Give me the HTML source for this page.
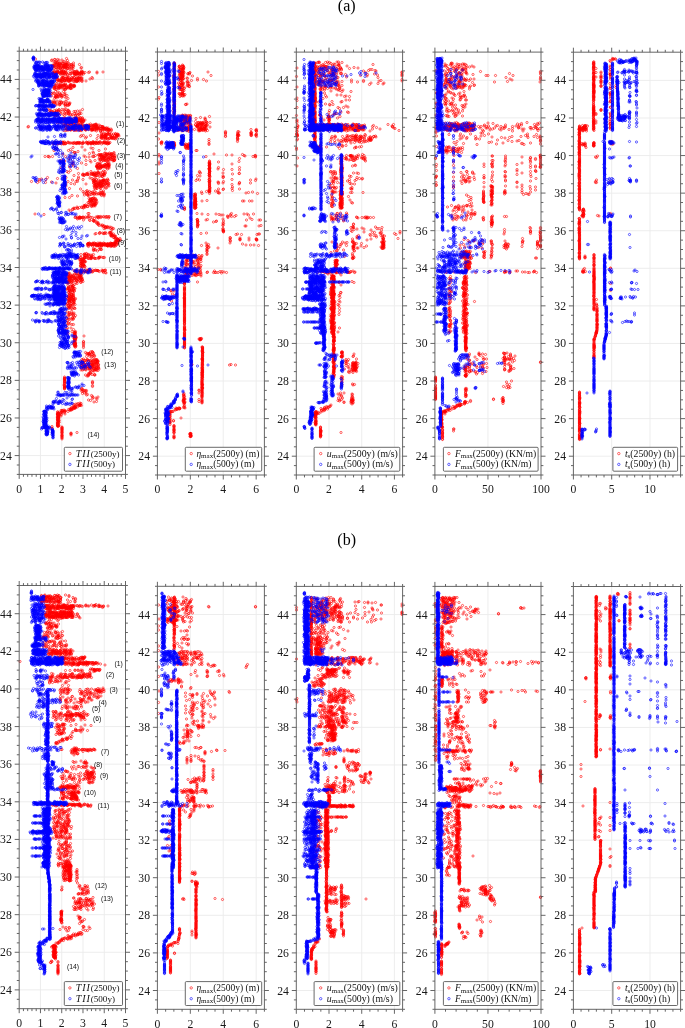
<!DOCTYPE html>
<html><head><meta charset="utf-8"><style>
html,body{margin:0;padding:0;background:#fff;width:685px;height:1028px;overflow:hidden}
svg{display:block}
.tk{font-family:"Liberation Serif",serif;font-size:11.7px;fill:#1a1a1a}
.ttl{font-family:"Liberation Serif",serif;font-size:16px;fill:#000}
.lg{font-family:"Liberation Serif",serif;font-size:10px;fill:#111}
.sb{font-size:7px;font-style:normal}
.an{font-family:"Liberation Sans",sans-serif;font-size:6.8px;fill:#111}
</style></head><body>
<svg width="685" height="1028" viewBox="0 0 685 1028">
<defs>
<marker id="mr" markerUnits="userSpaceOnUse" markerWidth="8" markerHeight="8" refX="4" refY="4" overflow="visible"><circle cx="4" cy="4" r="2.2" fill="none" stroke="#f00" stroke-width="1.2"/></marker>
<marker id="mb" markerUnits="userSpaceOnUse" markerWidth="8" markerHeight="8" refX="4" refY="4" overflow="visible"><circle cx="4" cy="4" r="2.2" fill="none" stroke="#00f" stroke-width="1.2"/></marker>
</defs>
<path d="M40.46 51.20V474.40M61.72 51.20V474.40M82.98 51.20V474.40M104.24 51.20V474.40M19.20 455.59H125.50M19.20 417.97H125.50M19.20 380.36H125.50M19.20 342.74H125.50M19.20 305.12H125.50M19.20 267.50H125.50M19.20 229.88H125.50M19.20 192.27H125.50M19.20 154.65H125.50M19.20 117.03H125.50M19.20 79.41H125.50" stroke="#ebebeb" stroke-width="0.9" fill="none"/>
<path d="M190.32 52.00V475.00M223.25 52.00V475.00M256.17 52.00V475.00M157.40 456.20H264.40M157.40 418.60H264.40M157.40 381.00H264.40M157.40 343.40H264.40M157.40 305.80H264.40M157.40 268.20H264.40M157.40 230.60H264.40M157.40 193.00H264.40M157.40 155.40H264.40M157.40 117.80H264.40M157.40 80.20H264.40" stroke="#ebebeb" stroke-width="0.9" fill="none"/>
<path d="M329.01 52.10V475.00M361.72 52.10V475.00M394.42 52.10V475.00M296.30 456.20H402.60M296.30 418.61H402.60M296.30 381.02H402.60M296.30 343.43H402.60M296.30 305.84H402.60M296.30 268.25H402.60M296.30 230.66H402.60M296.30 193.07H402.60M296.30 155.48H402.60M296.30 117.88H402.60M296.30 80.29H402.60" stroke="#ebebeb" stroke-width="0.9" fill="none"/>
<path d="M487.95 52.10V475.00M434.90 456.20H541.00M434.90 418.61H541.00M434.90 381.02H541.00M434.90 343.43H541.00M434.90 305.84H541.00M434.90 268.25H541.00M434.90 230.66H541.00M434.90 193.07H541.00M434.90 155.48H541.00M434.90 117.88H541.00M434.90 80.29H541.00" stroke="#ebebeb" stroke-width="0.9" fill="none"/>
<path d="M611.69 52.20V475.00M649.97 52.20V475.00M573.40 456.21H680.60M573.40 418.63H680.60M573.40 381.04H680.60M573.40 343.46H680.60M573.40 305.88H680.60M573.40 268.30H680.60M573.40 230.72H680.60M573.40 193.13H680.60M573.40 155.55H680.60M573.40 117.97H680.60M573.40 80.39H680.60" stroke="#ebebeb" stroke-width="0.9" fill="none"/>
<path d="M40.46 585.50V1008.70M61.72 585.50V1008.70M82.98 585.50V1008.70M104.24 585.50V1008.70M19.20 989.89H125.50M19.20 952.27H125.50M19.20 914.66H125.50M19.20 877.04H125.50M19.20 839.42H125.50M19.20 801.80H125.50M19.20 764.18H125.50M19.20 726.57H125.50M19.20 688.95H125.50M19.20 651.33H125.50M19.20 613.71H125.50" stroke="#ebebeb" stroke-width="0.9" fill="none"/>
<path d="M190.32 586.30V1009.30M223.25 586.30V1009.30M256.17 586.30V1009.30M157.40 990.50H264.40M157.40 952.90H264.40M157.40 915.30H264.40M157.40 877.70H264.40M157.40 840.10H264.40M157.40 802.50H264.40M157.40 764.90H264.40M157.40 727.30H264.40M157.40 689.70H264.40M157.40 652.10H264.40M157.40 614.50H264.40" stroke="#ebebeb" stroke-width="0.9" fill="none"/>
<path d="M329.01 586.40V1009.30M361.72 586.40V1009.30M394.42 586.40V1009.30M296.30 990.50H402.60M296.30 952.91H402.60M296.30 915.32H402.60M296.30 877.73H402.60M296.30 840.14H402.60M296.30 802.55H402.60M296.30 764.96H402.60M296.30 727.37H402.60M296.30 689.78H402.60M296.30 652.18H402.60M296.30 614.59H402.60" stroke="#ebebeb" stroke-width="0.9" fill="none"/>
<path d="M487.95 586.40V1009.30M434.90 990.50H541.00M434.90 952.91H541.00M434.90 915.32H541.00M434.90 877.73H541.00M434.90 840.14H541.00M434.90 802.55H541.00M434.90 764.96H541.00M434.90 727.37H541.00M434.90 689.78H541.00M434.90 652.18H541.00M434.90 614.59H541.00" stroke="#ebebeb" stroke-width="0.9" fill="none"/>
<path d="M611.69 586.50V1009.30M649.97 586.50V1009.30M573.40 990.51H680.60M573.40 952.93H680.60M573.40 915.34H680.60M573.40 877.76H680.60M573.40 840.18H680.60M573.40 802.60H680.60M573.40 765.02H680.60M573.40 727.43H680.60M573.40 689.85H680.60M573.40 652.27H680.60M573.40 614.69H680.60" stroke="#ebebeb" stroke-width="0.9" fill="none"/>
<path transform="scale(.5)" d="M133 117l-18 2-5 0-1 0-38-1 32 3 1-1 10 2 4-2 6 0 4 3 7-2 12 5-10 0-2 0-3-2-6 0 0 3-5-1-2 1 0-1-4 0 0-1-2 1-1-1-2-1-2 0-2 7 0-1 2 1 2-2 0-1 2 3 1-2 3-1 0 2 1 1 1-1 1 0 1 1 1-2 1-1 2 3 1-3 2 3 1 0 2-2 0-1 1 0 0 3 1-2 0 1 1-1 0 2 1-2 1 1 5 0 2-1 1 0 1 2 3-1 12-1 4 6-16-2-1-1-7 0 0 3-2-2-3 1-2 0 0 1-1-2 0-1-1 2 0 1-1-3-1 2 0 1 0-3-1 1 0 1-3 0-3 1-1 0-2-1-1 1 0-3-3 1-2 2-4-3 0 2-1-1 1 4 4 2 1-3 3 2 4-1 1 0 3 2 1-2 9 1 1-1 1 0 4 0 3 0 1-1 2 1 16-1 3 7-2-1-9 0-1 1-3 0-2 0-3 0-5 0-9-2-1 2-3-1-1 1-2-1-2 1-3-1-3 1-1 0-7 0-2 1 1 1 1 1 1-2 1 2 1 1 1-1 0 1 0-2 1-1 1 1 1 1 1-2 0 1 4 1 0 1 1-1 1-1 1-1 1 1 1 2 1-3 1 1 2 1 1-1 1 0 2 2 0-2 7 2 2 0 3-1 2 0 1-2 1 2 1 1 1-2 2 2 1-3 1 1 0 1 0 1 2-2 0 2 1 0 2-1 0 1 2-2 0 1 1 1 0-2 0-1 3 1 0 1 4-1 7 0 2-1 15 0 0 2 12-2-39 4-4 0 0 2-4-1-3-1-1 0-2 0 0 1-2 0 0-1-1 0-1 2 0-2-8 1-6 1 0-1-4 0-2-1-1 0-2 0-2 0-3 1-9-1 0 1-5-1 8 6 9 1 2 0 0-1 1 1 6 0 3 0 2 0 6 0 4 0 1 0 8 0 2-2 25 2 1 2-5 1-16-2-1 1-1-1-2 1-1-1-1 0-1 3-1-3-1 3-1-3-1 0-1 2-1 1-5-3 0 2-3-2-1 3-2 0 0-1-3 1-2-2 0-1 0 3-1-2-3 0-1 0-3-1-1 3 0-1-1 0-1 0-1-1-7 2-1 0-2-3 1 7 2-3 0 1 3-1 0 2 1 0 1-2 0 1 1 1 0-1 1 2 1 0 4-1 1 0 0-1 1-1 0 1 2-1 1 0 1 2 3-2 0 2 0-1 1 2 2-1 0-1 1-1 2 0 3 2 2 1 2-3 1 1 0 2 1-3 1 3 1 0 0-1 1-1 1 1 0-1 3 1 1-2 4 1 0-1 0 3 8-1-48 2-16 5 4 1 1-2 5 0 1 2 2-1 0 2 3-1 3 0 0 1 1-1 1-1 1 2 1-3 1 2 8 0 1-1 0 1 1 1 1-2 4 2 1-1 1 1 0 1 0 1-2 0 0-1-1 0-4 0-2 0 0 2-1 1-1-1-1-1-2 1-2-2 0 3-3 0-1-3-4 0-1 2 0-2-2 0-1 2-1-2-1 3-1-1 0-1-1 0 0 2-4-3 0 3-3 0 0-3 0 2-2 0 0 1 0 2 1 0 3 2 1-1 5-2 0 1 4-1 4 0 2 2 1 1 2 0 0-1 2-2 1 0 3 0 3 0 1 0 0 1 1 0 2-1-17 7-16 0-9 4 1 0 3-1 2 1 8-3 3 2 11 0 4 5-4-1-1-1-5 2-1 0-1-3 0 3-1-2-3 1-1 0-3-2-1 3-1 0-1-2-8 3 7 2 1-1 0 1 1 1 1-2 2 1 1-1 1 1 6 0 1 0 5-1 7 4-4-1-23 1-3 5 8 0 6 0 11 1 2 0 7 3-2 0-11-1 0 2-4-2 0-1-1 2-3-1 0 1-9 0 0-2-1 0 0 2-3 0-3-2 0 3 1 4 8-1 2-2 5 2 1-2 0 1 10 1 1-2 0 2 3 0 1-2 1 3 2-2 0 1 1-2-8 5-25 0-3-1-7 6 22 1 6 0 4 0 4 0 33 0-5 3-5 0-4 1-3 0-9 0-2-1-1-1 0-1-5 3-2-2-7 2-4-3-1 2-1 0-2 0-1-2 0 3-4-2-5 2-1-1-3-1 0 1 0 3 4 1 2-1 3-1 2 2 0-1 0 2 9-2 8 1 5 0 3 1 0-3 2 3 1-2 11 2 9 0 3 0-3 1-2 1-2 2-2-3-2 2-6-1-1 1-3-1-3 0-5-1-4 3-2-2-6-1-5 0 0 1-2 2-1-2 0 2-2-3-2 3-1-2 0-1-11 1 13 3 41 0 9 3 5 4 0-3-1 0-3 0-1 2-2-1-1 2 0-1-3 0 0-1-1-1-1 1-1 1-1 0 0-1-1 0-2 0-6 1-1 0-1 1-1 0-1-1-1 0-6-2 0 3-1-1-1 0 0 1-1-1 0-1-1 1-1 1-6 0-2 4 1-3 0 3 1-3 1 3 1-2 0 2 0-1 2-2 2 0 4 0 5 1 1-1 0 1 1 0 2-1 0 1 2 0 0 2 3-2 1 1 0 1 1-1 0-1 2 1 0 1 1 0 5 0 1-1 0 1 1-2 1 1 0-1 2 1 2-1 1 0 1-1 0 2 0-1 1 2 1-1 2-2 1 0 0 2 0 1 3-3-4 4-1 1-2 0-1-1-6 0-4 0-3 1-2 0 0 1-5-1-3-1 0 3-5-3-1 1-1 2-1-3-2 0-6 1-2-1-2 0-4 2 12 3 1 1 1 1 1 0 5 0 0-2 2 0 4 1 0-2 2 1 1 2 3-3 3 3 1-1 1 1 4-3 1 3 0-3 1 3 3-3 0 2 2 1 1-1 2 0 4 1 3-1 2 1 2-1 3 1 1-3 5 3 0-1 1 1 1-1 2-1 1 2 1-2 0-1 1 3 1-1 4 0 8 3 0 2-1-1-1-1-2 0-1-1-6 2-1 0 0-1-2 0 0-1-2 1 0 2-2-3-1 3-1-2-3-1-1 3-1-3-1 3-2-1-1 1 0-3 0 2-2-2-1 2-2-2-3 2 0 1-1-2-5 2-1-2-1 0-1 2-1 0-1-3-2 1-1-1-4 0 0 3-1-3 0 1 0 2-1-3-1 3-1-1 0-1-3 2-4-1-3-2-1 3-4-3-75 1-1 1 75 3 1 1 2-2 0 2 1 0 1 0 1-1 1 0 1-1 0 3 1-1 1-1 0 1 1-2 0 2 2 0 1 0 1-1 2 0 1 1 0-2 0 3 1-1 2 0 2 1 4-2 1-1 0 2 1 0 5 0 5 0 1-2 0 1 0 2 0-1 4-1 2 2 2-1 4 1 0-2 1 2 1 0 0-1 1 1 1-2 1 0 1 2 3-3 1 0 0 2 1-2 0 1 1-1 1 2 1 0 1-2 0 1 2 0 2 0 2 1 1 0 1-2 1 0 0 3 1-3 0 1 1 2 2-1 0-1 1-1 1 0 2 2 1 1 0-3 1 3 1 0 4-1 1 2-1 2-3-2-1 0-1 1 0-1-2 1-2-1-1 0-7 2-3-1-1 1 0 1-8-1-1-2-3 0-3 0-2 0-1 1-11-1-1 0-8 1 0-1-3 1-1-1-4 0-3 1-4 0-6-1-1 0-4 0-2 0-3 1-4 0 75 6 6 0 7 0 0-1 3 0 12 1 6 2-1 2-1-1 0-1 0-1-1 3-1-1 0 1-1-2-1-1-2 3-2-3-4 0-3 2 0-1-2 0-2-1-2 1-1 1-1 0 0-1-1-1-1 3-3-3-2 3-1-2-1 1-7 1-15 0-14 0-4 0-2 2 12 1 29-1 0 2 1-1 1-2 2 3 0-2 2 0 1 2 1-2 0-1 0 3 1-3 0 2 1 0 1 1 9 0 0-2 1 2 0-1 1 1 1-3 1 3 3-3 3 1 2 0 4-1-5 4-2 2-1-2-1 1-2 0-1-1-2 1-2-1-3 1 0-1-2 2-2 1 0-3-3 1-1 1-4-1-3 0-2-1-8 1-23-1 15 7 23 0 11 2-2 1 0 1-1 0-1-2-1 2-1-2-2 2 0-1 0-1-2 1-2-1 0-1 0 2-1-1-2 1-4-2-1 0-1 0-1 3-1-1-1 0-1-2-1 3-1-2-1-1 0 3-1-2-2 0-2 0 0 2 0-1-1-1 0 1-1 0-2 1-1-2 0 1-1 0 0 1-3-3-1 2-1 1-1-1-1-1-1-1-1 2-5 0-1-2 0 2-1 1-1 0-4-2 0 1-1 1-1-1-1-1 0 1-2 0-1-1 0 1-1 1-1 0-2-1-1-1-2 2 0-1-2 0-3 0-2 0-2 0-2-1 0-1-4 3-1 0 0-1-2-2-1 3-1 0 0-2 0 1-1-2-1 1-1 0-3 1-1 1 0-2-2 1-1-1-3 0 0 2-2-2-2 0-1 1-1 1 0-2-2 2 10 1 7 0 4 0 3 0 46 0 6 0 7 0 14 0 12 0-51 6-18 1-33 2 28 2 41-3 4 1 25 1-13 3-28-1-14 3-11 0-8-2-29 0 41 4 1 1 0-1 29 2 7-3 1 2 22 1 1-1 3 1 6-1 5 1 4-2 0 2 2 4-4-2-2 2-1-3-1 0 0 1-1 0-2-1-1 2-2-2-1 1-1 0 0 1-2 0 0-2-4 3-4-2-1 1-1-1 0 2-1-1-1 0-1 1-1-2-1 1-6 1-65-3-36 5 6 0 1 0 2 1 6-1 26 0 10-1 27 0 3 2 7 0 7-1 2 0 1 0 11 2 4-3 0 3 3-2 0 2 0-1 1-1 0 2 1-1 1 1 1-3 0 2 2 0 1 1 2 0 3 0 3-2 1 1 1-2 1 3 1 0 1-1 2-2 0 3 1-1 1 0 0 4-6 1-1-1-2 0-3-2-1 2 0 1 0-3-6 2-2 1-2-2-2 0-1-1-2 0-1 2-3 0-60 0-16 3 7 1 43-1 8 0 10 0 10-1 1 0 2 3 1-3 2 1 2-1 2 1 1 0 2 0 1-1 2 2 4-2 6 0 0 2 2-1 0-1 1 0 0 1-11 5-2-1-2 2-16-1-3 1-13-3-19 2-17-2-18 7 16-3 2 0 26 1 22-1 1 3 2 0 1-2 2 0 0-1 2 2 5 1 2-1 1-1 1 1 2-2 0 3 2-2 1 1 0 1 1-2 1 2 1-2-1 3 0 2-1-2-5 1-1 0 0 2-2-2-2 0-1 1-1-1 0-1-2 2 0-1-1 1-1-2 0 3-1-2-1 2-4-1 0-1 0 2-1-1 0-1-1-1 0 1-46-1-8 2-16 2 32 1 40 1 2 0 1-2 3 1 0-1 13 0 1 2 3-2-8 7-3-1-25 1-41-2-7 2 3 2 20 2 17 0 2-1 7 0 4 1 2-2 3 1 1 1 3-3 0 2 0-1 2 1 3 0 4-2 6 2-2 2 0 3-1-2 0-1-1 0-1 1-2 1-4-2-1 3-5-3 0 3-1 0-2-3-1 3-1-3-1 0 0 1-1 1 0-2-1 0-1 0-1 1-1-1-4 2-3-1-1 0-2 0-1-1-3 2-1 1 0-1-2-1 0-1-1 2-17 1-53 4 37 0 25-1 33-1 2-1 7 1 5 0 1 0 0-1 10 6-22 1-1 0-4 0-1 0-3-2-4-1-14 3-9-2-42 0-23 2-9-1-5 1-15 4 16-1 57 1 9-3 7 3 3-3 0 3 31-2 1 1 1 1 1-1 1-1 7-1 3 2 2 0 1 1 0-1 3-2 0 2 0-1 1 0 0-1 0 2 1-2 0 2 2-2 2 1 1 1 3-2 0 1 2 6-2-2-3 0-1 2 0-1-1 1-4-2-1 1-1-1-1 0-1 2-1 0-2-3 0 3-2 0-1-3 0 2-3-1-2 0-1 0 0-1-1 3-2-3 0 3-1-1-45 1-30-1-9-2-12 1-16 0 57 3 17 0 23 0 18 3 0-2 2 1 1-1 1 2 1 0 1 0 1-3 1 1 0-1 2 0 0 3 2-1 2-2 0 2 3-1 1 1 3-1 2 2 3-3 1 0 1 4-2 0-9 2-1-2-1 0-3 0 0 1-1-1-2 2-5-2 0 1-2 1-2-2-1 2-1-2-56 0 7 5 22 1 28-1 2 1 3-1 0-1 6 0 1 0 10 0 2 0-6 6-5-1-14 2-9 0-5-2-2 2-6 0 2 3 5 0 2-2 2 1 5 0 3-1 0 3 2 0 3 0 2-2 6 2 2-2 3 1 2 1 0-2 1 0 3 3-1 2-1-2-4 1 0 2-2-3-1 0-4 0-3 0-4 1-3-1-4 1-3 1-3 1 0-1-1-1-2-1-4 2-25 1-14 4 9 0 16-3 53 0-17 5-2 1-1-2-1 0-2 2 0-1-1 0-2 1 0 1-1-1-1 1-2-2 1 5 1 1 0-1 2 0 1 0 1 1 0-1 2-1 0 1 4-1 1-1 1 0 1 0 1 4-1 3-2 0-1-1 0-2-2 2-3 0-7-1-2 0-8 6 3-1 0 1 6-1 3-2 3 0 0 3 1-2 2 1 2-2 0 2 1-1 1 1 1-1-1 3-3 0-3 0-1 1-7 0-1 0-4 0 0 1-2-2-1 1-1 2-3 0-1-1-4 1-5-1-9 4 1 1 2-2 0-1 3 1 4-1 1 1 11-1-26 6-3-2 38 7 2 0-90 2-18-1 80 7 1-1 4 0 4 0 0 1 1-1 0 1 2 0 2 0 1 0 1-1 1 1 4-1 4 1 1-2 1 1 2-1 3 2 3 0 7-1 3-1 1 2 0-1 2-1 3 0 0 2 2-1 4-1 1 1 4-1 0 2 2-2 4 0 0 1-1 2-20 0-8 1-19-1-9 0-1 0-1 1-3-1-1 2-1-2 13 4 12 0 1 1 6 0 1 0 1 0 0 2 0-1 4 0 4 3 0 2-2-1-1 0 3 3 1-1 1 3 4-1 3 0 18 5-3-1-3 1-2-2 0 2-1-1-2 0-1 1 0-1-2-2-2 0 0 1-3-1 4 5 3-1 10 1 3 2 1-2 2 0-35 10 7 0 0-1 1-1 5 1 2 1 1 0 1-1 2-1 1 2 7-2 0 2 1-2 1 1 1-2 0 1 5 3-2 2 0 1-1-2 0 1-2 1 0-1-32-2 32 4 1 0 4 3 1 0 1-3 0 1 1 0 1-1 9 5-3 2-2 0 0-1-1-1 0 1-2 1-1-2-1-1 0 7 2 0 0-1 1 0 1-1 2 1 0-2 1 1 0-1 2 1 2-1-5 5-1 1-3-2 0 2-2-1 0 2-1 0-3 0-2 0-1 0-2-1 0 1-5 0-6 0-3-1-4 1-2 0-1-1-4 0-4 1-3-1 0 1-3-1 0 1-7-1 0 1-2 0-1 0-1 1 0 3 1-2 0-1 1 2 0-2 1 0 0 2 3-2 1 1 1 0 0 1 0-2 2 0 2 1 0 1 1-1 3 1 1-2 0 1 1 1 0 1 2-2 1 2 0-1 1 0 0-1 1 1 0-2 1 0 1 1 0 1 1-2 1 2 1-1 0 2 1-2 1 1 1-2 1 0 1 1 0 1 1-2 0 2 2 1 1-1 0-1 1-1 1 2 0 1 1 0 0-3 0 2 0-1 1 0 0 1 1 1 1-1 0-1 1-1 1 2 0 1 2-3 0 2 1-2 0 1 1 2 1-3 0 3 0-1 1-1 1-1 0 2 1-2 0 1 1 2 0-3 0 1 1 1 2-2 1 2 3-2-5 4-3 1-4-1-1 0-2 1-5-1-1 0-11 0-1 0-4 0-3 0-4 0-7 0-8 1 10 4 0 2 3 0 8 0 2-3 1 2 1 1 1 0-8 3-4-2-3 0-1 1-14 6 14 2-3 1-4 0-3-1 0 2-1-1-3-2 0 3-2 0-1-3 0 3-1 0 0-3-1 1-6 0-7 6 6 0 1 0 6 0 1 0 1 0 2 0 2-1 2 1 6-1 0 1 1-3 0 3 1-1 13 1 1 0 1-1 0 1 3-1 4 1 1 0 2 0-12 2-5 0-2 0-1-1-1 0-5 1-1 0-1 0-3 0-2 0-7 0 0-1-2 1-1 2-3 0-1 0-3 0-1-3-4 0 7 4 0 3 2 0 2-3 0 1 1 2 1 0 0-3 2 2 2 1-1 1-1 0-4 0-2 0 0 2-1 0 0 1-1 0 0 4 2-1 1-1 1 0 1 0 1 0 0 1 1 1 0-1 2 3-1 0-3-1-1 1 0 2-1-2-2 1-1-2 10 7 8 0 32 1-1 1-1 0-3 0 0 2-1-1-1-2-5 3-2-1-1-1-1 0-1 0-1 0-2-1-1 1-3 1-2-2-1 3-3-2 0 1-2 1-2-1 0-2 0 1-1-1-3 2-1 1-1 0-2-2-3 1-1 0-4 1 0-2-1 2-1-2-5-1-1 2-2 1-1 0-2-2-10 5 1 1 13 0 4 0 3-1 1-1 1 2 2 0 0-3 3 0 4 0 4 0 8 0 3 0 22 1 4 0 1 1-50 5 0-1-3 1-3 0-2-1-2-2-3 0-2 3-3-1-3 1-4-2 0-1-2 0 0 4 0 2 2-1 1 0 0 2 1-2 0 1 1 0 2 1 0-1 1-2 0 1 3 0 2 2 0-3 1 3 3 0 4-1 3-2 0 3 1-3 0 1 1 2 1-3 1 3 1 1 0 3 0-1-2-1-1 1-2-2-2 3-1-2-3 0-1-1-1 3-1-2-2 0-2 1-2-1-3-1-1 3 0-2-2 2-1-3-2 3 2 4 1-3 0 2 0-1 1-1 3 0 2 1 0 2 2 0 2-2 5 1 0-2 1 1 1 2 4-2 1-1 3 2 2-2 1 3-4 2-1-1-7 3-2-2-9 0-1-1-3 0 0 1-1 0-2-1 0 1-2 1-1-1 3 6 8-2 2 2 1 0 2-2-3 5-1 0-1-2 0 2-3-2-1 1-3 1-2 3 1 1 0-1 1-1 1 1 1 1 3 0 4 1 0-3 1 3 1-2 2 0-1 5-1 0-2-1-3-1-1 0-1 2-1 1-1-2 0 1-4-2 2 5 1 0 1 2 6-3 1 1 1 3 0 3-1 0-2-2-1 1-1-1-2-1-1 3-1 0-5 4 3-2 1-1 1 3 2-1 1-1 0 1 1 0 2-2 2 1 1 2 0-1 4 3-1 2-2-1-2 1-1-1 0 1-1-2-2-1 0 1-2 2-1-3-1 3-1-1-2-1 2 5 1-1 1 1 0-1 1-1 0 1 2 1 1-1 0 2 4-3 1 2 0 1 0 3 0-2-1 3-1-2-4 2-3-3 0 1-2-1-2 3-2 2 2-1 2 3 1-1 3 0 0 1 1-1 2 1 2-2 4 0-3 6-7-1-1-1-2 1-2 1 2 2 1-1 2 0 3 1 2 1 4-2 1 1-7 6-8 1 3 1 0 2 5-1 5 0 3 5-4-3-2 0-1 2-4-1-2 0 0 1-4 2 4 3 9-3 2 2-2 4-1-2-1 0 0 3-2-1-5 0-2 0-3-2 1 5 5 2-2 3-4-2 1 7 2-3 4 0 4 1 3 0-14 9 2-2 7 0 5 3 4 4-7 0-10 0 0 3 2 1 12-1 1-1 1 0 0-1 0 2 1 1-1 2 0 2 0-1-1-1 0-1-1 6 0-2 1 1 0-1 0 2 0 1 1-3 0 2 1-2 0 2 1 1 0-1 16-2-16 4-1 3 0-3 0 2 0-1-1 0 0-1-1 1 0-1 0 2-1-1 1 4 0-1 1 2 1-1 16 2 0 1 0 3-16 0 0-1-1 1 0-3-1 1 0-1-1 0 0 3 0 1 0 1 1 0 0 2 1-3 1 3 0-1 0-2 16 1 0 3 0 3-15-3-1 2-1 0-1-2 35 11-13 2 2 2 2 0 3 0 1 0 2-3 4 0 1 1 1 2 2 4-2 0-2-2-3 0-3 0 0-1-2 0-1 0-3 5 6-1 4 3 1-2 5 0 5 6-2 0-3 0-15 0-7-1-3 1-2 4 3-2 3 0 2 0 3 0 2-1 1 0 2 1 3 1 0-1 3 1 2 0 1-2 1 0 4 0 1 2 1-1 0 1 1 1 1 0 0-1-1 3-1 1-2 1-1-3-1 0 0 2-1 0-3-1-2 2-1-2-1-1-11 1-3-1-2 2-2-1-1 6 1-1 1-2 1 2 4 0 0-1 3 0 4 0 0-1 1 0 2 1 2 1 2 0 0-1 1 1 0-1 2-1 0 3 3-2 3 0 2-1 2 2 0-1 0 6-1-2-1 2-2-1 0 1-1-1-2-2-3 1-2 2 0-3 0 2-2 1-1-1-1 0-2-1 0 1-4-1-2 0-1 1-1-1-1 0 0-1-1 1-1 2-2-2 0 1-4-2 1 4 4 3 2-2 2 2 4-2 2-1 1 0 1 1 0 1 4-2 5 1 0 1 2-1 0 2 1 0 1 0 0-1 1 1 4-3 1 2-2 3-3 0-5 1-2 0-1-1-3-1-2 1-8-1-7 0-3 0 15 7 2 0 1-2 1 1 0 1 9 3-1-1 0 1-5-1-6 0-1 0 0 2-6-1-42 4 45-2 2 0-46 5-1-1 0 1 0 2 0-1 0 2 0 3 0-1 1 1 55 0 0 3 0-1-56 1 0-1 0 2-1 3 1 0 0 1 56 0 0 2-55 1-1-1 0 2 0-1 0 2 0 2 0-1 34 1 1-1 1 2 8 2-1 2-1-2-2 0-2 0-1 1-2 1-2-3 3 7 4-1 3 0 11 5-8-2-2 1 12 3 1 2 10-1-2 4-2-2-7 1-8 3 4 1 12 2-5 1-26 3-2-1-4 1-9 4 1-2 4-1 2 1 4 1 1 1 0-1 1-1 0 2 0-1 1 0 2 1-8 3-2-1-2 1-1-2 0 2-1 0 0 1-2-1-4 1-6 4 3-1 0 1 1 0 1-2 1 2 1-3 0 2 2 0 1-1 1-1 1 0 1 0 1 0-8 4-3 1-4 2-5-1-1 0-1 1 0-1-1-2-2 2-1-1-1 0-1 2-1-2-7 3 0 3 1-3 0 3 1-1 0 1 1-1 3 1 1-2 2-1 0 2 5-1 1 3-7 1-4 0-1 2-1 0 0-3 0 2 0-1-1-1 0 2 0-1-1-1 0 2 0-1 0 4 0 2 0-1 1 1 0-1 1 1 0-1 1-2 4 0-4 4-1 1 0-1-1 1 0-1-1 2 0 1 0 4 0-3 1 0 0 1 1 0 1-1 0 1 0 4 0-1-1 0-1 3 0-1-1-1 0 2 0-1 0 3 0 2 0-1 1 1 0-1 1-1 1 2 6 3 0 1-7-3-1 1-1-1-11 1 0 4 0-1 20 2 0-1 0 2 0-3 0 5 0-1 0 3 0 2 0-1 0 2 18 0 0 1 12-2-12 3 0 2-18 0 0 1 0-3 0 4 0 1 0 2 0 1 0 2" fill="none" stroke="none" marker-start="url(#mr)" marker-mid="url(#mr)" marker-end="url(#mr)"/>
<path transform="scale(.5)" d="M67 114l0 1 1 1-1 0 0 2 0-1 0 2-1-3 0 1 1 3 28 5-2 0-1 0-1 1-3 0-3-2-5 1-1-1-2 2-1-2-3 1 0-1-1 2-1-1-1 4 0 2 3 0 1-1 1 1 1-1 1 1 2 0 11 0 1-1 1 1 2-2 0 2 2-1 2 1 4 0 3 2-1-1-2 0-1 1-4 2 0-3 0 2-1 0 0-1 0 2-1-1 0-1 0-1-1 1 0 2-3-2-1-1-1 1-2-1-1 3-1 0-1-2 0 2-1-1-1 1-1-3-2 2-1-2-2 0 0 1 0 2-1 0-1-2-1-1 0 2-1-1-1-1 0 1-1 1 0-1 0 2-2-1 0-1 0 3 1 1 1 2 1-2 0-1 2 3 0-1 1-2 1 1 1 0 1-1 1 1 1 2 1-2 0-1 1 0 1 0 0 1 2 2 0-3 1 3 1 0 0-1 1-1 0 1 2-1 0 2 1-3 0 1 0 1 2 0 2 1 1-3 0 3 1-2 1 1 1-2 3 2 2 0 0-1 0-1 1 2-2 2-1 1 0-1-1 1-1 0 0-1-2 0-1 1 0-1 0 2-1 0-1-1-4-1-2 0 0 1-2 0-1 1-2-1-3 0 0 1-3-2 0 1-2 0-1-1-1 1-1 1-1-2 0 1-1 5 0 1 3 0 6-1 1 1 4-1 4 1 1-1 0 1 1 0 1-1 1 1 2 0 1-1 2 1 1 0 2-1 1 1 3-1 1 0 8 3 0-1-2 2 0-1-3 2 0-1-1-2-4 3 0-3-1 2-2-1-2 1-1 1-1-3 0 2-1-2-1 2-1-1-1-1 0 1-1-1-1 0 0 3-1 0-1-1 0-2 0 3-1 0-1-2 0-1-1 3 0-3 0 2-1 0-2 0-2 0 0-1-1 0 0 2-1-1-1 1-2-2 0 2-1-1 0-1 0 2-1-1-1-1-1 2-1-3-1 2-1 1-1 2 5-1 1 2 0-1 1-1 0 3 1-2 0-1 2 2 1 0 1-1 0-1 2 3 0-1 1-2 0 2 1-1 0-1 0 3 0-1 1-1 0 1 3-2 1 1 1 2 0-2 1 1 2-1 0 2 2 0 2-1 2-2 0 2 1-2 0 3 1-2 2-1 0 2 3 1 1 0 1-3 0 3 0-1 1-2 1 0 1 2 1-1 0 2 1-1 1 1 0-1 1-2 1 1-5 3-3 0-8 0-2 0-4 3-8-3-11 0-4 0 1 6 2-2 0 1 2 0 1 1 0-1 0 2 3-3 2 0 3 3 1-1 0-1 1 2 1-3 0 1 1 0 1 1 1 1 3-1 1 0 0-1 6 1 1 1 2-1 0-1 0 2 2 0 0-1 3 1 1-3 0 1 0 2-3 1-1 1-1 0 0 2-1-3 0 1-1 0 0 2-3-2 0-1-1 2-1-2 0 3-2 0-1-2 0 2-1-2 0 1 0-2-6 1 0-1 0 3-1-2 0 2-1-3 0 3 0-1-1 0-4 0-1-1 0-1-1 1 0 2-1-1-1 1 0-3-1 0-1 0 3 4 1 0 0 3 1-2 1 1 0-1 2 1 1-1 2 2 1-2 1-1 0 2 0-1 1 1 0 1 1-2 0-1 1 0 1 1 0 2 1-3 0 3 1-2 0-1 1 3 1-3 1 1 0 2 3-2 0 1 1 1 0-2 1 2 0-3 1 3 1-1 1-2 1 1 2 0-4 3 0 1-1 2-2-2 0 2-1-3-1 0-1 0 0 1-1-1-2 0-4 0-2 1-3-1-7 0-1 0-11 7 16-1 6 0 1-1 2 2 1 0 3 0 1 0 1 0 3 1 0 1-2-1 0 3-1-2 0-1 0 2-2-1 0 1 0 1-2-2-1 1 0-1-1 0-1 0 0 2-1-3 0 2-2-1-1 2-1-2-2 1 1 5 1 0 1-3 0 3 2-3 2 3 1-2 1-1 0 3 1-2 2 2 2-3 0 3 1-1 0-1 3 0-2 3-1 3-1 0-1 0 0-3-2 3 0-1 0-2-1 0 0 1 0 2-1-2 0 2-2-2 0 2-1-3 0 2-1-2-1 1 0 2-1 0 0-1-1-2 0 1 1 4 0-1 1 2 1-1 0-1 5 0 0 2 4-2 2 0 2 0-5 7-1-1-1 1-10-1 0 1-1-1 0 1-1 0-1 0 0-1-2 1-1-2 1 6 2-1 0 1 1-2 0 2 1-1 0 1 1-3 0 1 1 0 1 1 0 1 1 0 1-2 1 1 1 0 0-1 1 1 2 0 0-1 0 2 1-2 1 1 0-1 0 2 0-3 1 1 0 2 1 0 1-3 1 2 1 1 0 1-1 1-1 0-4-1-1 0-5 2 0-1-1 0-2-1-2 1-2-1-1 2-8 5 1 0 4 0 1 0 0-1 1 0 1 1 4-1 0 1 2-1 1 1 2 0 2 0 1-1 1 1 5 0 1 0 2-1 1 1 1-3 0 3 1-1 1 1 3 0 1 1-1 1-1-1 0 2-3-2 0 1-1 0 0-1-2 0-3 0 0 1-1-1-3 0-1 2-1-2 0 1-2-1 0 1-1 0-1 0 0 1-1-1-1-1 0 1-2-1-1 0 0 1-1 0-2-1-1 0-1 1 0-1-1 1-1-1-5 0 8 6 1 1 3-1 1 0 1 1 2-1 0 1 5 0 0-1 10-2-8 5-1 0 0-1-1 1-2-1-1 0-1 0 0 1-2-1-4 0-2 2-1-2-2 0-4 7 5 0 2-1 2 0 9 1 2-2 6 2 0-1 3 0 1 0 0 1 2 0 3 0 1 0 1 0 1-1 0 1 1 0 1 0 3 0 0-1 3 4-1 1-3-2 0 2-1-2-1 2-3-1-2-2 0 2-1-1 0 1-1-1-1 1-1-2 0 1-1 2-1-2-1 0 0 2 0-1-2-1 0 2-1-2 0 2 0-1-1-2 0 1 0 1-1-2 0 1-1-1-1 1-1-1 0 1-1 0-1 0-1 2-1-1 0-1-1-1-1 2-1-2 0 3-1-2 0 2-1-2 0-1-1 3-1-2 0 1-1-2 0 1 0 1-1 0-1-1 0-1-1 2-1-1 0-1-1 0 0 1-1 2-1-2 2 3 2 1 1-1 3 0 3 0 5 0 4 0 3 0 1 0 11 3 2-3 6 3 23 0 13 3 0 1-1-3 0 1-1 1 0-2-2 3-2-2-2 2-1 0-2 0-1-3-1 1-3 2 0-3-1 0 0 2-2 0 0 1-1-1-1-1-1 2-1-2 0 2-1 0-3-1-1-1-1 0-1 1 0 1-1 0-1 0 0-1 0-1-1 1 0-1-1 1-1 0 0-1 0 2 0-3-1 1-2 2-1-1 0 1-2-3-2 3-1-1 0-1 0 2-1-1-1 0 0-1 0 2-2 0 0-1-1 1-1-1-4-1 0 2-1 0-1-1-2 1-1-1 0 1-2 0-1-3-2 3-2-1-1-2-1 2-1-1 0 2-3 0-2-2-1 2-1-1 0 1-1-2 0 2-1-1-1 1-1 0-2 2 2 0 1 1 1-1 2 1 0-1 2-1 2 1 0 2 0-1 1 0 1-2 0 3 1-3 0 3 1-3 0 2 1 0 2-2 3 1 0 1 0-2 1 1 0-1 3 2 2-2 1 1 1-1 0 3 2-3 0 1 0 2 1-3 1 0 2 1 0 2 1-2 0 1 0-2 3 1 1 0 1 0 0 1 1-2 0 3 3 0 0-1 1-2 0 3 0-1 1 0 1 0 1-2 0 1 0 2 1-2 0 2 0-1 0-2 1 2 1 0 0-1 0 2 1-1 4-1 3 0 1 1 1-2 1 1 1-1 1 0 3 0 0 2 2 0 1-2 0 3 1 0 2-3 0 3 2-2 0 1 1 1 1-1 0-1 1-1 0 2 1 0 0 1 1 0 1-2 1 2 0-1-1 2 0 1-6-1-1 1-1 0 0-1-1 0 0 1-3-1-1 0 0 2-1-1-1-1-2 0-1 1-2 0 0-1 0 3-1-3-1 0-4 0 0 3-1-3-3 0 0 2-2-1-3-1-1 1-5 1-1 0-2-1-1-1-2 1 0-1-5 2-1 0-1-2-2 1 0-1-2 2-2-1-1 0-1 1-3-1 0-1-2 1-3-1-1 1-1 1-3-1 0-1-2 1-4-1 6 6 1 1 3-1 4 1 2 0 11 0 11-1 1 1 6 0 2 0 5 0 8-1 8 1 7 0 5-1 1 1 4-1 13 1 5 0 3 1 0 2 0-1-1 0-1-1 0 2 0-1-1-1-1 0-1 3 0-3-1 0 0 1 0 2-1 0-3 0-5-2 0-1-1 3 0-3-2 1-1 1-1 0 0-1-3 2-2-3-1 3-2-3-1 0 0 2-2-1 0 2-1 0 0-2-2 2-2-2-2 2-2 0-1-2-2-1-3 2-3-2 0 1-1 1-1 0-3 0 0-1 0 2 0-3-3 2-1-1-2 0-1-1 0 2-2-2 0 1-2 0-1-1-1 2 0 1-1-2-3 0-1 0-1 2-4-2 0 1-1-1 0 2 0-1-1-2 0 2 0-1-1-1-1 3-1-2-2 1 0 1 0-3-1 2-1 1-1 0-1-2-2 0-2 0-1 2-2 0 0-1-1-1-2 1 0-2-1 2-2-1-5 3 1 0 5 2 3 0 1-1 0-1 1 3 0-3 1 0 1 3 0-2 1-1 2 0 0 3 3-2 2 1 2-1 0 2 1-1 2-1 1 0 0 1 1 1 0-1 3-1 1 1 7 0 1-1 1 2 1 0 1-2 1-1 0 3 3-3 2 0 1 2 3 0 4 0 5 0 2 1 2-1 1-1 0 1 1-2 1 3 1-1 1-2 1 0 2 0 0 1 1 0 2 1 3-1 0 2 2-3 4 0 0 3 1-1 4-2 1 2 0-1 1 0 0 2 1-1 7 0 1 0 1-1 2 1 1 1 0-3-20 5-9-1-22 0-9 0-3 0-13 0-2 0-5 1-6-1-3 1-5-1 50 8 0 2-1 1-4 0-3-2-1 1-25 4 13-1 12 0 4 0 5 0-49 10 5 0 0-1 4 1 2-2 1 2 3 0 1 0 8 0 5 0 2-2 9 2 1 4 0-1-1-2-3 1 0 2-2-2 0-1-2 0-1 3-1 0 0-2-1 2-1-2 0 2-1-1-1 1 0-1-3-1-1-1-3 3-1-1-1-1-1 1-2-1 0-1-3 3-1 0-1 0-1 0-1 0 0-3-1 2-1-2-1 2-2-1 0 1-1-2 0 1-1-1-1 0 16 4 3 0 7 0 8 0-2 5-2 2-1 0-1-3-3 1-1 2 2 2 0-1 3 2 1 1 2-3 1 1 1 2 1 0 5 2-4 1-5-2 3 6 10 0 17 0 9 3 0 2-13 0-13-2-7-1-5 0-2 0-49 6 2-2 54 1 7 2 14-2 3 0 4 1 0-2 2 3 2 0 9 1-4 3-10 0-4-1-3-1-4-1-7 3-11 3 3 1 1-2 0 2 2 0 3 0 2 0 0-1 0-1 0-1 9 2 5-2 17 1-3 6-7-3-1 3-3-2 0 2-4 0-2-3-10 2-1-1 0 1 0 1-1-3 0 3-3-3-2 2-1-1 0 3 3 0 2 3 2-3 0 2 0 1 2-3 10 3 11 0 1 3-9-2-1 2-12 1-2-2-1-1 0 1-5 2 0 4 4-2 1 1 1-2 0 2 0 1 1 0 2 2-2 0-1 1 0-1 0 2-1 0-1 0-2-1 0 1-5-3-1 4 2 1 2 1 4-2 2 1-61 10 6 0 52-2 2-1 3 2 0-1 0 2 0-3 1 0 0 2 0 5-1-3 0 2 0 1-1 0 0-1-3-1 0 2-1-1-33 1-17 0-4-2-2-1 3 5 0-1 1 3 12-3 45 1 0-1 0 2 1 1 1 4 0-3-1 1-1-1 0 2 0-1 0 2-1-1 0-1-23 0-18 0 37 5 0 1 1-2 3 1 1-2 0 2 0-1 0 2 1-3 1 2-1 2-1 2 0-2 0 3-1 0-2-2-1-1 0 2-3 3 2 1 1 0 1-1 3-1 1 3 1-1 0 3 0 2-1-3-1 0 0 2-1 0-8-1 5 6 1-2 1 0 2 1 0-2 0 1 1 1 1-2 0 1 2 0-4 3-16 6 1 1 1 0 0-3 1 1 2 1 1 2-1 1-1 1-1 1 0-1-1-2 0 2-1 2 1 3 1 0 2-3 0 3 1 0 1 2-1 1-1 0 0 1-1-2 0 2-1 0-1-3 0 2-1 1 3 3 0 1 1-3 0 2 1-2 0 3 0 1 0 1-3 0-15 5 2-1 1-1 3 3 5-1 1 0 2 5-8-3 9 7 2 0 4-2 1 0 8 0 2 0 8 2 3-1 3 1 5 1-2 2-6-2-7 1-1 0-3-1-2 2-54-2 5 4 37 2 5 1 3 3-1-1-1 1-1 1-1-1-1-1 0 2 0-1-1 0 0 1-1-1-1 1-1-2 2 5 5-1 0 2 3-1 2 0 0 2-2 1-1 0-1 1-2-2 0 2-1-1-1 0-1-1-2 1 44 8-6 1-10-1-14 0-2 6 5-1 4 0 1-2 4 0 8 0 6 1-12 4-12-1 9 5 8 0 23 6-23 0-10 0-23 4 6-1 0-1 3-1 15 3 21-3 9 0-11 5-6 0-13-1-11 2 29 9 0-1-1 1-4 0-1 0-19 0-8 0-1-1-7 1 1 2 0-1 0 2 5-1 10 1 2 1 3-2 5 2 2-1 1-1 0-1 11 0 0 3 1 0 4-1 0 1 1 0 0 1-6 1-7 0-6-1-5 0 0 1-11 0-2 0 0 1-10-2 16 7 2 0 6 1-4 1-2-1-4 0 2 7 2-2 2 1 0 1 3 0 1-3 13 5-2 1 0 1-1 0-1 0-1 0-1-1-1 1-1-3-2 1-3 0-1-1-1 1 0 2-2-1 0 1-1-3-1 2 0-1-4 0-2 1 0 1-3-2-3 0-4 1 0 1-2-1 0 1-3 0-1 0-3 0-1-3-1 3-2-1-1 0-3 1 0 2 0 2 2-2 0 2 1-3 1 0 1 0 0 2 4 0 1-1 2 0 2 0 2-1 3 2 2-1 0-1 2 3 3-3 2 1 1 0 0-1 1 3 1 0 3-3 1 2 2-1 1-1 1 2 0-1 1-1 0 2 2-1 3 0 0 2 3 0 0-3 1 0 1 1 1 2 0-2 1 2-4 2-2 0-13-1-3 1-1-1-15 0-1 1-7-1 13 4 1 2 1 1 2-2 1 1 4 0 3 0 0-1 2-1 0 3 3 0 3-1 1 4-1 1 0-1-1-2-2 1-1-1-1 1-4 2-4-3-1 3-2-1-2 0-1 1 0-2-2-1 2 5 2-1 0 3 0-1 1 1 0-2 2-1 1 1 1 2 2-3 0 3 4-2 0 2 3-3 1 3 1-1 1-2-23 7-22 0-7 0-7 2 1 2 1-1 1-1 0-1 1 1 1 0 1 2 0-3 2 0 2 3 0-1 1-1 1 1 1-1 1 1 0-1 1 0 0-1 2 0 1 1 1 1 1-2 1 2 1 0 0-2 1 2 1 0 1-1 1-1 0 2 1-1 0 1 1-2 0 1 0 1 3-2 1 1 1 0 0 2 1-1 0-1 0-1 2 2 0-2 0 1 1 1 2-2 1 1 1 1 1 0 1-1 0 1 1-1 1 1 1-1 0 1 1-2 1 1 2-1 0 2 1-2 1 0 0 1 1 1 0-1 1 1 0-2 1 2 0-1 3 0 1 1 11 1 9-1 15 1 2-1 0 1 1 4-4 0-7-1-1-1-5 0-1 1-1 1-1-2-1 2-5-1-2 1-1-3-1 2-2 0-20 1-2 0-1 0-1 0-2 0-1-1-3 1-1-2 0 2-2 0-3 0-1 0-6 2 1 1 0 1 1-2 1 1 1-1 0-1 1 0 1 0 0 1 2-1 0 2 1 1 0-3 1 3 0-3 1 0 0 1 0 2 1-1 2-1 2 2 2 0 2-2 1 2 1-2 1 2 1-2 0-1 1 3 2-2 0 2 1-1 20-2 7 2 1 0 5 0 7-2 2 1 0 1 3-1-45 5-1-1-2 1-1-1 0 2 0-1-1 0-2 0-1 1 0-3-1 0 0 1-1 1 0 1-1-2-3 2-1-1-1-1 0 2-1-1-1-2-1 0-1 0-1 1 0 1-1 1-1 0-1-1-2-1 0 1-3 1 0-1 0 3 0 2 1-3 3 3 1-2 3 2 2-2 3 1 1 0 1 1 4-2 0 1 1-2 0 2 1-1 5 2 1-3 1 6-1-2-1 2-1-2 0 1-2 0-2 2-1-2-1 0 0-1-1 1 0-1-1 3 0-1 0-1-2 0-1 1 0 1-1-1 0-2-1 2 0-1-1 1-1 0 0-1 0-1-1 0 0 2-1 1-1-3 0 3-2-2 0-1-1 3-1-2-1 0-35 6 1 0 1-1 1 0 4 1 5 0 1-1 7 1 3-1 11 1 1-3 2 2 3 1 0-3 1 2 1 1 1-2 0 2 0-1 1-2 0 3 1 0 1 0 1-1 0-1 1 2 0-1 2-2 3 2 0-1 0 2 1-1 0-1 0-1 2 3 2-3 0 3 0-1 1-1 3 2 2 3-3-1-1-1-1 0-1 0-2 2-1-2-1 0 0 1 0 1-2 0-1-2-1 2-2-2-2 1 0-1 0 2-2-2-4 1-1 1-1-2-2 0 0 2-1-2 0 2-2-1-1 1-5-1-1-1-2 2-2-2-5 1-3-1-1 0 0 2-1-2-2 1-11-1 39 7 1 0 2 0 5-1 4 1 4 0 3 3-2 1 0-3-1 3-1-2-1-1-2 3-1-3 0 2 0 1-2-1-1-1 0 2-1 0-1-2 0 2-2-2-2 0-3-1 0 1-1-1 0 1-1 1-37 4 1 0 2-1 0 1 1 0 2-1 1-1 2 1 3 2 1-2 1 2 0-2 6 1 1-2 1 1 4 1 3 1 2 0 2 0 1-2 3 0 1 0 0-1 0 3 0-1 3-1 1 2 0-1 1-1 0-1 0 3 3-1 0-2 1 2 1-2 0 3 1 0 0-3 0 1 3-1 1 1 0 1 2 1 0-1 1 0 0 1 2-3 0 1 0 1 1-1 0 2 0-1 0 2-1 0 0 3-2-1 0-1-1 1-1 0-5 0-1-1 0-1-1 3-1-1-1 1-1-3-1 2-2-2-1 0 0 3-1-2-1 0-1 2 0-3-8 0-23 0 31 5 1 0 0 1 1 0 1-1 1-1 0 2 1-2 1 2 1-1 0 2 1-1 0-1 2 2 1 0 2-1 2-2 0 2 1 1 1 0 1-3 0 2 2-2 1 1 2-1 0 2 0-1 3 6-2 0-2-2 0 2 0-1-1-1 0 1-1 0-2-1 0 2 0-1-1-2 0 3-1-1-1 0-1-2 0 1 0 2 0-1-2 1 0-3-1 3-1-2 0 2-1 0 0-1-1 1-1-3 0 1-1 2-1-2 0 1-1-2 0 2-2 1 0-1-1-1 0 2 0-1-2-1-2 1-5 1-1 0-1-1-1 1-1-1-1 1-2-3 0 3-4 0-6-2-2 2-3-2-2 2-3 0-1 0-1 0-2 0-1 0 0-1-1 1-2 0-1 1 0 1 1-1 1 0 1 1 2-1 5 1 2 1 0-1 2-1 1 0 0 3 1-2 4-1 1 1 1 1 1-1 4 0 1-1 0 1 4 0 0-1 1 1 0 1 1-2 1 2 1-1 0-1 0 2 1-1 1 0 0-1 2 0 0 2 2-1 1 1 1-2 0 1 1-1 0 3 2-3 0 2 0-1 2-1 0 2 1 0 1-2 1 1 1 0 0-1 0 2 1-1 0-1 0 3 1-2 0 2 1-1 1-2 1 2 1-2 0 2 1 0 0-2 1 0 0 1 1-1 0 2 1-2 0 3 1-2 1 0 0-1 1 1 0-1 0 2 4 0-2 5-2-1-1-1-1 0-1 0 0 2-1-1-1-2 0 3-1-3-1 2-1 0-1-2 0 1-1 2 0-1-1-2 0 1 0 2-2-3 0 1-1 0-1 1 0-2-1 0 0 2-1-2 0 3-1-3-1 1 0-1 0 3-1-1 0-2-2 1-5 1-1 1-5-1-5-1-2-1 0 2-4-2-2 2-2 0 0 1-2 0-2-2-1 1-1-1 0 2-5-1-1-1 30 3 7 0 3 0 1 3 1-3 0 1 2 0 1-1 2 1 0 2 0-3 2 1 0 2 0-3 1 3 1-3 0 1 0 1 2-2 1 0 0 2 0-1 2-1 1 1 1-1 0 3 0-1 1 0 1-2 1 2 2-2-2 5 0 1-1 0 0 1-2 0-3-2 0-1 0 3 0-1-2-2 0 3-3 0-1 0-1 0-1 0-1-2 0 2-1 0-1-2-1 2-1-3-2 3 0-1-4 1-5-1-1 0-4 1-5 1 2 1 2-1 2 0 2 0 4 0 4 2 1-2 0 2 0-1 2-1 4 0 0 2 1-2 1 0 0 1 2 0 1-1 0 2 1-2 1 2 4-2 2 0 0 2 3-1 0 5-29-2 20 6 1 1 1-2 1 1 1-1 1-1 3 2 1 0 2 0 2 0-2 2-5 1-1 0 0 2-1-2-1 1-1 1-2-3-1 1-11 2-36 3 0-1 1 0 11 0 1 2 5 0 2-2 1 0 7 1 0 1 1 0 1-2 2 2 1 0 0-3 4 2 1 1 0-3 0 2 3 1 1-1 1 0 2 0 1 1 1-3 0 2 1-1 2-1 1 3 2-2 1 2 0-1 3 1 1 0 0-1-2 4-1 0-2-1-2 1-3 1-4 0-8-3-12 0-4 0-2 0 26 6 0-1 6-1 0 1 3-1 1 3 3-1 2 0 2 2-5 1-1 2-1-2-2-1-1 1-2 1 0-1 0 2-2-3-2 3-1-3-51 4 5 2 1-1 1 2 2-3 3 2 1 0 1 1 0-1 7-1 2 2 0-1 1-1 4 2 2-3 1 3 1 0 0-3 1 0 1 2 3 1 8-1 1-1 2 1 3 0 1 0 1-2 0 1 0 1 3-2 1 0 0 2 0 1 3-2 2-1 2 0 1 3 0-1 1 1-2 3-1-1-1 1 0 1-1-2 0-1-1 3-2-3-3 2-1-1-3 0-12-1-10 0-16 0-7 0 46 4 0 2 1 0 0-1 3 0 4 1 3-2 1 2 2 0 1 3-1 0-1-1-3 0-1 0-2 0 0 2-1-2 0 1 0 1-3-1 0 1-1-2 0 2-2 2 0 3 3-2 0 1 2-1 1 0 2 0 0 2 1-3 0 3 1-3 9 6 0 1-3-1-1 1-1 0 0-2-1-1 0 2-1 0-2 0-1-1-1-1 0 2-4 0-2 1-2-3 0 1 0 2-1-2 2 3 0 2 0-1 0 2 4-1 1 0 1 0 0-1 1 0 0 2 1-1 2-2 1 0 0 2 0-1 1 1 0-1 1 0 1 2 3-2 9 5-9 0-1-2-2 0-2 1 0 2-1-3-1 1-4-1-5 0-2 4 4 3 3-3 2 1 1-1 6 2 3-1 0 1 1 0 0-1 0 2 7-3 4 1 3 0-14 3-2 3-2-3-2 3-2-3-1 0 0 2 0-1 0 2-1-2-5 0 1 6 3-3 4 0 0 3 1-2 2 2 1-3 1 3 1 0 12-1-4 2-1 3-8-1-2 1 0-3-1 1-3-1-1 1-2 2-2-2 0 2-1-3-1 0 0 3-2-2-1 5 2 0 0 1 2-3 1 0 0 2 1-2 2 2 2-1 1-1 1 1 2 2 2-2 0-1 1 3 1-1 1 1 0 4-1-2-4-1-1 3-4-3-1 1 0 2-2-1-1-1-1-1-4 3 11 2 1-1 4 0 26 7-3 0-9 0-1 3 0-1 1 0 1 1 0-1 1 0 1-1 1 1 1 0 1-1 0 3 3 0 1 0 2 3-3-1-1-1 0 2-4-2 0 3-1-1-2 0-1 0-3 3 1 2 4-3 0 2 4-2 2 0 1 0 2 0 1 0 0 10 16 1 1 4-3-1-9-1-1 0 0-1-1 0-1 3-1 0-2-2-1 0-3-1-3 1-8 0-3 2-6-2 0 2-1-2-1 0 8 5 4 0 9-1 3 0 9-1 4 3 2-1 4-2 4 7-2-2-1-1-8 1-1-1-3 1 0 1-4 1-2-1-1-2-9 3-7-1-1-1-2-1-1 2-3-1-1 2 0 2 4 0 2-1 3 0 2 2 3-1 4-1 9 0 5 1 4-1-20 7-9 1 1 0 0 3 1 0 2-3 0 2 1-2 0 3 1-2 1-1 2 3 1-1 1 1 4 3-3-2-1 0-3 1-2 1-1-2-2 1-1 2 0-2-1 0-8 6 1 0 13-3-10 4-1 3 0-3-1 3 0-2 0-1-1 0 0 4 0 3 1-2 0 2 1-3 0 3 0 1 0 2 0-1 0 2-1-3 0 2 0-1-1 1 0-1-1 1 1 2 1 1 0 2 0-1 1 1 26-3 0 3 4 0-9 4-1-3-1 2-2 1-3-1-1 0-12 0-1-1 0 2-1-2 0 2-1 0 0-1-1-1 0-1 1 4 1 2 1-2 1 3 3 0 1-2 1 0 2-1 9 0-11 4-28 5 0-1 14 1 4 0 7 0 3 0 12 5-2 0-3 0-1 0-2 0-2 0-1-1-1 1-2 0-2 0-3 0-2 0-1-2-2 2-4-1 0 2-2-1-1 0-1 0-2 1 0-1-1 0-1 0-2-1-1 1-1 0-2 0 6 2 19 0 6 6-1 1-10-3-8 3-13-2-6 6 3-1 1 1 2 0 6-1 1 1 0-1 8-1 16 6 0-1-3 0-6 1-2-1-8 1-2-3-1 0-3 1-1 2-1-3-1 2 0 1-6-3-2 2-1-2-1 0 0 3 24 1 2 1 4-1 4 1-33 5-1 0-2-2-1 2 0 1-1-1 0 1-1-1-2-2 0 1-2 1 0 1-1 0-2-1-1-2 0 4 0 1 1 1 2-1 0 2 5-3 1 0 1 0 1 0 1 0 1 0 2 2-16 5 0-1-2 1-1 0 0-1-1 1-1 0 2 3 0-2 1 0 1 0 0 1 1-1 1 2-1 5 0-3-1 2 0-1 0 2-1-3-1 0-1 0 0 1-1 0-1 5 3-2 1 0 0 1 1 1 0-2 0 1 0 2 1-3 0 3 2 1-2 3 0-3 0 2-1-2 0 2-1-1 0 1-1 1-2-3 0 3-1 4 1-3 1 2 1 0 0-1 1 0 1 2 1-2 0 2 2-2-2 4 0-1 0 3-1-1 0-1-1 2-1 0 0-1-1 0-1 0 0-2 0 6 1 0 1-1 0-1 0 3 1-2 0 2 1-2 0-1 1 2 2 0 5 5 0-1-2 1-1 0-1-1 0 1-1-2-1 0-1-1 0 1 0 2-1 0-1-2 0 2-1-3 0 2-1 1-1 0-2 0-1 0-1 3 2-2 5 0 2 0 2 1 2 0 4 0 5 1 1 3 0 2 0-1-1-1 0-1 0 3 0-1-1-2-8 1-1 2 0-1-1 0 0 1-1-2 0-1 0 3-1-3 0 3 0 4 1-2 0-1 0 3 1-1 0 1 1-1 0-1 1-1 8 1 1 2 0-3 0 2 1-2 0 2 0-1 0 2 0 2 0 2 0-1-2-1-9-1 0 1-1 0-1 1-1-1 14 3 0 3 0-1 0 2" fill="none" stroke="none" marker-start="url(#mb)" marker-mid="url(#mb)" marker-end="url(#mb)"/>
<path transform="scale(.5)" d="M349 127l0-1-1 1 0 1 1 1 0-1 0 3 16-1 3 5-1-3-1 1-1-1 0 1-5 2-1-3 0 1-1 0-9 2 0-3-1 0 0 5 1 2 0-3 9 1 2 1 1 0 2 1 1-2 1 1 1 0 1-2 0 1 0 2 0 4-2-2-2 2-3-1-1 1-10 0-1-3 0 3-31 0 32 4 11-1 2-1 1 0 0 2 1-3 1 0 0 2 1-2 1 3 1-2 8 2 3-1 1-1 36-1 6 7-43-3-3 0-9 3-2-1 0-1-1 2 0-3-1 1-1 2-1-2-1-1-1 1 0 2-10-3-1 2 0 1-31-1 31 3 0-1 0 3 0-1 1-1 0 2 10 0 3-2 0 1 2-1 1 0 0-1 0 2 1-1 19-1 22 7-12-2-20 0-1-1-7 1-1 1 0-1-1 2-1 0 0-1-2-1-1-1 0 3-2-2 0 1-11 1 0 4 1-1 0-1 12-1 0 1 14 2 8-2 12-1 18 2-35 5-2-3-2 0-7 2-2-1-1 0-2 0-1 0-4 1-8-1 0-1 0 3-1-2 0 4 1 2 0-2 10 0 1 1 2 1 1-3 1 3 0-3 1 1 1-1 0 2 9-2 1 3 2-1 1 3-1 0-4-1-8 2-1 1-3 0-2-1-1 1-1-2-9-1 0 2 0-1-1 1 0-1-31 1 31 3 0 2 0-1 11 1 2 0 1-3 0 3 1 0 1 0 4-2 1-1-1 5-2 1-1 0-16-2 0 2 0 1 0-2-1-1 0 4 10 3 5 0 1-1 1 0 1 1 4 2-2 1-2-2-1 0 0 3-3 0-1-3-2 0-10 0 0 1-1 0 0 1-30 5 30-2 0 2 1-2 0 1 11-1 5-1 3 0-20 5 0 2-31-1 31 4 0 1 1 0 0-3 0 1 0 6 0-1-1 0 0 3 0 2 1-3 0 1 22 0 1 0 2-1-25 5 0 2 0-3 0 2-1 1 0 1 0 3 0-1 1 0 0 5 0-2 0 1-1-1 0 2 0 4 0-3 0 2 1-2 32 7-4 0-4 0-3-1-4 1-1-1-16 0-1 0 1 3 0 1 12-2 1 2 2-1 1 0 3 1 2-2 1 1 1 2 1-2 1 2 2 0 0-3 2 3 1 0 0-3 2 0 20 3 18-2-8 6-1-3 0 2-18-1-11 0-1-1-1 0 0 2-2-2-3 2-1 0-2-2 0 3-1-1-3 0-1 0 0 1-4-2-1 1 0 1-2-2 0 1-2 1-8-2-1 1 0 1 0 2 0 2 1-2 11 1 0-2 2 1 0-1 1 0 1 3 2-3 2 0 1 3 1 0 1-2 2 0 1 1 1 0 1 0 1 1 2-3 0 2 1-1 11 2 21 0 8 2-6 0-1-1-1 3-4-3-2 2-1-1 0 2-1-1-3-1 0 1-1 1 0-1-3-1-1 0-1 2-16-3-2 3 0-1-1-1-2 0-2-1-1 1-1 1-1-2 0 2-1 1 0-1-4 1-3-2-12 0-1 0 0-1-30 1 30 3 1 1 0 2 12-2 2 2 1-3 0 2 2 0 0-1 0 2 5 0 6-2 3 0 1 0 1 1 9 0 0-1 4 2 1-2 0 2 2-2 0-1 3 1 2-1 1 2 0-1 1 0 3 0 2-1 1 3 1 0 1-1 2 0 5 4-8-1 0 2-2-2-1 0 0 2 0-1-5 1-1-3-1 2 0 1-4-3-3 0 0 2-1-2 0 2-1-2-13 0-1 1-2 1 0-1-2 2-6-3 0 2-1 1-3-1-1 1 0-1-1 1-1-3-1 3 0-1-1-1-11-1 0 1-1 1 0 2 1 0 0 1 10 1 0-2 4 3 1-1 1 1 1-1 1-1 1 1 4 0 2 0 1-2 0 3 1-3 0 3 0-2 1 2 1 0 5 0 6 0 8-3 1 3 1-3 1 0 3 1 0 1 1 1 1-1 2-1 0 2 1-2 1 2 1-2 0 2 3-1 89 1 11 0 0 4 0-1-1-2 0 1-36 2-25 0-36-2-4-1 0 2-5-1-2-1-3 0 0 1-1-1-1 0-1 0 0 2-2-2-16 0-1 0-1 3-2-3-1 1-2 0-6 0-3 1-6-2-2 1-7-1-31 6 133 0 0-1 24 1 3-2 24 1 0 1 0 1 1-2 10 3-1 2 0-1 0 2-9 0 0-2-1 0 0 2-24 0-1-1-1-1 0 2 0-3-1 3 0-1-24-2 0 5 0-1 24 2 38-1-37 5-1-2 0 1-57 2-101-1 101 5 57 0 0-3-57 7-37 0-32-1-1-1-24-1-1 1 0-1-1 2 1 2 25 3 0-3 1 3 0-1 0-1 20 1 1 0 1-2 2 1 3 2 0-1 1-2 0 3 1-3 40 1-38 6 0-1-1-2 0 2-1-2-1 3 0-1-2 0-1-2 0 2-3-1 0-1 0 3-22-3 23 4 1 1 3 0 2 0 16 4-2 0 119 10-1 0-22 0-3-2-21 1-11 0-25-2-110 1 0 3 94 1 78-1 16 1 5 0 0 1-32 3-60 6 0-1 59 1-41 1-18 3 0-2 0 1-1 0-100-2 0 4 100 3 1-3 0 2 0-1 0 2 1-3 44 0 15 7-42 0-18-3 0 1 0 1-1 4 0-1 1 1 0-1 0-1 0 3 1-3 16 2 11 1 17 0 15 1-59 3-1-3 0 2 0-1 0 2-20 0-81 4 81-2 2 1 17 1 1-3 0 3 0-1 27 0 32 1 1 0-14 1-46 3 0-1 0-2-1 3-23 0 5 1 19 0 0 3 1-2 26 2 0-3 1 2 65 4-48 1-45-1 0 1-1 0-23-1-3 3 7-1 19 3 1 0 0-1 1 0 27 1 54-3 10 1-10 5-22 0 0-1-33 1-9-1 0 2-1-3-17 1 0 1 0 1 0 3 0-1 0 2 45-2 14-1-13 6-45 1-1-3 0 3 0-1 0 3 1 1 17 0 9 1 1-1 17-1 15 1-14 3-29 1-5 0-11 0-1 1 0-3 0 2-1-1 0 2 0-3-5 3-10 1 1 3 15 0 0-3 17 1 1 1 2 0 53 0 5-1 8-1 10 3-124 1 0 2-1-2 0 3-1 0-1-2 1 5 0-1 2-1 0 3 0 2 0-1 0 3 0-1-1 0-1-1 0 3 1 1 0-1 0 2 0 1 1-3 0 2 0 1 1 0 12-1 10-1 71 1 3 0 11 0 5 0-113 2 0 2-1 1-1 0 0-3 0 2 0-1 0 4 0 1 1-1 0-1 0 3 0-1 1-1 0 1 0-2 1 2 0-2 0 7-1-2 0-1 0 3-1-1-1-2-1 2-19 1 0 3 0 1 0-3 20 0 1 1 1-1 3 11 69 0 44 1-10 2-3-2-6 0-16 3-11-2 0 2-15-1-4 0-4-1-6-1-16 1-12-1 51 4 1 1 0 2 7-2 6 0 35 6-4-3-54 2-31 1-20 0-1 0 1 1 0 2 0 1 1 0 16-3 20 3 1-1 14 0 46-2 25 0 3 0-74 7-1-1-19-2-32 1 0 1 0 3 0 2 1-2 0 1 50 1 0-1 76 1-4 1-26 0-2 0-95 2 0-1 51 5 0-1 1 4 0 2 0-1-1-2 0 2-44 5 11-1 34-2 72 4-2 0-3 1-31 0-8-1-3 1-12 6 53 4 0-1-1 0-14-2-18 0 0 3 0-1-19-2-1 2 0 3 1 1 19-2 18 0 15 0 1 0-54 6-48 0-9 5 11-1 3-1 68-1 7 2 9 0 7 0 9 1-99 3-1 1-3-3 0 1 0 4 0 1 22-2-22 6 0-2 0 3 0 4 0 2-10 2-6 0-8 0-4-1-6 1-3 3 5-1 12 0 8 2 1-2-1 5-1 1-1-1-2-2-1 3-1-3-2 2-11 0-2-2-1 2-6 1-1-2-2 6 2-2 1 1 0 1 2-2 5 0 1 0 2 1 0 1 2 0 4-1 5-2 0 2 7 1-4 3-2-2 0 3-8-1-3 0-1-1-1 1-12 1 1 2 1-1 1 1 5 0 0-1 11 1 6 0 1 0 5 2-1 3-3 0-2 1-4-2-5 1-5 0 0-1 0 2-2-3-8 0-3 3-53 4 5 0 53-3 1 2 15 0 6-2 3 0 2 3 43 4-4 0-11-1-29-1-5 0-2 0-2 0-2 2-6 0-3-2-6 2-2-3 0 2-50-2 48 4 1 0 2 3 0-3 0 1 5 1 3 1 2-3 6 3 3-2 4 0 2 1 3-2 1 2 12-1 1-1 12 1 3 0 2 0 4 0 7 1 5-2 5 1-51 4-4 0-2 0-2-1-1 3-2-2 0 2-1-2-2 1-4 1 0-3-6 0-3 0-3 2 0-1-3 4 0-1 0 3 0-1 4-2 1 1 1-1 27 0-33 7 0-3 0 2 0-1-1 5 1-1 0 2 0-1 0-2 26 4-26 1 0-1 0 3 0-1 0 3 0-1 0 5 0 2 0 2 0-1 0 3 0-1 0 5 0-2 0-1-21 2-6 0 0-1 27 5 0-1 0 2 0 2 0-1 0 3 0-1-19 1-5-3 24 4 0 2 0 1 0 1 0 2 0-1 0 2-1-3-25 6 26 0 0-2 0 1 0 2 0 2 0-1 0 2 0 1 0 1 0 2 0-1 0 2 0 4 0-1 0-2 0 1 0 4 0 1 0 2 0 2 0-1 0 2 0 2 0 2 0-3 0 5 0-1 0 3 0-1 0 4 0-1 0 2 0 3 0-1 0 2 0-3 0 5 0-1 0 3 0-1 0 5 0-3 0 2 0 4 0-2 0 5 0 2 0-1 0 5 0-2 0-1 0 2 1 2-1 0 0 1 0 3 0 1 0 2 0-1 0 4 0-1 0-1 0 3 0 1 0 2 0-1 0 2 34 2-1 0 0 2-1 0-1-1 0-1 0 2-2-1-29-2 0 3 0-1 0 2 0 3 0-2 31-1-31 4 0 2 0-1 0 2 0 1 0 2 0-1 0 2 36 4 0-1-1 0-35-2 0 3 0-1 0 2 36 0 0 2 0-1 0 2 0 1 0 1 0 2-1-1 1 3 0-1 0 2 1-1-1 4 0-1 0 2 0 1 0 1 0 2 0-1 0 4 0 2 0-1 0-2-1 1 0 2 1 2 0-1 0 2 0 1 0 1 0 2-1 0-21 4 1-1 20 1 1-2 0 1 0 2 0-1 54 0 3-1 9 1-66 5 0-1-1 0 0 2 0 2 1-1 0 2 0 1 0 1 0 2 0-1-1-1 0 4 0-1 0 3 0-1 1-1 0-1 0 2 0 4 0-1-1 0 0 2 0-1 0 3 0 2 1-3 0 2 0 1 0 4-1-3 0 3 0-1 0 4 0-1 0 2 0 1 0 2 0-1 0 2 0 2 0-1 0 3 0-1 1 0 0-1 0 6-1-1 0 1 0-2 0 3 0 1 0 2 1-3 0 1-1 5 0-1 0-1 0 3-6-3 0 1-30 6 30-1 6-1 0-1 0 2 1 1-1 3 0-1 0 2-36-1-1-1 0 1 0 4 1-1 1 0 35 1 0-2 0 1 0 3 0 3-6 0-28-1-1 1-1-2 0 1-1 1-1 3 1-1 0-1 1 3 30 0 6-1 0-1 0 2 0 2 0 1-34-2-1 2 0-1-1 1-1-2 1 4 1 3 0 4-1-2-1 2-17 4 2-3 1 2 1-1 0 2 2-1 1-2 2 2 0-1 0-1 1 1 10-1-19 4-5 3-1 0-2 0-1 0-2 0 0 1 0 2 0-1 0 4 0 2 0-3 0 5 0 1 22 2-22 2 0-1 0 3 0 1 0 2 7-1 0-1-7 4 0-1 0 2 0 3 8 2 0 2 0-1 0 2 0 2 0 3 0-1 0 3 0-1 0 2 0 4 0-1 0-1 32 3 1 0 1 0 0 3 0 1-1-3 0 1 0 2-1-3 0 1-32 2 0 2 0 2 0-1 32-1 1 0 0-1 1 0 0 1-34 3" fill="none" stroke="none" marker-start="url(#mr)" marker-mid="url(#mr)" marker-end="url(#mr)"/>
<path transform="scale(.5)" d="M323 123l25 4 0-2-10 0 0 2 0-1-1-1-1 0-3 0-1 2-1-1-8 1 9 2 0-1 2 2 1-1 0 1 1 0 0 1 0-3 1 3 1-3 1 2 0-1 9 0 1 0 0-1 0 3 0-1 0 3-1-1 0 2-10 0-1-1 0 2-1-3-2 3-1-1-1 0-1-2 0 2-1 1 0-2-7 5 1-2 7 1 1 0 0-1 1 1 0-1 1 3 1-2 0-1 2 2 0-1 1 1 10-1 0 2 0-1 0-2 10 7-2-1-7-1 0-1-1 1 0 2 0-1-7-2-2 2-1 1 0-3-2 0 0 3 0-2-1 0-1 0 0 1 0 1-1-3-1 2-1 1-8 4 8-1 1-2 1 0 0 3 1-3 0 2 0-1 0 2 2-1 0-1 1 1 0-1 1 0 2 2 0-3 8 0 0 2 1-1 0 3 0 1-1 1 0 1-9 0-1 0-2-1 0-1-1-1-1 1-1 0-1 2-9-2 9 5 1-1 0 1 1-1 0-1 2 3 1-2 1 0 0-1 2 0 8 3 0-1 1-1 0 1 6 1 2 4-3-2-5 2 0-2-1 0 0 2 0-3 0 2-10 0-1-2-3 1-1 1-1 0-9 4 8 1 2-3 1 3 0-3 0 1 2-1 1 1 0 1 1 1 1 0 0-3 9 2 0-1 1 0 0 2 0 1 0 3 0-1-1-1 0 2 0-1-8 0-1-1 0 1-1 0 0 1-1 0-1-2 0-1-1 0 0 3-1-2 0 2-2 0-2-2 1 3 1 1 3-1 1 2 0-1 1-1 1 0 10 3 0-2 1-1 7 7-7-3 0 2 0-1 0 2-1-2-9 2-1 0-2 0 0-1-13 0 12 5 2-2 0 2 1-2 1-1 0 3 9-2 0 2 0-1 1-2 0 1 0 1 10-2-10 4-1 2 0 1 0-2-9 0-1 0-1 2 0-1-1-2 0 1-1-1 0 3 0-1-12 1 1 4 10 0 1-3 2 0 1 2 1 0 1-2 0 2 8-2 0 2 0 1 1-1 0-1 0 5 0-2 0 3-1-3 0 3 0-1-9-2-1 1-1 0 0 2 0-1-1-2 0 3-1-1-12-1 11 3 2 1 1 1 1 1 1 0 9-2 0 1 0 1 1-3 0 3 0-1 0 5-1-3 0 2 0-1 0 2-9-1-2-1-1-1-1 1 0 2-1 0 1 1 1 0 0 1 0 2 1-2 0 2 0-1 1 0 1-1 0 2 1-3 8 2 0-2 0 1 1 2 0-3 0 6-1-1 0-1-9 1-1-1 0 3-1-2 0 2-1 0 0-2 0 1-1-2-1 1-11 3 0 3 12-1 1 1 1-1 0 1 1 0 0-1 1 0 9-2 0 2 0 1 1-1 0 2 0 2-1-2 0 2-9 0 0-1 0 2-1-3-2 3-1-3 0 2-1-2 0 2-11 5 0-1 11-1 1 2 1-1 0-2 1 2 0-1 1 0 0 1 1-2 9 1 0-1 0 3 0-1 1 1 0 4 0-3 0 2-1 1-8-2 0 1-1 0-1-2-1 0 0 1-2 2 0-1-12-2 0 3 0 1 13 1 0 1 1-2 0 1 0 2 1-3 0 3 1-1 0-1 9 0 0 1 1 1-1 2 0-1 0 3-7-1-1 1 0-1-2 1 0-1-1 0-1 0 0-1-1-1 0 2-2 1-1-1-1 1-6 0-4-1 2 2 0 3 2-1 0-1 0 2 1-3 0 1 6 2 2-3 0 3 1 0 0-3 0 2 1-2 0 2 0-1 0 2 1-2 1-1 0 2 1-1 0-1 0 3 1-1 0-2 1 2 2 0 3-1 1-1 1 3 0-3 1 3 0-1 4 0 2-2 0 2 2-2 1 3 1-3 2 1 1 1 2-2 0 2 1-2 0 2 1-1 0 1 1-1 5-1 1 3 7 0 0 1 0 2 0 1-9-3-1 0-5 1 0 2-3-2 0-1-1 3-2-1-4-1 0 2-1 0 0-3 0 2-1 0-1-2-1 2-2-2 0 2-1 0 0-1 0-1-6 3-3-2-1-1 0 2-1 1 0-3 0 1-1-1 0 2-1-2 0 2 0-1-1-1-3 0-5 0-2 3-1 0 1 2 1 0 3 1 4-2 1 3 1-2 0 1 1-1 0 1 1-1 0 2 1-2 0-1 1 1 0-1 1 0 1 1 0-1 2 3 3-3 1 3 2-2 0-1 0 3 0-1 1-2 0 1 0 2 1-3 1 3 3-2 0 1 2-1 1 1 1 0 1-2 0 2 2 0 1 0 1-1 1-1 7 0 0 3 4-2 3 1 1 0 3 0-2 5 0-1-7-2 0 3-5 0-1-1-5 1 0-2-8 1 0 1-1-2 0-1-1 0 0 3-2-3 0 1-1 1 0 1 0-2-1 2 0-2 0-1 0 2-1 1-2 0-1-2-2-1-3 1 0-1 0 2-1-2 0 2-1 0 0 1-1-2-1 0 0-1-1 2 0-1-1-1 0 1 0 2-1 0 0-3-1 3-2 0-1 0-3 0-1-1-1-2 0 5 0 2 1-1 2-1 0 1 1 1 2-2 2 0 1 0 2 0 0-1 0 2 1-1 0 2 1-3 0 2 1-1 0 2 0-1 1-1 0 1 1 0 1-1 6 0 1-1 0 1 1 1 0-1 0 2 1 0 4-2 0 2 8-2 0 2 1-2 2 1 1-1 0 2 1-2 2 0 14 3 0 2 0-1 0 2-1-2-11 1-5 0-1-2-2 3-4 0-2-1-2-2 0 2-2 1 0-1-1 0-1 1-1-1-1-1 0 1-2-1-1-1 0 2-1 0-1-1-1 0-1-1 0 3 0-1-2-2 0 1 0 2-2-3 0 1 0 2 0-1-1 1 0-1-1-2 0 1-1 2-1 0-1-3-2 0-2 1-2 0-1 2-2-1 0 5 3 0 1-3 1 3 4-2 1-1 1 3 1-2 1 0 0-1 0 2 0 1 1 0 0-1 1-2 0 2 0 1 1-3 1 0 0 2 3 1 1-3 3 2 1 0 0-1 0-1 0 3 1-3 0 3 0-2 2 0 0 1 2-2 0 2 1 0 1-1 2 2 1-3 0 3 1-1 0-1 0 2 5-1 3-2 2 0 1 3 2-2 0-1 1 0 0 2 8 0 1-2 0 3 0-1 0-1 0 4 0-1 0 2 0 1-9-2-6 0-1 0-2-1 0 1-4-1-4 0-1 0-2 1-1 0-3-1 0 2-1-2 0 1 0 2-1-3 0 2-9-2 0 1-1 1-1-1 0-1-3 1-1-1 0 1-5-1-4 1 25 3 34 0 0 2 0-1 0 4 0-1 0 3 0-1-15 1-1 0-3 0 0 1 0 2 0-1 1 1 0-1 2-1 1 0 0 3 15-2 0 1 0 1 0 4 0-3 0 2-15-2 0 1 0 1-1 1 0-3 0 2 0-1-2 0-1-1-1 5 1 0 0 2 1-2 0-1 0 3 1-2 0-1 2 2 0-1 14-1 1 1 0 2 0-1 0-2 0 5 0-1 0 3 0-1-16-2-1 1-1 0 0-1 0 2 0 1-1-2 0 2-1-1-1 0-14 0-1-1-1 0 0 2-1 0 0-2-1 0 0 2-1 0-2-2-1-1-1 3-1-1-2 1-1-3 0 2-1-2 0 3-2 0 3 4 1 0 0-1 1 1 1-1 0 1 1-2 0 2 0-1 0-2 1 0 0 1 1 1 0-2 1 2 1 0 0-1 1 2 0-2 1-1 1 2 1-1 1 2 0-3 15 1 1-1 1 0 0 1 2 0 0-1 15 1 1 0 0 2 0-3 0 4 0 1 0 2 0-1-1-2-33 3-1-3 0 3-1-1-1 0-1 1 0-1-1-2-1 3-1-1-1-2 0 2-1-1-1 2-2-2-2 1-1 0-1 0 0 2 3 3 2-2 2-1 8 2 1-2 34 1 0-1 0 3 0-1 0 4 0-1 0 2 0-3-22 5 1 0 21-1 0 2 0-1 0 2 1-3-1 4 0 3 0-1-59 4 0-1 44-1 15 0 0 2 0-1 0 2 25-1-25 2 0 1 0 2-14-3-45 1 0 4 44 0 0 1 1-2 14 1 0-1 0 3 0-1 0 2 0 2 0 1-15 0 0-3-44 2 44 5 15-3 0 2 0-1 0 2 0 4 0-1 0-1-15 3 15 0 0 2 0 1 0 3 0-1 0 2-15-3-11 1-4 2-1 4 3-2 13 1 15 1 0-3 0 1 0 4 0-1 0 3 0-1-1 1-14-1 0-1 0 2-14 0 29 3 0-1 0 2 1-1-1 3 0 2 0-1 0-2-15 1-1 2-43-1 0 5 43-3 1 3 0-2 1-1 13 3 1-2 0-1 0 2 0 5 0-3 0 2 0-1-15-1 0 2-44-2 44 4 15 2 0-1 0-1 0 5 0-1 0 2 0 5 0-2 0-1 0 2 0 2 0 2 0-1 0 2 0 2 0-1 0 3 0-1 0 4 0 1 0-2 0-1-1 0-15 0-3 1-1 0-4 2-4 0 7 4 4-1 2 0 14-1 1-1 0 2 0-1 0 2 0 1 0 1 0 2 0-1-17 1-2-2-1 0 0-1 0 2-1 1-4 3 5-2 1 3 2-1 0-1 17 2 0-2 0 3 0 2 0-1 0 2-20-3-1 7 1-1 3 0 17 0 0-2 0 1 0 2 0 2 0-1 0 3-1-1-18 0-6-1 6 3 3 1 16-1 0 1 0 2 0 4 0-3 0 2 0-1-26 2-2-1 28 3 0-1 0 3 0-1 0 2 0 1 0 2-59-3 0 3-1 0 0 1 1 0 0 1 58 2 1-2 0 1 0 3 0-1 0 3 0-1 0 3 0-1 0 2 0 4 0-1 0-1-20 2-1 0 0 1-1-2-2 4 1 1 2 0 2-1 0 2 3-2 16 0 0-1 0 2 0 5 0-2 0-1 0 2-20-2 20 4 0 2 0-1 1 1-1 2 0 1 0 1-20 5 20-2 0-1 0 3 0-1 0 2 0 1 0 2-18-3 18 5 0 2 0-1 0 5 0-1 0-1 0-1 0 4 0 2 0-1 0 2 1-3-1 4 0 2 0-1 0 2-20 2 1 1 19-2 0 3 0-1 0-1 0 5 0-1 0 2-1 3 1-2 0 2 0-1 0 2 1 3-1-1 0-1 0 3 0-1 0 3 0-1 0 2 9 4 0 1-1 0-2 0-1 0-2 0-3 0 0-3 0 2 0-1-3 2-2 0-1 0-3-1 0 1-1 0-1 0-1 0-4-1-1 0-1 0-1 1-2 0-1-1 0-1-3 2-2 0-1 2 2-1 1 1 0 2 1-2 0 2 1-2 0-1 0 2 1 0 1-1 0 2 1-3 0 2 1-2 1 1 1 0 0 2 2-1 0-1 1-1 0 3 0-1 0-1 1 0 0-1 2 0 1 1 0-1 1 2 0-1 1 2 1 0 1-2 0 1 1 1 0-1 1-2 0 3 1 0 1-1 1 0 1-1 0 2 0-1 0-2 1 2 0 1 1-1 1-2 0 3 1-1 0-1 3 0 0-1 0 2 1-1 0 1 1 1 2 0-11 2 0-1 0 3-8-3-7 1-3-1 0 1 0 6 1 0 0-2 16-1 1 1 0 2 0-3 0 2 1 1-1 2 0 2 0-1-16-1-1-1-1 0-1 2 0 2 0 2 1-1 1 0 1-1 16 1 0-1 0 3 0 3 0-1 0 2 0-3-18 0-1 1-34 3 2 2 1-1 22 0 2 2 0-1 1 0 3 1 1 0 6-3 3 1 1 1 1-2 0 2 2 0 2 0 1 1 2-2 0 1 1-1 2 0 0 2 0-1 1 1 0-1 1 0 2 1 0-1 2 1 1-2 0-1 0 3 2 0 0-1 5 0 1-2-2 7 0-1-1-1-1-1-1 1 0 2-3-2-1 1-1-1 0-1 0 2-1 0-1-2 0 2-3-1 0-1 0 3 0-1-1-1-2 2 0-2-3-1-1 0-1 0 0 2-2-1 0 2-1 0-1-3-1 1-1 2-1-2-2-1-2 0-1 3-2-3-1 0 0 1-1 0-3 0-1 2-1-3-7 0-3 0-1 0-4 2-8-2-5 0 4 5 5-1 3 0 2 0 9 1 6-1 5 1 5-1 2 0 1 0 1 1 5-1 1 1 1-1 1 0 1 2 2-2 2 0 1 0 0 2 0-1 0 2 12-2-12 3-5 3-3-2-1 2-5 0-5 0-4 0-5-2 0 2 0-1-1 3 1 0 0-1 0 3 0-1 1-2 1 3 1-1 1 1 1-2 1 1 2 1 0-3 1 2 0-1 2 0 0 1 1-2 1 2 0 1 1-2 0 2 1 0 0-1 1-1 1 0 0 2 2 0 0-1 1-1 0 2 2-3 1 1 0-1 1 2 1-1-3 6-1-1 0 1-2-1-1 0 0-1 0 2-2-2-1-1 0 2-1 0 0-1-1 0 0 1-2 0 0-1-1 1 0-1 0-1-1 2-1-1-1 2-1-1 0 1-1-3 0 1-1 0-3 0-1 0 0 2 0-3 0 2-2-1-21 6 23-3 0 1 0 2 0-1 1-2 2 0 0 3 2-2 0 2 1-3 1 1 3-1 0 2 2-1 2-1 0 1 0 1 2-2 0 2 0-1 1 2 0-1 1-2 0 1 2 1 0-2 1 1 0 2 1-1 1-2 1 3-13 1-1 1-4 0 0-1-2 0-4 1 0-1 0 2-22-2-6 0 28 6 0-1 0 2 0-3 0 4 0 2 0-1 0 2-28 3 0 1 2 0 9-2 0 1 1 1 8-1 1 1 3-1 4-1 0-1 0 3 0-1 0 2 0 2 0 1 0-2-8-1-13 1 21 5 0-1 0 2 0 3 0-1 0-1 0 3-1-2-28 6 0-3 1 3 1 0 1-2 1 1 0-1 0 2 2-1 1-2 0 1 0 2 1-1 0-2 1 2 0 1 2-1 0 1 1-1 1-1 3 2 1 0 0-1 1-1 0 2 2 0 1-2 1 2 2-2 0 2 1 0 2-2 2 0 0-1 0 2 0 1 0 1 0 2 0 1-9-2-2-1-1 1-1 0 0-1-1 2 0 1-1-1-1 0 0-2-1 1-1-1-1 1-1-1-2 0 0 2-1-2 0 1-1-1 0 2 0-1-1-1-1 2-1-1 0 2-3-3-1 0 31 7 0-1 0-2 0 5 0 2-1-1-8 1-7 2 1 0 15-1 0 1 0 2 0 2 0 2 0-1-1 2 1 1 0-1 0 3 0-1 1-1-1 6 0-1 0-1-1 2-18 3 7 1 3 0 1 0 8-1 0-1 0 2 0-3 0 5 0-1 0 3 0-1-5-2-9 0-1 0 15 7 0-3 0 2 0-1 0 3 0 1 0 2-28 4 6 0 21-3 1 1 0-1 0 3 0-1 1 0-1 4 0-1 0-1-18 0 0 1-2-1-1 0 21 4 0 2 0 1 0 2 0-1 0 3 0 2 0-1 1 7-1-3 0 2 0-1 0 2 0 2 0 2 0 1 0 3 0-1 0-1 0 3 0 2 0-1 0 2 15 2 0 2 0-1-1-1-1 0-13 1 0-2 0 1 0 2 0 2 0 1 0 2 0 2 0-1 0 2 0 4 0-3 0 2 0-1 1 0 27 5-16 0-12-1 0-1 0 3 0-1 0 2 28 2 0 1 0-2 0-1 3 7-3-3 0 2 0-1 0 2 0 1 0 1 0 1 1-1 1 0 0-1-2 4 0 3 0-1 0-1 0 3 0 2 0-1 0 2 1-3 0 4-1 3 0-1 0 3 0-1 0 3 0-1 1 1 0-2 0 1 0 4 0-1-1-1 0 2 0-1-18 6 18-1 0-1 0 2 1-1 33 0-21 2-13 1 0-1 0 4 0 2 0 1 1-3 0 2 0 1 0 1 0 1 0 2 0-1-1 1 0-3 0 2 0 2 0 2 1 0 0 1 0 1-1 1 0-1 0 2 0 5 0-3 1 0 0 1 0 2 0-1 0 2 0 2 0-1-1 0 0 1 0 3 0-1 0 2 1-2 0 2 0-1 0 2 0 1 0 2 0-1-1 6 1-2 0-1 0 2 0 3 0-1 0 3-1 0 0 3 1 1 0-1 0-1 0 4 0-1 0 2-17 0 0 2 16 2 1-1 0 1 0 1 0 4 0-3 0 2-28-2 0 3-1-2 0 2 0-1-3 5 3-3 0 1 1-1 0 1 28 5 0 1-1-3 0 3 0-1-31-1 0 1-1 1-3 3 0 1 1 0 1-1 1-2 1 0 31 1 0 1 0 1 1-1 0 2-34 1-1 0 0 1-1-1-1 2-3 0-2 2 0 2 2-1 0 1 1-2 0 6-1-3-1 0-1 1-1 1 0-1 0 2-2 0-2-2 0 2-1-2-4 5 1 1 1-1 1-1 1 2 1-2 3-1 1 0-4 5 0 1-2 1 0-1-1-1 0 1-1-2-1 1-1 5 2-2 0 2 1-2 0 1 0 2 1-2 1 1 0 1 1-3 0 2 1 0 1 3-2 1 0-1 0 2-1 0 0-3 0 1-1-1 0 3-1-2-1-1 0 2-1-2 0 2 0 2 0 2 2-2 1 0 1 1 0 2 2 2 0-1 0 2-1-1 0 2-1-2 0-1 0 3-1-2 0 2-1-2-1 2-1-1 0 1-2 3 1 1 2-3 2 0 0 1 1 0 0 2 0-3 0 2 3 2-3 0 0 3 0-1-3 0-1-1 0 2 1 1 3 2 0 4 0 1-1-1 0-1 0 4 0-1 0 2 1 0 0-1 0 2 0 2 0 1-1-2 0 2 0 5 0-3 0 2 0-1 1-1-1 5 0 1 0 5 1-2 0-1 0 3 0 2 0-1-1 1 0-1 0 2" fill="none" stroke="none" marker-start="url(#mb)" marker-mid="url(#mb)" marker-end="url(#mb)"/>
<path transform="scale(.5)" d="M684 125l-7-1-3 0-12 3-3-2-2 2-2-3-4 1-12 0-1-1-1 1-2 0-5 1 0 1-1-1 0 5 1-3 0 3 12 0 4-2 2 2 17-1 3-2 2 1 7 1 1-2 0 3 0-1 68-1-38 6-14-3-13 3-7-2-9 0-10 0-2 0-1 0-1 0-1 1-2-1-2-1-4 1-3 1-3 1-1-2-4 0-1 1 0-1-36 3 36 0 0 3 0-1 0-1 3-1 3 3 5 0 2-3 2 2 0 1 2 0 4-1 1-2 4 2 6-1 2 2 1 0 4-2 2-1 5 3 2-1 3-1 0-1 2 2 16-1 17-1 24 3 4 0 8 3-2-1-13 0-10 1-44-2-5 2-8 1-2-3 0 3-4-2-1 0-8 0-1 0-13 2-3-3-3 2 0-1-4 1-1-1 0 1-1-2 0 7 1-3 0 1 6 1 0 1 11-2 9 0 4 1 0-1 7 2 1-1 5 0 8 1 1 0 1 0 48-2 73-1 0 1 0 3 0 2-49 0-6-2-14 1-14 2-30-2-18 0-3 2-3-1-2-2-1 3 0-3-5 1-10-1-1 3-3-2-2 0-2 2-1-1-3 1-6 0 0-1-1-1 0 1 0-2-37 5 37 0 0-1 0 3 6 0 5-1 1-1 8-1 3 3 8-2 3-1 10 3 2 0 17-1 41-2 22 3 48-3 0 7-132-2-5 1-12 1-5-2-11 2-8-2-1-1 0 2 0 1-1-2 1 4 0 2 0-1 0-2 6 2 2 1 2-2 1 0 2 1 2-2 0 3 3-1 4-1 7-1 2 1 1-1 0 1 2 0 2-1 6 3 4-1 8 1 19-3 24 1 0 2 31-1 4-1 42 1-36 4-12 1-14-1-27-2-12 0-25 2-4-2-2 1-2 1-1 1-11-3-12 0-2 0-5 1-1 2 0-1-2-2 0 2-6-1 0-1 0 3 0-1 0 5 0-1 0-1 1 0 8-1 0 3 6-3 8 0 6 0 6 0 10 1 0 2 2 0 1-1 6 1 55-2 27-1-87 6-17-1-1 1-9-2 0 2-2-2 0 1-5 1-3-2 0 2-12 0 0 1-1-1 0-2-35 2 36 3 0-1 0 3 0-1 10 0 1 1 1-2 3 1 4-1 6 0 6-1 5 0 5 0 1 2 5 1 2-2 1-1 22 7-16-3-2 3-4-2-4-1-14 2-13-2-7 2-12-1 0 2 0 1 0 2 0-1 0 2 19-1 33 4-8 0-23 1-20-3-1 3 0-1-1-1 1 5 0 1 0-2 0-1 23 2 36-1 3-1 7 1-53 4-15-1 0 1-1-1 0 2 0-1-36-1 0 5 35 0 1 0 0-1 0 2 1-2 0 3 33 0 20 0 8-3 7 0-17 4-45 0-6 0-1 2-1 1 0-3 0 5 1-1 0 3 1 0 20-3 8 1 1 1 6-1 30 5-4-2-5 3-11 0-46-1 0-2 0 1 0 2-36 0 36 2 0 1 49-1-20 4-29 1 0 1-1 2 1 2 0-1 0-2 0 1 28 0 16 2 8-3 13 0 2 1-27 3-1 0-4 3-7 0-18-1-1 0-9-1 0-1 0 3 0-1-37 1 37 3 0-1 0 2 13-1 14-1 0-1 1 2 0 1 22-2-5 3-16 1-1-1 0 1-3-1-13 2-12-1 0 2 0-3 0 2-1-2-35 4 0 2 35 1 1-2 0-1 0 2 1 0 17-2 10 1 0-1 0 2 1-2-1 6 0-1-28 2 0-3 0 2 0-1-1-1 0 3-35-2 1 6 34-3 1 1 0-1 1 0 5 3 3 0 3-3 0 3 1 0 2-2 1 2 1-2 0 2 4-1 0 1 1-1 4-1 1 1 1-2 0 2 2-1 0 2 1-1 1-1 0 2 1 0 1-2 0 2 3 0 2-1 0 1 1-1 0-1 0 2 1 0 2 0 2-1 1-2 0 1 1 0 2 2 1-1 3-2 0 3 2 0 0-1 3 0 2 1 2-2 4 0 9 2 1-3 1 1 1 0 4 0 1 1 1-1 1 2 3-1 6 1 5-1 18 1 29-2 11 0-2 5 0-1-1-1-31 3-8-2-17 2 0-3 0 1-1 0-1 1-1-2-1 1-3-1 0 2 0 1-1-1 0 1-2-1-1 0 0 1-1-2-1 2-2-3 0 3-2-2-1 1-1-2-5 3-1-3-1 0 0 1-1 1 0-1-2 1-2-1-2 0-2 2-2 0-1-1-2-2-6 1-1 0-2 0-2 1-1 1-5 0-2-3-1 0-2 0-2 3-1-3 0 2-1 1-1-1-1-2-2 1-2 1 0-1-5-1 0 3-1-3 0 1-1 0-2 1-3 1-1-1 0-1-1 0-1 1-2 0-3-2 0 3-1 0-1-3-1 0 0 2-2 1 0-1-1-2 0 3 0-1-1 0-33-2-1 3-1 0 0 3 36-1 0-1 0 2 3-2 0 2 2-1 0-1 0 3 1-3 4 0 0 3 0-1 1-1 1 2 3-1 1-2 0 2 1 1 0-3 1 0 2 1 2 2 3 0 0-1 1-1 1 2 4-3 0 3 2-2 1 0 1-1 1 3 2-3 0 2 1-1 3 2 2-3 3 1 0 1 1 0 1 1 1 0 2-2 0-1 0 2 2-2 0 3 1-1 2-2 0 3 0-1 1 1 0-1 1-2 3 0 1 0 1 2 0-2 3 2 3-2 4 1 2 0 1 1 0 1 1-1 5-2 1 1 3-1 1 3 1 0 1-2 1-1 1 1 1 1 2 0 0-2 2 3 18-1 15 0 28-2 2 1 8 4-58 1-12-2-3 0-7 1-1 0-2-1-1 1 0-1-1 1-4 0-1-1-4 0-4 0-4 1-3 1-4-2-2 0-4 0-1 0-2 0-1 0-3 3-8-2-12 0-14-1-1 0-8 0-3 0 0 2 0-1 0 2-36-1 0 1 0 4 36-3 0 3 0-1 101 5-1-2-17 1-2 1-5 0-12 0-64-1 0 1 0-3-1 0-34 2-1 1 0-2-1-1 1 4 1 0 35 0 0 1 0 2 1-1 33-1 5 2 1-3 1 2 14-1 9 1 1 0 2-2 4 1 2-1 1 3 4-1 0 1 2-2 1 0 1 1 0 1 2-2 5 0 1 1 1-2 2 1 1 1 4-1 12 1 1 0 6-1 1 0 3-1 1 2-7 2-2 3-2-2 0 2-2-1-1 1-1-3-8 0 0 3-4 0-3-3-1 1-1 0-2 1-4 0 0-1-3 2-3 0-4 0-6 0-7-2-1 1-4 1-23-3-1 3-32-3 0 1-1 0 0 2 0-1-34 0-1 2 35 3 1 0 1-2 38 0 7-1 6 1 5 1 4-2 0 1 3 0 2-1 4 0 0 2 4-2 6 0 1 1 3 1 3-2 1 3 2-3 2 1 7 1 3 1 3-2 2 1 3-2 1 0 1 1-14 3-5 1-4-1-10 1-7 1-9-2-9 0-4 0-10 1-9-1-31 0 0 2 0-1-1 1 1 2 0 3 1 0 10-1 42 1 2 0 7 0 31 2-4 1-7 1 0-1-27-1-9 0-23 1-11 0-1-2-1 3-1-2-3 1-5-2-1 0 0 3-1 0-36 4 0-3 37 0 8 1 0-1 1 0 2 2 0-1 0 2 1-1 37-1 30-1-69 4-2 1-1 0 91 10-3-2-8 1-14 1-1 0-2 0-7 0-10 0-1 4 2-3 0 1 8 2 8-3 1 0 1 0 0 1 4-1 0 2 1 1 5 0 1-3 3 1 8 0 6 2 0 2-3 1 0-1-2-1-2 0-8 1-3-1-1 2-6-2-1 3-3 0-8-2 0 2-1-2-3 0-7 1-1-1-86-1 87 4 0 3 0-1 1-1 0-1 1 3 14-3 8 1 2 0 2-1 20 0 1 2-49 2-1 3 1 1 1 1 0 2 1 0 0-3 26 2 1 1-6 1-20 3-1 0-2-1-88-2 88 7 0-2 0-1 1 0 0 1 1-1 0 2 1 0-1 4 0 1-1-2-1 0-1-1 0 3-13 0-6 0-1 1 5 0 5 0 0 3 11-3 0 1 0 1 2 0 23 0 7 0 3 1-33 3-1 1-2-2-10-1-5 0-1 1 2 5 3 1 12-2 0 2 1-2 0 2 1-1 15-2 3 1 12 2 11 2-1 1-5-1-6 2-14 0-14-3-2 3 0-3 0 2-1 0 0 1-8-1 0-2-3 1-1-1-3 3-5-3 2 6 3-1 1 2 16-1 0-1 0-1 11 2 4 1 11-2-10 6-15-2-2 1 0-1-1 1 0 1-7-2-8 2-1-3-3 3-3 3 23-1 1 2 1-1 18-2 6 0-5 7-20-3-1 3 0-1-1-1 0 1-9 1-5-1-1 0-6 0 0 2 4 1 4-1 2 1 11 1 1 1 0-2 18 0 2 1 1 0-20 5-2 0 0-3-1 3-1 0-14 0-2-1 0 2 2 2 1-2 2 0 3 0 9 3 1-3 0 3 1-2 1-1 0 3 1-3 16 1 3 0 22 0-41 3-1 0 0 1 0 2-1-3-1 0 0 2-1-2 0 2-1 0-17 0 1 4 1 0 16-2 0 2 1 1 1-3 0 2 14-1-12 3-1 3 0-1-1-1-1 2 0-1-1-1 0-1 0 3-1-2-16 0-1 3 3 1 0 1 16 1 0-2 0-1 0 2 2-1 1 1 15-2 5 6-2-1-18 1-1-1-1 1-1 0 0-1-1 0-1 0 0 2-13 0-2-1 0 1-3 0 1 2 17 0 0 1 1-2 1 0 0 3 1 0 0-1 1 0 1-1-1 5 0 1-1-2-1 0 0-1 0 3-1-3-1 3 0-3-15 1-1 0-1-1 18 5 2-1 1 0-10 11 1 0 6-1 12 0 1 3-9 2-12 0-3 0-8-1 0 4 2 1 9-2 4-1 8 2 28 0 1 1 10 0 5 0 2-1 3 0 3 1 4 0 6 0-12 1-1 0-2 0-16 0-24 0-10 1-5 2-4 0 0-1-1-2-5 1-1 1-1 0-2-1 0 3 4 0 20 2 1-2 19 8 0 1 57 6-13-1-44 1-1-1 0-1-4 2 4 1 2 3 6-1 10-2 4 2 26-1 4 0 42 6-37-3-21 0-38 3-2-2 26 3 17 1 4 0 11 1 1 0 2-1 26 2 11-1-8 3-27 1-3 1-10 0-4 0-7 0-1-2-23 2-3 2 1 2 38-1 12 1 1-3 3 0 27 5-29 0 0 1-1 0 0-1-24 1-28-2-9 2 0 5 1-1 28-2 32 0 1 3 2 0-2 1 0 3-1-2-1-1 0 1 0 2-2-3-40 3-10 0-3 0-2-2-2 0-1-1-11 1-4 1-5-2-21 0 9 5 0-1 8 1 2-1 10 3 15-3 0 3 1-2 56 0 0 2 2-3 0 1 0 2 1-3 0 3 0 3-1-2 0 3-2-2-1 2-2-1-29-2-5 3-6-3-14 1-1 1-1-2 0 1 0 2-26-2-6-1-2 2 1 2 4 1 29 1 1-1 1 0 6-1 2 0 48 1 1-1 1 1 2-1-59 6-1-1-21-1-13 1 0 1-5 0-7 3 43 2 0 3-25-2 9 5 16 2 2-2 1 2-2 2 0-1-1 1-35 4 1 0 0 2 1 0 1-3 0 2 0-1 0 2 1-2 1 0-1 3-1 0 0 2-1-1 0-1 0 3-1-1 0-2-1 1 0 4 1 0 0 1 2 0 1-1 0-1 1 1-2 6-1-3 0 2 0 1-1-1 0 1 0 1 1 1 1-1 1 2 32 4-4 1-6-1-24 1-1 0-11-1-5 1-2 0-3-1-3 1-3 0 0-1-7 0-2 3 8-1 6 0 1 1 3 0 2 1 2-2 2 0 0 1 4 0 4-1 5 2 0-1 1-1 1 0 1 1 4 1 2-2 8 0 7 1 0-1 2 1 1 0 2-1 8 1 1-1-28 6-17 1-2-1-7-2 7 7 1-3 1 0 0 3 0-1 1-1 0 1 1-1 0-1 1 1 0-1 0 2 1 5-1-3 0 1 0 2-1-3 0 2 0 1-1-2-1-1-1 0-1 2 0-1 0-1 0 4 4 3 0-3 1 1 36 2 4 2-30 0 0-1-10 0-1 0 0 2-2-2-1 4 0 1 1-1 1 0 0 2 1-2 0 2 15 0-13 5-1-2-1 0 0 2 0-1 0-2-1 2 0-1-1 2-1 0-1-1-1 3 1 0 0-1 1 3 1-3 0 2 1-1 0-1 2 2 0 4-1 1 0-2-1 0 0-1 0 3-1-3 0 3-1-2-1 1-1-2-1 4 2 1 1-1 0 1 0 2 1-2 0 2 1-3 0 2 0-1 1-1 0 3 1-1 0 1 13-2 1 0-2 4-2 2-9-3-1 1 0-1 0 3-1-2 0 2-1 0-2-3 0 3 0-1-1 1-1-2 0 1-1-2 2 7 1-1 0 1 1-2 0 1 0 1 1-1 1 0 1-2 12 3-12 1-1 0-1 0 0 2 0 1-1-2 0 2-1-3 0 2-1-2 0 6 1 1 1-2 1 2 1-2 0-1 0 2 1-1 0 1 10-1 2 3-10 0-2 0 0 2 0-1-1 2 0-2-1-1-1 1-1 0 0-1-1 3-1 4 2-2 1-1 1 0 0 2 0 1 1-2 1-1 1 2 7-1 2 2-9 3-1-1-1-1 0 1-1 2-1 0 0-1-2 1-1 3 0-1 0-1 1 2 2-2 0 3 1-1 1 0 0-1 1 0 0 2 1-2 10 0 0 6-11-2 0 2-1-1 0-1 0 2-1 0-1 0 0-3 0 1-2-1 1 4 0 3 1-1 0-2 1 1 1-1 0 1 1 1 0-1 10 4-9 1-1 0-2-2 0 3-2 0 0-1-2-1 0 4 0-1 1 2 1-1 1 2 0-3 1 1 1-1 0 2 1-2 0 2 0 4-1 0-1 0 0-1 0 2-1-3 0 2-3 0 0 1-1 3 2 0 1-1 0 2 1-1 2-1 2 5 0-1-2 1-1-1 0-1-1 3-1-3 0 2 0 1-1-2 0 2-1-1 2 3 0 2 1-3 0 3 1-2 1-1 2 3 0 4-1-2-1 0-1 0-1-1 0 3-1-1 0 1-1-2 0-1 0 3-1 3 1-2 0 2 1-1 1 0 1 0 1 2 1-1 1-2 10 0-11 4 0 2 0-1-1 1 0 1-1-1 0-1-1-1 0 2-1 0-1 2 1 3 0-3 0 1 2-1 1 1 0-1 0 3 0-1 1 1 8-3-8 7 0-2-1 0 0-1 0 2-1-1 0 4 1-1 0 2 0-1 0 2 1-1 1 0 0 1-1 2 0 2 0-1-1 4 0 1 0-2 0-1 1 3 0-1 0-1 0-1 1 2-2 2-1 4 1 2 1-2 0 1 0 6-1-1 0-2 0 4 0 1 0 2 1-2 1-1 0 4-1 0-1 0 0 2 0-1 0 2-1-3 1 4 1 0 15 0 0 2 1-1 0-1 0 3 0-1 1-2 23 4-23 1 0 2-16-1-1-1 0-1 0 2 0 1-1-3 0 1 0 2 0 1 0 2 0-1 1-1 0 1 14 0 1-1 0 2 0-1 1 1 0-1 1 0 21 0 1-1 6 6-16 1-5 0-24-1-1-1 0 2 0-1-1-2 0 7 1-1 0 1 1-3 0 2 0 1 1-2 22 1 2 1 2-1 21 5-4-3 0 1 0 2-1 0-1 0-1 0-2-2-1 1-1 0-13 0 0 1-23 0-2-1-1-1 2 3 0 1 0 2 24 0 5-2 8 0 1 1 1-2 1 1 0 2 0-1 1 0 0 1 1 0 0-1 2-1 0 2 3 2-2 1-2 0-1-2-2 1 0-1 0 3-1-2-2-1-1 0-8 2-28 1 0-1-1-1 0-1 0 2 0 1 0 4 1-2 0 2 1-2 0-1 20 2 9-2 5 3 2-3 0 1 0 2 2 0 1-1 2-2 0 1 0 2 1 0 0-1 1-2 0 1 1 0 0 6-1-2-1 0-1-1-1 0-3 2-3 0-5 0-30-2 0 3 0-1-1-1 0 2-1 4 1-2 0-1 1 1 29-1 2 1 7 0-37 5-1-1-1-1 0 4 0 1 0 1 1 0 15-1 2 1 0 5-1-1-1-1 0-1 1 8-1 0 1 5 21-1 1 2 3-1-27 3-1 14 7 0 17 3-1-1-21 3-3-1-4-2 7 5 21-1 1 2 1 2 0 3-3-3 0 3-18-3-2 3-6-3-1 5 3 1 1-2 22 3 1 0 0-2 0-1 1 3 0-3 1 0 1 0 0 2 0-1 0 4 0 1-4 0-14-2 0 1-26 5 42-2-44 4 0 1-3 2-1-1-2 1-1-2-4 2-7 2 4 2 3-3 0 2 1 0 0 1 5-1-6 3-3 1-3-1 0-1-11 3-2 2 1-1 0 2 0 1 1-3 0 2 1 0 0 1 1-3 1 3 2-2 1 2 4-3-9 4-1 0 0 3-1-3 0 2 0-1 0 2-1-3 0 1 0 2 0-1 0 2 0 3 0-1 0-1 1 2 1 0 0-1 0 4-1 1 0 3 1 0 0-1 0 2 0 1 0 3 0-1-1-1 0 2-1-2 1 4 0-1 1 0 0 2 9 4 0 1 0 1 0 2 1 4 0-1-1 2 0-2 0-1 0 2 0 4 0-1 0 2 1-3 40 1-40 6-1-3 0 1 0 2 0-1 0 4 0-1 0-1" fill="none" stroke="none" marker-start="url(#mr)" marker-mid="url(#mr)" marker-end="url(#mr)"/>
<path transform="scale(.5)" d="M608 119l19 6 0 2 0-1-1 0-1 1-2-2-2 0 0 2-1-3 0 3-1 0-10 2 8 0 3 2 1 0 0-2 1 1 0-1 0 2 1-1 1 0 1-2 0 2 1 0 0 1 41 3 0 1-6 0-2 0-3 0-29 0-2-3 0 2 0-1-1 1 0-1-1-1 0 1-1 0-2 0-2 0-10 0 0 2 0 4 0-1 12-2 1 0 0 1 0 2 1-3 1 1 0 2 0-1 2-1 0 1 13 1 2-2 3-1 0 3 1-1 4-2 1 1 15 2 4-3 5 2 49 5-48-2-3 1 0-1-1-1-4 0 0 3-11-2-2-1-3 3-3-1-21 1 0-2 0-1-2 3-1-2 0 2-1-1 0 1-2 0 0-3-1 1 0 2-2-2-8 0-1 2 1 3 8 1 3 0 1-1 0 1 1-2 0 2 0-1 2-2 0 1 1 2 1 0 0-3 1 2 0-1 1-1 9 1 3-1 0 2 2 1 5-2 0 2 17-1 2 0 6-2 47 2 11 1 2 0 20-1-30 3-20 0-34-1-1 1 0 1-3 1-2 0-2-1-5 1-7 0-4 0-18 0-1-3-1 0-1 0 0 1-1 0-1-1 0 1 0 1-1-1 0 1-1-1-1 0-9-1-1 1 11 3 0 3 1-2 1-1 0 2 2-2 1 3 0-2 1 2 1-2 0-1 0 3 7-3 16 0 4 0 3 0 5 1 7 0 0 2 4-3 13 0 9 0 36 1-58 3-2 2-2 1-3-1-3 0-4 0-15-2 0 3-3 0-3-3-2 3-9-1 0 1-1-1 0 1 0-3-1 3-1 0-1 0 0-3-1 0 0 1 0 2-1-3 0 2 0-1 0 2-1-3 0 2 0 1-10-3 10 6 0 1 1-3 2 1 1-1 0 3 1-3 0 3 1-3 0 1 0 2 13 0 1 0 2 0 5 0 5-3 4 3 3-3 9 1 6 4 0 1-5 1-3-2-1 0-2-1-3 2-2 1 0-3-1 1-4 2-1-2-3 1-1-1-6 2-1-2-8-1-6 3-1-1-1-2 0 2-1-2 0 3-1-1-2-2 0 2-1-1 0 2-1-1 1 5 0-3 3 0 1 2 0 1 1-1 2-1 1 2 1-2 8 0 1 1 1-1 6 1 6 1 0-1 10 1 1 0 2 0 1 0 6-2 0-1 2 1 0 3-15 1-2-1-13 0-14 2 0-1-3 1 0 1-2-3-1 0 0 2-1 1-2-3-10 0 0 3-1 4 1 0 10-3 0 1 1 2 1-1 1 1 0-2 1 0 0 1 0-2 1 1 0-1 2 2 2 4-2 1-1 0-1-3-1 2-1-2-1 1-1 0 0 2-1-3-11 3 0 1 0 1 0 2 0-1 1-2 8 1 2 2 1-1 1-1 0 1 3-1 0 2 0-3 1 0 0 3 2-3 0 1 14 1 0-1 1 1 0-1 0 2 0 4 0-3-1 0-15 3 0-1 0-1-1 2 0-3-1 3-1-2 0 1-1 0-1-2-1 0-2 3 1 4 1-2 1 0 0-1 1 1 1-1 1 2 1 0 1 0 15-1 0-1 0 3 1-3 0 3-1 3 0 1-15-3-1 2-1-1 0-1-1 3 0-3-1 3 0-1-1 1-1 0 0-1-1 1-11-3 1 5 8 0 2-1 1 3 1-2 0 2 0-1 1-1 1 2 0-1 3-1 0 2 1-2 0 2 13 0 1 0 0-1 0-2 1 2 0-2 0 5 0-1 0 2-1-2-18 2-1 0 0-1-1 1-1 1-11 2 8 1 3 0 0 1 0-3 1 0 0 3 1-2 0 2 1-2 1-1 0 3 1-2 1 1 14 1 1-2 1 2 1 0-1 1-16 3-1 0-1-3 0 2-1 0 0-1-1 0 0 1-1-2-1 1 0 2-11-2 0 2-1-2 1 4 11 0 1 0 0 1 1 1 1-2 2 0 0 1 1-1 1 0 0 2 14-2 0 1 1-1 39 5-10 0-29-2-2 2-14-1 0-1 0 2-1-2 0 2 0-1-1 0-1-1 0 2-1-2 0 2 0-1-1 1-2-2 0 2-1 1-9-3-1 0 0 2 0 4 11 1 1-3 0 2 1-2 0 1 1 0 1-1 0 2 0 1 1-2 1 1 2 1 1-1 12-1 1 0 0 2 28-3 3 3 8 0-2 1-10 0-14 1-12 2-1 0 0-1-14-1-1 0-1-1 0 2-1 1 0-1 0-1-1-1-1 1 0 1 0 1-1-2 0-1-1 1-1 2 0-1-11 2 10 3 1-1 1 0 0-1 0 2 2-3 3 1 0 2 1-3 31 1 6 0 3-1-24 4 0 2 0-1-1 0-14 0-1 1-1 1-1-1-1-2 0 2 0 1-1 0-1-3 0 3-1 0-1-2-10 0 0 6 9-1 1 1 1-1 0-1 0-1 1 0 0 2 0-1 1 0 0-1 0 2 1 1 1 0 0-3 2 0 0 3 0-1 3-2 12 2 1-1 0-1 0 2 3 5-2-3-1 0-15 3 0-2-2 2-1-2 0-1 0 2-1-1-2-1-1 3-1-3-1 3-9-3-1 3 2 3 1 1 6 0 3-1 0-1 1 1 1 1 0-1 1-2 1 1 0 2 1 0 1 0 1-2 0 2 1-3 0 1 2 1 1 0 1 1 2-2 0 2 3-3 2 1 1-1 1 3 1-3 1 2 1 0 2 0 0 1 1-1 1-1 1 2 1-1 2 1 1-1 1-1 1 0 3 1 1 1 1 0 3-1 2-1 1 1 0-1 0 2 3-1 0-1 6-1 1 1 0 2 1 0 2-1 0-1 0 2 1-1 0 1 2-1 2 0 7-1 4 2 9-1 1 1 13-2 12 5-2-1-2 2-8 0-35-2-1-1 0 2 0-1 0 2-1-2-1 2-2-3 0 2 0-1-1-1 0 1 0 1-2 0 0-1-1-1-1 1-2 1 0-1 0-1-2 0 0 1 0 2-1 0 0-1-3 0 0 1-1-2-1 1-1 0-2 1 0-1-1-2 0 1 0 2-1-2 0 1-2-2-1 1-2 0 0 1-1-1-2-1-1 0 0 3-2 0-1-1-1-2 0 2 0 1-2-3-1 2-1 0-2 0-1-2-1 3-1 0-1 0-1-3-2 3 0-1-2-2-1 2-1-2 0 1-1 1-1 0 0-1 0-1-2 3 0-1-2-1 0-1 0 3-1-3 0 3-1-3 0 3 0-1 0-1-1 1-1-1 0 2-5-2-3 2-1 3 0 1 2 0 1 0 6 0 1 0 0-1 1-1 0-1 0 2 0 1 1-2 0 1 1-2 0 2 0 1 1-3 0 3 0-1 1-2 0 3 1-1 0 1 0-2 1 1 1-2 1 2 1 1 0-3 1 1 1 1 0 1 0-3 1 3 0-1 2-2 0 2 0-1 1 2 1-3 1 3 1-2 0-1 1 2 1-1 0 1 1 0 1-2 0 3 1-2 1 1 2 1 0-1 1 0 1-1 0 2 1-3 0 2 1-1 0-1 0 2 1-1 0-1 0 3 1-1 2 1 0-1 1 1 0-1 1-2 1 3 0-1 1-2 1 2 2-2 0 2 1 1 1-3 1 2 0-1 0-1 3 0 0 2 2-2 0 1 0 1 2-1 0-1 0 2 1 0 1-2 0 2 1 0 1-1 0 2 1-1 1 1 2-2 0 2 1-2 0 2 1 0 2-1 39-2 9 0-20 5-1 0-26-1-1 1 0-1 0 2-2-2 0 1-1-1-1 0-2 0-1 1-1 0-3-1-1 1 0-1-1 0-1 1 0-1-2 0-2 1-6 1 0 1-4-3-2 0-5 1-1 0-1-1-1 0-1 0-1 2-1-2-1 1-2-1-1 1 0 1-3-2-1 0-4 1-1 1-1-1-2-1-1 1-1-1 0 2-1-2-1 0 0 1-1-1 0 2 0-1-1-1-1 0 0 1-9-1-1 0 33 7 0 2 0-1 0 2-15 1-1 0 1 2 15-1 0 2 0-1 0 3 0 2 0-1-1 1 1 3 0-1 0 3 15 4-15-3 0 2 0-1 0 2-12-1 0-1-1 1-1-1 0 1-1 0-3-1-1 0 0 1-3-2 0 7 1-2 0 2 2-2 1 1 0 1 1-1 0-2 2 3 0-1 1-1 0 2 0-1 1-1 0 2 2-2 0 2 1-2 0 2 9 0 1 0 0-3 0 2 12-2 7 1 3 0 4-1 5 2 5-2 1 0 0 2-37 2 0 3-6 0-1 0 0-1-2-1-1 1 0-1-1 1-1-2-2 1 0 2 0-1-1 0 0-1-1-1 0 3-1-1-1-2 0 1-4-1 4 4 6 1 0 2 1-2 1 2 2 0 1-3 0 2 1-1 0 1 1 0 1-1 4 2 0-2 0-1 0 2 0 4 0-1 0 2 0-3-1 3-1-1-2 0-1-1-1 2 0-3-1 0-1 1-1-1 0 2 0-1-1-1 0 3-1-3 0 2 0-1-1 2-1-2 0 2-1-1 0-1 0-1 6 6 1-1 0-1 1 1 0-1 2 0 1 1 2-1 1 1 0-1 0 2 41 3 0 2 0-1-1 0-15 1-12 0-13 0 0-2 0-1 0 2-1-1-33 6 34-3 0 1 0 2 16-1 5 1 1-1 16-1 3 2 0-2 0-1 1 0-1 6 0-1 0 2-1-2-7 0-10 0-3 1-5 0-4-2-10 3 0-1-1-2 0 1 0 2 0-1-14 2 14 2 0-1 0-1 0 3 3-1 0-1 17-1 21 1 0-1 0 3 0-1 0 5 0-2 0-1-41 0 0 2 0 1-1 2 1-1 20 2 21-2 0 1 0 2 0 2 0 2 0-1-21 0-1 0-8-2-11 0 0 3 0-2 0 3 0 2 0-1 0 2 41-3 0 3 0-2 1 5-1-2 0 2 0-1-41-1 0 2 0 1-1 4 1-2 0 2 0-1 1-1 40 0 0 2 0 2 0-1 0 2-40-2-1 0 0 2 0-1 0 2-1-1 1 5 0-3 0 2 0-1 41-1 0 2 0-1 0 2 1-3-1 7 0-2-41 0 0-1 0 3 0-1-33 1-1 0 0 1 0 2 33-1 1-1 0 3 13 0 28-2 0-1 0 3 0-1 0 2 0 2 0-1 0 2-24 0-17-2 0 2 0-3 0 2-33-1-1 1 0-2 34 4 0 1 0 2 0-1 14 1 27-2 0 2 0-3 0 2 0 3 0-1 0 3-41 0 0-2 0-1 0 2 0 4 0-1 0-1 9 3 6-3 3 0 23 3 0-2 0-1 0 2 1-1-1 5 0-1 0-1-35 1-6-1 0 1 0 1 0 3 0-1 0 2 11 1 30-3 0 3 0-1 1 2-1 0-19 0-21 1-1-1 0 2 0-1 0 2 0 4 0-1 13 0 14 3-13 0-14 0 0-1 0 3 0-1 0 4 0-1 0 2 1 0 11 0 18-2-15 4-15 1 0-1 0 2 0 4 0-1 0-2 27 2-27 3 0-1 0 3-15 0-8 1 0 2 4 0 0-1 1 0 0-1 1 2 1 0 3-1 2 0 11-1 0 2 0-1 0 2 0 1 1 7 20 0 30 4-1 0-11-3-2 3-6 0-7-3-17 1 0 2-2-2 0 2-1-1 0 1-2-1-1-2-1 1 0 2-34-1 0 1 0 1 32 3 1-2 3 2 1-2 0-1 1 1 0 2 1-1 1-1 2 0 3-1 24 3 5-1 6 1 2-3 1 3 3-1-2 2-19 2-23-2-1 0 0 2-1 1 0-2 0-1-1 3-1-3 0 3-2 0 0-1-1-2-2 0 0 2-2 4 1 0 1 0 0-1 0 2 2-2 6 1 1-1 1 2 26-2 0 2 10-3 4 0 4 2-29 2 4 10-1 1-1 0 1 3 2 0 1 0 1 1 1 0 20 2 0 2-1 0-21-3 0 2-1 0-1-1 0-1-20 3-5 0-2 2 9 0 17-1 0 3 1-1 23-2 0 2 2 1 1 0-3 2-20 1-4-1-1 4 1 0 1 1 2 1 0-1 46 0 1 1-1 2-45 1-1 1-1-2-1 2-1-3 0 3 1 3 1-2 0 1 1 0 0 5 0 1-2 0 0-3-1 0 0 3-17-1-1 0-11 4 1-2 2 0 2 3 1 0 1-3 2 3 20-3 1 1 0-1 3 5-3 2 0-3 0 2 0-1-1-1 0 2-1-2-18 1-1-1-2 1-3 1-2 0 0-1-1-1 0 2 4 3 6-1 2 2 16-2 2 0-48 11 23 0 26 0 3 0 4 0 8 0 2-1 5 5-2-2-3-1-4 2-4-2-1 0-4 2 0-1-3 0-1 1-2 0-1-2-5 3-1-3 0 2-1 0-1 0-3 1-4-3-1 0 0 1 0 1-7 0-2-1-3 2 0-1-2-1-5-1-2 1-3 0-1 1-7-2 0 5 5-1 2 1 4-1 12 2 7-2 2 3 1-3 1 0 4 1 0-1 0 2 5-2 5 1 3 0 3-1 6 2 4-1 3-1-37 6-3 1-9 0-10 1 0 3 5-3 2 0 0 1 1 2 2-1 2 1 1-3 2 1 0 1 1 1 3-1 0-1 1 0 0 5-2-2-3 2-2 0-1 0-1 0-1-1-2 0 0-1-1 1-2 2 0-3 0 2-2 0-3 4 1-1 0 2 1 0 1-1 1 1 2-3 0 2 5 0 3 1 0-2 3 1 0-1 2 1 1 5 0-1-3-2-2 1-1 0-1 0 0 2-1-3-3 2-4 1-1 0-1 0-1-3-23 5 0 2 2-2 0-1 1 0 1 3 0-1 1 0 1-1 1 0 2 0 1 1 2 0 1 1 1-1 0 1 1-2 1 2 2 0 2 0 2-2 0-1 0 3 1-3 1 0 0 2 1-1 1-1 0 3 1-2 1 0 0-1 2 1 1-1 1 2 3-1 1-1 0 1 0 1 1-2 5 2 1 0 1 1 9 0 1-1 0 1 3-1 2 0 1 0 0-2 3 3 0-1 3-1 3 2 0-1 1 0 2 0 1-2 1 2 1 0 2 1 3 0 2-3 0 2 0-1 1-1 0 3 0-1 2 0 3-1-2 4-1 2-1-3 0 3-2-3-1 3-4-2-2 0 0 2-3-3-2 2-1 0-2-1-5 0 0 2-1-2-1 0 0 1-2-1 0-1-1 0 0 2-1 1-1-2 0 2-2 0-4 0-1 0-1-2 0-1-1 0-1 1 0-1 0 2 0 1-1 0-1-3-3 1 0 1-1 0 0 1-1-1-1-1 0-1-1 0-2 1 0-1-1 3 0-1-1-1-4 0 0 1-3 1-2-1-1 0-1 0 0-1 0 2-2-2-2 2 0-3 0 2-1-2-2 0 0 1-2 0 0 2-1-3 0 2-5-1-2 2-3 0 0-1-1 1 1 3 0-1 1 0 1-1 1 1 1-1 1 2 1-1 1-1 1 1 0-1 7 1 3 0 5-1 2 2 0-1 4-1 4 0 10 0 1 0 3 0 9 0 1 0 13 0 0 1 5-1 0 1 8-1 2 1 1-1-47 7-2 0-2 0-2-1-1 1-1 0-6-1-6-1-1 2 0-1-3 0-4 0 0 1-1 3 2 0 2-1 0 2 1-3 0 2 3-1 1-1 2 3 2-3 1 0 0 3 0-1 1-2 0 1 1 0 0 2 1-3 0 3 0-1 3 1 2-2 4 1 0-1 1 1 0 1 2-1 2 0-2 4 0-1-1 0-1 2 0-1-1 0-1 1-1-1-2-2-1 1-1 0-1 2-1-2-1-1-1 2 0-1-3-1-1 2 0 1-1 0-1-2 0 2-1-1-1 1 0-1 0-2-1 2-1-2 0 1-2 2-2-3 0 1-1 1 0-1-2 6 4-3 0 3 3-2 0-1 0 2 1-2 0 3 2-1 1-2 1 2 1-2 1 2 1-2 1 1 1 0 0-1 2 2 2 1 1-3 1 3 0-1 1 1 0-1 1 0 1-2 0 1 2 1 1 1 2-1 0 1 16 0 33 1-1 0-1 0-2 0-1 0-4 0-2 0-1 0-1 0-1 0-2 0-3 0-1 0-3 0-2 0-2 0-1 0-2 0-3 0-3 0-2 0-1 0-9 0 0 2-1-2-1 0-1 0-1 3 0-2 0-1-1 0-1 0-2 3 0-1-2-1 0-1 0 3 0-1-1-2 0 2-1-2-2 3-1-2 0-1-1 0-2 0 0 2-1-1 0 1-1 1 0-2 0-1-1 0-1 0 0 1-2-1-2 1 0 2-1-3 0 2-1-1-1 0 0-1-1 0-1 1 0-1 0 2-1-2 0 2-1-2-3 0-1 0-1 0 0 1-1-1 7 6 1-2 1 0 0 3 1-3 1 3 2-3 1 1 0 2 1-1 1-1 3-1 1 1 4 2 0-1 0-1 6 2 1-3 0 3 1-2 1 1 1-1 1 0 1 0 0 2 1-1 1 1 1-1 1 5-2 0-1-1-2-2-1 0 0 2 0-1-2-1 0 2 0-1-1 0 0 2-3 0-2-3-2 3-1 0 0-1-1 1-1 0 0-1-1-2-4 3-1-3-2 2-1-2-1 1 0-1-1 1-1 0 0 2-15 3 1 0 6 0 2 0 1 0 1 0 2 0 1 1 1-2 0 2 0-1 1-1 2 0 0-1 0 3 0-1 1 0 1-1 0 1 1 0 1 1 0-1 1 1 0-1 1-2 1 1 0-1 1 2 1 0 2-2 1 1 0 1 1 0 1-2 0 3 0-1 1-2 0 2 2-2 0 3 2-1 2-1 1-1 1 3 0-1 2 3-1 0-1-1-1 3-1-2 0-1 0 3-1 0-1-2 0 2-1-3-1 1 0-1 0 2-1 1-2 0-1-2-1-1-1 3 0-2-1 0-1 0-1 0-4 0-2 2-1 0-1 0 0-1-1-2-1 2-1 0-1 0 0 1-1 3 1 0 0-1 1 0 3 2 1-1 1 0 1-2 0 1 1 0 0 1 1 0 2-2 0 1 1 2 0-1 1 1 2-2 1 0 3 2 1-3 1 0 1 3 1-2 1-1 1 0 6 3-1 2-3 1 0-2-1 1 0 2 0-1-1-1-1 2-2-3 0 2-5 1-2 0-2-2-1 1 0-1-1-1 0 3-1-1-1 0-1-2-1 3-1 0-1-1-2 1-3 0-1-2 0-1-6 3-7 4 3 0 1-1 0-1 1 0 0 2 1-3 0 2 0-1 2 1 1-1 0 2 1-2 0 2 1-3 0 2 0-1 1 0 0 1 1-1 0-1 1 1 0 1 0 1 1-2 0 2 1-1 0-2 2 1 1-1 1 0 2 2 0-1 0 2 1-2 0 1 1 0 0-1 1-1 0 2 0-1 0 2 1-3 0 2 0-1 1-1 0 2 1-1 0 2 1-3 0 2 1-1 0-1 1 0 0 3 1-3 1 2 0 1 0-2 0-1 1 1 1-1 2 2 1-2 0 2 3 1 1-1 1-2 3 5-4 1 0 1-1-1-1 0-1 1-1-1 0 1-1-1-1-2 0 2-3 1-1-1-1 0-1 0 0-1-1 2-1-3 0 2-3-2 0 2-1 0-1-2 0 2-1-2 0 2-1-1-1 0-1-1 0 2-1 0-1-1-1-1 0 1-1 1-1-2 0 2 0-1-1 2 0-1-1-2-1 0 0 2-1 0-1 0-1 0-2-2-1 2-1 1-1-1-2 0-1-2 12 4 1 0 4 1 3 0 1 0 5 0 0 1 3-2 2 0 1 1 2 1 4 0 1-1 5-1 1 0 0 6-5-1 0 1-1 0-1 1-4 1 1 1 1 0 1 1 1-2 1 1 0 2 1-3 1 0 0 3 1-1 1-2 0 2 1-2 2 2-1 3 0-1-1 2-1-2-5 3-1-3 0 1 0 2-36 4 0-2 1 1 1 1 1 0 0-2 1 1 1 0 2 1 1-2 0 1 1-1 1 0 0-1 0 3 3-1 1 0 0 1 1-2 0 2 3 0 1 0 1-2 1 1 0-1 1 2 1-3 0 3 1-3 1 3 1-2 0 1 0 1 1-2 0 2 2-1 0 1 2 0 2-1 1 0 1 1 1-2 0 1 1 1 1-2 0 2 1-2 0-1 1 1 0 1 0 1 1-2 0 2 3-2-1 3 0 1-1 1-2 0-1-2 0 2-2 1-1-1-1 0 0 1-8 0-6-3-2 1-1-1-5 0-10 0-2 4 2 0 1 0 3 0 2 0 1 0 1 0 4 0 2 0 2 0 1 0 2 0 6 0 2 0 2 0 4 2 2-2 0 2 2-1 0 2 1 0 0-1 1-2 1 0-1 4 0 2-1-1 0 2 0-1-2-1 0-1-1 3-3-3 0 2-1-2 1 5 1-1 0 2 3-1 1 0 1-1 1 0 0 2 1-2 0 5-2-1-1 1 0 1-1-2-1 1-1 0-1 0 0 2-1 0-1-1 0 2 2 3 0-1 1 1 1-2 3-1 1 0 0 3 1 0 0 4-1-2 0-1-1 2 0 1 0-3-1 2 0-2-1 0 0 2-1-2-1 0-3 2-2-2-1 0-2 0-3 0-1 0-2 0-1 0-1 0-2 0-1 0-2 0-1 0-3 0-2 0-2 0-2 0-4 0-1 0 33 7 2-2 0 2 3-3 0 2 1 0 1 1 3-1 0 5-1-2 0 1-1-1 0 1-1-2-1 3-1-2 0 1-1 1 0-3-2 1 0 2-1-3 0 2-13 2 1 0 1 0 3 0 1 0 1 0 2 0 1 0 1 0 1 0 1 0 2 1 0-1 1 2 1-1 1 0 1 1 1-2 1 0 1 3 1 0 0 4-1-1-1-2-1 3-1-1 0-1 0 2-1-1 0 1-1-1-1 0 0-1-1-1-4 1 2 5 1 0 1-1 0 2 2-3 1 3 0-1 1 0 0-2 0 3 1-3 0 1 0 2 1-2 1 2 1-3-2 5 0 1-1-2 0 3-1-2 0-1 0 2 0 1-1-1 1 2 0 1 1-1 0 1 1 1 0 1 0 4 0-2-1 1 0-1 0 2-1-3 0 1 0 5 0 1 1-3 0 2 1-2 0 2 1-2-1 5-1-1 0 1 0 2-1-3 0 1 0 2-5-1-2-1-2 1-1 0-2 0-1 0-1 0-1 0 0 1-1-1 16 5 0-3 1 0 0 2 0-1 1 2 0-1 0-1 1 6 0-1-1-1 0 2 0-1-1 0-2 3 1 2 0-3 1 2 0-1 1 0 0 1-1 4-1-2-1 1 0-1 6 7 22 3-4 0-1 1-5-3-2 2-3 0-1 1-3-2-2 0-3 6 2-1 9-1 1 0 1-1 1 1 4-1 2 3 1 0 0-2 0 5-11 1-1-1-9-1 0 2-1-2-1 2 8 1 14 0 14 3 1-3 1 3-1 3 0-2-1 3 0-3 0 2-1-2 0 1 0 2-31-1-4 1-10 3 2 0 1 0 9-2 2 0 0 3 0-1 1 0 1-2 29 1 1 0 0 2 1 3-1-1 0-1-1 0 0 2 0-1-10-1-16 0-3 3-2-2 0-1-1 1 0-1-1 0-1 2 0 1-1-2 0-1 3 7 1-2 34 2 0-1-1 5-1-3 0 2-1-2 0 1-33 1-1-1 0 2 0 1 1 3 0-1 1-1 1 0 1-1 0 3-2 2-1 0 0-1-1 2-1 5 1-1 1 1 1-2 0 2 1-2 0 1 10-2 0 2 3-2 0 2 1-1 16 4-15 1-1-1 0-1-1 2-1-1 0-1-14 7 2-1 11-2 2 0 1 3 17-3 1 5-1 2 0-1-19-1-1-1-9 2-2 0-1-2-2 2 0 3 0 2 1-1 12-1 1 0 0 2 2 0 1-2 17-1 0 1 1 0 0 3-1 1 0-1 0 3 0-1-16-2 0 1-1 2 0-1-2 0-2 1-8 0-2-3-3 1-1 0 4 3 1 1 11 0 0 2 1-1 17-2 1 2-18 4-1-1 0 1-1-1-1 2-9-1-1-2-5 3 1 2 1 1 1-2 1 1 1-1 0 2 0 1 12-2 0 1 1-1 1 2 1 2-1 2-2-3 0 1 0 2-2-3-9 0 0 3-1 0-1-2-2 1 0 1-1-1 2 2 2 2 1-1 0 2 0-1 0-2 11 0 2 0-12 6-1-1-1 1-2-2-1 0-1 0 0 3-2 4 1 0 1-3 4 0 0 2 1-1-5 3-2 0 0 1-2-1-3 1-2 0-1 0 0 1-2-1-8 10-3 0-1 0 0-1-2 0 0 3 1 2 0-3 1 0 1 2 0-2 1 1 0 2 0-3 1 2-1 2-2 1 0 1-1-2 0 3-1 0-1-1 0 2 1 0 0 1 0 2 1-3 0 2 1 0 0-1 0-1 1 2 1 4-1-1 0 1-1-2 0 2 0-1-1 1-1-2-1 0 0 3 0 2 0 1 1-1 0-1 0 3 1-2 0-1 1 3 1-3-1 7-1-3-1 1 0 2-1-3 0 3-1-3-1 5 0 2 1-2 0 2 1-1 0-1 0 2 1-2 0 1 0-2 1 1-1 4-1 2-1-2-1 0 0 2-1-2 2 3 0 1-11 5 0-1 0 2-1-2 1 3 1 1 14 2 0-1 0-2 0 1 0 3 0 3 0 1 0 2 0 1 0 2 0-1 0 2 0 3 0-1 0 3 0-1 0 3 0-1" fill="none" stroke="none" marker-start="url(#mb)" marker-mid="url(#mb)" marker-end="url(#mb)"/>
<path transform="scale(.5)" d="M905 127l-2-1-1 1-12 1 4 3 7-1 2-1 11-1 4 1 3 1 4-2 3 0 0 2 3-1 2 2 15 3-4-2-5 2-6 1-2 0-7 0-6-2-3-1-4 3-2-2-5 1-13-2-1 0 5 5 1 0 4 2 6-2 4 1 4 1 1-2 3-1 8 1 0 2 5-1 150 5-120 0-29-3-5 0-2 0-2 0-11 0-2 3-1-1-10 0-4 1-6-1-17-1 21 6 4 0 5-3 14 2 2-1 1 1 0 1 4 0 2-2 7 0 0-1 0 2 87 1 62-2 0 3-55 3-35 0-15 0-4 0-26-2-12-1-10 2-2 1-7-2-1 1-23-2-1 2 2 3 1-1 10 0 2 1 6-1 4 3 6-3 91 3 69-1 0 3 0 2-61-1-72 0-7 0-8 0-4 1-2-3-4 1-9 1-6-2-5 3-1-3-2 2-1 1-5-1-2-1 0 2-1 3 1-2 4 3 4-3 3 0 15 3 2 0 0-3 0 1 8-1 3 0 1 1 6 0 77 2 9-3 56 4-91 0-44 1-20 0-5-1-1 3-1-2-2 0-9 0-6 1-2 0-1 1-2-3-2 0 0 3-3-1 0-1-3 5 0-1 10 1 3 0 2 1 5-1 1 0 4-1 2 2 4 0 1 0 7-2 1 2 1-1 1-1 2 2 16 0 1-1-8 2-2 2-11 0-1-2-2 0-5 2-1 1-1-3-2 0 0 1-2 2-13-1-1-2-9 0-2 1 4 4 1-1 9 0 3 2 5-2 3 0 9 0 2 0 14 2-11 5-31-1-24 4 1 0 22-2 5 1 1 1 5 1 13-1 9 4-2 1-10-3-7 3-2-2-16-1-2 3-2 1 32 3 1-3 1 2 2 1 4-3 3 2-10 5-14-1-3-2-11 1-2-1 0 1-2 4 2 2 1 0 5-1 9 1 14-3 11 0 2 0-30 7-2 0-9 0-3 0-17-1 1 2 18 2 1-2 8 1 3-1 3 2 5 0 13 1 5-1 3-2-2 6-4-1-21 1-32 0 21 2 0 3 17-3 2 2 13-1-1 5-8-2-9 2-3-2-2 2-5-1-5 1 3 2 13 2 3 1 4-3 3 2-5 4-7-2-12 3-3 0-20-1 2 5 21-2 3 0 12 0 1-1 14 0 154 14-4 1-21-2-11 2-57 0-10-1-31 1-5 0-1-1-2 0-2 1-7 0-12 0-3-2-4 1-9 1-1-1-8 0-18 1 20 2 0 2 4-1 3 1 2 0 1 0 0-3 0 1 1-1 0 2 4 1 2-3 0 1 4-1 1 3 2-1 0-1 1 1 2 0 2-1 3-1 2 0 3 2 2 1 3-3 0 1 0 2 1-3 0 3 1-1 2-1 2 1 4-1 2 0 2 1 20 0 26 1 16-1 24-2 4 2 4 0 26-1 7 0-4 3 0 3-2-1-8 1-2 0-22 0-1-2-5-1-7 1-14 1-2 0-7-1-10-1-15 0-4 1-5-1-6 1-5 0-7-1-3 3 0-1-2 1-1-3-1 0-1 2-1 0-2 1-1-1-2-1-1 1-1 0-3-1 0-1-1 0-2 0-1 2-2-1-4 1-2 1 0-1-3-1 0-1-1 0-2 0-3 1 0 1-1 0-1 0-3 0 0-1-1 2-2-2-1 1-1-1-1-1-1 0-1 1-4 1-1-2-2 2-1 1-1 0-1-3-14 0-1 5 1 1 16 1 3 0 1-3 1 3 1-2 5 0 0 2 1-3 1 2 0 1 8-1 3 1 1 0 1 0 0-1 1-2 5 0 2 2 2 1 3 0 2 0 1 0 1-1 1 0 1 1 2-2 1 1 1-1 0-1 1 0 2 2 1-2 1 3 2-1 3-2 12 0 12 0 2 0 5 0 6 2 4-2 10 2 6-2 3 1 10 2 7-2 12-1 7 2 4 0 14 0 5-1 7 0 1 1 5-1-4 4-30 1-21 0-23-2-22 0-13 2-2-2-17 0-2 0-2 0-4 0 0 1-3 1-2-2-1 1-1 1-2-1-2 0-1-1-14 2-4 0-1-2-10 0-3 0-1 1-2-1-21 3 0 2 90 1 3 0 108 3-18-1-4 3-74-3-8 3-28-3-20 0-23 1-25 3 47 0 7 0 7 3 17-2 11-1 22 2 19 1 16 0 5-2 18 0 13-1 1 3 12-2 7 2 5-3 1 2 0 3-71-1-51 2-6-1-2 1-18-1-9-1-4 2-6 5 81-3 21 1 8 2 10-1 4-1 43 0 0 2 0-3-20 6-16 1-2 0-37-1-23-2-5 1-51 2-19-2 4 4 42 0 39-1 55 1 33-1-156 7-26-1-2 0-1 1-3-1-20-1 10 4 3-1 7 0 7 3 5-3 2 3 0-2 3 0 1 0 5 1 1-2 3 2 1-2 4 3-7 4-2-3-1 3-1 0-4-1-1 1-3-3 0 2-2-2-3 3-5-1-1 0-1-1-2 1 0-2 0 1-4-1-5 0-1 0 7 4 5 2 29-1 158 5-1 1-172 0 76 1 1 0 26 0 33 2 17 1 20-1 0-1 0 2 0 1 0 3-10 0 0-2-10-1-1 3-49 0 0-3-140 1 0-1 113 5 2 0 24 1 51 0 20-1 0 6 0-3-20 1-17 1-33-2-26 2-78-2-34 5 34 2 61-3 15 0 1 0 1 3 26-2 23 0 27 2 20-3 0 2 0 4 0-1 0 2-1-1-9-2 0 2-10 1-51-3-25 2-1-1-16 0-96 0 162 6 38 4-1-1 0-1-10 2-27-1-24 1-76 0-1 0-60-2 34 4 15 0 23 1 0-2 40 0 26 0 33 2 17 3-27 0-24 2-25-1-17 1-20-3-13 1-9 1-54 4 0-1 1-1 34 2 16 0 6-1 9 2 2 0 8 0 20 0 16-1 26 0 1-1 51 0 10 4-89 2-15-3-19 3-13-3-1 3-8-2-56-1 36 6 15 0 5-2 2 0 3 0 0 3 0-1 8 0 45 1 26-3 0 2 50 0-27 3 0-1-66 1-30-1-7 0-7 3-52-2 0 6 1-1 34 1 75 0 62-1 27 4-11-1-16 2-10-1-23-2-26 1 0 2-1-2 0 1-1-1-1 0-14 1-61 1 0-1 76 3 2 0 76 1 10 2-27 1-34 0 0 2-25-3 0 3-1 0 0-1-1 0-1-1-15 1 0 2 0 2 15-2 2 3 1-1 24-2 0 1 2 1 33-1 8 2 9-3-3 5-2-1-9 1-38-1-24 0-1 0-1 1 0 1-1-2 0 3-15-2 0-1 0 3-34-1 4 3 5 2 25 0 0-1 1-2 15 3 0-3 1 2 0-1 0 2 0 3-17-2 0 2-1 0-24 1-4 2 29 0 0-1 0 3 15 0 1-1 1-1 0-1 0 6 0 1-16-3 0 1-1-1-24 2-40 5 14 0 16 0 1 0 5-2 43 1 1-2 1 2-40 2-3 1-7-1-7 0 0 3-5-1-5-1-5 1-1 0-1 1-15-1 13 5 8-2 1 1 1-2 0 3 26 1-16 0-4 0-11 3-7-1 19 2 11 0 6 3 2-1 6-1 0 3-1 1-1-1-5 0-6 1-4 1-10 1-13-2-6 1 1 5 9-3 2 1 1 2 17-3 9 0 24 3 16-1 1 0 1-2 24 1 4 0-29 5-1 0-16 1-1-3-25 1-8-1-20 3-2-2-2-1-3 4 21 0 5 0 35 0 15 3 2-2 0-1 1 4 0 2-1-2 0 1-1 0 0 2 0 1 0 1 1 0 0 1 97 5-21 0-77-2 26 6 52-2 20 0 0 4-20 1 0 1-52 1 52 0 0 3 19-3 1 1 0 1 0 5-1-2-72-1 73 5 0 2 0 1 0 2-36-1-117 2 8 2 12 1 0-1 17-1 17 2 1 0 27 0 35 1 1-1 29 1 6-3 0 3 0-2-6 3 0 2 0 1-30-3 0 3-33 0-29-2 0 2-18-2-6 2-2 0-18-3-19 6 7-1 38-1 19 1 1 0 23 2 3-2 0-1 5 0 1 1 58 0 0 2 0-1 6 0 0 1 0 2 0-1 0 2-37-1-28 1-1-1 0-1-4 0-1 0-2 3-24 0-27 0-17-2-10 1-9 2 43 0 20 1 27-1 2 2 62-1-91 6-1-2-13 2-29 0-3 0-5-1-1 1-10 1 5 0 1 0 1 0 0 1 1 0 0 2 1-3 1 2 1 0 1-2 4 3 0-3 1 2 28-2 1 1 1 1 14-1 1 4-2 1-13 0-1 0-27 1-2-2-3 0-2 0 0 2-1-1 0 1-2-1-3-2-1 3-3 0-2 0-1 3 3-2 0 2 3 0 1 0 1-1 0 1 1-1 0 1 2-1 0-1 1 2 1-2 1 2 1-1 1 2 1-2 3-1 26 1 1 2 1 0 14-3 0 1 90 3-2 0-89 0-39 0-1 1-3 0 0-1-7 3 0-1-2-1-5-1 5 7 5 0 1 0 3 0 2 4-1-3 0 3-1-2 0 1-1-2-1 2-1-1-1 0 0 1-1-2 0 2 0-1-1 1 0-2 0 3-2-1-3 2 3 3 1 0 2-2 0-1 1 1 0-1 0 2 2-2 1 0 1 4 0 2 0-1-1-1 0 3-2-3 0 3-1-1-1 1-1-3 0 1-1-1-1 2-1 2 1 1 2 0 2 0 0-1 2 0 1 0 2 1 129 5-1 1-33-1-3 0-20 1-2 0-30 0-2 0-43-3-6 3-6 0-30 0-1 2 16-1 11 1 9 0 5-1 18 1 58-1 0 1 3-1 8 1 0-1 25 0 5 0 6 1 3 0 8-1 6 1-172 8 27 2 2-2 0-1 0 2 3-2 1 4-2 2 0-1-2 2-1-2 0 2-27-1-1 0-3-1 3 4 26 2 1 0 1-1 4 1 0-1 0 4-1 0-1-1 0-1-1 1 0 2-1-3 0 3-1-1-1-1-1 1-25-1-3 4 29-1 0 1 1 0 5 2 0-2 1 1-3 5-2-2-2 1-2 1-24 0-4 2 2 1 26-2 2 2 0-1 2 2 3 0 1-2 0-1 1 5-2 2-3-3 0 2-26 1-2-2-2 2 3 1 25 0 1 3 1-1 0-1 0 2 3 0 3 3-3 1 0-3-1 0-2 1-2-1 0 3-1 0-24 0-3-1-1-2 0 2 0 2 1 2 2-2 26 2 1-2 0 3 1-2 0-1 5 4-1 3-2 0-29-1-4 2 3 3 24-1 3-2 1 1 2 0 1 2 1 0 16 0-16 1-1 3-2-1-2-2-1 3-27-2-2 2 0 1 30 0 1 3 0-1 1-2 0 1 1 2 1-2 0-1 0 2 4-1-5 6-2-2-1-1-2 0-26 3-2 1 0 1 1 2 28-3 3 0 1 0 0 2 2 1 0-1-3 3-1-1-1 3 0-3-1 1-26 0-3 0-1 2 2 4 2-3 25 0 3 2 0 1 1-1 0-2 3 3 1 0 0-1 1 0-1 5-1-2-2-1 0 2-3 1-1-2-1 0-25-1-2 3-1-1 0 1 0 3 2-1 1 0 25 2 1-3 1 2 2-2 0 3 3 2-1 0-2 1-4 1 0-1-27-1 1 3 1 1 0 1 28-1 1-1 1 3 1-2 1 0 0 2 0 3-1 0-2-2-1 2-1-1-3 1-23 1-4 2 0 2 3-2 1-1 26 0 1 1 2 1 0 1 2-1 2 0-1 3-1 0-2-1 0 3-1-1-1 0-1-1 0 1-1 1-26 0-1-3 0 2-2-1 28 3 0 3 2-3 2 3 0-1 1-1 0 2 1-3 0 2 1 1 0 2-1 0 0 2-1 0-1 0-3 0-26-1-3-1 0 4 2-1 27 1 4-1 0 2 1 1 0-3 0 2 2 1-2 3-1-1-1 5 1-1 0 2 1-2 0 1 0 1 1 2-1 2 0-3 0 2-1-2 0 1-1 6 0-3 1 0 0 3 0-2 1 0 0 2 0-1 0 3 0 1-1 0 0-1 0 3 0 1 0 2 1 0 0-3 1 7-1-1-1-1 0-1 0 3 0-1 0 2 0 2 0 1 1-2 0-1 0 2 1-2 0 1-1 5 0-1 26 5 49 0 1 1 1 0 1 0 4-1 7 2 0 2-50-1-6-1-5 3-2-2 0-1-19 0-1 3-4 3 1-2 15 2 16 1 43-1 0-1 0 2 8-2 4-1 2 3 7-3-3 5-4 1-3 0-2 0-3 0-1 0-3 0-2-2 0 3-3-2-33 1-5 0-1 1-13 0-20-1 5 3 0-1 69 1 2 0 0 1 10-2 9 1 52 4 0-1-56 0-7 3-9-2-2-1-34 3-10 0-18-1-6 0-8 5 5 0 3-2 2 0 6 0 19 1 1-2 43 0 0 1 7 0 5 3-1 0 0 3-12-2-35 2-9-1 0 1-4-2-7 2-1-3-14 1 0 1-4 1-2-2-1 2-3 0 0 3 1 0 1-2 1 2 7 0 28-2 42 2 1 1 11-3 0 3 2-1 5-1-7 4-3 0 0 2-9-3-37 3-7 0-14 0-8-1-1-1-3 1 0 1-6-1-1 0-1-2 0 1-1 2 2 2 7-1 11 0 5 1 10 2-12 1-19 1-2-1 0 2 0 1-1-1 0 1-1 0-59 4 0-1 60-2 1 0 0 1-61 4 0-1 0 2 0 1 0 1 0 2 0-1 152 1-10 2-142 0 0 6 143-1 5 0 1 6-3-2-4 2-6-2-136 2 0-3 0 4 0 1 0 2 0-1 60 1 0-2 1 2 1-2 84-1-84 5-2 0-60 0 0 1 0 4 0-1 0 2 0-3 60 0 0 2 1 4 0 1 0-2-1 0-60 0 0 2 0-1 0 3 0-1 0 3 0-1 60-1 1 0 74 2 0 4 0-3-2 2-17 1 0-1-116-2 0 2 0-1 0 2 59 4 1 0 10-2 0 2 64 0 1-2 0 2 1-3 0 3-1 4-71-2-4 0-1 0 0 1-1-2 0 3-10 0-6 4 2 0 0-1 1 1 3-2 0 2 1 0 1-3 0 3 1-2 2 0 5-1-10 4-5 1-3 1-1 1-1-1-3-1-10 5 1-1 1 2 0-1 3-2 3 2 4-1 2-1-10 5-5 1-2-1-1 0-1 2-2 0 0-1-1 0-4 1-1 4 0-3 1 0 0 1 0 2 4-3 1 0 1 0 1 0-1 4-6 1-1-1 0 1 0 2 0 4 0-1 1 0 0 5-1-1 0-1 0 2 0 1 0 1 0 1 1-2 0 6-1 0 0-1 0 2 0 1 1 0 0 2 1 5 0-1-1 0 0-1-1 1 0-1 2 6 22-1 1 0-1 4-22-1 0-1 0 4 0 1 0 2 0-1 0 2 0 2 0 2 0 2 0-1 0 2 0 3 0 1" fill="none" stroke="none" marker-start="url(#mr)" marker-mid="url(#mr)" marker-end="url(#mr)"/>
<path transform="scale(.5)" d="M884 116l-3 1 0 1-1 0 0-1 0 2-1-2 0 2-1-1-2-1-1 2-1-1 0-1 0 3 1 3 0-1 0-1 1 0 1 0 1-1 1 2 0 1 1-1 0 1 1-2 0 2 1-2 0 2 1-2 0 1 0-2 1 1 0 2 0 3-1-2 0 2-1 1 0-1-1-1 0 2-1-3 0 2-1 1-1-3-1 2 0-1-1 1 0-2 0 3-1-2-1 1-1 4 1 1 2-2 1 2 1-1 0-1 1-1 0 2 1-1 0-1 0 3 1 0 1-2 0-1 0 3 1 0 2 2-2 1-1 0-3 1-1-1 0-1-1 2-1 0 0-1-1-1 0 2 0 2 2 0 1 1 3 0 2 0 19 1 23 1-12 0-28 1-2 1-1-1 0 2-1-1 0-1 0 2-1-3-1 1 0 1-1-1-1 1 0 1-1-3 0 3-2-1-2 1 1 3 2 0 0-1 1 0 1-1 0 1 1 0 1-1 1 0 0 1 1 1 0 1 2-1 18 1 1 0 9-3 9 2-6 5-1-3-18 3-11-1 0-1-1 1-1 0-1-1 0 2-2-1-1-2-1 0-1 1-2-1-2 3 4 2 2 0 0 1 1-1 0-1 0 3 1 0 0-1 1 1 1 0 1-2 1 0 0 2 18-3 7 2 4-1 1 1 7 0 2 0 0 4-3-2-7 3-3-2-12 2-14-1-3 0 0 1-2 0-1-3 0 1 0 2-1 0 0-2-2 2-1-3-1 0 1 7 1-3 1 3 1-2 0-1 1 0 1 0 1 0 0 1 1 1 1 1 2 0 1-2 12 2 12 0 1-2 0 1 12-2-18 6-1-2-2 1-18 0-1 2 0-1-1-2 0 2-1-1 0 2-1-1-1-2-2 1 0 2-1-2 0 5 0 1 1-2 1 1 0-1 0-1 1 3 0-1 0-1 2-1 1 2 1 1 0-1 1-2 0 2 10 1 14 0 2 0 1-3 1 3 7-3 7 0-35 5-6 2-2-2-1 2 0-2-3 2 0-1 0-2-2 0 0 1 0 1-2 0 0 3 0 2 1 0 0-1 1-1 0 2 1 0 2-3 0 2 1-1 0-1 0 3 1-2 0 1 1-2 0 2 2-2 7 0 17 0 4 1-28 5 0-1-1-1 0 2 0-1 0 2-1-3-1 2 0 1-1-1-1 0 0-1 0 2 0-3-1 0-1 1-2 0-1 0 0 6 1-1 0 1 1-1 1-2 0 1 0 2 1-3 0 3 3-1 1-2 0 3 1-2 2 5-1-1-1 2-1 0 0-1-1-2 0 3-1-2 0 1-2-2 0 2-1-1 0 2-1-2-1 0 0-1 0 3-1 3 1-2 1 2 0 1 1-1 1 0 0 1 0-3 2 1 0 2 1 0 1-2 4 1-3 4-2 1-1 0-1 0-1 0-1-3 0 1 0 2-1-1-1-2 0 1 0 5 2 0 0-2 2 1 2-1 0 3 0-1-1 3 0 1-1-1 0 1-2-2 0 2-1 1-2 1 1 1 3-1 0 2 0-1 1 0 1 1 0-1 1-1 0 2 0-1 1 2 1-2 0 2 1 4-1 0 0-1-1-1-2 2 0-1-1 1-2-1 0-1-3-1 0 4 1 2 1-2 0 2 1 0 1-1 0-1 0 2 1-1 0 2 1-3 0 3 0-1 1 0 0-2 1 0 2 6-4 0-1 0 0 1-1-1 0 1-1-3 0 3-1-1-1 0 0-1 0 2-1-1 1 5 1-2 1-1 1 1 2-1 0 2 1-1 4 2 1 4-4-2 0-1 0 3 0-1-1 1-2 0-1-3-1 2 0 1-1 0-1-3-2 3 0 4 1-1 0 1 1-3 1 1 1 1 1-2 0 2 1-1 1 1 0-1 1-1 2 0 0 1 1 3-3 3-1-2 0 2-3-3-1 1 0 1-2 1-2 4 4-2 0-1 0 2 1 1 2-1 1-2 0 3 1-2 1 1 1-2 1 2 65 4-16-1 0 2-4-1-25 1-5 0-4-1-3 1-5 0-2 0-1-2-2 2 0-2 0 1-1 0 0-1-1-1-1 3 0-3 0 1-2 2-1 0 0-3-1 1 0 1-1 0 0 1 0 2 0 2 1-1 0 1 1 0 0-1 1-2 1 0 1 2 1-2 0 2 0-1 1 2 0-1 0-2 0 1 1-1 0 1 1-1 0 1 1 1 4-2 3 3 7-2 7 2 4-3 2 2 9 1 3 0 2-3 3 0 9 1 7 2 4 0 1-1-4 2-2 0-4 1-5 1-1-1-3-1-1 3-3-1-4-1-7 0-2 1-1-1-4-1-1 0-4 1-11-1-5 0-1 0-2 1-2 1-2-1 0 1-3-2-1 0 0 3-2 2 0-1 1 0 1 1 0 1 1-2 1 3 0-2 0-1 0 2 2-2 1 0 0 2 0 1 1-1 1-1 1-1 3 3 1-3 0 1 2 0 0-1 4 1 2-1 4 3 2-3 1 2 12-1 0 1 3 0 3-2 0 3 2-3 1 3 0-1 1-2 3 3 8-3 11 1 3 2 1-1-5 3-3 0-13 1-4-1-12-1-4 1-1-1-7 1-2-1-1 2-5-2-6 0-4 1-1-1-1 0-3 0-2 1-1 1 9 5 0-1 22 5-22-3 0 2 0-1 0 2-1-2 1 3 0 1 0 2 22-3 0 5-21 1 0 1-1-3 0 3 0-1 0-1-9 6 9-3 0 2 0-1 0 2 1-2 0-1 0 6-1-2 0 1 0 2-4-2-1-1 0 1 0 2-1-2 0 2-1-1 0 1-1-3 2 6 1-2 1 3 4-2 0-1 0 3 0-1 1 0 0 1 21 4-21-2 0-1-1 1 0-1 0 3-4 0-1-1-3 1 2 2 1-1 0 2 5 1 0-3 0 2 0-1 22 2-21 1-1 1 0-1 0 3 0-1-4-1-1 0 0 2-3 0-1 2 1 0 1 0 0-1 2 0 1 1 4-1 0 2 0 1 1-1 0-2 21 0 0 1 0 1 41 5-30 0-2-2-9 0-21 1-1 1 0-3-12 3 0 1 12 0 0 1 0 2 1 0 33-3 2 0 23 2 4 1 0-3 1 1 1-1 1 0-4 4-61 0-1 1 0-1 0 2 0 4 0-1 0 2 0-3 1 3 0-1 21-1 0-1 0 4-21 0-1 0 0 1 0 4 0-1 0 3 0-1 42 5-1 0-40-2-1-1 0 2 0-1 0 2 0 1 0 2 0 1 23-3-23 6 0-1 0 2 0 1 0 2 0-1 22-1-21 4-1 0 0 2 0-1 0 2 0 1 0 3 0-1 0-1 1-1 0 5 0 1-1-1 0 1 0 2 0 2 0-1 0 2 22 0-22 4 0-1 0-2 0 5 0-1 0 2 0 1 22-2 0 5-21 0 0 1 0-3-1 3 0-1 0-1-1 4 1 0 0 2 0-1 1-2 21 5-22 0 0-1 0 3 0-1 0 5 0-3 0 1 1 1 20 1 1 0-22 1 0 3 0-1 0 3 0-1 0 2 23 1 0 4 0-1-1 0-21-1 0-1-1 2 0-1 0-1 0 6 0-1 0 2 22-3-22 4 0 3 0-1 0 4 0 1 0-2 1 2-1 2 0 2 0 2 0-1 0 3 0-1 0 2 0 2 0 1 0-2-10 6 10-1 0-1 0 2 45-1-27 5-6-2-12-1 0 1 0 2-1 0-11 0 0-1-1 0 2 2 0 2 1-1 0 1 10-1 0-1 0 2 0 1 16-3 3 2 20 0 5-2-6 4-19 1-19 1 0-1 0 6 0-1 0-2 0 1 1 2-1 2 0 1 0 5 27 4-4-1-1 1-22-2 0 2 0-3 0 2-1 2 1 1 0 2 1-3 20 0 0 1 1 0 1 0 0 2 11-2 9 2 0-3-5 5-15-1 0 2-1-1 0 1-11 0-10-2-1 0 22 7 1 0 35-2 15 0 0 1-47 4-4 3 0-1 0 3 2-3 20 3 21 0 11-3 1 7-12-1-19-2-21 2-6 0-4-1-11 3 18 2 1 0 37-1 1-1 1 2 5-2 7 2 5-1 0-1 5 0 0 4-7 1-3 2-1-3-16 0-3 3-1-3-15 1-11 0-4 1-1 1 0 4 1-2 26-1 24 0 2 1 1-1 1 3-4 2-4 2-2-2-1-1-8 3-3 0-3-1-25-1-8 0-1 2-3-1-3-1 0-1-11 3 32 3 11-2 11 0 11 1 14 1-38 5-2-1-18 0-23 1-6 2 9 1 1-1 4 1 3-2 4 2 2 0 4-2 9 0 8 1 1 2 7-1 24 4-1-2-7 3-8-2-2 0 0 1-1 1-1-3-4 0 0 1-3 0-1-1-1 1-1 2-3-2-1 1 0-1-3 0-3 1-1 0-2-1-3 1 0-1-1 2-2-1-2 1-1-2-3 0-1 0-1 2 0-1-3 0-1 1-1-1-2-2-7 0-2 2-3 0-3 4 5-1 3 2 0-2 0 1 2-2 0 1 2-1 1 1 1 2 1-1 3 1 2-3 0 3 1-1 2 1 1-2 0 1 10-2 4 0 6 2 5 0 5-2 5 2 1-2 1 4-14 0-3 1-8 1-1 1-2-3-4 2 0-1-1 1-1-2-26 2 7 2 4 2 1-1 1 1 9-2 0 1 0 1 1 1 1-2 1 2 4-1 1-2 1 2 5 0 2-1 1 2 2-1 2 1 17 0-4 2-1-1-16 1-4 1-1-1 0-1 0 3 0-1-2-2-4 1-2 1-3-2-1 1-5 0-4 2-1-3-12 5 2 2 11-1 2 0 2-1 4-1 1 0 0 2 0-1 3 1 0-1 1-1 2 2 1-1 4 1 1-2 1 0 2 0 7 0 2 3 3-3 5 1 0 6-7-2-3 0-6 1-3 1-1-1-4 0 0-1-6 2-1-2-2-1-4 3 0-3-2 3-2-2 0 2-1-1-1 0-1 0-1 1-5-2-1-1-6 4 3 1 9 0 0 1 5-2 16 2 1-2 6 2 107 4-2-1-8 0-8 0-10 0-2 1-11 1-11 0-14-2-6 1-15-1 0-1 0 2-1-1-1 0 0 1 0 1-2-2 0 1-5-1 0 2-1-1-1 1-4-1 0-1-1 2-1 0-1-1 0 1-1 0-1-3-1 2-1-1-1 2-3-1-1-1-4 0-3-1 0 3-1-2-1-1 0 2-6-2-1 2 0-1 0 2-4-2-1 1 0 1-3-3 0 3-1 0-1 0 0-2-1 1-1-1-1 0-2 1 0 1 0-2 3 3 4 0 2 1 3 1 2-2 5 1 2-1 2 0 1 1 1-1 0 1 1 0 1-1 1 0 8 1 2-1 2 1 1-1 1 0 3 0 1 0 0 2 3-1 1-1 1 2 0-1 1 1 2-1 2 1 0-1 1 1 12-2 9 0 23 1 43 1-146 4 3 2 1 2 0-1 3 0 1 0 1 2 2 0 1-3 1 1 0-1 1 0 1 0 0 2 2 1 24 2-2-1-20 1-3 1 0-1-3 0-2 0-1 1-1 1-1-3-2 1 0-1-2 2-2-2 0 2 0 5 3 0 4 0 1 0 3-2 0 2 1 0 3 0 2-1 8-2 4 1 3 0 4 0 0 1 0 4-3 1-9-2-1 0-1 2-7-2-1 1-1 0-2 0-1-1-1 2-5 0 0-2 0 1-1 1 0-1-1 0-2 2 4 1 2 2 0-1 3 0 3 1 1-3 0 2 0 1 1-3 1 3 1-2 0 2 1-1 13 1 8 3-2-1 0 2-22-3-2 2-1-1-2 0-1 1-1 0 0 1-2-1-1-1-1 0-2 2-1-3-1 4 1 0 2 1 5 0 0-1 3 2 1 0 1 0 2 0 2 0 5 0 3-2 2 0 4 0 8 2-9 2-12 0-9 0-1 1 0 2-8 0 3 2 0 2 1 0 1-1 3 1 1-2 1 0 2-1 3 3 2-3 2 1 6 2 9-2 1 1 1 1 0-1 1-2 1 5-2-1-2 3-7-1-3 0-5-2-1 3 0-2-1 1-1 1-1 0-1 0-1-2-1 2-1-1-3 1 0-1 0-1-2 1-5 5 2-3 1 2 7-2 0 2 4-1 2 0 0 2 7-2 7 0 4 5-7-2-2 1-6 1-2-2-1 0-1 2-1-2-2 2-4 0-5-2 0 1-3 2 0 3 2-2 0 3 2-2 1-1 1 3 1-2 1 2 0-1 1-1 3 1 6 2-2 2-1-2 0 2-2-2-2 0 0 3-1 0-4-1-1-2 0 2 0 1-1-1-2 0 0 1-2-3-1 2 0 4 3 0 1-2 5 0 4 1 2 0 1 0 3-1-6 11 1-2 0 2 1-3 2 1 0-1 0 2 1 1 0 2-2 1-1-2-2 5 3 1 1-2 2 1-1 3 0 1-4 0-6 0 0-1-1 0-1 0-1 0-2 0-1 0-3 0 15 6 1-2 1 1 0-1 1 1 0 2 2 0 1-1 15 3-17-1-2 2-1-2 0 3-1-1-1 1 0 3 1 0 1-2 1 3 0-3 1 0 22 1 0-1 0 2 0 3-1-1 0 1-3 1-17 1-1-1-2-2 0 2 0-1 0 2-1-3 0 2-1-2 0 2 0-1-4-1-1 0-1 0-5 0-2 0-1 0-1 0 17 4 1 3 1-1 0-1 1-1 0 2 1-2 17 1 1 0 1 6-1-3 0 3-19 0 0-2-2 0-1 0-1-1 0 7 1-3 0 3 1-3 0 1 1-1 0 3 1 0 17-2 2 0 2 1 1-2-1 6 0 1-1-3 0 2 0 1-1 0-1-3-2 2-16-2 0 3-1-2-1 0-1 0 0-1-1 3-1-2 2 4 3 2 5 0 1-3 12 2 1 0 0 1 1-2 0 2 2 3-1 0-1-1 0-1 0 3-1-1 0 1 0-3-20 1 19 5 1-2 0 3 0-1 1 0 0-1 1 0 0 2 1-3-1 5 0 2-1-1-1-2-16 6 3-1 12 1 1 0 1-2 1 2 0 5 0-3-1 0 0 3-1-2 0 2 0 2 0-1 0 3 0-1 1-2 1 0 0 5 0-1 0 3-1 0-1-3 0 4 0 2 0-1 0 2 1 0 0-3 0 2 0-1 1 2 0-1-1 3-1 1-1 0 25 9-1-2 0 2-2 0-2-2 0 2-3-1-1 0-2-1-2 2-1 0-2 3 1 1 3-1 6-1 8 1-2 2-5 0-2 0-3 1-2 0-6 1 4 2 0 2 16-1 67 5-1 1-4-1-4 1-28-2-3 0-2 1-4 1-10-3-12 3-19 0-9 0-9 4 8-1 0-2 3 3 1-3 1 0 0 3 1-1 1-1 0-1 2 0 1 1 0 1 1 0 14-2 4 1 3 0 10 1 1 0 9-2 2 7-30-2-3-1-11 3 0-1-2 1 0-1-2-2 0 3-2 0 0-1-2-2-4 2 2 2 1 2 3 0 1-2 1 3 1-3 1 3 1-1 0-2 2 3 2-2 2-1 5 1 39 1 3 5-3-3-2 0-2 0-2 1-1-1 0 1-1 0-11-1-28 3-2-3 0 1-2 0 0 2 0-1-1-1-1 1 0-2 0 1-2 1-3 1 0-3-3 5 1-1 6 1 1 2 3 0 1 0 1 0 0 3-1-2-3 0-1 3-2-3 0 2-26 6 0 2 0-1 0 2 0 4 0-3 0 5 0-1 0 7 0-2 0-1 0 2 67 5-1 0-66-1 0-1 0 2 0 2 0-1 0 3 28-1 0 1 37-3 1 1-38 5-28-1 0 5 0 1 28-1 0 5-28-3 0 1 0 2 0 4 0-2 0-1 0 2 30 1-2 3 0-1 0 2-1-2 0-1-4 3-23-3 0 2 0 1 0 1 0 2 31-2 1 2 2-1 2 1-9 2-27 2 0-1 0 4 5 2 8 1-1 2-3 0-1-2-13 4 1 1 0-1 0 3 0-1 0 5 0-3-1 3 0-1 0 2 0 2 0-1 1 1 0-1 0 2 0-3 0 5 0-1 0 3-1 3 1-1 0-1 0 2 0 2 0 3-1-3 0 2 0-1 1 3 0 3 0-1 0 4 0 1 0-3-1 1 1 5 0-1 0 2 0 2-4 2-1-1-1 1 1 1 0 2 1-2 2 3 0 2 0-1 0 2 0 1 0 3 0 1 0-3 0 4 0 3 0 4 0-2 0 3 0 2 0-1" fill="none" stroke="none" marker-start="url(#mb)" marker-mid="url(#mb)" marker-end="url(#mb)"/>
<path transform="scale(.5)" d="M1231 118l-1 0-3 0-1 0-1 1 0-2-5 4 1 2-33 1 0 3-1-1 0-2 0 3 0 2 0-1 1 2 33 4-1-2-32 1 0 1-1 1 0-1 0-2 0 7 0-2 0-1 5 1 28 2 1 0-33 4 0-3-1 0 0 4 0 3 0-1 1 1 0-1 4-1 10 1 0-2 18 1 1 5 0-2-1 1 0-1-18 3-15-2 0 5 0-2 0 3 1-3 0 1 4 1 10 1 0-1 0-1 19 2 0-2 0 5-19-1-14-1 0 3-1 0 0-1 0-2 0 4 1 1 0-1 14 1 0 2 0-1 18 5-18-1 0-1-14-1-1 0 0 3 0-2 0 3 0 3 0-1 0-1 1 1 0-2 0 3 14 0 30 0 0 4-11-2-19 0 0-1-14 2 0-1 0-1 0 3-1-3 0 3 0 3 0-2 0 3 1-2 32 0 1-1-33 7 0-1 0-1 0-1-1 3 0-1 0 5 0-1 0-2 1 2 0-1 0-1 33 1 0 2 0-1 0 4-1-1-32-1-1 3 0-2 0 3 0 3 0-2 1-1 0 2 33 0 0 3-33-1-1 0 0 2 0 3 0-1 1 0 33 3 0-1-1 2-33 0 0 2 0 4 0-1 34 6 0-1-33-1-1 1 0-2 0 3 0 4 0-1 0-1 0-1 1 0 14 3 0 2 0-1-14 1 0-1 0 3-1-1 0-1 0-1 0 7 0-1 0-1 0-1 1 1 0 2 4 0 29-1 0 4 0-2-29 1-4 0-1-1 0 3 0-1 0 2 0 1 34 2 0-1-33 5-1-2 0-1 0 2 0 4 0-1 0 2 1-1 4 0 28 1 0-3 1 7-1 0-28-1-4 1-1-1 0-1 0-1-22 7 5 0 2 0 15 0 0-2 0-1 1 0 32 1 1 3 0 2-33 0-1 1 0-2 0-1-12 0-3 3-2-2 0-1-1 2 0-2-2 2 0 1-2 0-6 0 0-1 0-1 0-1-1 7 0-1 1-2 0 3 0-1 0-1 3 1 2 0 0-1 1-1 1 1 1 1 3 1 0-2 1 1 1 1 0-3 1 2 14 1 0-1 0-1 1 0 32-1 1 2-33 3-15 1-5-2-2 2 0-1-2-1-2 0-3 0 0 3 0-2-1 4 1 0 0-1 0 3 0-1 0 3 0-1-1 2 0-1 1 5 0-1 0-1 0 3 0 3 0-1 0-1 0 3-1 2 0 2 1 0 0-1 65 2-1 1 0-1-1 1-1 0-33 1 0-1 0 2-1-1-17 0-6 1-5 0 0-1 0-1 0-1-1 4 1 3 0-1 0-1 0-1 6 2 0-1 2 0 1-1 1 1 1 2 1-3 16 0 0 3 0-1 1 1 0-1 0-2 34 0 3 0 1 0-38 4-1 0-15 3-1-3-12 2 0-1-1 2 0-2 0 5 1-2 0 3 0-1 0 3 0-1 0 2-1 2 0 2 1 0 0-1 0-1 0 6 0-1 0-1-1 1 1 6 0-1 0-2 32 2 2 1 2-3-36 7 0-1 0-1-1 6 1-3 0 3 0-1 0-1 0 4 0-1 0 3 0-1-1-2 0 5 1 1 0-2 0 3 0 4 0-2 0-1-1 3 0 2 1 2 0-1 0 5 0-1 0-1 0-1-1 7 1-3 0 3 0-2 0 3 0 3-1 0 0-2 0 4 1 0 0-1 0 2 0 4 0-1 0 2-1-3 1 5 0-1 32 3 2-3 27 3-27 2-2 0-32 2 0-1 0-1 0-1-1 2 0 5 1 0 0-2 0 5 0-1-1-1 0 6 1-1 0-1 0 3 0-1 0 3 0-1 0 2-1 5 1-1 0-1 0-1 0 6 0-2 0 3-1 2 1 1 0-1 0 6 0-1 0-1 0-1-1 5 0-1 1 3 0-2 0 3 0 3 0-1-1 2 1 1 0 2 0 1 0 3 0-1-1 1 0 1 1 2 0-1 0-1 0 3 7 0 1-1 0 1 1 4 0-2-1-1-1 3-1 0 0-2-6-1 7 7 1 0 0-1 54 1 0 2-26 2-27-2-1 0 0-1-1 3 0-1-1 1-1 0 0 1 2 2 1-2 0 1 31-1-39 6 0-1-1 0 1 3 0 3 0-1 0 4 0-1 0-1 0 3-1-3 0 3 0 1 1 3 0-2 0 6 0-3-1 5 0-1 1 3 0-1 0-2 0 4 0 3-1-2 0-1 0 6 1-1 0-1 0 2 0 4 0-1 0-1 0 3 0 2 0-1 0 3 0 4 0-1 0-1 0-1-1 5 0 1 1 1 0-1 0-2 0 7 0-1 0-1 0 3 0 3 0-1 0-1 0 4 0-1 0 3 0-1 0 4 0-1 0-1 0 3 0 2 0-1-1 6 1 1 0-1 0-1 0-1 29 6 0-1 0 2-29 0 0-2-1 5 1-2 0 3 0-1 0-1 11-1 0 3 0-1 18 1 0-1 0 4 0-1 0-1-18 0-11 0 0 2 0-1 29 5 0-2 0 4 0 1 0 4 0-1 0 3 0-1 0 2 0 3-21 4 2-2 19 1 0-1 0 2 33-2 0-1-33 7 0-1 0-1-17 2-4-1-2 0 0 2 1 0 1 0 1 0 20 3 0-1 0-1 0-1 0 7 0-1 0-1 0-1-1 4 1 0 0 3 0-1 0-1 1 2 0 3-1 1 0-1 0-1 0 4 0-1 0 3 0-1 33 5-33-2 0 2 0-1-1-2 1 6 0-1 0-1 0 3 0 3 0-1 0-1 0 3 0 4 0-1 0-1 0-1 33 5-33 2 0-2 0-1 0 7 0-1 0-1 0-1 0 6 0-1-1 3 1 1 0-1 0 2 5 5-5-1 0-1 0 2 0 2 0-1 0 3 0 4 0-2 0-1 0 5 0-1 5 2 0-2 1 3 0 4-6-3 0 3 0-2 0 4 0-1 0 3 0-1 6 0 0-1 0 6 0-1 0-1 0-1-6 0 6 7 0-3 0 7 0-1 0-1 0-1 0 4 0 3 0-1 0 5 0-1 0-1 0 4 0-1 0 3 0-1 0 2 0 3 0 3 0-1 0-1 0 3 1-2-1 5 0-1 0 2 0 4 0-2 0-1 0 6 0-2-1 2 0 1-1 3 0-1 0 2 1-1 0-1 0-1-1 4-1 3 0-1-1 4 0-1 1-1-2 6 0-1-1 2 0-1 0 3 0-1 0 3 0 2 0 2 0 4 0-1 0-1 0-1 1 4 0 3-1 0 0-1 0-1 0-1 0 6 0-1 0-1 0 4 0 2 0-1 0 5 0-1 0 3 0 3 0-1 0 4 0-1 0-1 0 3 0 1-29 70 0-1 0-1 0 3 0 3 0-2 0 3 0 4 0-2 0-1 1 4-1 3 0-1 0-1 0-1 0 7 0-3 1 6-1-2 0 3 0-1 0-1 0 3 0 2 0-1 1 6-1-2 0-1 0 3 0-1 0 4 0 1 1 4-1-2 0-1 0 3 0 4 0-2 0-1 1 2-1 5 0-1 0-1 0-1 0 7 0-1 0-1 1 4-1 0 0-1 0 3 0-1 0 3 0-1 0 3 0-1 1 5-1-1 0-1 0-1 0 3 0 4 0-1 0-2 0 7 0-2 0-1 0 4 0 3 0-1 0-1 1 1 0 1-1 1 0 3 0-1 0-1 0 3 0 6 0-1 0-1 0 3 0 4 0-1 0-1 1 0 0 5-1 1 0-1 0-1 0-1" fill="none" stroke="none" marker-start="url(#mr)" marker-mid="url(#mr)" marker-end="url(#mr)"/>
<path transform="scale(.5)" d="M1272 116l-1 3-1 0-1-1-1-1 0-1 0 3-2-1-2-1-1 2-24 0-4 3 3 0 3 0 1-2 1 2 0-1 4 2 3 0 2-2 0 2 4-1 2-2 1 2 2-2 0 2 0-1 3 2 1-1 0 1 1-2 0 2 1-3 3 2 0-1 1-1 0 1 2 1 1 0 0 1 0 1 0 1 0 2-1-2 0 2-10-2-1-1-1 0-3 1-10-1-1 0-1 0 0 1-1-1-1 0-1 2-3-1 0 1-1-1 0-1-2 1-12 2 0-1-15 1 0-1 0 2 0 2 1 0 0 1 1-1 0 1 0-3 1 0 0 1 12 0 0-1 0 3 0-1 48 1 0-1 1-1-1 6 0-3-48 0 0 1-11 2-1-3 0 2-1-1-1 0-1 1 0 1-1-2 0 4 1 1 0 1 1 0 0-1 0-2 1 0 1 0 0 1 0 2 12-1 0-1 0 2 0-3 24 3 24-2 0 4-6 2-3-1-2 0-3 0-1-2-5 3-3 0-1-1-1 0-1 1-22-2 0 2 0-1-11-2-1 3-1 0-1-2-1 0 0 2 1 1 0 2 0-1 0 2 1-3 0 2 0-1 13 2 0-2 0-1 10 1 1-1 8 2 0-1 4-1 1 1 1 0 7-1 1 0 7 0 2 2 5-1 1 1 0-1 0-1 1 1 0 3-25 2-24-2 0 2 0-1-12-1 0 1-1-1 0 1 0 2-1 0 0-3-1 1 0 3 0 2 1-1 1 0 0 2 1 0 0-1 12 1 9 0 0-1 0-1 1 0 24 1 13-1 1 0 0 3-14 2-1 1-9-1-15-2 0 3-9-1 0 1 0-2 0-1-12 1 0-1 0 3-1-3 0 2 0-1-1 0-1 0 0 4 0 2 1-1 0-1 0 2 1 0 0-1 1-1 1 1 11-2 0 1 0 2 8 0 1-3 0 3 1-3 0 2 0-1 0 2 17-2 3 2 1-1 12 1 5-3 1 1 1 5-2-1 0 2-3-3-8 1 0 1-3 1-2-3-1 1-3 0-2 1-1 1 0-1-1-2-1 0-10 1-3 0 0 1 0-2-1 0 0 3 0-1-9-2 0 1 0 2 0-1-12-2-1 1-1 1-1-1 0-1 0 2-1 4 2-2 1 0 13 0 0 3 10-2 0-1 0 2 14-1 0 2 11-3 12 1 1 2 0 2-13 2-1 0 0-3-10 2-14 1 0-3 0 1-10 1 0-1 0 2-12-1-1 1-1-3 0 3-1 0 0 2 1 2 0-1 1-1 0 2 0-1 1-1 1 1 11 1 10-2 0 2 0-1 0-2 15 0 23 3 1 4-1-2 0 2 0-1-1 0-36 1-1-2 0-1 0 3 0-1-10-2 0 3-11-3 0 2-2-2-1 1-1 1 0-1-1 3 0 2 1-1 1 1 0-1 2 1 0 1 1-1 0-1 11-1 0 2 0-1 0 2 10-2 0-1 1 1 0 2 24-2 13 6 0-1-14 1-23-3 0 2 0-1-1-1 0 3-10-3 0 2 0-1-12-1 0 2-1 1 0-1-1-2 0 3-1-2-1 0 1 5 1 1 0-2 1 1 1 0 0-2 0 3 12-2 0-1 0 3 10-3 1 1 0 1 0 1 23-3 1 1 0-1-23 5-1 1 0-1 0 2-1-2-10-1 0 1 0 2-12-3 0 2 0-1-1-1 0 2 0 1-1-1 0-1-1-1 0 7 1-3 0 3 1-2 0 2 1-3 0 2 0-1 0 2 12-3 0 2 11-1 0 2 0-3 23 0 0 1 13 2 1 1-13 0-2 0-22 1 0-1 0 2 0 1-11-2 0-1 0 2-11-1-1-1 0 1-1 1 0 1-1-3-1 2 0 1-1 2 1-1 0 2 1-2 1 0 0 2 0-1 1-1 0 3 1-2 11 0 0-1 0 2 0 1 11 0 0-1 0-1 1-1 36 0 0 2-36 2 0 2 0-1 0 2-1-2 0-1-11 2 0-2-12 1 0 2-1-1 0-1 0 2-1-1-1 2 0 3 1-2 0-1 0 3 0-1 1 1 13-2 0 2 11-1 1-1 0 2 0-1 37-2-15 7-22-3 0 3-12 0 0-2 0-1 0 2-11-2-1 1 0 1-2-2 0 2 0-1 0 2-1-2 0 2 0 4 1 0 0-3 1 0 0 1 2 1 11 0 0-1 0-1 12 0 0 1 0 2 21-1 1-2 0 3 1-2 13-1 0 2 0 2-14 0 0 3-9-2-2 2-3 0-6-1-1-1 0 2-1-3 0 2 0-1 0 2-12-3 0 3 0-1-13-1 0-1 0 3-1-3 0 3 0-1-1-2 0 2 1 5 1-3 0 3 1-2 0 2 1 0 11-3 0 2 11 1 0-1 1-1 0-1 0 3 0-1 1 1 0-1 2 1 0-1 1 0 2-2 0 3 3-2 1 0 2 0 0 1 0 1 1-1 1 1 1-3 0 2 1-2 2 2 4-2 0 3 14-3 0 7-14-3 0 2-1-2-8 0-1 1-1-1 0 1-1 1-2-2-2 0-2 0 0 2 0-1 0 2-1-1-1 0 0 1-1-3 0 1-1 0-1 2-1-2-10-1 0 1 0 2-12-1-1 1 0-3 0 1-1 1-1 0 0-1-1 1 1 2 0 3 1-2 0 1 1-1 0 2 0-3 13 3 0-1 13-1 1-1 1 0 1 0 1 1 2-1 0 1 1 1 3-2 2 1 1 0 23 4-1 2-14-3-34 2 0-2 0 3-12-2 0-1-1 0-1 1 0-1-1 1 0 1 0 1 0 1 1 0 1 3 0-3 0 1 1 0 0 1 12-2 0 1 0 2 34-1 14 3-15 2-33-3 0 2 0 1-11 0-1 0-1-3 0 3-1-3 0 1 0 2-1-2 0-1 0 3 1 1 0 2 1-1 1-1 0 2 12-2 0 3 0-1 0-1 0 4 0-1-12 0-1 1 0 2-1-3-1 1 0-1-1 5 0 4 0-1 0 3 0-1 0 3 0-1 0 2 0 1 0 4 0-3 0 2 0-1-3 6 13 0 2 0 3 0 35 0 14 1-45 2-2-2 0 2-2 0-1-2 0 3-1-3 0 1 0 2-1-3 0 3-2-3 0 2-10-1 0-1 0 2 0 3 0 2 0-3 0 2 0 2 0 1 0 2 0-1 0 3 0-1 0 3 0-1 1-1 9 1-10 4 0-1 0 2 0 1 0 1 0 2 0-1 0 3 0-1 0 3 0 1 0 2 0-1 0 2 10 0 6 0 3-1 31 1-1 1-34 0-3 0-12 0 0 2 0-1 0 2 0 3 0-1 0-1 0 3 0 1 0 2 0-1 0 2-1 2 1-1 0 1 0 2 52 1-1 0-51 0 0 3 0-1-1 1 1 2 0 1 0 1 1-2-1 3 0 2 0-1 0 2 0 2 0 2 0-1 0-2 1 5-1 0 0-1 0 2 0 5 0-3 0 2 0-1 50 4-33 2-2-2-5 0 0 2-5 0-5-2 0 2 0-1 0 3 0-1 0 2 14 1 3 0 32-2 1 0 1 2 1-2 0-1 0 2 12-1 0-1 0 3-12 1-35 1-1-1 0 1-4 2-1-2-2 1-1 0-1-1-7 2 0-1 0-1 0 3 0 1 0 2 6-2 7-1-12 6-1-1 0-1 0 3 0-1-1 5 0-3 1 2 0 1 0-3 0 4 0 2 0 1 0 1 0 3 0-1 0 4 0 1 0-2 0-1 0 4 0 2 0-1 0 2 1-2-1 3 0 3 0-1 0 2 0 2 0 1 0-2 0 3 0 1 0 2 0 3 0-2 0 3 0 2 0-1 0 3-1 0 1 1 0 1 0 2 0 4 0-1 0-2 0 1 0 4 0-1 0 3 0-1 8 1 9 1-1 2-5 1-1-3-2 3-8-3 0 2 0-1 0 2-1 2 1 0 0 2 0-3 0 2 6-1 1 1 0-1 6 0 1-1 1 1 0-1 37 0 0 2-52 3 0 2 0-1-34 5 34-3 0 2 12 3 0 2-1-2 0 2 0-1 0-2-11 1 0-1 11 5 0-1 0 2 0 1 1-1 0-1 0 4 0 2-1 0 0-3 0 4 0 3 0-1 1 0 0 1 0 4-1-2 0 2 0-1 0 3 0 2 0-3 1 1 38 4-38 1-1-2 0 3 0 2 0-1 0 3 0-1 1-1 0 2 0-3 0 6-1-2 0 2 0-1 0 2 0 3 0-1 1-1 0 2 0 3 0 2-46 2 2 0 43 0 0-1 0 3 1-2 0-1 39 7-39-2 0 1-1 1 0 3 0-2 1 0 0 3 0 2 0-1 0 3 0-1-1 1 0 3 0-1 1 2 0-2 0 3 0 2 0-1-1 2 0-3-10 3-1 0 0-2 0 4 1-1 0 3 10-2 0-1 0 2 0 1 1-2 0 2 0-1 0 3-1-1 0 2-10 0 0-1-1 0 0-1 0 2 0 1 0 3 0-1 0 2 0-3 1 4 0 3 0-1 0-1-1-1 0 7 0-2 0-1 0 2 1 2 0 2 0 1-1-1 0-1 0 2 0-3 0 5 0 2 0-1 1 1 8 0 5 0 51 4-4-3-2 2-44 1-3-2 0 2-2-3-9 2 0-1-1 0 0 2-30 1 30 0 0 2 0-1 0 2 1 0 0-3 0 2 13-1-14 3 0 1 0 2 0-1 0 4 0-2 0 3 1-2 0 4 0 2-1-2 0 2 0 1 0 2 0-1 0 2 1-3 0 1 0 1 63 5-9-2-1 0 0 1-39 0-1-2-4 1-9 2 0-3-1 0 0 3 0-1 0-1 0 3 0 2 0 1 1 0 0-3 0 6-1-2 0 2 0-1 0 2 0 2 0-1 0 3 1-3 0 3 11 0 1 0 1 0 0-1 39 0 2 1 5 0 7 0-66 1 0 2 0-1-1 0 0-1 0 3 0 1 0 1 1 0-1 4 0 1 0-2 0 4 0 3 1-3 0 1 0 2 9-2 0 2 1-2 1 1 0-1 20 1 2 0 8 0 9-1 1 2 6-2 4 1-5 2-1 0-21 2-2-1 0-1-1 0-1 1-17 0-1-1 0 1-1 0-11-1 0 2 0 1-1-2 0 1 0 3 0 2 0-1 1-1 0-1 0 4 0 2-1-2 0 2 0 4 0-2 1 3 3 4 0-1 0-2-1 3 0-1 0 3 0 1 1-1 0-1 0 3 0-1 0 4 0-1 0 2-1-2 0 6 0-1 0-2 1 2 0-1 0 2 0-3 10 3 46-1 0 4-46-2-1 1-9 0 0 2 0-1-1-1 0 1 0 5 1 0 0-3 0 2 0-1 0 6-1-2 0-1 0 5 1 0 0-1 0 3 8-2 2 1 27 1 3-1 2 1 3 0 5 0 0 1-1 0-17 1-21-1-11 3-1 0 0 1 0 1 0 2 1-3 0 2 0 1 0 2 0-1 0 3 0-1-1-1 0 1 1 3 0-1 0 4 0 2 0-1-1 1 0 4 1 1 6-2-6 3 0 2 0-1-1 1 0 1 0-3-1 6 0 1 1-3 0 2 0-1-1 5 0-2 0 1-1 1 0-1 0-1 0 3-1 4 0-1 1-2 0 2-1 3 0-1-1 2 0 4 0-1 0 2 0 2 0-1 0 3 0-1 0 3 0 2 0-3 0 2 0 2 0 2 0 1 0 1 0 3 1 4-1-1 0 1 0 1 0 2 0-1 0 2 0 1 0 1 0 1-20-1 0 1-1-2 1 6 0-1 0 2 0-3 0 4 0 2 0 1 0 2 0-1 0 3 0 3 0-1 0 3 0 2 0-1 0 2 0 3 0-1 0-1 0 3 0 2 0-1 0 2 0 1 0 1 0 1 0 3 0 3 0-2 0 3 0 2 0 1 0 1 0 2 0-1 0 2 0 4 0-1 0-2 0 5 0-1 0 3 0-1 0 5 0-3 0 2 0-1 0 4 0 1 0-2 32 7 0-1-32-1 0-1 0 2-14 4 14-2 0 2 31 1 1-2 0 2 0-3 0 4 0 2 0 1 0 4 0-1 0 2 0 2 0 1 0 1 0 6 0-2 0 1 0 2-1 2 0-1 1 1 0-1 0 2 0 1 1-1 0 4-1-2 0 2 0-1 0 2-1-2 1 6 0-2 0 4 0-1 0 3 0-1 0 2 0 2 0-1 0 2 1-1-1 3 0 1 0 2 0 3 0-1 1 2 0 3-1 0 0-3 0 2 0-1 0 5 0 1 0-3 0 4 0 3 0-1-1-1 1 6 0-2 0 1 0 4 0-1 0 2-56 4 0-1 1 1 4-1 0 1 2 0 22-1 27-1 0-1 0 3 0-1 1-2-1 6 0 1 0-2 0-1-28 1 0 2-23-3-4 3-1-3 0 2 0 1 0 4 0-3 0 2 1 0 26-2 29 0 0 2 0-1 0 2 1-3-1 4 0 1 0 2 0-1-55 1-1-3 0 1 0 2 0-1 0 3 0-1 0 2 1-1 55-1 0 1-56 5 0-2" fill="none" stroke="none" marker-start="url(#mb)" marker-mid="url(#mb)" marker-end="url(#mb)"/>
<path transform="scale(.5)" d="M138 1191l-7-1-13 1-3-1-5 1-1 0-19-1-1 1-6 0 0 1 2 1 1 2 1-1 2 0 2 1 1 0 1 0 0-1 1-1 0 1 2 0 0-2 2 3 0-3 2 0 1 0 1 2 2 0 1 1 4 0 4-3 1 1 1 0 0 2 3-3 3 3 1 0 16-2 8 2 5 2 0 2-4-1-26 0 0-2-3 2-2-2-4 3-3-3-1 2 0-1-1-1-4 1-1 1-1 0-1 1-1-3-1 0-3 1 0 2-4-2-2 2 0-2 0 1-2 0-1 1-1-1-1 0-2 1-1-1 1 3 0 2 5-2 1 0 1 1 0 1 2 0 1-3 1 3 1-1 0 1 1-2 3 1 1 1 1-3 3 0 1 0 3 0 6 0 0 1 2 0 1 1 0 1 1 0 1 0 1 0 2-3 0 1 14-1 6 3 9 0 0 1-14 2-15-1-1 1-3-1-2-1-5 0 0 1-1-1-2 0-1 1-4-1-1 0-1 1-3-1-13 2 0-2-1 1 7 5 2 1 2-1 0 1 2 0 2 0 2 0 4 0 1 0 1-1 7 0 4-1 0 2 8-1 1 1 2-2 0 2 1 0 1 0 1 0 3 0 1 0 6 0 4 0 1 0 3 0 5 0 6 0 11 0 1-1 11 0 5 1 1 0 1 0 2-2 6 2 0-1 18 2-9 1 0-1-2 3 0-2-3-1-2 1-2 0-1 0-6-1-4 1-9-1-2 0-4 0-7 1-2-1-4 1-1-1-3 0-7 1-1 0-1-1 0 2 0-1-1 0-2 0 0-1-1 1 0-1-1 0 0 2 0 1-1-1 0 1-1-1-1 0-1 0-1-2 0 2-1 0-2 1-1-1-2-1-2 0 0-1-1 0 0 2-1-2-1 1 0 2 0-1-2-2 0 2 0 1-1 0-1 0-1-3 0 2 0-1-3-1-1 0 0 1-1-1-1 3-2-3-3 1-1 2-1-3 0 3-1-2-2-1-3 3-1-1-1-2-1 3 0-3-1 3-2-2 0 2-1 0 0-1 0-1-1-1-1 0-1 0 0 2 0 3 1 0 2 0 1 1 1-2 0 1 1 0 1-1 0 1 1-1 1 1 0 1 1-2 0 1 1-1 1 0 1 1 4-1 0 1 3-1 0 3 1-2 2 0 1-1 1 1 0-1 1 1 2 0 0-1 5 0 1 0 1 0 1 0 3 0 1 0 0 1 2 0 0 1 1-1 0 1 1-1 2-1 0 2 1-2 0 1 1-1 0 1 2-1 0 1 1-1 1 0 0 1 1 1 3-1-4 5-1 1-1-1-4 1-8-1-1 1-5-1-1 1-2-1-10 0-8 1-1-1-1 1-2-1-1 1-2-1-4 3 4-1 2 1 2 1 0 1 2-3 0 2 0-1 3-1 1 1 0 2 1-1 0-1 1-1 1 0 2 3 0-1 2 0 1-1 0 2 1 0 0-2 1 2 2-2 1 1 3 0 0-1 0 2 1-3 0 3 2-3 1 3 0-3 1 3 1-2 2-1 0 2 0-1 1 2 1-3 0 1 3 0 1 2 1-3 0 2 1-2 1 1 0 1 0 1 2 0 1-3 1 2 1 1 1-1 0-2 1 1 10 3-1 0-7 0-1 2-3-1-1 1-1-2 0 2 0-1-2-1 0 2 0 1-1 0-1-3 0 1-1 1-1-2-2 0-2 0-1 0-1 2 0 1-1-1-1 1-1-3-2 0 0 1-1 1-1 0 0 1-1 0-1-1-1 0 0 1-1-2 0-1-1 2-1-1 0 2-1-3-1 2 0 1-1-2-1 1 0-1-1 2-1-3-3 0-2 1-1 1-2 1-1 0-2-1 0-2-1 2 0-1-2 2-1-1-1 0-1 0 0-1-1-1 0 1 0 1-1-2 0 2 0 2 1 1 1 0 1-1 1 3 2-2 1 0 0 1 1 0 1-2 0 2 1 0 2 0 1-1 1-1 0 3 0-1 1 1 1-1 1-1 0-1 0 3 0-1 1-2 2 1 0 2 1 0 3-2 0-1 0 2 1-2 2 1 1 1 1-2 0 2 1-1 1 1 0-1 1 2 0-3 1 2 1 1 1 0 1-2 1-1 2 3 2-2 0-1 0 3 0-1 1-2 0 2 1 1 1 0 2-3 0 2 1-2 2 1 2 2 1-3 1 0 0 3 1-1 0-2 1 0 0 3 6-2 5-1 1 2 2 2-34 0-4 1-7-1-4 1-8 2-4-3-2 7 2-3 16 1 2-1-9 6-4 0-3 0-1 1-2 0-3-2-2 2-1-1-1 0 1 2 5 1 0 1 6-1 4 2 3 0 2-1 5-2-3 4 0 2-1 0-1-2 0 2-2-2-5 2-1 1-1-3-2 1 0 2 0-3-2 1-4 2 0 2 1-1 3 1 5 0 21 6-15-1-10-1-5 2-6 2 4 0 2-1 4 2 2 1 2-1 7 0 1-1 1 0 3-1 0 3 6-1 4 5-1 0-6 0-2-1-10 1-10-1-2 1-2-1-4 0-3 5 2-1 1 1 0-1 1 1 2-2 4 1 2 0 8-2 7 0 0 3 4-3 0 1 1-1 1 3 1 0 3 1-6 1-1 0-2-1-2 1-26-1 5 6 3 1 4-1 2 1 1 0 3-1 3 0 3 1 16-1 6 0-10 2-1 0-1 2-9-1-1 1-7-2-7 0-9 2 4 3 0 2 2-3 5 1 9 2 2-2 2 2 3 0 4-3 3 3 3-3 1 1 6 2 3-2 0 2-1 1-4 0-5 1-1 0-9 1-7-2-5 2-5-1-3 1-1 0-5-1-1-1 12 7 1-1 2 1 4 0 3 0 14 0 4-1 6 0 10 1 4 3-4-1-1 2-1-1-1-2 0 3-4-3-2 1 0 1-1 1-1 0-1 0-1-3 0 3 0-1-1-1-7 0 0 1-1-1-1 1-3 1-2-1 0-1-1-1-1 1-2 1-2-2-2 1 0 1-1 1-1-1-1 1-2 0-6-1 0 3 2 2 3 0 0-1 4 0 0 1 2-3 1 0 1 0 2 0 0 2 0 1 1-3 1 2 1-1 0 2 1 0 1-2 1 0 0 2 2-2 1 2 1-2 2 1 0 1 1-3 3 2 0-1 2-1 4 0 1 0 2 3 1-1 4 0 0-1 0 2 1-2 2 2 0 1-3 1 0-1-3 1-3 0-2-1 0 1-2 0-1-1-4 1-3-1-1 0-1 1-5 0-1-1-4 0-2 0-4 2 0-1-1-1-5 1-1 0 18 6 3-1 3 0 2 1 3 0 2 0 1-1 4 1 5 0 6-1 9 1 8 0 3 0 0-1 2 1 3 0 0-1 1 0-2 3-1-1-1 0 0 3 0-2-1 0-3 2-1-3 0 2-3 0 0-1-1 1-5 0-1 1-2-1 0 1 0-3-3 2 0-1 0 2-1-1-1-2-4 0-2 3-1 0-1-3-2 1-2-1-2 2-1-1-1 1 0-1-1 2-1-3-1 0 0 2 0 1-1 0 0-2-2 0 0-1-2 3-2-3 0 2-1-1 0 2-1 0-76 4 74-3 4 0 9 0 7 0 7 0 1 0 14 0 40 6-3 0-1-1-1 1-1 0-1 1-2-1-1 0 0-1-2 0-2 0-1 2-2-2-1 0-1 0 0 1-1 1-1-2 0 2-1-2-1-1 0 1-1 2 0-1-1-2-3 3 0-1-1 0 0-2 0 1-1 1-3 1-1 0 0-3-1 0-1 3 0-1-1-1 0-1 0 2-1 1-1 0-1 0-3-2-2-1-3 3-1-2 0 2-1-2 0 1-1-2-3 3-2-1-1 0-1-1-1 2-1-2-2 1-1 1-1-2-2 0-1-1-1 2 1 2 2 1 1-1 5 2 5-1 2 0 0 2 2-3 1 0 1 1 0-1 4 2 1-1 1-1 2 1 0 1 1 0 1-1 1-1 5 0 2 0 1 1 2-1 3 2 1-2 2 2 2-2 7 0 2 1 3-1 6 0 6 0 9 2-29 8 3 0 1 0 3 1 1 0 3 0 3 0 1 0 3 0 1 0-1 2-1 0-3-1-2 0-2 2-1-1-1 0 0-1 0 2-1-2-1 3-7-2-15 0-1 2-2-3-1 3-5-2 0-1-6 1 0-1-10 1-9 0-28 6 42 0 23 0 11-1 2 1-1 4 0-1-1-2-4 1-1-1-1 1-3 2-2-3 0 1-2 2 0-1-1 1-2-2-4 0-1 1-1 0-6 1-6-3-1 1-1-1-4 1-1 1-6-1-1 0 0 2-1-3-3 1-4-1-2 0 0 3-15-3-8 6 1 1 2-1 2-1 0 1 1 1 1-3 1 1 6 2 3-3 2 0 1 3 2-1 1-2 1 1 3 1 2 1 1-1 1-2 1 2 0-1 1 2 2 0 1 0 1 0 1 0 0-1 4-2 1 0 1 2 2 0 0 1 2-1 1 1 1-3 0 2 4 0 2-2 1 1 1 1 0 1 1-2 1 2 1-3 0 2 1 1 1-3 1 0 0 3 1-1 1 0 1-2 0 2 1-1 2 1 1 0 4 0 0-2 2 3 1-2 2-1 1 0 1 2 3 1-20 1-8 0-3 0-26 0-1 0-3 0-8 1-4 1-8 0-4 2 3 0 1 2 1-1 7 2 1 0 2-1 2 0 4-1 3 1 10 1 6-2-5 4-3 1-14-2-11 1-6-1 0 2 26 5 12 0-16 8 2-2 5 1 2 1 1-2 4 1 1-1 2 2 22 0 12 0 3-1 2 1 6-1 9 1 4-2 4 1 6 1 0-3 2 4 0 3-4-2-2 1-1 1-2 0 0-2-1 1-1-2-1 1 0 1-1-1-2 0 0-1-2 2-2-2-10 3-8 0-1 0-6 0-5 0-18-3-3 3-2-2-1 2 0-3-7 2 0 1-3 0-1-2-4 0 1 5 1 1 6-1 5 1 2 0 1-1 27-1 0 2 2-3 9 1 0 2 4-3 2 2 2-1 0 2 5 0 7-1 3 1 1-3 4 0 1 1-14 3-7 1-5 1-3-1-6 0-4-1-3 0-40 5 5 1 18-1 1 0 23-1 1 3 1-3 9 2 8-1 2-1 4 3 1-3 3 3 1-2 4-1-7 4-15 0-1 0-2 0-1 2-9 1-1 0-5-1-1-1-10 1-9-1-5-1-15 3-1-2 1 3 0 3 10 0 0-3 1 0 1 0 9 1 0-1 19 3 1-1 0-2 2 0 2 1 5 2 11-3 2 0-8 4-5 1-8-1-1 3-4-2-4-1-6 2-9-2-5 2-1-2-3 6 32 1 1 3-8-1 0 1-2-1-2-1 0 1-5 1-6 0-5-2 0 3-3-2-1 2-6-2-1 4 9-1 2 2 11-2 3 1 2 0 1 1 5 0 11 5-30 0-26 0-1 0-5 0 1 1 2 3 3-2 8 1 3 0 11 1 1-3 1 0 5 0 10 3 1 0 2 0 2 0 3-1 3 1 4-2 10 4-2 2-1-3-3 0-3 3-1-2-4 2 0-1-1 1-1 0-1 0-1-2 0 1-1 0-1 0-4-2 0 3-1-1-5-1 0 1 0 1-1-3-2 2 0-1 0-1-2 2 0-2-1 2 0 1-1-1-1 0-3 0-2 0-2-1 0 1-2 0-3 1-4-3-1 0-3 1-1 2-3-3-6 3-1-2-1 6 3-2 3 1 1 1 7-3 5 2 7-2 2 0 1 0 0 2 4-2 1 3 3-2 0-1 2 0 7 0 8 2 2-2 1 1 1 2 3 0 0-1 1 0 2 5-3-3-5 0-14 3-6-3-1 1-6 1-2 0-1 0-10 1-4-3-5 3-2 1 21 1 5 1 4 1 4-3 2 1 15-1-48 8 0 3 3-2 2 2 5-1 1-2 1 1 1 0 1-1 2 1 12 2 10-2 18 1 12 1-20 3-35-2-3 1-4-1-1 3-1-2-2 1-2 0-3 1 6 2 2 2 9-3 0 3 1-2 22 1 15 0 9 3-10-1-3 0-2 0-2 1-4 0-1 0-2 0 0-1-5 3-20-3 0 1-6 0-1-1-2 3-3-2 1 4 1 1 6 1 0-1 1 1 0-1 2 1 2-3 2 2 15 0 18-2-21 7-19-3-3 1-1-1-6 1 27 5 5-1-2 4-6-1-1 2-1-2 0 3-1-1-1-2-3 3-4-1-1 1-7 4 3-1 1 1 3-3 2 0 0 2-9 3-2 2-2-1-1 0 0-1 0 3 10 11 2 0 20 0 4 0 0-3 2 0 2 2 1-2 1 2 4 1 6 0 1 0 3 0 1 0 4 0 3 0 3 0 2 0 6-1 1 1 1 0 1 1-6 1-1-1-2 0-4 2-1-1-1 0-2 0-2-1-5 3-2-3-5 0-4 1-2-1-1 2 0-1-1-1 0 1-1-1 0 2 0-1-1-1 0 2-1-2-3 1-3 1 1 4 2-2 0 2 4 0 2 0 3 1 2 0-1 1-7 2-2 13 16-1 9 0 3 4-1 0-2-1 0 2-1-2-2 1 0-1-16-1-4 1 34 9-8-2-2 0 0 3-3 0-2-1-1-1-3 2-5-2-2 0-8 0-5 1 2 4 7 0 32-2 3 1 2-1-2 7-2 0-10-2-2 2 0-1-38 1-3 0 0-1-1 0-5 5 10-3 6 3 19-1 9 1 4-2 0 2 2-2 1 2 2-3 1 2 1 0 1-1 1 1 1-1 0 1 4-2 1 4-4 0-1 0 0 2-1 0-1 1-1-2 0 2-3-3-2 0 0 2 0 1-1-2-5 2-2-2-12 0-7 0-9 1-18 3 4 0 3-1 9 2 1 0 2-2 7 2 10 0 3-2 9 3 3-2 1 1 3-1 2 0 0 2 2-1 3-1 2 0 2 2 1-1-1 5-1-2-2-1-5 1-1 1-1 0-1-2-1 3-1-1-4 0-3 0-2 1-6 0-9-1-3-2-1 3-3 0 0-1-1-2-5 1-6 1-6-1-1 1-1-1 9 5 26-2 24 1 3 3-1 1-2-1-3 2-1-1-1-1-1 1-17 0-3-1-8 1-22 0-2 5 9 1 3 0 3-2 4 1 8 1 2-2 1 2 3 1-5 1-2-1-2 1 0 2-1-2 0 1-1-1-1 2-1-1-1 1-2-3-1 2-1 1-1-2-1 1-2-1 0 1-1-1 0-1-1 3-3-2 0 1-2-2 0 2-2 0-1 1-1-2-1 1-1 1 0-1-1-2-3 3 1 1 0 1 4-1 4 0 1 0 1 0 3 0 2 2 1-2 1 3 3-3 5 1 0-1 2 1 0-1 2 0 1 2 1-2 1 2 7-1-3 6-4 0-4-1-1 1-4 0-2 0-15-1-4 1 1 3 0-2 1 0 1 0 1 3 2 0 3-3 4 1 1 0 2 0 4 1 1 0 1-1 0 1 1 0 2-2 0 3 1-1 1-1 2 0 0 2 5-2 0-1 1 1 1-1 0 2-6 4-1 0-2-2 0 3-1 0 0-3-1 2 0-1 0-1-1 2 0 1-1-2-2 1 0-1-2 0-1 0-4 1-8 1-1-3-4 2 5 2 2 1 3 1 2 1 7 0 1 0 1-3 1 0 1 0 2 0 1 1 1 0 0 2 0-1 0-2 1 3 0-3 2 0 0 3 1-1 0 1 0 2 0 2-1-3 0 3-2-2 0 2-2-3 0 2-2-1-1-1-2 2-1-1 0 1-1 0-1-1-1 0-5-1-7 0-1 3-1-3-1 0 0 2 0-1-4-1 25 5 8-1 3 0-52 10 1 0 3 0 1-1 0 1 2-1 1 2 1-2 1 1 6 0 2-1 0 2 0-1 2-1 2 2 1 0 0-1 1 0 5-1 0 2 1 0 0-1 1 0 2-1 0-1 1 1 3 0 0-1 2 3 0-1 1-1 1 0 0 1 2 0 0-2 1 2 1-1 0 1 3-1 1 0 1 0 1 0 0 1 2 0 0-2 1 2 0-1 0-1 1 0 0 3 0-1 3 1 3-1 2 0 1-2 1 1 5 0 0 2 1-1 5 1 1-1-1 3-4-1-1 0-14 1 0-1-4 0-8 0-38 0 6 6 8 0 12 1 3-1-5 2-2 2-3 1-1 0-5-3-1 3-1-3-4 1 0 1-6-1-2 0-1 1 0 5 8 0 1-1 7 0 0 1 1-2 2-1 4 3 6-2-1 6-2-1-1 1-7-1-8-2-1 3-6-1-6 4 4 1 4-3 3 1 0 1 5-2 10 3 1-2 4 5-1 1-2 0 0-3-8 1-3 2-2-2-3-1-2 3-6-3-3 3-1-2 9 4 0 2 14-1 1 0 6 0 2 1 0-1-2 3 0 2-2 0-3-3-3 3-1-1-7-1 0 2-4-2-2 0-1 1-1 0-2-2-2 3-2-2 6 4 1 2 6-3 2 3 4-2 0 1 4-1 4 0 1-1 0 1 8 4-5-1-1 0-2 0-2 3-2-1-1 1-2-3 0 2-1 0-3-1-4 1-5-2-1 2 0-1-5 2 0-2-2 0-2 6 4 0 0-1 1 1 12 0 0-3 5 3 0-1 4-1 2 2 0-1 9-1-8 6 0-3-1 2-1-1-3 1-4-1 0 2-1-1-1-2-1 3-5-3-4 3-2-1-2 2 1 1 1 1 4-1 1 2 3-2 3 0 0-1 8 1 0 2 1-3 0 2 3-1 7 3-3 1-13 1-4-1 0 2-8 0-1-1 0 2 1 2 1-1 3 1 2-1 3-1 2 1 1 1 6-2 4 3 5-1 1 0 0 3-3-1-3 1-2 1-3-2-3 0-5 0-4 0-6 1-6-1 12 7 15-1 8 5-8-3 0 2-2-1-1-1-13 4 4 1 1 1 3 1 2-3 1 0 4 2 0-1 4 2 3 0 2 3-4-2-2 3-2-1-9-2-4 2-3 3 0 2 7-2 1 0 1 0 3 2 3-3 0 2 8-1 5 5-9 0-2-2-1 1-3 2 0-1-12-2-2 1 4 3 1 2 6 0 0-1 8 0 3 0 4-1 0 6-8-1 0 2-1-3-3 2-1 1-5-1-3-2-7 0 2 7 3-3 1 2 8 0 1-1 4-1 7 1 1 4-6 2-14-3-1 1-1 1 5 2 5 2 1 0 4 1 1-2 2 1 3 2-1 3-1-1-1-1-3 2 0-2-2 2-1-3 0 3-6 0-3 0-2 0-3-1-1 3 1 1 10-2 0 1 4 2 0-2 1 0 1 2 1 0 2-1 1 1 1 0 1-2 1 1 0 1 1-1 0-1 2 3-2 0 0 1-1-1 0 2 0-1-1 0 0 1-2-1-1 2-1-1 0 1-1-2-1 1 0-2-1 0-2 3-2 0 0-1-1-1 0 1-3-2-7 0 9 4 3 3 0-1 1-2 3 1 1 1 4-2 0 3 1-3 2 0 0 3 1-3 12 3 0 3-12-1-2 0-1-1 0 2-1-1 0 2-1-2 0 2-2-3-1 2 0-1 0 2-1-1-2 1 0-2 0 1-3 0-1 0-1 4 3 1 1-2 7 1 1 1 1-3 0 3 1-3 0 2 1-1 0 2 1-3 10 0 2 0 1 5-2 0-10 0-1 1-1 0-1-1 0-1 0 3-1-3 0 3-2-3-1 1-3 0-2 0-1 1-3-1-1 2 1 3 2-2 5 3 2 0 3-3 0 2 0 1 1-3 0 3 1-2 0 1 0 1 1-1 12-1 1 3-2 1-12 0-1-1 0 2 0-1-1-1 0 2-4 1-2 0-1-1-1-2-2 2-1 0-1-2 1 5 3 0 7 0 0-1 1 2 0-1 1-1 1 1 1 0 11 1 2 4 4 5 11 0 5 1-2 2-3 1 0-1-10-2-2 2-34 0 0 5 37-1 3-1 1 2 2 0 9-2 1 5-2 0-3-1-2 2-4-3-43 0 35 7 6-1 1-1 1 1 7 0 2-1 2 1-5 2-4 1-4-1-3 0-4 0-1 0 30 7-4 4-1 0-4-1-4-1-1 0-10 1-1 0-1-1-3 1-9-2-1 0 4 6 6-1 1 2 1 0 5-2 4 0 4 0 2-1 1 1 3 0 1 2 0-3 7 2 0 4-2 0-2-1-8 2-2-3-1 2-4 0-4 0-3-1-1 0-1 1 0-1-1 1-2-2-1 2-1 1-3-3 0 3 3 1 8 1 1 1 1 1 5 0 4-1 3-1 2 1 6-2 0 1 1 0 1 2 4-3-8 4-6 0-6 0-5 1-2 1-4 0-1-1-4 1-3 1-3-2 1 6 2 0 1-2 2 2 5-2 1-1 2 0 1 3 11-2 13 2 1-3-11 4-52 2-1 1-1 0 0 2 0 2 1-2 0-1 0 3 0-1 0 2 0 2 0 1 0-2-1 0 0 5 1-1 33-1 3 2 1 1 1 0 8 4-10-3-1 1-35 1 0-1 0 2-1-1 0-1-1 2 1 2 0-1 0 2 1-2 1 1 36-1 4 3 1-1-3 2-3 3-35-1-1-2 0 1 55 9-10 0-1-1-1 0-28 2-6 0-6-1-6 5 11-1 8-2 27 3 14-2-5 4-4 0-34 0-3 1 23 4 3-1 2 0 2 2-1 2-3-1-3 1-1 0 0-1-1 2-4 0 0-2-3 3-1-3-3 3-8 0 1 2 2 1 0 1 2-1 0 1 2-1 1-2 7 0-8 5-3 1-4 0-1 0-1-1-3-1-2 0-1 1-3 1-1 0-5 5 1-1 2-2 1 1 1-1 3 1-8 4-3 1 0-1 0 2-4-1-5 5 1 0 2-1 2 3 0 2-1-3-1 1 0-1-1 1 0 2-1-3 0 2 0-1-1 1 0-1-1 0 0-1-1 1-2 1 4 2 0 3 1-1 0-1 1 2 0-3 1 0 0 2 0 1 1 1-1 0-1 1 0-1 0 2-2 1-1 0 1 1 0 1 1-1 0 3 1-2 1-1 0 3 1-2 0 1 1-1 0-1 0 6-2-2 0 3-1 0 0-3-1 2 0 1-1-3 0 1-1 1 1 4 0-1 1 0 0-1 0 2 1-1 0-1 0 3 0-1 1 1 1-3 0 3 0-1 0 2 0 2-2-2-6 6 1 1 12 0 0 2-14 0-1 0 15 6 0-1 0 2 0 2 0 2 0 1 0 2 0 2 0-1 0 3 0-1 0 4 0-1 0-1 0 4" fill="none" stroke="none" marker-start="url(#mr)" marker-mid="url(#mr)" marker-end="url(#mr)"/>
<path transform="scale(.5)" d="M63 1183l0-1-1 4 1 0 0-1 0 2 0 8 0-2 1 2 1-2 2 1 2 1 1 0 0-1 1-2 2 2 2 1 1-2 0 2 0-1 6 0 2 1 2-2 1 0 0 2 1-2-1 5-3 0-1 0 0 1-2-2 0-1-2 3-1-1-3-2 0 2 0 1-1-1-1 1 0-3-2 2-4 0 0-1-1 0 0 2-1 0-2-3-1 2 0 3 5 0 3-1 6 0 1 1 2-1 1 1 5-1 3 0-1 7-5 0-4 0-3-1-5 1-6 3 4-2 1 3 2-1 1-2 0 2 2 0 3-1 0-1 0 3 6-3 0 2 0 1 2-2 4 5-1-2-1 3-2 0-2-3-1 2 0 1-2-1-1 1 0-3-1 0-4 2 0-1-4 1-1 0-1-2-3 3-2 2 4 2 1-2 3-1 0 2 5-2 2 1 1 0 1 1 1-1 4-1 2 6-2-1 0 2-3-3-1 2-2-1 0 1-1-2-1 3-3 0-1-2 0-1-1 0 0 3 0-1-1 1-2 0-1-2 0-1 0 2-1-2-1 0-1 1-1 0 0 3 1 1 1 0 0 2 3-1 0 1 1-1 2 1 4 0 1-1 2-1 6 0 1 2 3-2-3 5-1-2-1 1-1 0 0 1-1 0-3-2-2 2 0-1-2 0-1-1 0 1-2 1-2-2-1 2-1 0-1 1-1-1-1-1-2 5 4 1 0-1 1-1 2 2 1-1 0 1 1-1 3 1 0-1 2 1 1-3 2 2 4 1 2 0 1-2 3 5-3-2 0 3-3-3-1 0 0 2-1-2 0 1-3 1 0-1-2-1 0 3-4-2-1 0-1 2-1-1-1-2 0 1-5 6 1-2 1 0 4 2 1-1 1-1 4 0 3-1 0 1 1 1 0-1 1 0 7 3-5 1-3 0-9 0-1-1-7 1 9 4 0 2 1-1 3 1 1 0 2 0 3 4-1-3 0 3-2 0-1-3-1 0 0 2-1 1-1-3 0 1 0 2-1-3 0 1-1 0-1-1-2 1-1 3 1 0 1 0 0 3 2 0 0-1 1-2 1 2 0-1 1 0 0 2 0-1 1 1 1 0 1-1 1-2 1 1 3 5-2 1-1-3 0 2-1-2-2 1-1 1-2 0 0 1-1 0-1 0-1-1-2-2 0 1 0 3 3 3 0-3 0 1 1 0 1-1 0 2 0-1 0 2 1-3 1 3 0-3 1 0 0 1 1-1 0 2 0 1 1 0-2 1 0 2-1 0 0 1-1-3-1 0 0 3-3-3 0 2-1-2-2 7 2 0 1-3 0 2 1 0 1 1 0-1 2-1 0 2 0-1 1 1 1-2 0-1 0 2 1-2 0 2 1-2 0 3 2-3 5 3 5 0 2 3-3-2 0 3-1-1 0-1-2 0-1-1-5 2 0 1-1-2-1 2-1-3-1 3-1-1-1-1 0 2-1-3 0 3-1-1 0-2-1 1-1 1-1-1 0-1-1 2 1 3 0 1 1-2 0 1 1 0 7 1 2-2 4 1 5-1 1 1-6 6-1-2-7 2-2 0-1-1-1 0-2 1-1 0 0-1-1 1-1-2-5 5 2-2 0 3 1 0 1-1 0-1 1 1 0 1 1 0 0-3 1 2 0-1 0 2 1-2 0-1 1 2 0-1 1-1 1 2 0-1 2 0 1 1 0-1 1 2 0-3 0 2 1-1 1 2 1-2 4 1 0 1-6 1-4 0 0 3-1-3-1 2-1 0-2 0-1-1-1 0 0 2-1-3 0 1-1-1-2 0 0 1-1-1 4 7 5 0 1 0 2-1 1 1 1 0 3 0 4 0 1-1 7 1 1 4-2-1-2-2 0 2-1 1-1-3 0 2-1 0 0 1-1-3-2 3-3-3 0 2-2 0 0 1 0-3-1 2-2 0-1-1 0 2-1-3 0 2 0 1-2-2 0-1 0 2 0 1-1-3 0 2 0-1-1-1-2 0 0 2-1-2-1 0 0 2-1 0 1 5 0-1 1-1 1 2 1-1 2-2 1 0 0 2 1-1 3 0 0 2 1-1 0-1 3 1 1-2 1 1 1 0 0-1 1 2 0-1 0-1 1 2 1-1 1-1 1 3 2-3 0 1 1 5 0-2-1 1-1-1-3 0 0 3 0-1-2 0-1-1 0-1-1 2-2-1-1 0-1-1 0 2-1-2-1 2-1-1-1 1 0-1-1 0 0-1-1 1-1 0-1 0-2-1-2 0-3 7 1 0 5 0 1 0 7 0 1-1 6 1 4 0 6 0 1-1 1 1 1 0 1 0 2 0 0-1 2 0 7 1 1 0 0-1 6 1 6 0 4 0-1 2 0 2-1-3 0 2-1 1-1-2-1 1-1-1-4 1 0 1 0-3-2 3-1-2 0-1-1 0-1 0 0 3-1 0-2-1-1-1-1 2-2-1-3 0-1 0 0 1-1-1-1 0 0-1-2 0-1 1 0-1-1 1-1 1-1-1 0-1 0 2-1 0 0-2-2 0-1 0-3 0-1-1-3 0 0 2 0 1-1 0-1-2-1 2-4-1-1-2-3 0 0 3-1-2 0 2 0-3-1 2-1 0 0-1-1 1-1 0-2 1 0-3-2 5 2 1 0 1 1 0 0-1 1-1 0 2 1-1 1-2 0 3 0-1 1-1 0-1 0 2 1-1 1 2 1-2 0-1 1 3 1-3 0 1 1 2 0-1 1-2 1 1 1 1 0-2 2 2 0 1 1-2 0 2 2 0 0-1 1-1 1 1 2 1 0-1 1-2 2 3 2-1 0-2 1 1 1 0 0 2 0-1 4-1 0 2 0-1 1-1 1 1 1-2 0 1 0 2 1-2 0 2 0-1 1-2 0 2 1 1 2-2 1 1 0-2 4 2 1-1 2 2 1-1 1-1 0 2 1-3 0 1 1 2 1-1 1-2 0 2 1-2 1 1 0 1 0-2 1 2 1-1 0-1 3 1 0 5-1-1-1-1 0 3-1-2-1 0-3 0-1 0 0 2 0-1-1 1-1-3 0 3-1 0 0-2 0 1-2 1 0-2 0-1 0 2-1-1-1 2-2-2 0-1-1 2 0-1-1-1 0 3 0-1-1 0-1-1-1-1-1 2-1-1-1-1 0 3 0-1-2 0-3 0-1-1 0 2-2 0-1-2-1 0-2 0 0 2-2-3 0 3-1-2-1 2 0-1-1 0-1 1-1-3-1 3 0-2-2 2-1 0-1-1-1-1 0-1-1 0 0 2-1 0-4-2-1 2-2 1-3-1 0 1-1-1 0 2 3 2 0-2 1 1 3 2 1-3 1 0 2 0 1 0 1 1 1-1 2 2 2-1 9-1 2 0 0 1 1 1 2-2 0 1 1-1 1 1 2 1 0-1 1-1 1 0 1 1 2 1 3-1 4-1 2 0 1 1 1 1 0-2 1 1 1 0 1-1 1 0 3 0 1 0 1 0-52 11 19 3-5-2-3 0-2 0 0 2 0-1-1 1-7 0-1 1 10 1 13 7-2-1-5 1-5 0-9-1-6 1 5 1 1 3 1-3 3 0 1 0 0 2 0-1 3-1 0 3 2 0 2-3 6 2 1 1 2 0-1 1-4 1-1 1-3-1-6-1-7 0 0 1-1-1-2 0 3 7 7-1 5 3 0-1-6 0-3 3-2 0 10 3 1 0 1-1 0 2-4 1-1 1-5-1-9 5 4 2 2-1 2 1 4 0 1 0 7-1 8 1 1 0 2 0 2 0 5 0 4 1-1 2-6-1-1-1-5 2 0 1-2-1-1 0-9-2-8 2-2 0-9 0 0-1 11 4 1 1 3 1 0-1 3 1 8-1 1-1 2-1 1 1 0 2 0-1 2-1 0 5-1 1 0-2-1 1 0-2-4 2-2-2-3 2-3-1-2 1 0-2-3 1 0-1 0 4 7 3 9-3 1 0 0 2 0 1 1-3 0 2 0-1 17 5-3 1-5 0-7 0-2-3 0 1 0 2-6 0 0-1-4-1-7 2-3 4 2-1 1-2 0 3 0-1 1-1 4 2 0-1 3 1 7 0 1-3 0 3 0-2 1 0 0 2 2-2 6 0 1 0 2 0 4 0 4-1 4 0 2 4-2 1-6-1-1 1-3-1-4 2-5-1-3 2-1-3 0 2 0-1 0 2-1-3 0 1 0 2-6-1-2 1-1-2-7 0-5 4 6 1 6-1 1 0 2 1 2-1 0 2 4-3 1 3 0-3 0 1 0 4 0 2-1-2 0-1-2 3-3-3-3 1 0 2-1-2-1 1-2-2-4 3-2 0-2-3-2 2 22 2 0 2 0-1 0 2 1-3 1 7-1 0 0-3-1 3 0-2-1 0-32 5 3-2 7 0 22 2 1 1 2 2-1 0 0-1 0 2-1 0 0 1-10-3-4 3-6 0-6-3-3 3-5-2 2 5 7-1 2 1 12 1 11 0 2-1-2 2 0 1 0 2-12-2-4 1 16 3 1 0 0-1 0 2 9 5-2 0-2 0-5-1 0-1 0 2 0-3-1 2 0-1-3 2-4-1-1 3 0 1 2-2 2 1 3 1 1-1 0 2 0-1 1-1 0 2 0-1 1-2 0 1 7 4-1 0 0-1-4 1 0 2-3-3 0 3 0-1-1-1 0-1-1 1 0 2-1-1 0-1-2 2-3-1 4 5 1-1 0 1 2-2 0-1 1 0 0 2 0 1 0 3 0 1-1-3-1 3-1-1-1 1 0 4 0-2 2 0 0 1 1-1 0 1 1-1 0-1 1 2-1 3 0 2-1-3 0 2 0-1 0 2-4-3 0 2-1 1 3 1 1 3 1-3 0 2 0 1 1 0 1-2-1 3 0 2 0-1-1-1-1 2-1-1-2 1 0 4 0 1 1-3 0 3 2-2 1 0 0 2 1-3 0 3 0 1 0 2 0-1 0 2-1-3 0 1 0 2-1-3-2 0 0 2-1 3 1-1 0 1 1-1 1 1 0 2 1 0 0-2 1 2 26 4-2 0-8 0-3-1-1 1-5-1-5 0-2 1-1-2-15 2-23 1 4 1 6-1 3 2 5-2 0 3 3-1 5-1 1 0 6 0 2 1 0-1 2 1 1-1 4 2 2-3 13 2 0 1 3 2-3 0-12-1-5 0-1 1 0 2-1-2-4-1 0 2-4-2-3 1-10 0-1-1-4 1-4 1 23 4 5 1 1-1 1 0 0 1 1-2 0 2 1 0 1 4-2 0 0-3-1 3 0-2-1 2-2-2-1 0-1 2-1-2-4 4 2-1 3 1 1-1 3 2 1-1 0 2 0-1 0-2 1 0 0 1 0 2 0-1 1-1 0-1 0 5-1 0 0 1-1-1 0-1 0 3-1-3-2 1-1-1-1 1 0 1-5-1 10 4 0 2 0-3 0 2 1 0 0 1 0-3 1 0 7 3 4 1-1 1-1 0 0 2-1-3 0 1-1-1-9 7 1-2 0-1 1 1 0 2 7-1 0-2 1 2 0-1 2-1 0 2 0-1 6 5-3 1 0-1-11 0-2 1-1 0-1 0 0-3-3 4 3 2 0 1 1-3 0 2 0-1 0 2 5-3 1 1 1 2 5-1 1-1 10 1 6 0 0-1 0 3-2 3-5-3-1 1-1 1-1 0-15-2-3 3-1-3 0 3 0-1-1-2 0 3-3-2-1 6 2 0 1-2 1 2 1-2 0-1 0 3 1 0 1 0 7 0-2 1 0 2 0-1-4 1-2-2 0 3-1-3 0 1 0 2-1-1 0-1 0 2-2-2 0 2-1 0-3-1-1-2 3 6 1-2 1 1 0 1 0-2 1 0 0 3 1-3 0 3 1 0 0-1 0-2 1 1 2 1 7 5-2-1-1-2-2 0-3 1 0 1-1-1-1 2-1-3 0 2-1-1-2 1-1 0 0 3 3 1 0 1 1-3 0 2 0-1 1-1 0 3 1-3 2 2 0-1 1 0 3 0 1 0 1-1 0 5-2-1-1 1 0 2-1 0-1-2-1 0-3 2 0-1 0-1-1 2 0-1 0-1-3 1-3 1 4 2 1-1 0 3 1-2 0-1 0 3 0-1 1 1 1 0 1-2 2 2 0-3 5 3 0-3 1 7-3-1-1 0-1 0 0 1-1-3-2 2-2 0 0-1 0 2-1-3 0 2 0 1-1 0-3-1-1 1 3 3 1-1 1 2 0-1 0-2 0 1 1 0 0 2 0-1 1 1 4-1 2 0 2-2 0 1 2 2 1-1 6 1 0-1 1-1 2 2 10-1 4 1-6 1-1 0-4 0-10 0-14 1 0 2 0-1-1-1 0 1-1-2 0 6 1 0 0-1 0 2 1 0 0-3 0 2 0 4 0-1 0 2 0-3-1 2 0-1 0 2 0-3-1 3 0 2 2 0 0-1 0 3 0-1 0 3-1 2 0-3 0 2 0-1-1 1 1 4 0 1 0-3 1 0 0 2 0-1 0 2 13 0 25 4-2-2 0-1-2 3-1-2 0 1-1-1 0 1-2 0 0-1 0 2-1 0-2-1 0-1-1 0-1 2 0-1 0-2-1 0 0 3 0-1-1 0-1 1-1-2 0 2-1-2-1-1-1 1-1 0 0 2-1 0-1-2 0-1-1 2 0-1 0 2-1-3 0 2-1 1-1-1 0 1-2 0-1 0-3-2-1 1-1 0-1-1 0 1-1 1-1-2 0-1-1 1 0 1-1 1-2-1-1 0 0-1-1 2 0-1-1 1 0-1-1-1-1 2 0-1-1 0-1 0-2-1 0-1 0 3-1-3-1 1-2 1-1-2-1 3-2 0-2-2 0 2-1 0 0-1-2 1 0-2 0 1-2 0 0-1-1 0 0 4 2 0 2-1 2 1 1 0 0-1 1 1 1-1 1 1 3 0 1-1 1 0 1 0 0 1 1-1 1 1 0-1 3 1 2 1 4-1 0 1 1-1 0 1 1 0 0-1 2 0 0-1 0 2 1 0 0-1 1-1 2 0 4 0 1 0 2 2 3-1 0-1 1 0 2 2 2-2 1 1 0-1 0 2 3-2 4 0 2 1 0-1 2 2 1-1 0-1 0 2 2-1 1-1-33 7-3 0-2-1-4 1-6 0 1 3 1 1 1 0 0-1 4-1 0 2 1-2 1-1 0 3 0-1 1-2 0 1 0 2 0-1 2-1 0 1 1-2 0 3 1-2 1 0-1 3 0 2-1 0 0-1-1 1-1-2 0 3 0-2-1 0 0-1-1 3 0-2 0 1-1-1 0 2 0-1-2-1 0-1-2 2-1 1-2-2-1 5 2-2 1 2 0-1 0 2 1-1 2 0 1 0 0 1 1-1 0 1 1-2 1-1 0 2 0-1 1-1 0 2 0-1 0 2 1-2 0 2 1-2 1 0 1 5-1-2-1 0 0 3-1 0-1-1 0-2-1 0 0 1 0 2-1-3 0 3 0-1-2-1 0 1-1 1-1 0-1-3-2 0 0 3 0-2-19 3 1 0 1 0 1 0 1 0 1 0 1 0 4 0 1 0 1 0 2 0 1 0 5 3 1-2 0-1 2 0 1 0 1 2 1 0 1-2 0 3 0-1 1-2 0 3 0-1 1-2 2 3 2 2-2 0-2 1-1-2 0 2 0-1 0 2-1-3-1 0 0 3-1-2 0-1-1 1 0 2-1-1-1-1-1-1-1 3-1-3-1 3 1 1 1 1 0 1 0-2 2 3 0-3 1 2 2 0 1-2 0 1 0 1 1 0 0-2 0 1 0 2 1 0 0-3 0 2 0-1 1-1 0 1 1 1 2-2-2 6-1 0-1-2 0 3-1-2 0-1 0 2-1 0-1-2 0 3-1-3 0 2-1-2 0 3-1 0 0-1-1-1 0-1 0 3-1-1-1 0-1 0-1 1 0-1-1 1-1-1-2 0-1 0-2 0-1 0-3 0-2 0-1 0-1 0-1 0-3 0-1 0 22 5 2 0 1 0 0-2 2 0 2-1 1 0 0 1 0 2 1-3 0 1 0 2 1-3 1 6-1 1-1-2 0 2 0-3 0 2-1-2 0 1-1 0-2-1 0 1-1 0-1 1 0-2-2 0-2 1 3 3 1 1 0-1 0 3 0-1 2-2 0 3 0-1 1-1 1 0 0 2 0-1 1-1 0-1 0 3 1-3 0 3 0-1 1 1 0-1 2-2 2 1 0 2 0 3-1-2 0 2-2-1 0-1-1 1 0 2-1 0 0-3 0 2-1-2 0 2 0 1-1-3 0 2 0 1-1 0 0-3-1 2 0 1-1-2 0-1-1 2-1-2 0 2-2 1 0-3 0 2-1 1-1-1-2 1-1 0-2 0-2-1 0 1-2 0-1-1-3 1-5-1 0 1-1-1 0 1-1-1-5 2 1 2 3-2 1 0 0 2 1-2 1 1 2-1 1 2 1-2 1 0 0 1 1 1 0-1 0 2 2 0 1-1 2-1 1 0 0 2 0-3 2 1 1-1 0 1 2-1 0 1 0 2 2-1 0-1 2 0 1 1 3-1 0 1 0-2 2 3 0-3 0 2 0-1 1 0 0 2 0-3 1 2 0 1 0-3 1 3 0-2 1 2 0-3 1 0 1 0 0 3 2-3 1 3 1-3-6 4-1 2 0-2-1 0 0 1 0 2-1-2 0 2-1-2-1 2-2-3 0 1-1 0-2 1-1 1-21-3 21 7 1 0 1 0 0-1 2-1 1-1 2 2 1 1 0-2 0-1 0 2 1 1 0-2 0 1 1 1 3 1 0 2-1-1-1 1 0 1-1-1-1 0 0-1-1 1 0 1-1-3 0 2-3 0-1 0-1-2 0 2-1 1-1-1-1 0-4 0-3 0-1 0-1 0-3 0-2 1-1-1-1 0-1 0-1 0 18 2 2 1 1 2 2-1 0-1 2-1 0 2 0-1 2 0 0 2 1 0 0-1 1-2 0 3 0-1 1 0 0-1 0 2 1-2 0-1 2 0-2 6-1-2-1 0 0 3-1-2 0 2-1 0 0-3 0 2-1-2 0 2-1-2 0 1-2-1-1 0-5 0 1 7 0-3 5 1 1 0 0-1 2 1 1-1 0 2 0-1 1-1 0 1 1 0 0 2 2-2 0 2 2 3-1 1 0-1-2-1-1-1-1 0 0 3-1 0-1-1-1-2 0 1-1 0 0 2-1-1 0-1-1 1 0-1-1-1 0 1-1-1-3 3-13 0-8 1 2 0 5 0 1 0 1 0 4 0 2 0 1 0 1 0 1 0 3 0 1 0 1 0 0 2 1-2 0 3 1-3 0 1 1-1 0 3 1-3 0 3 2-2 1 0 0-1 0 3 0-1 1 0 0-1 0-1 1 3 0-1 0-1 0-1 1 1 0 1 1-1 1-1 1 0 0 2 1 3-2 1-2-1-1-1 0 2 0-1 0 2-1-3 0 2 0-1 0 2-1-3 0 1-1 0-1 1 0 1-2-3-1 2-2 5 2-3 0 1 0 2 1-1 1-1 0-1 1 0 1 3 0-3 0 1 1-1 1 0 0 1 1-1 0 1 0 2 1-1 0-1 0 2 2-2 2 1-3 5-1-3-1 0 0 3 0-2-1 2 0-1 0-2-1 3-1-2 0 1-2-1 0-1 0 3-2-2-1 0 0 2 0-1-2 0-22 2 2 0 4 0 1 0 0 1 1-1 1 0 2 0 2 0 2 0 1 0 5 0 1 1 2-1 1 3 1-3 1 2 1-2 0 2 0 1 1-3 1 0 0 2 0 1 1-1 0-1 1 0 0-1 0 2 0 1 1-3 0 2 0 1 1 0 1 0 0-3 1 0-3 6-1-2 0 2 0-1 0 2-2-3 0 1-1 1-4-2-1 1-1-1 1 7 1 0 1-3 0 2 1-2 1 3 1 0 0-1 1 1 1-3 0 3 0-1 0-1 1 0 0-1 0 2 1 1 0-2 1-1 1 5-1 1-1 1-1-3 0 2 0 1-1-3 0 2 0 1-1-1 0 1-2-3 0 2 0-1-1 1-1-1 0 1-1 0-1-1-1 1 0-1-1 1 0 1 0-2 0 3 1 3 0-1 3 0 0 1 1-3 2 3 0-3 1 2 0-1 0 2 1-3 0 2 0-1 0 2 1-3 1 0 0 2 1-1 1 3-2 2-1-1 0 2 0-3-1 1 0-1 0 3 0-1-1-1 0-1-1 0 0 2-1-1 0-1-1 2-1-2 0 2-1-1-1 0-1-1-3 2 7 2 4 1 0-1 1 0 0 3 1-2-1 4 0 2 0-3 0 2-1-2 0 6 1-2 0 1 0 2 0-1 1-1 0 4 0-1 0 3 0-1-1-1 0-1 1 7 0-3 0 2 0-1 1 0 0 2 0 1 0 2 0-1 0 2-1-3 0 1 1 6 0-1 1-1 0-1 0 3 0-1 0 2 0 2 0 1-1-2 0-1 1 5 0 1 0-2 1 2 0-1 0 2 0 2 0 2-1-3 0 2 0 5 0-3 0 2 0-1 1 2 0-3 0 2 0-1 0 5 0-1-1 0 0 2 0-3 0 5 0-1 1 3 0 3 0 1 0-2 0-1-1 1 0 1 0 2 0 1 1-1 0 2 0-1 0 2 0 2 0-1 0 3 0-1-1-1 0-1 0 4 1 2 0 1 0-2 0-1 0 4 0 1 0 2-1-2 0 3 0 1 0 2 1-3 0 3 0-1 0 2 0 3-1-1 0 1 0-3 0 5 0 2 1-3 0 1 0 2 0 3 0-1 0 2-1-3 0 3 0-1 0 2 0 2 1-1 0-1 0 3 0 1 0 1 0 2-1-1 0-1 0 2 0 3 0-2 0 1 1 2 0-3 0 2 0-1 0 4 0-1 0 3 0-1-1-1 0 2 0-1 0 2 0 2 0 1 1-3 0 1 0 2 0 2 0 2 0-3 0 2-1-2 0 2 0 2 0 3 0-1 1-1 0-1 0 3 0-1 0 5 0-2-1 0 0 2-14 3 3 0 11 1 0-3 1 2 0-1 0 2 0-3 6 1-6 3 0 3-1-2 0 2 0-1 0 3 0 1 1 1 0-2 0-1 0 4 0 2 0-1 0 2-1-2 0 2 0-3 0 4 0 2 1-2 0 3 0-1 1 0 0 4-1-2-1 3 0-2 0 1-1-1-3 0 0 1-1-2 0 1-7 5 2-1 1-1 0 1 1 2 0-1 1-2 0 1 1 2 0-2-6 4-1-1 0 3-1-1-4 1 0-3-1 0 0 3-2 0 0-1 3 2 0 2 5-2 3 1-9 3 0 2-1-2 0 2-1 0 0-1 0 2-1-3-1 3 0-2 2 6 0-1 1-1 2 0 0-1 1 3-1 1-2 1 0-1 0 3-1-3 0 2-1 1-1-3-1 7 1-1 1 0 0 1 1-2 1 2 1-2 1-1 1 1 0 4-1 1-1 1-1 0 0-3-1 2 0-1-1 0-1-1 0 2 0 2 2 1 0 2 1-2 0 2 0-1 1 0 1-2 0 2 0 3-1 0 0-1 0 2-1 1 0-2 0-1-1 0 0 2-1 0-1 1 0 2 1 1 0-1 0 2 2-1 0-1 0 2 1-3 1 0 0 3 1 0 3-1-1 5-1-2 0-1-1 0 0 2-2-1-2 0 0-1 1 6 4 1 3 0 0-1 1 0 2 1 1-1 0 4-1-2 0 2 0-1 0 2-2-3-7 5 1 0 4 0 1 1 2-1 1 1 0-2 0 1 0 2 1 0 0 4-1-3 0 3 0 1 0 1 0 2-1 1" fill="none" stroke="none" marker-start="url(#mb)" marker-mid="url(#mb)" marker-end="url(#mb)"/>
<path transform="scale(.5)" d="M337 1194l11 1 1-1 17 0 17 5-11-2-21 1-2-2 0 2-1 1 0-3-5 0-1 2-8 5 1-3 4 1 0-1 1 0 3 3 1-1 2 0 1 1 1 0 1-3 0 2 0-1 3 2 1 0 4 0 10-1 4-1 3-1 7 1 0 3-1 0-1 0-1 2-6 0-5-2 0 1-14 2-2 0-2-2-1 1 0-1-1 0-3 2-27 3 18-2 9 3 4-3 0 3 0-2 1 0 0-1 13 0 2 1 5 0 7 0 1 0 134 5 0-1-93 1-1-1-33 0-2 1-1 1-5-3-1 1-2 1-1 0-17 1-1-2 0-1-1 1-2 2-2-1 0-2-1 1 0 2 0-1-1 0 0-2-4 2-1-2-1 3-6 0 0 4 2-2 0-1 1 0 1 3 4-1 0-1 1 2 0-2 3 2 1-2 1-1 0 3 3-2 13 2 1-1 1-1 6 1 2-1 7 1 0 4-1 0-7-1-1-1-1 2-14 0 0-1-2 2-4 0 0-2-3 1 0-1 0-1-1 2 0-1 0-1-3 3-3-1-3 1-1-1-1-1 2 3 2 0 7 0 1 3 0-2 1 0 1 2 2-2 2-1 15 2 7 1 1 0 7-1-11 3-18 2-3-1-4 1 0-1 0-2-1 3 0-1 0-1-4 0 0 2-1-3-2 6 1-1 1 2 5 0 0-1 0-2 1 0 0 1 4 1 1 0 2-1 2-1 4 1 4 2 3-2 6 1 4 1 4 0-18 4 0-2-13 2-3-2 0 2-1-1 0-1 0-1-3 3-2-2-1 2-1-1-2 0-2-1-1 1 0 1-2 0-1-2-15 1 16 5 1-1 5 0 1-1 2 2 2-1 3 0 1 1 0-1 1-1 1-1 1 1 1 0 0-1 3 0 10 1 4 2 13-2-3 3-13 0-18 2 0 1-1-3 0 3-1 0-1-2-2-1-1 0-7 1 12 4 1 2 0-1 0-1 30 5-25-1-6-1 0 3-31-3 31 7 1 0 0-1 0-2 26 6-2-1-4 1-7 0-13 0 0-1-1 2 0-3-31 0 31 7 1-2 0 1 25 4-25-1 0-1-1 2 0 5 0-1 18 1 4 0 7 3-1 1-2 0-5-1-1 1-5-1-15-1 0-1 0 6 0-2 1 3 24 4-9-1-9 1-6 0-1 0 0 4 0-1 1 1 27-1 1-2-18 5-10-1 0 3 0-1-1-1-31-1 31 7 0-1 16-2 32 7-21 0-4 0-3 0-4-1-1 1-46-2 38 6 4-1 0-1 1 1 1 1 5 0 0-2 8-1 3 2 5 1 0-3 6 1 1-1 1 2 2-2 8 0 3 3 1 3-3 0-1 1-2 0-4-3-3 0-1 0-1 2-6 0-1-2-7 2-3 0-1 1-3 0-1-3-9 1 2 3 2 2 3-2 2 3 2 0 3-2 2 2 14 0 4 0 1 0 3 0 1 0 7 2-5 1-5-1 0-1-8 3 0-2-11-1-2 2-4 0-3 0-1-2-1 1 0-1-3 1-3 0-1 2-4 1 6 0 2 3 3-2 6 0 5-1 8 1 4 2 15-3 2 4-2 3-13-2-17 0-3-1-8 3-4 0-2 2 1-1 10 2 0-1 1-1 2 0 3 1 1-1 3 0 7 2 1-2 15 1 5 0 12-1 1 2 8 1 3-1 2 1 65-2-2 3-1 3-65-3-5 1-105 1 121 9 0-2-3 2-20 0-1-2-23 0-1 4 24-1 1 1 32 4-8 2-24 0-33-2-65 4 77-1 20 1 1 0 33-1-91 6-1 0-9 1-2 0-4 0-4 3 2-1 4 2 1-1 1-1 5-1 0 2 6-2 0 3 1-2 2 0 2-1 3 4-4 0-3 2 0-1-19-1 44 11-19-3 0 2 18 3 77 6-38-1-102 0 53 4 23 1 13 0 14-1 7 0 1-2 30 1-33 6-2-2-1-1-29 1-8 1-1 1 0-2-5 0-9 4 13-1 1 3 19-3 11 0 14 3 1 3-25-1-26 2-6 2 33 0 4 1 9-1-11 4-5 1-8-1-5 1-5-2 0 3-68-2 70 4 0 2 2-1 14 0 1 1 3 0 9-3 14 2-9 3-14 2-20 0-2 0-3-2-11-1 1 7 10 0 3-3 9 1 12-1-2 6-17-1-2 1-1-2-67 7 54-1 8-2 2 3 23-3 6 3 11 2-14-1-1 1-20 0-1-1-1 3 20 1 2 2 16 0 8 0-3 3-43-1-11 2 15 5 0-1 7 0 11 0 0-2 12 4-33 1-11 5 2 1 10-3 3 1 6 2 2 0 1 0 6-3 3 3 0 1 0 3-2-1-1-1-1 2-4-2-1 1 0-1-1 2-2-3-22 0 1 7 23-2-13 6-2-2-2-1-5 3 0-2-7-1 7 4 0 2 1-2 0 3 8-3 13 7-17-3-4 0-1 3 0-2-5-1-4 7 2-1 4-1 3 0 0-1 1 2 6-1-7 4-7 5 4 0 6 0-10 4-1 0-1 0-5 1-2-3-1 2 44 9-1 0-8 0-3 0 8 2 52 4-16 0-1-1-10 3-13 0 0 3 0-1 0 3-28 3-8 4 8 0 8-3 7 1 7 6-7-2-15 2-8-1 0 2 0 2 8-1 0 2 19-3 3 2 4 1 0-1-34 4 34 4 0 3 0-1 0 3 0 3 18 1 0 3-18-2 0 6 0-1 0-1 18 4-18 3 0-1-9 5 9 0 0-3 18 2 0-1 0 6-18-3-4 2-6 0-2-2-4 2 0 1-3-3-4 3-9 0 11 3 2 1 2 0 2-3 4 0 4 2 6 0 0-1 1-1-14 7-5-3-3 0-4 1 0-1-1 1 13 3 0 3 0 4 0-3-25 7 5 0 20-3 10 3 2 0 6 3 0-2-1 2-1 1-1-3-5 3-4 0-6-1-1-2-3 2-5 0-1 0-1-2-1 2 0-2-2 0-2 0 0 2-1 0-4 1-2-1-3 1-1-1-2 1-3-2 2 4 3 0 5 0 8-1 2 2 0-1 2 0 2 1 1 0 0-2 6 1 1 1 16-1 3 1-37 4-1 1-2 4 11-2 3 1 1 1 0 1 0 2-3-2 0 3 0-2-1-1-5 0-3 3-1 3 4-1 1 2 1-1 0-2 3 0 4 0 0 3 0-1 0 3-1-1-10 1-12 6 3-1 2 0 6 1 12 0 4-2 6 2 3-1 14 1 10 1-4 1-3 1-1 0 0-2-10 0-7 2-7-2-2 1 0-1-3 1 0-1-13 1-8-1-3 0-3 1-2 5 0-1 0 2 1-2 0-1 22 3 6 0 0-2 0 5-21-2-7 1-1 1 0-1 0-1 0 3 0 3 0-2 1 3 11-3 13 0-2 4-1 3-1-2-20 2-1 0 0-1 0-1 0-1 0 6 0-1 19 2 2-2 0-1-21 7 0-1 0-1-20 5 20-2 0 2 0-1 1 2 0 4-1-2 0-1 0 3 0-1-20 1 0 1 1 1 19 0 0 2 0-1 1 0 0-1-1 5 0-1 0-1 0 3 0 4 0-1 0-2 1 1-1 5 0-1 0-1-15 2-1 1 3 4 13-1 1 4-1-2 0 3 0-2-13-1-8 5 21 0 0-1 0 3 0-1 1 0-1 4 0-1 0-1 0 3-23-3 23 5 0-1 0 3 0 3 0-2-24 7 7 0 17 0 0-1 0-1 0-1 0 4 0 3 0-2-18 5 18-1 0-1 0 3 0-1 1-2 0 5-1 0 0-1-17 2-4 0 21 4 0-1 0-1 0 3 1-1 0 5 0-1-1 0 0-1 0-1-12 3 0-1-2-2-2 3 0-3 16 7 0-1 0-1 0-1 1 7 0-1-1-2 0 3 0-1 0-1 0 3 0 3 0-2 1 6-1-2 0 2 0-1 0 3 0-1 0 3 1 2-1 2 0-1 0-1 0-1 0 7 0-1 0-1 0-1 1 5-1 2 0-1 0-1 0 3 0 3 0-1 0-1 25 2 1-3 1 3 4-3 1 3-2 1 0 1-30 2 0-1 0-1 0 4 0-1 0 3 0-1 1 4 0-2-1 1 0-1 0 3 0-1 0 4 0-1 0-1 0 3 25-1 0 1 7 0 4 3-1-2-1 3-1 0 0-1-1-2 0 3 0-1-32-1 0-1 32 4 0 1 1 1 0-1 1-1 0 3 1-3 1 0-1 6-1-1-1-1 0 7 0-1 0-1 0 4 0-1 0 3 0 3 0-1 0-1 0 7 0-1 0 4 0-1 0-1 53 7-15-2-38 2 0-1 0-1-24 2-1-2-2 1 27 2 0 2 0-1 1 0-1 4 0-1 0 3 0-1 0 3 0-1 0 3 0-1 1-1-1 4 0-1 0 3 0 3 0-1 0-1 0 3 0 4 0-2 0-1-1 1 1 6 0-2 0-1 0 7 0-2 0-1 0 4 0 3 0-1 0-1 0 3 0 3 0-1 0-1 0 4 0 1 1 0-1 2 0 1 0 2 0-1 0 4 0-1 0-1 0 3 0 3 0-1 0-1 0 3-33 4 0-1 0-1 32 1 1-1 0 1 0-2 0 6 0-1 0-1-8 2-25-2 0 1 1 4 0 2 0-1 24-1 8-1 0 3 0-1 0-1 1 4-1 0 0-1 0 3 0-1-8 0-25-1 0-1 0 2-1 4 0-1 34 0 0-1 0 3 0 1-34 0 0 1-1 2 0-1-1 5 1-3-1 7-3-3-3 2 0-1-2 0-1 1-10 4 2 0 2 0 1 0 0-2 2 0 1 4-8 0-1 1-1 1 0-1-1 6 1-2 0 5 0 1 0-3-1 1 0 4 0-1 0 3 0-1 1 1 0-3 14 3 0-1-14 4 0-1-1 1 0-2 0 5 1 2 0-1 0-2-1 5 0-1 7 5 0-1 0 3 0-1 0 3 0 2 0-3 0 5 0-1 0 7 0-1 0-1 0-1 0 4 0 3 0-1 0-1 0 3 0 3 0-1 0-1 0 4 0 1" fill="none" stroke="none" marker-start="url(#mr)" marker-mid="url(#mr)" marker-end="url(#mr)"/>
<path transform="scale(.5)" d="M324 1186l0 1 0 1 0 7 1-2 1 1 0 1 0-2 1 2 1-2 0-1 0 3 1-1 0-1-1 4 0 2-1-1-1-2 0 1-1-1-1 4 1 1 1 0 0 1 1 0 1 1 0-1 1 0 2-1-3 6-1-2-1 1 0 1-1-2 0 1-1 5 1 0 0-3 0 2 1 0 2-1 0 1 2 0 0-1 11 0-10 6-3-2 0 2 0-3-1 1 0 2 0-3-1 3 0-1-1 0 0-1 0-1-1 3 1 4 1 0 0-1 1-2 0 1 0 2 0-1 1-2 0 1 0 2 13 0 8-3 1 1-9 3-2 1-9-1-1 0 0 2-1-1 0-1-1 3 0-2-1 2 0 1 0 1 0 2 1 0 2 0 0-3 1 0 12 2 4 1 3 2 0-1-19 0 0 3-2-3 0 2-1 1 0-1-1-1 0-1-1 0-1 7 0-3 2 2 0 1 1-3 1 2 0-2 0 3 2 0 17 0 0-1-5 4 0 1-13-1 0-1-1-1 0 3-1-2 0 2-2-3 0 3-1-3 0 5 4-1 0 2 0-1 0 2 1-3 0 2 13-1-13 6-1-3 0 3-1-1 0-1 0-1-1 0 0 1-1 2 0-3-1 5 1-1 1 1 0 1 1-1 1-1 1 3 0-3 0 2 1 0 0-1 0 2-1 2 0 2-1-3 0 2 0-1-1 1 0-1 0 2-1-2-1 2-1 0 1 1 0 2 1-1 1 2 0-2 1 0 1 0 1 5-2 0-1 1-1-1-1-1-1 3 1 2 0 1 1-3 1 1 1 1 1 0 1 3-3-1 0 3 0-1-2-2 0 5 0-1 0 3 1-1 0-1 1 2 1-3 0 2 0 1 1-2 1 4-2 0-1-1-1 0 0 1-2 0 0 4 2 1 1-1 0 2 0-1 1-2 1 2 0-1 0 4-1 0 0 2-1-3 0 2-1 0 0-1-1 0 0 1-1 3 3-1 0 1 1 0 0 2 2 4-1-3 0 3 0-2-2-1 0 3-1-3-1 0-1 3 1 2 0-1 1 0 1 1 1 0 20 5 0 1-2-1-4 1-1 0-3-1-2 1-1 0-3 0-2 0-7 0 1 1 1 1 2 1 1 0 1 1 0-3 1 1 3 2 1-1 1 1 1-3 0 2 1-1 3-1 0 2 1-1 5 0 2 2 1-1 0-1 0-1 1 1 1 1 3 2-1 1-1 2-3 0-2-2 0 1-1-2-4 3-1-3-1 1 0 2 0-1-1 1-2-2 0 1-2-1-3 0 0 2 0-1-3-1-2-1-1 0-1 3-2 0 5 4 0-2 2-1 2 2 5-2 2 1 1 1 2 0 1-1 1 1 0 1 1-3 1 1 2 2 1-2 2 2 3-2 0 1 0 1 3-1 1 3-3-1-1 2-1-2-5 2 0 1-1-3 0 2 0 1-2-1-4 0-1-1-1 0-2 1-4-1-3 0 0 2-2-2-1-1-1 1 0 2-2 0-2 2 1 0 2 1 2-1 1 1 0-2 1 0 1 0 2 2 1-1 1-1 0 3 1-2 2 0 1-1 1 3 1 0 2-3 5 2 1-1 0-1 8 1 0 1 1 0 1-1 1 2 5 4-3-3-2 1 0 2-2-2 0-1-1 1 0-1-1 1 0 2-2-2-2 1 0-1-2 1 0-1 0-1-1 0 0 2-6-1-12 1-7 1 2 4 1-2 3 0 6-1 12 1 2-1 0 2 10-2 2 0 1 1-38 10 27-1 0 3 0-1-3 3-1-1-17 4 16 0 1 0 1 3-12 2-6-1-3 0-1 1-3 0 8 1 1 1 0 2 3-3 2 2 10-2 1 2 1-1-1 3-1 1-11 0-3 0-4-1 0 2 5 2 4 4-9 1-1 1 0 2 1 3 1 0 1-3 4 0 0 2 2-1 0 5-2 1 0-3-12 6 31 2 0 2 0-1 0 2-1-1-30-2 0 7 0-3 0 1 30-1 0 2 1-1 0 1 0-2 0 6-1-1 0-1 0 2 0 1-30-2 0 1 0 1 0 1 30 1 1 2 0-3 0 5 0 2 0-1 0-2-1 3-10 4 10 0 1-3 0 7 0-3-1 3 0-3 0 2 0-1-10 1-1 2 1 1 0-1 1 0 9 3 0-1 0-2 1 0 0 1 0 4 0 2-1-2 0-1-10 2-11 4 1 1 3 0 7 0 10-2 1 1 0 3 0 2-1-1 0-1 0 2-10-2-5-1-3 0-13 7 1 0 1 0 29-2 0-1 0 3 1-2 0-1 0 3 0-1 0 4 0 1 0-2-1 0 0 2-29-3-1 4 0 2 0-1 0 2 30-3 0 2 0 1 1-3 0 3-1 1 0 3 0-1-30-2 30 4 0 2 0 1 1-1 0 4 0-1-1-1 0 2-30 2 30 0 0 1 0 2 0-1 1-2 0 1 0 3 0 2-1-2 0 2 0 1-12-3-5 1 2 3 15 0 0 2 0-1 1 1 0 1 0 3 0-2-1 0 0 3-11-1 1 2 0 1 10 0 0-1 0 3 1-2 0-1 0 4 0 1-1 1 0-1 0 2-9-3-1 1 0 2 0-3 0 2 0 3 0 1 10 1 0-1 0-2 1 1 0 2 0-3 0 2 0 4-1-2 0 3 0-1-9-2 0 1-1 2 0-1 0 3 0-1 10 0 0 2 0-1 0 2 1 0 0-1 0-1 0 5-1-2 0 2-22 2 2 0 3 2 2-1 15 0 0-1 0 2 1-1 0 2 0 4 0-3 0 2-1 1 0-2 0 1 0 4 0-1 0 2 0-3 1 0 0 2 0 1 4 0 2 0-1 2-3 0-2 2-1 0 0-1-29-1 0-1 13 7 1-1 0 1 4-1 11 1 0-2 0-1 1 4 0 2 0 1-1-3 0 2 0-1 0 2-10-3-2 2-2-1 2 5 1 1 1-2 10-1 0 3 0-1 1 1 0 4-1 0 0-2 0-1-12 2-3-1-1-1 16 6 0-1 0 2 1-1 0 4-1-2 0 1 0 2 0-1 0 2 0 3 0-1 1-1 0 1 0 5-1-3 0 3-9 0 0 1 9 2 0-1 1-1 0 2 0-1-1 4 0-1 0 3 0-1 0 2 0 2 1-2 0 3 0 2 0 2 0-1-1-2 0 2 0-1 0 4 0 1 1-1 0-1 0 5 0 1 0 1-1-1-9 0 9 3 0-1 0 2 1-1 0 6 0-1-1-1 0 1 0 3 0-1 0 2 0 1 1 0 0-2 0-1 0 2 0 5-1-1 0-1 0 2 0-3-5 6 3 1 2-3 0 1 0 1 1-2 0 2 0 2 0 3 0-1-1-2 0 2-1 1-1-2-2 1-1 1-1-3 0 2-1 1-1-3 0 2-1 0-1 0 3 2 7 0 0 1 0 2 1-3 0 3 0 1-1 3 0 2 0-1 0 2 1-2 0 3 0 3-1-2 0 2 0-1 0 2-19 4 19-3 0 2 0 1 1-1 0-1 20 6-9 0-9-3-1 0-1 0 0 3 0-1-1 0 0-1 0-1 0 3-7-1-2 0-1-2-3 2-5-2-1 1-1 1-4-1-2 0-3 6 5-2 1 0 4-1 2 2 2-1 0 1 1-2 1 3 0-2 2 1 0-1 1 1 0-1 2 1 3 0 2-2 3 0 1 0 1 2 2-2 4 1 12 4-10-1-4 0-1 0-7 0-3 0-5 0-5 0 0 1-14 0 21 6 1 0 1 0 0 4 0-2 0-1 0 2-1 0 0-1-1-1-1 6 1-1 0-1 0 2 1 1 0-3 1 0 0 2 0-1 0 2 1 1-2 1 0 2-1-2 0 2-20 1 1 0 1 0 2 0 4 0 4 0 4 0 1 0 2 0 0 3 1 0 0-2 1 2 0-2 0-1 1 2 0-2 1 3-1 4-1-3 0 1-1-1-1 3 1 2 0 1 1-1 0 2 1-2 0 2 0-1 0 5-1-3-1 3-20 1 1 0 7 0 2 0 1 0 4 0 2 0 3 1 1-1 0 1 2 3-1 2-1 1-1-1-19 5 4 0 15-1 0 1 1 0 0-1 1-1 0 3 0 1 0 2-1-1 0-1-1-1 0 2 0-1-2 1 0 1-2-1-1 0-4 1 0-3-1 1-1 1-1-1 0 2 0-3-1 2 0-1 0 2-2-3-2 2 0 1-1 0-1-2-1 1 0-1 0 2-1-2-1 1 0 1-1-1 3 2 5 0 2 1 5 0 4 2 4-3 0 3 0-1 1 0 0 1 1 0 0-3 0 2 1 2 0 3 0-1-1-1 0 2-1-2 0-1 0 2-1 1 0-2-1-1 0 4 1 0 0 1 1 0 0 2 1 0 1-1 0 4-1 1 0-3 0 2-1 0-1-2 0 1 0 2-4-1-3 0-3 0-1 0-1 0-3 0 14 3 1 1 1-1 0 2 0-1 1 5-1-3 0 2 0-1 0 2-1 0 0 1 0 2 0-1 1 2 0-3 1 1 0 2 0-3 1 2-1 3 0-1-1 1 0 2 0-1-1-2 0 2-21 2 1 0 2 0 2 0 1 0 2 0 1 0 3 0 3 0 2 0 4 1 1 2 1 0 0-3 0 2 1-2-1 6 0-1 0 2 0-3-1 2 0 1 0-3-1 1 0 2 0-3 0 4 0 3 0-1 1-1 0 1 2 4-2-2 0 2-1-2 0 2 0 1-1-3-19 4 2 0 1 0 1 0 1 0 1 0 1 0 2 0 1 0 3 0 2 0 1 0 1 0 3 2 0 1 1-1 0 1 0-3 1 2 0-1 0 2 0 1 0 1 0 2 0-1-1-2 0 2-1-2 0 1 0 1-1-1 1 4 1 1 1 0 1-1 0-1-1 5-1-1 0 1 0 2-1-2-1 1 0 5 0-3 0 1 1-1 0 1 1-1 0 1 0 1 1-2 0 2 0-1 0 2 0 2-1 1 0-1 0 2-1-2-1 0 0-1 0 3 0-1 0 3 0-1 0 2 0 1 1-3 2 0-3 5 0 2 0-3 0 2 0 2 0 5 0-1 0 2 0 4 0-1 0 2 0-3 1 0 0 6-1-2 0 1 0 1 0 2 0 3 0-1 1-1 0 6-1-3 0 2 0-1 0 3 0 1 0 2 1-3 0 6 0 1-1-2 0-1 0 3 0-1 0 2 0 1 0 2 1 2 0 2 0-3-1 0 0 2 0-1 0 5 0-2 0 3 1-2 0-1 0 2 0 4-1-1 0-1 0 3 0 3 0-1 0 2 1-3 0 4 0 2-1 1 0-1 0-1 0 3 0 3 1-2 0 2 0-3 0 5 0 2-1-1 0-1 0 2 0 2 0 2 0-3 1 1 0-1 0 2 0 4 0 1-1-2 0 2 0-1 0 2 0 1 1-1 0 1 0 2 0 2 0 2-1 4 1-2 0 2 0 1 0 2 0-1 0 2-1-1 0 5 1 0 0-1 0-2 0 7-1-3 0 3 1 1 0 1 0 2 0 2 0 2 0-1-1-1 1 4 0-1 0 2 0 2 0 2 0-1 0 4 0 2 0-3 0 5 0-1 0 3 0-1-4 5 1-2 1 2 0-3 2 0 1 2-2 2-2 2-1-2-1 2 0 1-1-1-4 4 1-1 0 2 1-2 0-1 2 3 0-1 0-2 1 1-2 3-1 0-4 1-1 2-4 3 1 1 1 0 1-3 0 2 1 0 0 1 1-3 0 1-5 6 0 1 0 3 0-1 1 0 0-2 1 5-2 2 0-2-1-1 0 2 0 5 1-1 0-1 0 2 1-2 0-1 0 3 0-1 1-1 0 5-1-1 0-1 0 2 0 1-1-2 0 2 0-1-1 0 0 5 0-2 1 0 0 2 0-1 1 1 1-3 0 2-1 4 0-1 0 2-1-3 0 2 0-1-1 6 1-1 1 1 1-1-1 2 0 2 0-1-1-1-1 0 0 2 1 3 2 0-1 5 0 2 0 2 0-1 0 2 0 2 0 2 0-3 0 2 0 3 0 2 0-1 0 5 0-3 0 1 0 5 0-1 0 2" fill="none" stroke="none" marker-start="url(#mb)" marker-mid="url(#mb)" marker-end="url(#mb)"/>
<path transform="scale(.5)" d="M622 1195l1 0 34 0 5 0 19 2-1 2-13 0 0-1-9 1-6-3-7 3-10-1-4-2-1 3-7-2 0 1 0 1-1 2 1 2 2-1 9-1 9 2 4-3 0 2 6-1 2 1 1-2 7 3 4-1 3 1 9-2 39 2 33 2-7 1-8-2 0 2-7-1-13-1-6 0-25 0-4 0-18 3-4-1-1 1-1 0-3-1-10-2-1 1 0 2-2-2 0 2-4 0-7-1-7-1-1-1 0 3 0 3 0-1 0 2 1-3 16 3 1 0 0-1 1 1 1 0 1 0 2-2 1 2 1-1 5-2 2 2 3-2 3 2 11 1 1-2 3-1 1 2 7-1 79 1 1 0 41-2 0 4-75 3-18-3-28 1-3 1-2 0-2-1-1 1-2-2-2 2 0-1-1 2-1-1-2 1-8-2-3 0-3 0-2 0-1 1-7 1-2 0-4-1-1 0-1 1-2-2-1 0-3 1-6-1 0 2-1 0 0-1 0-2 0 1-29 2 30 3 6-1 3 0 3 1 1 1 5-1 1-2 1 3 0-1 1-2 1 2 3-2 1 2 2 0 11 0 1 0 2-2 5 0 0 1 5-1 5 0 32 3 32-3 1 2 10 2-9 0-67 3-7 0-1 0 0-3-2 0-1 3 0-2-3 2-2-1-2-2-6 0-1 2-2-1-1 1-2-1-5 2-4-3 0 3-11 0-7-3 0 2-29-2 29 7 0-2 5 1 4-2 1 1 7-1 3 3 4-1 1 0 4-2 0 1 0 2 3-1 3-2 3 1 1 2 1-1 1 1 3 0 1-2 3 1 7-2 2 0 3 1 1 2 18-1 9-1 20 0 8-1 25 2 41-2 0 1 0 2 0 2-57 1-17 1-14-2-21-1-12 3-4-3-1 2 0-1-5 1-1-1-6 0-1 2-2-2-8 0-2-1-1 2-1-2 0 1-1-1-2 1-4 1-2 1 0-1-3-1-1 1-1 1-3 0-1-1-3-2-7 2 0 1-1-2 0-1 0 2 0 2 0 2 0-1 0 2 1-1 0-2 8 2 2 0 2-1 2-1 8 1 0-1 0 3 0-1 3 1 2-2 3 0 7 1 2-2 7 3 4-1 3-2 1 2 1-1 1 2 1-2 5 0 0 1 22 0 38 0 17 4-10 1-10 0-17-3-10 2-8-2-12 0 0 1-10-1 0 3-3 0-2-3-5 1-8-1-2 1-5 2-8-2-6 0-1 1-6-2-9 0-2 3-5-1 0-1 0 2-1 0 0-3 0 2 0 3 0 2 0-1 1 0 0-1 6 0 1-1 11 0 6 3 6-1 4-2 9 0 1 0 9 3 1-2 2-1 70 1-6 3-8 0-36 0-16 0-1 0-1 0-31 1-19 1-1-2-7 3 0-1 0-1-1 2 0-2 0 5 0-1 0-1 1 0 10 3 8-1 3-1 5 2 32 3-3 1-10 0-23-1 0-1-4 2-5 0-13-3 0 2-1-1 0 2 0-1 0 3 1 0 6 0 7 0 12 0 0 2 39 0 9 3-30 0-3-1-13 0-7-1-2 1-9 0-9 0 0-1-1 2 0 3 0 2 1 0 4 0 0-1 2-2 3 1 5 2 2-2 3 0 1 2 5-3 8 1 17 1 3 3-23 1-5-2-15 0-10 0-1 1 1 6 0-1 4 1 9 0 0-2 4-1 1 2 0 1 8 0 5 0 1-1 35 3-37 1-1-1-6 2-2-2-4 1-3-1 0-1-3 3 0-3 0 2-3 1-2-2-2 1-4 1 0-1-1-2 0 4 0 3 1-1 4-2 4 1 0 2 2-2 1 0 1 2 3-1 1-1 1 2 1 0 2-2 8 2 3-2 6-1 18 4 0 2-4 1-20-2-2 1-4 1-3-1-3-1-1-1-1 1-1 1 0 1-2-1-2 1 0-2 0 1-1 1-6 0-5-2 0-1 0 3 0-1-1 1 0 3 0 1 6-2 5 1 0-1 2 0 1 0 0-1 0 2 1-1 0-1 1 2 0-1 3 0 2 1 5 0 28 0-12 2-16 3-5-1 0-1-1 2-1-3-4 0 0 1-4-1-1 3-9-1-1-2 0 2 0 4 0 1 1-2 8 0 0-1 0 3 1 0 0-1 1-1 1 2 1-2 1 1 0-2 2 1 1 0 0 2 23-3 23 3 4 2-44-1-4 0 0 1-1 1 0 1-4-2-2 1-1-1-1 2-2-2-7-1 0 3-1 0 0-1 0 3 0-1 0 3 1-3 0 2 0 1 8 0 1-3 0 2 1 0 1 1 1-3 0 1 1 2 1-1 0 1 2 0 1-2 1 1 5 0-2 2-2 1-1-1-2 1-1 0-2 0-2 0 0-1-1 2-3-2-7 0 0 3 0-1-1 3 21 2 21 0 11 0 1 0 22 0 3 0 2 0 2 0 1 0 2 0 4 0 8 0 1-1 21 2-1 2-1 1-11-1-2 0-2 1-4 0-5 0-4-2-1-1-4 1-3 2-2-3-4 3-4-2-6 1-1 0-1-1-1 1-3 1-5 0-2-1 0-1-7 1-4 1 0-3-1 2-1 0-1 1-5 0-3 0-3 0-5-2-3-1 0 3-2 0-1-3-1 2-3-1-2 1-40 0 41 5 2-3 1 3 1-3 1 2 8-2 1 1 7 0 1-1 1 2 3-2 2 1 3 2 9 0 1-3 1 0 1 2 9-2 0 1 6 0 0 1 8 0 6 0 4 1 0-1 3-2 1 1 0 2 1-2 3 2 2 0 0-1 2-1 2 0 2-1 0 1 12-1 3 5-2 1-13 0-4 1 0-1-2-1 0 1-2-1-11 0-5 1-1-2-3 0-1 3-8-3-2 0-3 1 0 2-1-1-8 1-8 0-2-2-4 2-9-3-4 1-7 2 0-3-7 2-2 4 22 0 1-1 1 0 7-1 5 1 3 1 2-2 3 1 1-1 5 1 15-1 2 1 11-1 13 0 0 1 31-1-109 7-8 4 7-3 9 3 1-2 2 2 8 0 1-1 2 1 3 0 2 0 5-2 2-1 10 0 11 7-3-1-3-2-6 3 0-2 0 1-2 0-13 1 0-3-2 0-2 0 0 2 0-1-1 2 0-3 0 2-1 0-3-2-1 2 0-1 0 2-1-3 0 3-1-2-1-1 0 2 0-1 0 2-3-2-1-1 0 2 0-1-1-1-1 2-13-1 13 5 0 1 1-2 1 2 1 0 4-3 0 1 2 1 2 0 1-2 2 0 1 3 3-1 16 0 1-1 1-1 1 0 4 0 0 1 1-1 0 1 0 2 1 1-2 1-21 2-6 0-1-1-1-2-2 3 0-3-2 1-1-1-1 1-2 2-2-2 0-1-3 2-2-1-3 2 0-1-4-1-8 2 10 1 2 2 2 0 1 0 3-1 3 0 2 1 4-1 6 0 3 0 15 2 12 0-47 1-6 1-2-1 0 2-2-1-2 1-2 0-3 1-5-3 4 7 6-2 1 2 0-1 2 1 3 4-1-2-2 0-3 2-5-2-1 2-3-3-2 1-3 2-2-3 4 6 2 1 3-1 3 0 2 1 3-2 1-1 5 0 0 2 2-2-5 5-1-1-1 0-12 1-2-1-2 0 41 7 3-1 1 1 11-2 15 5-6-1-2-1-1 0-2 1-1-1-4 2-1-2-2 2-6 1-3-2-11 2-8 0-8 0 18 3 3 0 7-1 2 2 4-2 3-1 4 3 5-3 1 1 3 0 6 0 8 6-4-2-13 0-1 0-1 0-2-1-1 3-2-1-2-1-1 2-1-3-2 3-5 0-4-3-3 3-1-1-1 0-3 0-8-2-7 0 14 4 0 1 2 1 3-1 3 1 4-1 2-1 3 1 0 2 1-1 2-1 1 0 4-1 4 3 1-1 2-1 0 2 2 0 4-3 1 3 5-3 3 3-11 1-4 0-3 3-1 0-9 0-1-3-2 2-2 1-1-3 0 1-3-1-1 1-2 1-2 1 0-3-4 1-1 1-15-2-49 1-1 3 63 2 3-2 4 3 1-2 2 0 0-1 3 3 1-1 2 0 0 1 2-3 1 3 6-3 1 0 6 1 1-1 2 1 9 0 8-1-7 6-11-2-3 1 0-1-2 1-1 0-8 1-14-2-1 0-3 0-1 0-11 2-52-2 46 7 2 0 7 0 22 0 16 4-1-1-6-1 0 2-11-1-5-1 0 2-1-2 0 2-2-2-1 1-4-2-9 0-3 2 0-2-3 0-2 0 11 4 0 1 7-1 4 2 3 1 2-3 10 3 2-2 2 2 1 0 6-2 2 0-3 5-2-2-2 0-8 1-10 1-3 0-1-1-2-1-2 3-2-2-6 0-3-1-1 0-7 0 3 4 1 2 8-2 2 1 5 0 1 1 2-2 2 1 0-1 2 0 0 3 4 0 1-1 3 1 1-1 12-1 0-1 1 1 2 0 1 1 6 1 16 2-10-1-8 2-6-2-11 1-1 0-5 0-1-1-1 3-1-2-2 1-1 0-2-1-6 1-6-2-4 3-2 0-4 4 4-1 6 1 1-2 3-1 1 2 0-1 2 1 2 1 2-3 3 2 7-2 13 1 1 0 0 2 2-1 0-2 3 2 5 1 0 3-7 1-1-1-1-2-9 1-3 0-3 1-7 0-2-1 0 1-3-1 0 2-2-3-4 3-3-3-4 0-3 6 11 1 0-2 4 1 1-2 1 3 1-2 1 0 1 1 3-1 1 2 0-1 1 1 4 0 4-1 0 1 6-3 4 2 0-1 1 2 1-3 1 2 1 1 1-2 1 2 6-2 17 4-4 0-3 0-14 1-2 1 0-2-1 0-3-1-1 0 0 1-7 0-1 1-3-1-8 2-6-3 0 2-3-1-1-1 0 1-1 1-3 0-8 1-6 2 4-1 12 2 1 1 1-1 1 1 1-2 1-1 0 3 1 0 1-1 3 0 0 1 2-2 1-1 1 2 8 0 1-1 1 0 15 4-7-1-1 0-1 3-1 0 0-1 0-2-2 2-10 0-3-2 0 2-1-2-1 3-1-3 0 2-1-2 0 2-1 1 0-1-2-1 0-1 0 2-1-1 0 2-1-2 0 2-2-1-1-2-4 1 0-1-1 1-1 1-3 0-7-1 0-1 0 2-2-1-2-1-1 2 19 3 4-1 3 0 1 0 1 3 1-1 4 0 1 0 2-2 33 1-34 3-2 2-3-2 0 2-1-2-1 0-1 1-1 1-11 0-3 1 7 2 3 1 2-1 1 2 2 0 1-3 0 2 1 1 2-3 0 3 3 0 2 0-1 1-1 0 0 2-3-2 0 1-1 2-1-3 0 1-1 0-1 0-2 1 0-2-2 1-3 0-3 1 4 4 2-2 2 3 1 0 1-2 1-1 2 2 0-2 1 3 1-3 1 2 0-1 0 2 3-3-2 5 0 2-2-2 0-1 0 3 0-1-1 1-1-3-1 1 0 1-2-1-1 2-6 0-5-3 4 5 0-1 1 1 2-1 4 2 4-1 0-1 0 2 3-2 1 0-26 7-3 0-2 0-6 0-3 2 1 1 4-1 3-1 2 1 3-1 1 0 2 11 6-1 1 1 42 0 22 0 0 4-4-1-1-1-5 1-1-2-1 2-2-1 0 2-1-2-2 1-4 0-2-2-6 2-19-2 0 3-2 0-6-1-14 2 3 1 5 1 1-2 3 1 1 2 5 0 6 0 0-1 41-2 1 0-45 4-1 0-9 0 0 3-4-2-2 0-6 1 42 6 0 3 0 2 0-1 0 3 28 4-1 0-5 0-1-1-2-1-2-1-6 1-11-1 5 6 4 1 6-3 5 2 4 1 4-3 3 2-2 2-5 1-1 1-1 1-13-2 0-1-3 2-22-1 0 2 0-1 23 3 3 2 15 0 2 0 0-1-2 2-2 2-1-2-4 2-2-2-5 2 41 2 0 1 0 2 0-1 1 0 0-1-1 5-7-2-2 0-1 0 0 2-9 1-65 4 16 0 17-1 31-2 2 2 2-1 3 1 3 0 2 0 10 4-12-1 0 2-34 0-6-3-1 0 0 3-1-1-14-2-19 5 1 0 15 2 18-2 0 2 7 0 5-1 1 1 20-2 6-1 1 0 1 0 5 2 3 4-1-1-9 0-2 0-3-1-17 3-1-3-16 1-9 1-12 1-1 0-12-2-5 4 5 2 2 0 4-1 3 1 2 0 0-1 4 0 2 0 16 1 1-1 1 1 13-3 4 1-7 3-8 1-2-1-1 2-2-2-6 3-4-2-7-1-3 2-1 1-1-1-2-2-1 2-2 0-2-2-3 2-2 0-3 1 5 3 1 1 1 0 1-3 0 1 1 1 0-1 1 2 1-1 0-1 2-1 0 2 1 0 1-2 2 0 1 1 0 2 1 0 1-3 14 1 4 0 1 2 1-1 9 0-6 4-4-1 0-1-1 3-3-1-1 1-10-2-3 2-4-1-1 0-1-2-1 0 0 1-2 0 0-1 0 2-5-1-2 0 0-1-1 1-2-1 0 2-1-1 3 4 1 1 0-2 1 2 6-1 3 0 1 0 0-1 1 1 1 0 10 0 11-1 18 0-48 6-1 1-1 0 1 2 0-1 0 3 0-1 1-1 0-1 1 2-1 5 0-1-1-2 0 1-2 4 1-1 0 2 1-1 0 2 1-1 0-2 1 0-1 5 0-1 0 3-1-3 0 3 0-1-1 0-23 4 1 1 2 0 1 0 2 0 1-1 6 1 1 0 1 0 2 0 7-2 2 2 4 0 4 0 3 0 6 0 1 0 3-1 1 0 1 1 1 0 6-1 1 1 7 0 1 0 1 0 1 0 4 0 1-1 1 3-1-1 0 1-1 1-2-1-1 0-1-1-2 1-1-1-4 1-2-1-1 2 0-2-1 0-1 0-1 2 0-1-1-1-2 0-1 2-1-1-1 1 0-1-2 0-1 1-3-2 0 1-1 1 0-1-1-1-1 0 0 2 0-1-2-1-2 0-1 0 0 1-1-1-1 0-1 0-1 0 0 1-1-1-1 0-1 2 0-2-2 0 0 1-3-1-1 0-3 0 0 1-1 1-1-2-3 0-1 0-1 0-1 2-2-1 0-1-2 0 0 2-1-2-1 0-3 1 16 4 1 2 4-2 0 4 0-1-1 0-1 3-1-3 0 3-1-2 0 1-1-2-18 2 0 4 5-1 13-1 0 1 1 1 1 0 0-1 1 1 0-1 1 1 1-2 0 3-2 2-1-1-1 2-1 1 0-2-18 5 8-2 1 3 1 0 7 0 1-1 1-2 1 1 0-1 2 1 0 2 1-2 0-1 1 3 3-1 3 0 0 1 3-1 4 0 2 0 2 0 1 0 1 0 1 0 3 0 1 0 2 0 1 0 2 1 1-1 4 0 1 0 1 0-38 2 0 2 0-1-1 1 0-1-1-1-1 2-2-1-12 2-6 0 3 3 1-2 3 2 1-2 11 0 2 3 0-3 1 2 0-2 1 1 1 3 0 2-1-1 0 1-1-1 0 1-1-2-2 0 0 3-1-3 0 3-9-2-9 0 0 2-1-2 9 4 1 1 3-1 8 2 0-3 0 2 0-1 1 1 2 0 0-1 1 4-1 2-1 0 0-3-1 0-1 0 0 3 0-1-1-2-1 0 0 1-13 0-6 0 0 4 7 0 4-1 9 1 0-1 1 2 1-2 1 0 0 3 0-1 1 0 1-1 0 2 16 0 1-2-2 6-8-1 0-1-1 2-5 0-1-1-1-1-2 1-1 0-1-2 0 2 0-1-1 0-17 2 7 2 3-1 8 1 1 1 0-1 0 2 3-3 0 2 0-1 0 2 1-3 1 0 0 2 0 5-1-1-1 0-1-1 0 2-1-2 0-1 0 3-2-2 0 2-1-1-17 3 3 0 15 0 0-1 0 2 1 0 0-2 1 0 0 2 1 0 2 0 0-1 0 2 1 4-1-3 0 2-1-1-1 2-1-1 0 1-1-1-1 1-15 0-6 1 8 2 13 1 1-3 2 3 1-3 1 1 0 1 1 2 0 2-2 0-1 1 0-3-1 3 0-3-1 0 0 2-1 0 0-1-1 2 0-1-6-2-7 3-7 3 6 1 13-2 2 1 0-1 0 2 1 0 1-3 0 2 0 1 1-2 1 0 1 0 0 2 0-3 1 7-1-2-1 2-2-3 0 2-1-1-2 2-10 0-2-1-1-2-4 0-1 1-1 0-2 1 11 2 3 2 6-1 1-1 0 2 2-1 0-1 0 2 1 1 0-2 1 2 1-1 1-1 1 2 0-1-1 5-2-2 0 2-1-1 0-1 0 2-1-2-1-1 0 1-1-1-8 2-8 1-2-2 0 3 18 0 2 3 0-3 1 0 1 0 0 1 1 2 1-1 1 3 0 2-1 0-1-2 0-1-1 0-1 1 0-1-1 1-2-1-12 3 4 3 8-1 1 2 2-3 1 3 1-3 0 3 1-1 0 1 0 4-1-2 0-1-1 3 0-1-1-2 0 1 0 2-1-2 0 1-1 0 0-2 0 1-13-1-5 0-3 2-2 3 0-1 13 3 8-3 1 1 0-1 1 3 2-1 1-1 0-1 1 0 0 3 1-3 0 2 0-1 0 3 0 1-1 2 0-1-1-2 0 3-1-3 0 3-1-1 0-1-1 1 0 1-12-2-7 5 2 0 3 1 15 0 1 0 0-3 0 1 1 1 1-1 0-1 1 1 0 4 0 1-1-2 0 1 0 1-1-1 0 2-1-2 0-1 0 3 0-1-1-1 0 2-1-3-10 3-2-3-1 0-3 0 0 3 18 1 0 2 0 1 1-1-1 3 0-1 0 2 0 3 0-1 0 3 0-1 0 5 0-3 0 2 0 2 1 1-1 3 0 1 0 1-1-2 0 7 1-2 0-1 0 6 0-1 0 2 0 2 0 2 0-1 30 1 0-1 1 5-1-2-1 2-9-1-3 1-3-1-5 1-3-3-6 2 0-1 0-1 0 3-1-2 0 2 1 3 0 1 1-3 7 2 0 1 0-3 2 0 1 2 1-1 3 2 2-3 0 3 1-1 12-1 0 1 0 4-1 1-12-3-2 3-4-1-4-1-2 0-1-1-4 0 0 2 0-1 0 2-1 3 1 1 0-1 0-1 1-1 4 3 4-1 0-2 20 0 1 3 0-1 4 5-3-1-1 0-11-1-3 0-6 0-1-1-6 0-2 2-1 0-1 3 1-1 0 1 0 2 29-1 1-2 0 1 5 2 1-3 0 3 2-2 1 0 3 2 1-2 1 2 35 3-35 0-3 0-2-2-2 3-1-2 0-1-2 0-3 2-1-2-1 2-10 0-18-1-1 0 0-1 0 3 0-1-3 4 3-1 0-1 0 3 1-2 0 1 1 0 4-1 1 2 0-1 1-1 5 2 0-1 3 0 3-1 1 2 2-2 8 1 0-1 1 0 0-1 1 1 6-1 7 7-3-1-4 0-2 1-1-1-5 0 0-1 0 2-9 0-2-2-2 0-2 2-5 0-2-1-6 0-1-1 0-1-1 3 0-1 0-1-1 0 0 2 0-1-1 1 2 2 0 2 0-3 1 0 29 1 0 2 1-3 2 3 6 0-2 2-5 0-2-1 0 3 0-1-29-2-1 0 0 2 0 1-1 3 0-2 1 1 0 2 0-3 1 3 0 4-1-3 0 1 0 2-1-3 2 4 29 0 0 3 0-1 1 1 0 4-1-1-27 5 26-3 1 1 0 4-21 2-1 0-1 0-2 0-3 2 1 2 3-2 1 1 0 1 22-2 1-1 1 4 0 3-1 0 0-1-28 4 3-2 3 1 22 0 0 2 0-1 1-1-1 3 0 2-22-1 0 1-1-2-3 1-2 0 0-1 0 7 3-3 1 0 2 3 1 0 8 0 13-2 4 6 0-3 0 1-15-1-3 3-1-3-1 1-1 0-1-1-1 2-4 1-1-1 2 3 1 2 0-1 0-1 1 1 1-1 1 0 0 1 1-1 2 1 2-2 17 0 0 2 0 2 0 1-1-1-17 2 0-2-2 3-1 0-5 1 1 1 1-1 4 1 1 1 19-2-48 6-2 0-5 5 1 0 2 0 1 1-2 0-2 2-1-2 0 3-3 3 2 3-2 1-1-2-1 3-3 4 1-1 0-1 2-1 1 0-2 4-1 1-1 0 0-1 0 3-1 1 1 1 0 2 0-3 0 2 0 4 0-1 0 2-1-1 0 4 1-2 0 3 0 3 0 1 0-2 0-1-1 0 0 2 10 4 0 2 0 3 0-2 0 4 0 1 0 2 0 2 0 1 0 2 0 2 0-1 0-2 0 4 0 2 0 1 0 4 0-3" fill="none" stroke="none" marker-start="url(#mr)" marker-mid="url(#mr)" marker-end="url(#mr)"/>
<path transform="scale(.5)" d="M608 1187l1-1 0-1 0 2 0 1 0 1 3 6 1-1 2 1 2 0 2-1 4 1 5 0 26 4-1-1-3-1-4-1-4 2-5-1-2 1-1-2-1 3-4-1 0-2-15 2-3-2-1 0-1 1 0 2-1 3 1 0 1 1 1-3 0 2 1-2 0 3 1-1 2-2 0 3 1-1 0 1 16-2 4 0 16 2 2 0 1 4-4-3-6 2-4-2-3 2-1-1-2 0 0 2-8-3-1 3-8-2-1 0 0-1 0 3-1 0 0-1-1 1 0-1-2 1-1-3-1 3-2-3-2 1 1 4 3 0 0-1 0 2 1 0 1-2 0 2 0-1 1 0 1 2 1-3 0 2 0 1 3-2 3 0 5 2 4-2 3-1 7 3 5-2 5 1 1-1 2 0-1 6-4-2-5 1-1 1-6-3-2 3-2-1-1-2 0 1-6 1-7-2-1 1-1-1 0 2-1-2 0 1-1 0 0 2-1-1-2 1 0-1-1 0 0-1 0 2-1-3 0 3-2 4 5-1 1-1 1-1 12 2 7 1 5-2 5 0 11-1-7 5 0-1-10 2-1-1-4 2-4 0-1-1-3 1-1-1-5-2-1 0-1 2-1-1 0 1-2-1 0 2-1 0-1-3 0 3-1-2 0-1 0 3-1-1 0-1 0 2-1-2 0-1 0 2 0 3 0 1 1-1 0 2 0-1 1 1 0-3 0 2 1 1 1-1 0 1 1 0 3-3 8 1 6-1 2 2 8-1 3 1 2-2 4 1 3 1 1-2 0 3 1 4-11-1-4 0-3-1-1 0-1 0-1 0-7 2-10-2 0 1-1 1 0-2-1 1 0-1 0 2-1-2 0-1 0 3-2-3-1 1 0 2 0-3-1 2 0-2-1 2-1-1-1 6 2-3 1 0 0 2 0-1 1-1 1 0 0 2 1-2 0 2 2-1 1 0 0 2 1-3 8 0 2 0 2 0 5 3 0-3 11 2 8-1 4-1-5 4-3 3-1-1-2 1-1 0-1-3-3 1-3-1 0 2-2-1-12 1-6-1-1 1 0-1-1 1-1-2 0 1-1 1-1-2 0 2-1 0-1-1 0-1-1 0 0 2 0 1-1-3-1 3 0 3 2 1 1-1 1-2 0 2 0 1 1 0 0-1 1 0 0-2 1 2 1-2 7 0 3 3 9 0 2-1 2-1 6 1 2 0 5 1 2 1-5 0-4 2-10-2-2 1-14-1-2 0 0 2-2 1 0-1-1-1-1-1-1 1-1 1-1-1 0 2-1-2-1-1 1 7 1-1 1-1 0 2 1-3 1 0 0 2 1-2 0 1 2 2 0-2 1 0 0 1 1-1-1 6-1-2-1 2-1-1-1 1-1-2 0 2-1 0-1 0 0-1-1 0-1-2 1 6 0-1 1 1 0 1 1-2 0 2 1-2 0-1 1 1 0 2 0-1 1-2 0 3 1-3 0 3 0-1 1 0 1-1 0-1 1 3 0 1-1 2 0-1-1 2-1-1 0-1-2 1 0-1-1 0 0-1 0 2-1 0 0 1 0-2-1-1-1 1 1 6 0-1 1-2 1 3 1-3 1 0 0 2 1-2 4 0-3 4 0 2-1 1-1-2-1 0 0-1 0 3-1-1-1-1-1 2-1-1 0-2-1 1 0 4 1 0 1-1 1 0 0 3 1-1 1-2 0 2 1 1 0-3 1 3 0-2 0 1 1 0 0-2 1 3 0-2 2-1-2 6-1-2 0 2-1-1-1-1 0 3-1-3-1 0-1 1 0 2-1-1 1 4 0-2 1 1 1 2 1 0 1-1 1-1 0 2 1-2 0 2 1-3 0 4 0 1-2 0-2-1-1 0-1 1-1-1 0 3-4-2 2 3 0 2 1-2 0 3 0-1 1 0 0-1 1-1 1 0 1 2 1-2 0 1 1-1 1 2 0-1 1 2-1 3-1-2-2 3-1-3-1 1-1 0 0 2-1-3 0 3 0-1-2 0 3 2 0 2 1-1 1-1 0 1 1-1 0 2 1-2 0 3 0-2 1-1 0 3 0-1 1-1 25 1 6 0-4 3-25-1-2 0-1 0 0 2-1 0 0 1-1-1-4-1-2-1 0 2 0 3 1 0 2 1 0-2 1 2 1 0 0-2 0 1 1 2 1-2 0 1 1-2 0 3 1-2 1 1 27-2-26 7-2-3-1 3-2-3 0 3-1-3-1 0 0 2-1-2 0 2-3 2 1 1 0 2 3-2 0 1 1-1 0 2 1-1 1-2 2 2 0 1 1-2 1 0 1 2 2-1 4 1 3-1 0 1 3-1 1 0 0 1 3 0 0-1 2 1 4 0 2-1 3-1 2 1 1 1 2 0 2 0 3 0 24 0 26 3-10-2-6 1-11 1-5-2-1 2-3 0-1 0-6-1-1 2-1-1-6 0 0-1 0 2-1-3-1 1-1 2-2-3 0 2-1-1 0-1-1 1-3 0-1-1 0 1-3 0-1 1 0-1 0 2-2-2-1-1 0 3-2-2 0-1-2 0 0 2-1-1 0 1-1-1-1 0-2-1-4 1-1-1-2 2-1-2 0 1 0 2-1-1-1-1-1 1-1-1 0 2-1 0 0-2-1 1 0 1-1-2 0-1-1 3 0-1 0-2 0 1-1-1 0 1-1 2-1-3 0 2 0-1-1 1-1 1 0 3 1 1 1-1 1-2 0 2 1-1 0-1 0 3 1-2 0-1 0 3 0-1 2-2 0 3 0-1 1-2 0 2 1-1 1 1 1-1 0 2 1-2 3 0 1 1 0-2 1 1 0 2 1 0 2-3 1 2 1 0 2-1 0-1 0 3 3-1 2 0 1-2 0 3 0-1 1-2 1 1 3 2 1-3 0 1 1 1 1-2 0 3 1-2 3-1 0 1 0 2 2 0 0-1 1-1 2 0 0 2 0-3 7 3 3-3 3 1 39 1 0-2-26 6-5-2-11 2-1-1-4 1-6 1-1-2-1 0-1-1 0 1-1 0 0 1-1-1-1 0 0 1 0 1-1-1-1 1-1-2-1 1 0 1 0-3-1 0-1 0-1 3 0-2-1-1 0 3 0-1-1 1-1-1-1 1-1 0-1-1-1-2-1 0 0 2-1-1-1-1-1 1-2 0-1 0 0 2-2-1-1-2 0 2-1-1-1 1 0-1 0-1-1 0-2 1 0-1 0 3-1-3 0 1-1 1-1-2 0 3-1-3 0 1-1-1 0 2-1 0 0 1-1-1-2 0 0-1 0 2-1 0 0-3 1 5 4-1 1 1 2-1 2 1 0-1 1 0 0 1 1 1 0-1 1-1 1 0 3 0 1 1 3-1 6 3 3-3 3 1 1-1 2 2 1-1 0-1 2 2 1-1 4-1 0 2 0-1 10-1 7 2 5-2 1 1 1-1 7 2-70 9 3-1 1 3-1-1 0 2 0-1 0 2-2 0-1 4 1-3 0 2 1-2 0 2 1 1 1 3-1 0 0-2 0 3-1 0 0-2 0-1-1 1 0-1-6 6 1-1 0 2 0-1 1-1 0 2 1 0 1-1 0 1 1-1 1 0 0-1 0-1 1 2 0 1 1-1 0 1 1 1-1 0-1 0-1 0 0 1 0 2 0-1-1-2 0 3-1-2 0-1 0 3 0-1-2 0 0-1-1 0-1-1 0 1 0 4 0 1 1-1 0 2 3-2 0-1 1 1 1-1 3 10 1 0 0 1 1 2-1 2 0-3-1 2-2 4 3-2 0 3 4 0 14 0 9 0-2 4-3 0-1-3-5 2-1-1-3 0-1 2-2-3-1 2-1 0-6 0-1-2 0 2 0-1-1-1 0 2 1 3 0 2 0-3 1 0 0 3 1-3 5 0 2 1 2 0 2 2 1-1 3-1 1 1 9-2 0 5-10-1-5 0-2 1-5-1-4 3-1-2 0-1 0 3-1-3 0 4 0 2 1-2 0 2 18 5-17 0-1 0 0-1-1-1 1 4 0 2 0-1 10-2 1 1 12 0-22 3-1 1 0-1 0 2-1 0 0 3 1 0 1-1 0 1 0 3-1 1 0-1 0 3 0-1-1-1 0 5 0-1 1 1 0 1 0-2 0 3 0 1 0 2-1 0-9 4 8 0 1-3 1 1 0-1 0 2 14 0-1 5-3-2 0 2-3 0-1-2 0 2-2 0-4-3 0 3-3-2 0 2-1-2-3-1-2 3 1 2 7 0 1-1 0 2 0-1 0 2 1-1 0-2 8 0 4 0-12 5-1 1 0-1 0 2 0 2 0 1 0 1 0 3 0-1 0 2 0 4 0-1 0-1 13 3-13 1 0 2-1 4 1-3 0 3 8-2 1 0 1 2-9 3-1 1 0-3 0 1-1-1 0 6 0 1 1-3 9 1 1 5-2 1-7-3 0 1-1 1 0-1 0 2-1 3 10 2-9 1 0-1 0 3 0-1-1-2 0 6 1 1 0-2 0 1 0 4 0-2-1 0 59 10-9 1-49-1-4 1 0 3 1-1 2 2 1 0 1-3 1 0 2 0 0 1 7-1 2 2 1 0 1 1 0-1 0-2 1 1 4-1 2 0 19 1 0 1 7 1 5-1 6-1 1 2 2 0 0 3-6-2-22 1 0-1-16 0-4 1-3 0-2-1 0 1-4-1 0 2-1-2-4 0-2 0-9 2 12 5 4 0-1 4 0-3-1 0-1 2 0 1-1 0-1-3-1 3 2 1 1 2 2-2 0 5-1-1 0 1 0 2-1-2-1 0-1 1 0-1 1 5 1 1 1-3 0 1 27 5-13 1-3-1 0 1-1-2-1-1-1 0-8 3-2-2 10 3 0 3 6-2 0-1 0 3 0-1 16 1-3 1-1 1-12 2-3-1 0-1-1 0-1 2-2-1-8 3 1-1 14 3 0-3 0 2 0-1 13 2 2-2 1-1 0 1-16 3 0 1-8 1-4 0 0 5 2-2 3 1 2 0 5-2 0 2 0 1 0 2 0 2 0-1-3 0-1 0-4-1-2 2-2-1-2 3 1 2 0-2 1 1 8-2 2 3 2-3 0 1 0 2 0 4 0-1-2-1-2 1-4 0-3-1 7 3 4 1 0-1 0 4 0 1-12-1-5 15 12-1 1 1 7 0 9 0 1 0 1 0 5 0 2 0 4 0 3 1-9 0-2 0-2 1 0 1-1-2-2 0-1 0-1 0-5 1-3 2-1-2-11 0 0-1-2 0-2 1-1 0-3 0-1 0 8 6-1 1-1 0 0 2 0 1-2-1-6-1 1 6 3 0 2-2 0-1 4 2 2 5-4-3 0 2-1 0-6 2 2 0 8 3 12 0 3 0 1 0 14 4-1 0-2 0-1-2-1 2 0-1-1 0-1-1-3-1 0 3 0-1-1-1 0 1-2-1-1-1-1 3-2-2-1 2-1-2 0-1 0 2-2 1-1 0 0-1-2 0 0-1-1 0-2 0-1 1-2 1-1-3 0 3 0-1-3 0 0 1-1-2 0-1-2 2-2 0-1-1-2 0 0 1 0 1-1 0 0-2-1 1-1 1-2-2-1 1-1 2 3 2 0-1 1-1 0 3 1 0 0-1 0-1 1 1 1 0 1 1 4-2 0 1 1-2 1 1 1 2 1-3 1 3 0-2 1-1 2 3 1 0 0-3 1 0 0 1 0 2 1-3 0 3 1-3 0 1 2 1 0 1 1-3 1 1 1 0 0-1 0 2 1-1 1 2 2-1 1-2 0 3 2 0 1-2 2 0 0 2 1-2 0 2 1-3 1 0 1 0 0 3 2-2 2 0 2 1-3 2 0 1-2 1-2-2 0 2-1-1-2 0-1 1 0-1-1 1 0-1-3 1 0-1-2 1-1 0-4-2-1 1-2 0-2-1 0 1-1 0-2-1-1 1-4-1-2 0-4 0-2 1-1 0 11 5 9 1 13-3-8 5-5 2-2-3 0 2-1-1-1 2 0-2-1 1-1-2-1 2-4 0 0-1-2 2-3-2-3 4 3 1 3 1 3-2 0 2 2 0 1-1 1 0 0-1 0 2 3-3 0 1 1 2 2-2 4 1-4 5-2-2-1 1-1-2 0 1-1 1-3 0-1 1-1 0-6-2 0-1-1 3-1-2-4 5 4 0 1 0 0 1 1-1 1 0 2 0 1-1 0 1 1-1 0 1 0 1 1 0 0-1 1 0 1-1 0 1 1 0 0 1 1-2 0-1 1 2 0-1 1 2 0-3 2 2 0-1 0 2 1-1 1 0 3 0 1 0 1 0 1 0 1 0 2 4-11-1-1 0-1-1-1 1-1 0 0 2-1-2-2 2-2-3-6 1-1 2-1-2-1-1 0 2 0 5 4-2 1 2 3-2 2 0 1 1 1-1 0 1 0-2 1 1 0 2 1 0 1 0 1-1 1-1 0-1 2 2 1-2 0 1 2 2-1 1-3 3 0-1-3-1-1 2 0-2-1 1-1 1-1-3-1 2-4 1-1 0-5-1-3-2 2 5 2 0 2 1 3 0 3-1 1-1 2 0 2 2 1 0 0-2 1 0 0 1 1 2 0-1 1-1 0-1 1 1 2 0 4 0 1 5-4 1 0-1-3-2 0 1 0 1-3-1-1 0-2 0 0 2-2-2 0 2-7 0-6-3-1 5 5 0 0 1 3-2 1 0 0 3 4-3 1 1 0 1 1 0 2-2 0 2 1 1 0-1 2-1 1-1 0 2 4 1 9 4-1 0-2 0-1-1-1 1-2 0-1-1-2 1-1-1-2 0-1-2-1 1 0 2-1-3 0 2 0-1-1-1 0 2-1-1-1 2-1-1-1-2 0 1-7-1-2 2 0 1-1-2-1 2-1 0-1 0-3 0 2 2 1-1 0 1 2 2 1-3 1 0 0 1 0 2 1-3 0 1 0 1 1-1 1-1 1 0 1 1 1 0 1-1 1 0 0 3 1-3 0 3 1-1 0 1 1-1 0-1 0 2 1-2 0 2 1-3 1 1 0 2 1-3 0 2 0 1 1-2 1 0 0 2 1-3 0 1 0 2 1-2 1 0 2-1 0 1 1-1 1 0 1 0 1 0 0 1 1-1-3 5-6-1 0 1-3 1-3 1-2 0-2-1-1-1-3 0-1-1-5 1-3 1 5 3 3 0 1 1 2 0 1-1 2 2 4-3 0 2 1-1 0 2 2-3 0 1 1-1 1 3 1-3 0 3 9-3 0 6-2 0-1 0-1-2 0 2-1 0-2 0-1 1-1-1-2 0-1-1-1 1 0-1-1 2 0-1-1 0-2-1-1 1-1 0 0-1-1 1-2 0-1 0-1 0-1 0-1 0-2 0-1 1 0-1-3 0-1 0 0 4 4 0 4 1 5-2 0-1 0 3 1-2 0-1 2 0 1 2 2-2 1 2 1-1 0-1 0 3 1-2 4 2 2-1-3 2-2 2-2 1-3-2-1 1-1 0-1 0 0 1-2-1-1 1 0-3-6 1-5 1 3 4 2-2 1 1 11 1 2-2 2 0 0 2 1 0 7 2-7 1-2-1 0 3 0-1-4-1 0-1-2 0 0 2-4 0-9 1 2 4 3-3 5 3 1 0 0-2 1 2 1-2 1-1 0 1 1 2 0-3 1 2 2-1 0 2 0-1 4 1 3 0 1-2 2 2 1 1-3 2-1-1-2 1-1 0-3 0-1-1 0 2-1-3-2 3-2-2 0 2-1-2 0-1-1 1-2 0-1 0-1-1-7 0-2 6 3 0 8-1 2-1 1 1 0-1 0 2 2-2 1 0 1 2 2 1 0-1 1-1 0 2 5-1 1 2-2 2-1-1-1 1 0 1-3 0-1-1-2 1 0-2-2-1-2 0-1 3 0-2-3 0-2 1-3-1-3 0-3 3 2 2 0-2 4 0 2 0 1 0 1 0 2 0 1 0 1 2 3-2 0 3 2-3 1 0 0 2 0 1 1 0 0-3 0 2 1 1 1 0 1-2 0-1 1 0 1 2 0-1 1-1 1 3 6-2-4 6-2 0-5-2-1-1-4 3 0-3 0 1-1-1-1 3-1-3-1 2-6-1-2 2 1 2 1 0 0 1 2 1 1-3 1 0 1 0 0 2 3 0 1 1 0-1 1 0 1-1 1 1 0-1 3 2 1-2 1-1 0 2 7 1 2-2-7 6-2-3-3 2 0-1-1 0-1-1 0 1-1-1-1 0 0 2-1-2-1 0-1 1-5-1-5 1-2 3 1 2 2 0 4 1 1-3 5 1 2-1 0 2 1 1 1-3 0 1 6 1 0 1 1 0 1 0 0-3 0 1 6 2-5 2 0 1-1-1 0-1 0 3-1-2 0-1 0 2-1-1 0 2 0-1-1-1 0 2 0-1-1 1-1-2 0 1-1-2 0 2 0-1-1 2 0-2 0-1 0 2-1-1 0 2 0-1-1 1 0-1 0-1-1 1-1-1 0 1-1 0-1-1-1 0 0-1-1 1-9-1 0 1 10 3 1 0 2 0 1 0 3 0 4 1 1 1 0 1 0-2 1-1 0 2 0-1 1 1 3-1-3 5-2 0 0 1 0 3 1-1 0 2 0-1 1-1 0-1 0 2 0 4-1-2 0 2 0 1-1-3 0 1-1 1-17 4 1 0 1 0 2 0 1 0 2 0 4 1 1-1 1 0 2 0 1 0 1 1 1-1 1-2 0 2 0-1 0 2 1 2-1 2 0-1 0-2-1 2 0-2 0 1 0 2 0 1 0 3 1-2 0 2 0-1 1 4-1-2 0 2 0-1-1 1 0-1 0 2-1 2 1 1 0-2 1 3 0-1 0-1 1 1 0 4-1-2-1 2-1-1 0 2 1 1 0 3 1-1 0-1 0 2 0 3 0-2-1 3 0-3 0 1-1 2 2 2 0-1 0 2 5 4-1-1 0 2-1-3 0 2-1 0 0-1 0 3 0 1 1 1 0 1 1-3 0 1 1 1-1 4-1-2 0 1 0 2-1-3-1 0 0 3 0-1-3 0-2 0-1 0-1 0-1 0-1 0-1 0-7 0-1 0 19 2 0 2 1-2 0 2 1 0 0 1 1 1-1 3-1-2-1 0 0 3 1 1 0 2 1-3 0 2 1 4-1-2 0 3-1-1 0 1-1-1 0-1 0 2-1 0 0 1 1 1 0 2 1-2 0 2 1-2 0 2 1-3-1 7 0-1-1 1-1-2-1 5 1-1 2 2 0-1 1 0 0 5-1-3-1 1 0-1-1 0 0 2 0-1-1 4 0 1 1 1 1-2 1-1 0 1 0 1 1 5-2-2 0-1 0 3-1 0 0-3-1 2 1 3 0 2 1-3 0 2 1 1 1-3 0 6-1-2 0 1-1 2 0-1 0-1-1-1 0 1 0 5 0-2 1 3 1-1 1 0-2 3 0 2-2-2 0 6 1-3 0 3 1 0 0-3 1 2 0-1 0 2 1-1 0 3-1 2 0-2-1-1 0 1 0 1-1 1-1 0 0 2 1-1 1 0 0 3 0-1 1-1 0 1 1 2 0 3-1-3 0 2 0-1-1-1-1 0 0 3 1 1 0 2 0-1 1 0 0 1 0-2 1 4-2 2-1-2 0 3-2-2-2-1-2 3-2-1-14 4 1 1 1 0 1 0 1 0 3 0 1 0 0-2 2 1 4-1 2-1 3 0-15 4-2 0-1 1 0-1-1 0 0 2-1 1 1 1 1 3 0-2 0-1 1 3 0-2 1 6-1-1 0-1 0-1-1 0 0 1-1-1 0 2 0 1-1-3 1 4 1 0 0 3 1-3 0 3 0 2 0-1 0 3-1-1 0 1-1-1 0 1 0-3 1 4 0 2 0 1 1-3 0 1 0 2 0 2 0 1-1-2 0 1 0 1-1-2 0 1 0 1-1 0 0 3 0 2 1-1 0-1 1 2 0-2 2-1 0 2-1 3-1-1 0 1-1 1-4 1-1 2 1 0 1 2 6 4 0-1-7-2 0 3-1-3 8 4 0 2 0 1 0 4 0-3 0 1 0 4 0-1 0 3 0-1 0 3 0-1 0 2 0 1 0 1 0 2 0 2" fill="none" stroke="none" marker-start="url(#mb)" marker-mid="url(#mb)" marker-end="url(#mb)"/>
<path transform="scale(.5)" d="M885 1195l1 0 5 0 8 0 8 0 3 0 4 0-5 1 0 2-1 1-2 0-2-1-1-1-2 2-1-1-1-1-1 0-3-1-3 1 0 2-1-3-3 3-1 0-1-2-1-1-3 1 1 3 1 2 2 0 0-1 2 2 7 0 1-2 1-1 3 0 1 0 2 3 2-1 13 3-8-1-3 1-2-1-9 2-3 0 0-1-1 1-2 0 0-2-2 1-1-1 0 3-17 0 1 1 9 3 3-3 0 2 5 0 3-1 2 1 2-2 2 2 3-1 1 0 1 0 1-1 5 0 0 2 17 1 117 4-101-1-9 1-13 0-15 0 0-2-4 2-2-3-2 0 0 2-1 0-1-2-1 3-3-2-2 1-1-2-2 2-1 0-13 0 0-2 13 5 4-1 3 2 3-1 2 1 1 1 3-1 2-1 7-1 6 3 2-2 5-1 14 3 14 0 1-1 2 1 3-1 85-2 3 1 4-1-96 5-3 1-3 1-1-1-29 0-7 0-2-2-3 1-4 2 0-2-6 2-2-1-3-1-1-1-5 5 1-1 2 1 1-1 1 1 2 1 2 0 3 0 2 1 1 0 2-1 1 1 2-2 1-1 0 2 3-2 10 1 11-1 12 1 8-1 2 1 7 0 40 2 0 1-64 2-7-2-10 2-10-2-4 1-1 1 0-1-2 2-3-2-4 2 0-2-4-1 0 3 0-1-1-2-3 6 4 1 2-3 0 3 10 0 1-2 1-1 2 3 1-1 13 1 24-2-8 5-20-2-2 2-3-2-1 0-10 0-1 0-1 1-3 0-2 2-1-3-3 0-16 3 0 2 17 1 1-1 6 2 5-1 1 0 3 1 2-3 0 3 5-1-12 3-2 0-1-1-2 1 0 1-1 0-2 1-1-1-2-2-2 1-15 0 31 9-16 0-2-2-1 1-12 0 0 5 0-2 12 0 0 2 1-1 0-1 0 2 18 4-6 0-11-1-1 1-13 1 0 2 11-1 1 3 0-1 2 0 8-2 3 0 3 3 0-3 1 2 5 5-19-1-1-2-1 2-1 1-11 0 10 4 2-3 2 0 0 5-2-1-1 3 0-1-13-1 13 6 2-3 12 7-12-2-2 2 0-2 0-1-12 2-1 5 1-2 11-1 1 2 0 1 0-3 1 0 0 2 9-2 5 0-7 6-5-1-1 1-1-2 0 2-1-1-1 0-11 4 12 1 1-2 3 2 10-1 7 0 36 2 32 3-8 0-6 0-2-2-4 1-4 1-2-2-4 1-4 1-6-2-2 2-4 1-10-3-4 3-6 0-1-2-1 2-1 0-5-3 0 2-4 0 0 1-3-2-5 2-3-1 1 5 0-1 1-2 1 0 0 2 2-1 0 1 1-1 1 2 0-1 1-2 0 1 0 2 2-2 1 0 1 1 2-2 0 3 1-1 1-1 2 0 2-1 0 1 2-1 0 3 7-3 1 0 0 2 3 1 2 0 3-2 6 2 5 0 0-3 1 2 2-1 7 2 6-2 0 2 3-1 1-1 2 2 5 0 1 0 10-2 2 2 1 0-2 3-1-2-2 2-2-2-11 3 0-1-15-2-1 1-6 0-11 2-8 0-9 0-1-3-1 3 0-1-1 1-1-3 0 3-2-2-1-1 0 1-2-1-1 0 0 2-1-1-4 0 0 2-1-3-1 3 0-2 0 1-1-2-2 2 0 1-2 0-1 3 1 1 2-1 0-2 1 0 1 1 1 2 1-3 4 1 1 0 1-1 0 1 2 2 1-1 1-2 1 0 1 1 3-1 2 0 1 2 6-1 1-1 0 1 5 2 17-3 2 1 3-1 3 2 3-2 8 2 1-2 6 1 5-1 4 6-12-1 0 2-14 0-1-2-1 0-16 2-3-3 0 3-11-2-1 1-3-1-16 1-4-2-17 0 0 2 23 5 4-3 17 0 2 2 6-1 0 2 2-1 1 0 23-2 1 0 6 0 0 1 2 0 0 1 1-2 6 1 2 0 64 2 9 0 22 0 14 2 0 1-5-2-5 0-2 3-9 0-23-3-7 0-6 2-1-2 0 2-13 0-1-1-12 0-22 1-5 0-2 0-2-2 0 2-23-1-3 0-9 1-13-2 0 1-1-1 0 2-2 0-1-1-4 0-2 1-10 1-2-2-5 0-1 0 2 4 1-1 0 3 6-3 1 2 4-2 15 2 10-2 10 1 4 2 1-3 21 1 2 0 7-1 46 1 16 0-161 6 109 5-18 3-17-2-3 1-70 0 47 5 50 1-44 1-54-1 0 6 0-1 37 1 14-2 7 0 34 0 4 0-57 7-9-1-5 0-11-2 0 3-1-2 0 2 0-1-1-1-12 2 0-1-1 3 13-1 0 3 1-3 0 2 2-1 10-1 10 0-2 6-5 0-14 0-1-1 0-1-1 1-1 1-11 5 0-1 12-1 0 1 2-1 0-1 14 2 7-2 6 0 2 1-8 4-22 0 0-1-1 0-13 1 2 4 203 6-3-1-23-1-5 0-8 2-13-3-53 3-1-2 0 2-4-2-34-1-14 1-1 2-2-2-43 2 0 3 43-1 0-1 1 2 1 0 0-2 0 3 1-3 20 1 24 1 4 1 7-1 1 0 1-2 7 0 1 0 2 0 2 0 16 0 49 0-79 4-4 3-5-2-2 1-43-2-1 1-1 0-45 2-1 1 1 1 0 2 44-3 0 2 2-2 0 1 1 1 13 1 2-2 6 1 23 1 1 0 3-1 4-2 2 6-1 0-2 1-2-1-30-2 0 1-20 0 0 1-1 1 0-3 0 1-45-1 0 3 0 1 45 2 1-1 0 2 47-3 5 3 1 0 3-3-3 4-2 0-2 1-29-1-4 0-18 0-1 0-44 4 1 3 52 2-1 2-1-2-10 0-11-1-4 2-4 0-22 0 1 3 29 2 0-1 18 0 0 4-3-2-16 1-29-1 1 5 28 1 3 1 9 0 1-2 0 2 0-1 3 0 1-2 1 6-2-1-1 2-1-3-1 1-2-1-39 2 0-1 0 2-1 4 2 0 36-1 3 1 1 0 1-1 0 1 1 0 0-1 1-1 0 2 1-1 0 1 11-2-9 5-3-2-1 2-1 1-1-2 0-1-1 0-9 0-2 1-7 1-22 1 0 1 1 2 23-2 0 3 11 0 3-1 2-1 0 2 1-1 1-1 1 2 0-3 2 3 1 0 7 0 65-2 2 3-2 2-64-2-4 0-5 1-2 1-2-2-2 3-3-3-1 1-2 0-8 0-5 2-20 3 24-1 1 2 1-3 2 0 5 1 2 2 3-1 3 1 68 0 2 0 7 0 2 1-2 1 0 1-54-2-11 3 0-1-2 0-1-2-3 1-1 0-4 2-1-2-7 1-1 1-8-1-24-1-1 1 0-1 0 5 41 1 6-1 3-1 6 1 1-2 62 0-66 4-21 2-2-1-30 0 0-1 26 7 35-2 5 5-14-2-19 1-1-1-15 0-16 0-1 0 0 5 1-1 16 0 10 1 13 2 3-1 1 0 4 1 3 0 11 0 0-2 6 5-4-1-12-1-2 1-1-1-1 3-2-2-8 2-5-3-33 0-1 3 1 3 0-1 0 2 28 0 1-2 0 2 24 0 12-2 2 2 1 2-13 1-4 0-5-2-18 2 0-2-28 0 0 3-1-1 0 5 2 0 15-1 8 0 31-1 2 4-1 2-12-3-1 2-19 0-25 5 1-2 16 0 6 2 27-1 23 2-1 2-3-1 0-1-1 1-6 1-2 1-1-3 0 1-1 0-2 1-2 0-7 0-1 1-1-3-1 2-1 1-1-3 0 2-1-1-1 2-3-1 0-1-1 2 0-1-1 1 0-1-2-1-2 0-3 0 0 2-1-2-2 0 0 2-3 0 0-1-21-1 1 3 16 3 6-3 3 2 5-2 4 0 1 2 1-2 22 0 1 1 10-1-30 6-5 1-35 0 0 1 0 3 22-2 2 1 1-2 13 1 23 2 4-2-11 4-5-1-5 1-6 1-15-1-23 2 0 2 58 2 7-1 87 4 0-1-92-1-9 3 3 3 5 0 3-1 0-1 4 3 0-1 3-2 82 3 1-3 0 1 0 1 1-2 5 7-92-1-14 2 0 3 2-3 7 0 3 1 1 0 1-1 0 3 0-1 1-1 2 1 81 1 12 0 2-2 46 5 0-1-1 2-48-1-2-1-101 0-2-1 154 4 0 1 0 2 0 3 0-1 0-1 0 3-1 1 1 0 0 2 0-1 0 2 0 1 0 1 0 2-106-2-4 0-4 1-27 0-1 0-3 0-1 0-1 1-1-1-2 0-3 0-1 0-1 0-4 0-6 0-3 0-1 0-3 0-1 0 33 4 6-2 9 2 16 0 109 0 0-1 0 3-79 3-1 0-9-2-22-1-17 0-27 2-8-1-2 1-5 0-10 5 14-3 4 0 0 1 1 1 7 1 11 0 7-1 6-2 3 2 7-1 4 1 18 3-21-1-17 1-1-1-1 0 0 3-1-1 0-1-4-1-1 1-4-1-1 2-2 1-5-2-2 2-2-1-1-2 0 2-7 1-1 0-1 0-1 0-1 0-3 0-2-2-1 2-2 0-2-1-1 1 0-1-1 1-3-1 0 1-1-2-1 4 0 2 2-3 1 1 2 0 0 1 4-1 2-1 1 3 1-2 2 2 1-1 0-2 1 2 3-2 0 2 1-2 2 1 0 2 0-1 3 1 0-1 1 1 1-3 0 2 0 1 1 0 3 0 3 0 1-1 2-2 0 3 0-1 1 1 0-1 1 0 1-1 0 2 3 0 2-2 2 1 2-1 1 0 1 2-3 3-2 1 0-1-4-2-4 1 0-1-2 1-3 1 0-1-1 2 0-1-2-1 0-1-1 3-2-1-2-2-1 2-3-1-2 1 0-2-2 0 0 2-1-1-3 0-1 0 0 1-1 0-1-2-2 3 0-2 0-1-4 0-3 5 3-1 12 1 4 0 5 1 2-2 60 2 8 1 12-1-6 2-80 3-16 0 2 2 5 2 2-2 1 0 0-1 2 0 1 0 1 0 2 2 3 1 2 0 1-1-1 4-1 0-6-2-3 1-1 2-5 1 2 1 2 0 6-1 0 2 8 1-3 3 0 1-5-3-4 2-5 0 10 5 2 0 2 0 0-2 2 1 2 0 1 1 2 0 0-2 2 0 1 0 0 2 3 0 1-2 3 2 1-1 0 1 4-1 1 1 1-1 25 1 20 0 93 2-1 2-7-2-3-1-27 3-2-2-3 0-6 2-2-1 0-1-5 2-1 0-1-3-1 2-14 0-1-1 0 1-1-1-2-1-2 3-4 0-4-1-1-1-1 0-6 0-4 0 0 2-3-2-2 0-24 0-11 1-3 0 0-1-1-1 0 3-1-2-1 0-1-1-2 0-1 3-1-2-2-1 0 2-2-2-7 2-1-2 0 1-1 0-2 1-1 0-9 0-3 1-8-2-3 1-1 1 0 1 21 3 91-3-84 6 0 1-1-3-1 2 0 1-2-3 0 3-2-2-3 1 0 1-24 3 6 1 5 0 3-2 3 2 12-3 1 3 1 0 1-2 1 4 0 2-1-1-1 1-1-3 0 2-1-1-1-1-1 0-14 1-2 0-4 6 2-2 10 0 8 1 1-1 4 1 1 0 1 3-1-1-1 0-1 2 0 1-1 0-1-3-1 1-3-1-13 0-1 1 0-1-7 3 14 3 7-1 4 2 1-2 3 2 1 2 0-1 0 2 0 1-2 0 0-1-1-2-1 0 0 3-1 0-1 0-15 0-3-3-2 7 15-1 0 1 4-1 3-1 2 1 2-2 1 3 0 4-1-3-7 1-4 1-6-1-8 1-6-2 3 7 3 0 9-3 9 3 1-3 1 1 0 2 3-1 1-2 2 2 1 1-2 1-1 2-1 0 0-2-1 0-1 2-1-1 0 2-1-3-1 3-6 0-11-1-1-2 2 5 2 1 6 1 2 0 9-1 1 0 0 1 1-1 0 1 1 0 0-2-2 3 0 2-1-2-1 1-1 1-1 0-5-2-18 0-2 1 10 5 9-2 7 0 1 2 0 1 1-2 1 0 0-1 1 1 2 1 1 4-1 0-1-1-2-1-1 2 0 1-1 0 0-1-1-2-15 1-9 2 11 1 3 3 9 0 0-1 2 0 1-2 1 3 3 1-2 3 0-2-2 0-15 0-1 1-4-2-6 1 8 6 6-1 1 0 9 1 0-1 1 1 1-2 1 1 0 1 2-2 3 3-1 3-4-1-2-1 0-1 0 3-1-3-1 1-1 0-1-1-6 1-6 2-3-1-7 3 0 2 4-2 2-1 7 1 10 0 0 2 1-3 2 0 0 2 0 1 3-2 1 1 2 2-2 2-1-2 0 3-5-2-4 1-7-2-8 6 4-2 13 0 9 1 0 2 1-2 0 6-3-2 0 1-2 0-1-2-1 1-2-1-2 0-14 0 6 4 1 2 1-2 2 1 8 1 0-2 1 2 2-2 0 2 0 1 3 0 27-3-27 4 0 1-2 1-2-1-1-1-1 0-5 3-1-3-20 0 12 4 8 1 5-1 0 2 2-2 1 1 2-1 1 3 2 3-1-1-1 1-3 1 0-1 0-1-2-1 0 3-8 0-6-3 0 2 0 2 6 1 9 1 1 0 2 1 0-3 1 0 0 3 0-1 1 0 0 1 1 2 0 2 0-1-1-2-1 1 0-1-1 1-1 0-1 2-1-3-1 0-3 2-1-2-1 1-8 1-1 1-2-3 0 3-1 0-2 2 1-1 21 0 2 0 0 2 0 1 1-1 0-1 0 2 1-3-1 4 0 1-1 2 0-1 0-2-25 1 0 2 2 3 23-1 0 1 1-1 0 2 0-1 0 4 0-1-1-1 0 2-19 1-3-1-3 0 24 5 1-3 0 2 0-1 1-1 0 2 0 3 0-1 0 3 0-1-1-1 0-1 0 2 0 2 1 3 0-3 0 2 1 0-1 3 0-1-1 0 0 2 0 2 1 0 60 3 4 4-11 0-1-3-2 1-3 0 0 2-1 0-2-1-41 5 1 0 1 0 4-1 32-1 2 1 1-2 2 3 5 0 1-1 0 1 9-2 0 4-2 1-2 1-4-3 0 3-1-3 0 2 0-1 0 2-1-2-2 0-1 2-1-2-4-1-24 1-2-1 0 2-3-1-4 1 0-1-2-1-7 2 40 5 10 0 1-1 0-2 0 1 0 2 4 0 1-2 6 5-2-1-5-1-1 2-3-2 0 2-4-1-3-1-46 7 1-3 3 2 3-1 10 2 45 0 2-3 0 1 2 0 97 2 0-1-94 5 0-2-4 1-2 1-1-3 0 1 0 1-45 1-1-2-4-1-2 1-3 1-4 0 0-1-2-1 5 4 4 2 1-2 2 1 3 0 49 0 1 1 3-2 2 2 1 5-54-2-1 2-2-1-2 0-2-1-4 0-2-1 0 1 0 1-1-2-3 7 3 0 0-1 1 1 1-3 3 1 4 0 0 1 4 1 4-1 50 0-52 3-6 1-4-2-1 0-1 0-5 2-1-2 0 3-3-1 3 5 0-3 0 2 1 4-1-1-48 1-1 5 0-2 0-1 1 2 0 1 0 2 0 2-1-2 0 2 0 2 0 2 0-1 1-2 0 2 88 1 0-3 5 2-3 5-90 0-1-1 0 4 0-1 0 2 1 0 0-3 0 1 83-1 27 3-16 1-94 1-1-1 48 7 0-2 0-1 1 2 1 4-1-2 0 3-1-1 0-1-48 4 1 0 48-1 0 1 44 5-1-2-1 2-90 1 0-2-1 3 0 3 1-1 0 1 0-3 52 2 2-1 0-1 9 0 2 3 26-2 1 2 1-2-4 4-89-1 0 1-1-1 0 2 0-1 1 3 0 2 56-1 3 0 0 1 2 1 29-3 1 0-35 5-29 7-1 1-1 2-1 0-1 0-1 0-10 0 0 2 0 1 0 1 1-2 0 1 6 0 0 1 2-2 0 1 3-1 0-1-5 5-6 1-1-1 0 2 0 2 0-1 0 3 0-1 1 1 0 4-1-2 0-1 0 2 0 4 0-1 0 2 0-3 1 2 0-2 0 5-1-1 0 1 0 2 0 4 0-1 0 9 0-1 0 3 0-1 0 3 0-1 0 2 0 2 0-1 0 3 0 1 0 5 0-1 0 2 0 3 0-1 0 3 0 2 0-1 0 2 0 2" fill="none" stroke="none" marker-start="url(#mr)" marker-mid="url(#mr)" marker-end="url(#mr)"/>
<path transform="scale(.5)" d="M875 1186l0-1 1 2 1-2 0 2 1 0-1 2 0 2 0-1-1-1 0-1 0 3-1-3 0 2 0-1 0 2-1-2 1 4 0-1 1 3 0-2 1 1 0-1 0-1 1 4-1 0 0 1-1-1 0 3-1 0 0 1 0 2 0-1 1-1 0 1 1 2 1 3-1-2-1 2-1-1 0-1 0 3-1 1 0 1 1 0 0-1 1 2 0-1 1 1 0-1 14 2 12-1 0 3-7 2-19-2 0 2-1-3-1 3 0-3 0 2-1-2 0 2 0-1 0 6 1-2 0-1 0 3 0-1 1-2 0 2 1 0 13-2 7 3-3 4-1-3 0 3-5-2-4 0-7-1 0 2-1 0-1-2 0 2-1-1 0 1 0 3 0 2 0-3 2 0 0 2 0-1 0 2 1-1 0-1 0 2 14-1 7 0 5 1-25 1 0 3-1-2 0 1-1-1 0-1-1 0 0 3-1 3 1-1 0-1 0 2 2-1 0 1 1-1 0 1 18 3-18-1-1 3 0-2-1-1 0 2 0-1-1 1 0-1-1 3 1 1 0 1 1-2 1 1 0-1 12 3-11 4-1-3-2 3-1 4 1-1 0 1 1 0 0-3 0 1 1 0 0 1 0 2-1 1 0 2 0-1-1-2 0 1 0 2-1 3 2-1 0-1 1 3 0-2 0-1 0 2 0 4 0 1 0-3-2 0 0 2 0 1-1 1 0 3 1-3 0 1 0 2 1 0 1 0 0-1 0 3 0 1-1 1-1-2 0 2 0-1-1 0 1 2 1 2 0-1 0 2 1 0 0 1 0 1-1-1 0 1 0 2-1-2 0 2-1 0 1 1 1 2 1-1 0 2 0 1 0 1 0 2-1-3 0 2 0 1-1-3 0 2 0 1-1 2 1-1 0 1 1-1 0 2 0 1 1-3 0 1 1 3 0 3-1 0 0-1 0-1-1 1-1-1 0 1-1 3 0-1 1 1 0-1 0 2 1 1 1-2 0 4-1-1-1 1 0 2 0-3 0 5 1-1 1 1 0 1 1-2-1 6-1-2 0 2-1-1 0-1 0 3 0 4 0-3 1 2 0 1 1-2 2 1 3 1 7 0 6-2 0 2 3-1 3 0 1 0 1 0 3 4-2-1 0 1-1-1-1 0-1 2-1-2-1 2-1-1 0 1-1-1-1 0-2 1 0-1-2-2-1 2 0-1 0 2-1-3-1 3-1-3-2 0 0 2 0 1-1 0-3-2 0 2 0-3-2 1 0 2-2 0 0-2-1 0 0 1-1-1 0 2 0-1 0-2-1 0 0 2-1-1-1 6 1 0 1-2 0 2 0-1 1-1 0 1 1-1 0-1 0 3 0-1 1-1 0-1 0 3 0-1 1-1 0 1 2-1 0 2 1-2 0 2 0-1 2-1 0 1 1 1 0-2 2 1 1 0 1-2 1 3 1-1 2-2 0 3 1-3 0 3 0-1 3-1 1-1 1 3 0-1 1 1 0-1 1 1 0-1 1 0 1 1 0-3 1 1 0 1 1 1 0-1 8-2 1 6-1 1 0-3-3 3-3 0-2 0-1-1-2-1-1 1-3 0-2 1 0-3-1 3 0-2-1 1-1-2 0 2-3 1 0-3 0 2 0-1-1-1 0 2-3 1-1-1 0-2-1 0 0 1 0 2-2-2-1-1 0 3-1 0-1-1-1 0-1 1 0-3 0 2-1 1 0-1-1-2 0 2 0-1 0 4 2 0 1 0 0-1 1 2 2 0 0-2 1 1 3-1 4 0 0 1 1 1 2-2 2 0 0 1 2 0 2-1 1 1 1-1 1 1 1 0 9-1-33 11 0-1 0 3 0-1 0 5 0-1 0 3 0 4 0-2 0-1 0 2 0 2 0 2 0-1 3 1 2 0 1 0 1 0 1 0 1 0 4 0 2 0 1 0 12 1-28 4 0 3 0-1 0-1 0 5 0 2 0 1 0 1 0 1 0 2 0 2 0 4 0-1 0 5 0-2 0 1 0 4 0-1 0 3 0-1 7-2 2 0 1 0 1 0 5 0 1 0 1 0 4 0-22 4 0 2 0-1 0 3 0 2 0-1 0 4 0-1 0 3 0 2 0-1 0 2 0 1 18 0 11 1-2 0-6 0-2 0-3 0-1 0-2 0-3 0-2 0-1 0-3 0-1 0-3 1 0 2 0-3 0 4 0 3 0-1 0 2 0 7 0 4 0-1 0 5 0-3 0 6 0-1 0 3 0 1 0 4 0-1 0 3 0 1 0 1 0 2 0 1 0 2 0-1 0 2 0 3 0-1 0-1 0 3 0 1 0 2 0-1 0 2 0 1 0 2 0-1 0 2 0 1 0 3 0-1 0-1 0 4 0-1 0 2 0 1 0 1 0 2 0 1 0 1 0 2 0 3 0-1 0 2 0 1 0 4 0-1 0 3 0 2 0-1 0-2 0 5 0 1 0 1 0 4 0-1 0 2 0 1 0 2 0-1 2 1 20 1-1 0-3 0-3 0-1 0-3 0-2 0-2 0-2 0-2 0-3 0 0 3 0-1 0 4 0 1 0-3 0 6 0-1 0 2 0 2 0-1 0 3 0 1 0 2 0-1 0 2 0 1 0 2 0 1 21 4-2-3-3 0-16 2 0-1 1 6 2 0 2 0 0 1 0 2-1-2 0 2 0-1 0 2-1-3 0 2 0-1 0 2-1-1 0 1-1-3 0 2 0 4 1-2 1 1 0 1 1-2 1 1 0-1 1 0 0 2 17 5-2 0-1 0-15 0-1-3 0 3-1-3 0 3 0-2-1 0 0-1 0 3-1-3 0 2-1-2 1 4 0 2 2-1 1-1 0 2 1-2 0 2 0 1 0 1-1 3-1-1-1-1 0-1-1 3 0 4 1 0 1-2 0 1 0 1 1-3 1 0 0 2 1 3-1-1 0 2-1 1 0-2-1-1-1 3 0-3-1 3 0-1-1 4 0-2 1 1 0 2 1-2 1 1 0-2 2 1 1 1-1 2-1 2-2-2 0 2-1-2-1 2 0 4 1 0 1 0 0-2 2 0 0 2 2 2-2 2-1 0-1 0-1-2 0 3 0 3 1-1 0-1 0 3 1-3 0 3 1-3 0 1 1 0 0-1 3 2 1 1 1 0 0-2 1 2 0-1 1-1 0 1 1 0 1 2-6 0-8 1 22 26 0-1-3 1-2 0-1-2 0 2-3 0-2 0-2 0-3-1 0 1-4 0-1 0 0-1-2 0-2 3 0-1 1 0 2 0 0 2 0 1 4-3 0 2 1-1 0 2 1-3 0 1 0 2 3-3 0 2 0 1 1 0 1 0 0-3 0 2 1 0 0-1 1 0 0 2 0-3 0 2 1-1 1 2 2-1 0-1 0 2 2-3 0 1 1 0 0 2 1-3 2 4-1 0-2 1-2 0-3-1-3 1-3-1 0 1-1 0-1 1-1-2-2 0-1 1 0-1-3 0-1 0-2 0 1 7 4-1 1 0 0 1 1-1 0 3 0 2-1-1-2 0-1 0-2-1-2 5 1-1 0 2 1-2 0 1 1 0 1-2 0 1 4-1 1 0 0 1 0 2 0-1 1 0 0 2 0 3-1 0 0-1-2-2 0 3 0-2-3 0 0 1-1-2 0 2-1-1 0-1-1 0 0 2 0 5 1-3 0 2 0 1 1 0 0-2 1 0 3-1 1 1 0-1 1 2 1 4-1 1-1-1-1 0 0 1-1-1-2 1 0-3 0 2-2-2-1 2 0 3 1-1 0 3 2-2 0 1 3-2 1 3 1-2 0-1 1 7-1-3 0 2-1-1-1 1-1 1-2 0 0-3-1 3-1 0 0-1-1-2-1 1 0 6 1-1 0-1 2 1 1-2 1 1 1 1 1 1 0-1 1 0 3 0-2 3 0-1 0 3-1-2-1 2-1-2 0 1-1 0-1-1-1 2-1-2-1 1 0-1-1 4 0 2 1-2 1 0 0 1 1 0 0 1 2-1 1 0 1 0 0-1 1 0 1 2 2 4-1-3 0 2-1 0-1 0 0-1-2 1 0-1-1-1 0 1-1-1 0 1 0 2-1 0-1-3-3 1 1 6 2-2 0-1 0 3 1-3 1 0 0 2 1 1 1-3 0 1 1 2 1-2 1 1 3-2-2 4-1 2-2-1-1-1 0 3 0-1-1 1 0-1-2-2-1 3 0-3-1 0 0 6 1 0 0-1 0 2 1 0 1 0 1-3 1 2 0 1 1-1 0-2 1 0 0 2 1 5-2-3 0 3 0-1-1 1-2-1-2-2-1 1-1 2 2 2 1-1 1 0 2 0 1 1 0-1 2 2 1 2-1 1 0 2-1 0-1-3-1 2-3 0 0-1-3 6 3-3 2 2 1-1 1 1 1-2 0 2 2-2 0 2 0 3-1 2-4-2 0-1 0 2-1-1-2-1 0 2-1-2 0 3-1 0-1 2 2 2 1-3 0 2 0 1 1-1 1 1 1-2 0 1 0 1 1-2 0 1 1 1 1-2 0-1 1 2 1 1-1 4-1-1-3-2-2 1 0-1 0 2-1 1 0-3-1 4 0 3 1-1 1-1 0-1 0 3 1-1 1-1 2 0 1 2 1 1 0 3-1-2 0-1-1 0 0 1-1 2 0-1-1 0-1 1-2-2-1 2-1-2 1 3 0 1 1 1 1 0 1 0 0-1 1 1 1-1 2 0 0-1 0 2 1-2 0 1 1 5-2 0-2-1-2 0 0 1-1-2 0 2-1-1-1 1-1 1 0 2 2 1 2-1 0-1 1 0 2 0 2 2 0 2 0 2-1-1-1-1 0 1 0 2-1 0-1-3-1 3 0-1-1-1-1 1 0-1 0 2-1 0-2-2 1 3 0 1 1 1 1-2 0 3 1-3 0 2 1 0 1-2 1 3 2 0 1-2 0 2 0-1 0-2 1 1 0 6-1-2 0-1 0 3 0-1-1 1-1-2 0-1-1 1-1 0 0 2-1-2 0 2-1-3-1 3 0-2-1 0 0 3 8 3 0-3 0 2 0-1 1 2-1 2 0 1 0-2-1 4 1 1 0-1 0 2 0 3 0 2 0-3 0 2 0 2 0 2 0-1 0 2 1 3-1-1 0-1 0 6 0-1 0 2 0-3 1 3 0 4-1-1 0-1 0 2 0 2 0 2 0-1 1 2-1 2 0 1 0-2 0-1 0 4 0 2 0-1 0 2 1 3-1-2 0 1 0 2 0-1 0 3 0-1 0 2 0 1 0 1 0 2-1 2 1 2 0-2 0 1 0 2 1-1-1 3 0-1 0 3 0-1 0 2 0 2 0-1 1-1-1 7 0-2 0 4 0-1 0 3 0-1 0 4 0 1 0 2 0 2 0-3 0 2 1 4-1-1 0-1 0 3 0-1 0 5 0-2 0-1 0 2 0 4 0-1 0 2 0-3 0 5 0-1 0 3 0-1 0 5 0-2 0-1 0 2 0 4 0-1 0 2 1 3-1-2 0 1 0 1 0 4 0 2 0 2 0-1-1 5 1-2 0 1 0 2 0-1 0 2 0 3 0-1 0-1 0 3 0 2 0-1 0 3 0 1 0 2-1 0 1 2 0-1 0 3 0-1 0 2 0 1 0 2-6 4 1 1-1 1 0 1-1-2 0 5 0 2 0-3 1 2 0 1 1-2 0-1 0 7-1-1 0-1-1 2 1 2 0-1 0 3 0-1 1-1 0 2 0 2 0-1-1 0 0 2 0 1 0-2-1-1 0 4 1 2 0-1 1 2-1 3 0 1-1-2 0 2 0-1 1 3 0-1 0 2 0 1 1 0-1 1 0 2 0-1-1 2 0 2 1 0 0 4 0-1 0 3 0-1 0 2 0 2 0-1 0 4 0 1 0-2 0 5 0 2 0-1 0 2 0 2 0-1 0 5 0-1 0 2 0-3" fill="none" stroke="none" marker-start="url(#mb)" marker-mid="url(#mb)" marker-end="url(#mb)"/>
<path transform="scale(.5)" d="M1235 1187l1 0 24-2 0 5 0-2-23 1-2 0-43 6 0-2 1 2 0-1 0-1 27-1 0 3 0-2 40 2 0-1 0 2 0 2-40-1 0-1 0 2-27-2 0 2-1-2 0 2 0 3 0 1 1-1 0-1 27 3 0-1 1 1 39-1 0 4 0 1-39 0-1 0-19 0-2 0-6-2-1-1 0 3 0-1 0 4 1 1 0-2 6 2 21 0 0-1 0-2 1 0 39 1-40 5 0-2-9 3-18-2-1 0 0 2 0 1 1 3 18-1 2-1 7 2 0-1 0-1 1 2 39 2 0-1-39 2 0 1-1-3 0 3 0-1 0-1-21 2-6-2 0-1 0 2-1 1 0-1 0-1 0-1 0 7 0-1 0-1 1 1 27-1 0-1 0 3 0-1 1-1 39-1 0 2 0 2 0 2 0-1-39-1-1 1 0-1 0 3-18-3-3 3-6-2-1-1 0 3 0-1 0-1 0 3 0 3 0-2 1 2 0-1 0-1 8 0 19 2 0-1 0-1 0-1 1 2 39 1 0 2 0-1 0 3-39-2-1 1 0-1-22 1-5 1 0-1 0-1 0-1-1 1 0 1 1 3 0-1 8 2 19-1 0-1 18 1 0 1 22 0 0-1 0-1 0 6 0-1-40-1 0 3 0-1 0-1-27-1 0 1-1-1 0 3 0 4 0-2 0-1 1 1 0-1 0 2 26-2 1 1 0-1 0 3 0-1 40 0-40 3 0-1 0 3 0-1-27 0 0-1 0 2-1-2 0-1 0 4 0 3 0-1 0-1 1 1 27 0 0-1 0-1 0 3 1-2 39 1 0-1-39 4 0-1-1 3 0-1 0-2-27 3 0-3-1 0 0 1 0 3 0 3 0-1 1 1 27-2 0-1 1 4 0 2-1-2 0 3 0-2-27-1 0 3-1-1 0-1 0 2 0 4 0-1 0-1 0-1 1 1 0 2 0-1 27-2 0 3 0-1 0 2 0 3 0-1-27-1 0-1 0 3-1 0 0-1 0-1 0 6 0-1 0-1 0-1 1 3 27-1 0-1 0 2 1-2 0 6-1-1 0-2-27 3 0-3-1 0 0 1 0 4 0 2 1-1 27 1 0-1 40-2 0 2 0 5-40 0 0-1 0-1 0-1-27 3 0-1 0-2-1 0 0 3 0-1 0 4 0-2 0 3 1 0 0-2 7 1 20 1 0-1 0-1 0-1 1 3 0-1 39-2-39 6 0-1-1-1 0 3 0-1 0-1-18-1-9 2-1 1 0-1 0-1 0-1 0 7 0-2 0-1 1 1 0-1 0 3 9-3 18 0 0 3 0-1 0-1 1 0 0 1 0 4-1-1 0 2 0-1-19 1-8-3-1 0 0 3 0-1 0 2 0 3 9 0 19-2 0 2 0-1 1 0 0 1-1 3 0-1 0-1-27 2 0-1 0-1-1 1 0-1 0 3 0-1 0 4 0-2 0 3 1-1 0-1 6 1 21-1 0-1 0 3 1 1-1 3 0-1 0-1 0-1-19 1-8 2 0-1 0-1-1 2 0-1 0-1 0-1 0 7 0-3 1 1 0-1 6 1 2 2 19 0 0-1 0-1 1-1 0 4-1 0-27 0 0 2 0-1-1 2 0-1 0 5 0-1 0-1 1 0 0 2 0-1 0 2 0 2-1 1 0 2 0-1 0 3 0-1 1 1 29 3-29 0 0-2-1 1 0-1 0 3 0-1-20 5 20-1 0-1 0-1 0 3 1-2 27 2 1 0 0-1 0-1 0 3 0 2-28-2 0 2 0-1-1 1 0-1 0-1 0 3-20-1 0-2-1 0 21 7 0-1 0-1 1-1 0 4 0 3 0-1-1 0 0-1 0-1 0 4 1 1 0 3 0 3-1-3 0 3 0-1 0 2 0 3 0-2 1 2 0-1 28 5-28-1 0-1-1 0 0-1 0 3 0 3 0-1 1-1 0 2 28 0-28 5-1 0 0-1 0 5 0-1 0-1 0-1 1 6 0 1-1-1 0-1 0-1-22 7 22-1 0-1 1 2 0-1 0-1 0 4-1-1 0 3 0-1 0 3 0-1 0 3 1-3 0 6 0-1-1 1 0-1 0 6 1-2 0 3 0 2-1 1 0-1 0-2 0 4 0 3 0-2 1 2 28 4-20 0-1-2 0 2-7-2 0-1-1 0 0 1 0 3 0 3 0-1 1-2 6 1 1 0 20 2 1 0 0-2 0 4-23 0-5 1-1 0 0-1 0-1 0 3 0 4 0-1 0-2 1 2 0 2-1 3 0 4 0-1 0-2 1 3 0-1 0 3 0 2-1-1 0-1 0 3 0 3 0-1 1 1 0 2 0-1 0 3-1-3 0 6 0-2 1 2 0-1 0-1 0 7 0-2 0-1-1 2 0-2 0 3 0 4 0-2 0-1 1 0 0 2 0-1 0 6-1 0 0-1 0-1 0-1 0 7 0-1 0-1 0-1 1 0 0 6-1-2 0 3 0 2 0-1 0 3 0-1 1 4 0-1-1 0 0 1 0 4 0-2 0 3 1-1 0-2 8 3 19-1-19 2-8 3 0-1-1 0 0-1 0-1 0 3 0 4 0-2 0-1 1 0 0 2 0 3 0 2-1-2 0-1 0 6 0-1 0-1 1 1 0-1-31 17 0 9 0 15 28 25 0-1 0 2 0 4 0-1 0-1 0-1 0 7 0-1 0-1 0-1 0 7 0-1 0 2 0 3 0-1 0-1 0 4 0-1 0 3 0-1-1 2 1 2 0-1 0-1 0 3 30 2-30 1 0-1 0-1 0 3 0 4 0-1 0-1 0-1 0 7 0-1 0-2-24 0 23 5 1 2 0-1 0 3 0-1 0 2-1 1 0 3 1-1 0-1 0 3 0-1 0 4 0-2 0 3 0 3 0-2 12 2 18 1-20 2-1 0-9 1 0-1 0-1 0 4 0 3 0-1 0-1 1 0 7 4-8-1 0 3 0-1 0-1 0 4 0-1 0 3 0-1 6-2 5 2 19 1-29 2-1 0 0-1 0 3 0 2 0-1 0 3 1 0 29 2-19 2-3-2-8 2 0-1 0-1 0-1 0 5 0 3 0 2 0-1 0 3 0 3 0-1 0-1 7 1 1-1-8 3 0 3 0-1 11 3 0 2 0-1 1-1-1 5 0-1 0-1 0 3 0 3 0-2 0 3 0 3 0-1 0-1 0 7 0-2 19 1-19 5 0-1 0-1 0-1 0 7 0-1 0-1 0 3 0 3 0-1 0-1 0 4 0-1 0 3 0-1 1-2 18 3 2-2-20 6-1-1 0-1 0-1 0 3 0 1 0 3 1 2-1 2 0-1 0-1 0-1-1 7 1-2 0-1 19 3 0 2-20-1-1 2 0-1 0-1 0 3-2 4 0-1 1-1 0-1 0 2-1 3 0-1-1 2 0 1-1 3 0-2 1 0-2 5 0-1-1 3 0-1-2 5 1-1 0 1 1-3-2 5 0-1 0 3 0-1-1 1 1 3 0-1 0-1 0 3 0 3 0-2-1 1 0 1 0 4 0 1 1 0 0-1 0-1 0-1 0 7 0-1-1 1 0-2 0 6 0-3 1 3 0-1 0-1 0 3 0 3 0-1 0-1-1 1 0-2-2 4 0 2 0-1 3-1-3 5 0-1 0 3 0-1-1-1 1 4 0-1 0 3 1-2-1 5 0-1 0-1 0 3 0 4 0-1 0-1 0-1 0 7 0-1 0-1 0-1 0 4 0 3 0-1 0-1 1 3-1 0 0 3-1 0 1 2 0-1 0 3 0-1 0 3 0-1 0 3 0 4 0-1 0-2 1 3-1 4 0-1 0-1 0-1 0 4 0 3 0-1 0 5 0-1 0-1-1 2 1 3 0 3 0-1 0 3 0-1 0 4 0-1 0-1 0 3 1 4-1 0 0-1 0-1 0-1-29 7 5-3 24 0-29 4 0 3 0-1 0 2 0 3 0-1 1 3-1-1 0 2 0 4 0-1 0-1 0 3 1 0 0 3-1 1 0-2 0-1 0 7 0-1 0-2 1 2 0 3 0 2-1 0 0-1 0 2 0 3 0-1 0-1 1 0-1 5 0-2 0 6 0-1 0-1 0 3 1 4-1-1 0-1 0-1 0 3 0 2 0-1 1 0 0 7-1 0 0-1 0-2 0 4 0 3 0-1 0-1 0 4 0 2 0-1 0 3 0-1 0 3 1 0 0-2 0 4-1 0 0-1 0 3 0 4 0-1 1-2 0 4 0 1-1 2 0-1 0-1 0-1 0 4 0 1 1 2-1 1 0 3 0-1 0-1 0 4 0-1 0 3 0-1 1 1-1 1" fill="none" stroke="none" marker-start="url(#mr)" marker-mid="url(#mr)" marker-end="url(#mr)"/>
<path transform="scale(.5)" d="M1298 1186l8 1 14 0 2 0 9 0-15 2-1 0-1 0-7-1-4 0-6 0-69 4 0 3 0-1 5 1 18-2 1 1 0-1 1 1 27 0 52-1 0 2 0 3-1 1-103-3 0 2 0 1 0-2 0 3 0 2 0-1 0 2 1-2 4 1 98 1 1-2 0 2-1 1-98 0-5 1 0 2-1 0 1 2 0-1 0 2 0 1 5-1 16 0 1-1 0 1 81 1 1 0 0-3 0 1 0 6-1-2 0 2-49-1-2 1-30-1 0-2-1 0 0 2 0-1 0 2-16-2-5-1 0 2 0 1-1 4 1 0 0-1 0-2 21 0 0 2 1-2 0 1 0 2 31-3 0 1 1-1 0 2 2-2 0 1 31-1 17 4 0 2-1-1-31 2-50-2 0-1-1 1 0-1-21 1 0-1 0 3-1 0 1 1 0 2 0-1 0 2 21-3 0 2 0 1 1-3 0 1 0 2 81-1 1 0 0 5-30-3-19 2 0 1-33-3 0 1-1-1 0 2 0-1 0 2-15 0-1-1-5-1 0 2 0-3 0 2 0 3 0-1 0 3 21-3 0 3 0-1 32-2 0 1 2 0 1-1 0 1 30-1 1 1 16 0 0 1 1 0 0 3 0-1 0 3-1-1-16-2-13 1-1 0-51 0 0-1-1 0 0 3-21 0 0-3 0 1 0 5 0 1 0-3 21 2 0-1 0 2 1-3 0 2 0 1 65 0 17-3 0 2 0 3-1 2-15-3-1 2-65-1-1 0 0-1 0 2-21-2 0 3 0-1 0 5 0-2 0-1 0 2 22-1 64 0 17-1 1 3 0 2 0-1-1 1 0-1-16 1 0 1-65-2 0 2 0 1-1-3 0 2 0-1-21 1 0-1 0 2 0 2 0-1 0 3 0-1 21-1 0 2 0-1 1 1 0-3 66 0 15 1 0 2 1-2 0 4 0 2-1-3 0 2-16-2-65 1-1 0 0-1 0 2-21 0 0 1 0-2-1 0 0 6 1-3 0 2 0-1 0 2 21-2 0-1 1 3 0-3 65 0 16 1 1 5 0-1-1 2-16-2 0 2-65-2 0 2 0-1-1-2 0 1 0 2-21-2 0 5 0-1 21 0 0-1 1 1 0-1 0 3 65-3 16 0 1 6-1 1 0-2-15 0-1 0-65 2-1-1 0-1-21-1 0 2 0-1 0 2 0 1 0 3 0-1 21-2 0 1 1 0 0 4-1 0 0 2-21-2 0-1 0 3 0-1 0 4 0-1 0 2 21-3 0 2 0-1 1 0 0-1 65 2 16 1 1 0 0 1 0 2-16-1-66 2-1-1 0-1 0 2-21 0 0-1 0-1 0 4 0-1 0 3 0-1 22-2 3 3 25 0 2 0 35-3 16 2 0-1-16 6-30 0-2 0-1-2 0-1-4 0-2 1 0-1 0 3-1-1-12-2-4 3-2-3 0 2-1 1-1-1-2-2-10 0-1 0-14 0 0 2 0 1-1 0 1 4 0-3 0 2 14-2 0 1 2 1 0-1 5 1 1-1 2-1 3 2 6 0 18 1 0-1 1 0 1 0 50-2 0 2 0 1 1-2-1 6 0-1 0-1-16 2 0-2-1 2-32-1-3 1-21-3-2 2-4-2-4 3-5-3-15 1 0-1 0 3 0-1-1 3 1 0 0-1 0 2 0 1 18-1 6 0 1 1 1-2 1 1 1-2 3 0 0 2 1 1 12-1 5 0 4 0 1-1 0-1 0 3 3-3 10 1 4-1 3 1 13-1 0 3 16-1 1 0 0 5 0-2-1 1-35 0-36-2-2 1-3 0-1-1-5 0-21 1 0 2 0-3 0 2 0 3 0 2 0-1 30-2 1 0 8 2 28 0 37 0 0-1 0 2 11-1-11 2 0 3 0-1-1-1 0 2 0-1-16 1-14-1-9 0-33-1-1 0-30 2 0-2 0-1 0 2 0 3 0-1 30 1 9 0 33-1 31 1 0-1 1 1 11 1-115 2 0 1 0 2 0-1-1 1 1 2 0-1 0 3 0-1 0 4 0-1 0 2 0 1 0 3 0-1 0 4 0-1 0-1 0 3-1 4 1-1 0-1 0 2 6-3 0 2 26-2 30 4-30 3-32-3 0 2 0-1 0 2 0 1 0 3 0-1 0-1 74 1 13 2-87 1 0 1 0 1 0 1 0 2 0-1 32-1 71 1 1 1 0 4-104-2 0 3 0-1 0 3 0 1 50 5-2 0-48 0 0-3 0 2 0-1 0 4 0 2 0-1 0-2 25 0 1 2 61 1 0-2-87 3 0 3 0 2 0 2 0-3 0 2 6-2 0 2 26-2 55 1 17 2-30 4-42 0-32-2 0 2 0-1 0 3 0-1 0 3 0-1 73-2 14 2 17-2-1 6-103 0 0 1 0-3-1 7 1-3 0 2 0 1 87 0 16-1 1 3-104 0 0-1 0 3 0-1 0 2 0 2 0-1 25 1 62-1 0-1-62 4-1 1-24-1 0 1 0 2 0 2 0 1 32 0 40 5-40-1 0 1-32-2 0-1 0 2 0 1 0 1 0 1 50 0 0 2 22 0 0-2 15-1 0 2 16-1 1 1-1 2 0 2-16-1-16 0-71 2 0-1 0-1 0-1 0 5 0 1 126 1-23 3-15-2-88 1 0 2-1 4 1-2 0 4 0-1 0 3 0-1 0 2 0 2 0-1 0 2 0 4 0-1 0-2-1 0 0 5 1-1 0 3 0-1 0 5 0-3 0 1 0 5 0-1 0 2 0-3 0 5 0-1 0 3-1 2 1 0 0 2 0-1 1 3-1-1 0 2 0-1 0 2-1 1 1 1 0-1 0 2 0 4 0 1 0-2 0-1 0 4 0 2 0-1 0 2 9 0 32 0 46 0 0-2 15 1 2 0 21 4 0 1-1 0-19-1-1-1-17 1-13-2-33 0-2 0-2 2-1-2-5 0-3 1-7-1-7 3-4-2-1 1-1-2-8 0-1 1 0 1 1 2 0 2 0 1 0-2 0 3 0 2 0-1 0 2 0 3 0-2 0 5 0-1 0 2 0 2 0 2 0-1 0 2 0 4 0-1 0-2 0 1 0 4 0-1 0 3 0-1 0 4 0-1 0 2 0 2 0 2 0-3 0 2 20-1 1 0 50-1 0 1 37 0-108 4 0-1 0 3 0-1-1-1 1 4 0-1 0 2 0 1 0 3 0 1 0-3 0 4 0 3 72-2-72 6 0-2 0-1 0 2-1 3 0-1 1 0 0 2 0 1 1 4-1-2 0 2 0-1 0 5 0-3 0 2 1 4-1 0 0-1 0 2 0 1 0 1 0 2 0-1 1 0 86 2-65 0-21 0-1 2 0-1 0-1 0 3 0 1 0 2 0-1 0 2 0 3 0-1 0 3 0 3 0-1 0-1 0 3 0 2 0-1 0 2 0 1 0 2 0 1 102 4-71-1-9 1-16 0-6-2 0-1 0 2-1 3 1 0 0-1 0 2 0 1 6 0 16 0 0-2 9 6-9-3 0 1-22 2 0-3 0 2 0-1-1-1 1 5 0 2 0-1 6 1 16-3 0 1 0 2 0-1 0 2-16 0-5 1-1-1 0 2 0 1-1-3 1 5 0 2 0-3 0 2 6-1 16 1 0-1 0 2 9-3 0 5 0 2-1 0-30-3 0 1 0 2 0-1 0 3 0 2 0-1 1-1 21 0 8 1 0-2 1 0 42 0 0 1 29-1-102 6 0-1 0 2 0-3-1 0 0 6 1-2 0 1 0 2 110 2 0 2-35-1-1 1-34 0-3 0-2-1-12 1-1-2-2 2-8 0-11-3 0 3-1 0 0-1 0 4 0 1 22 0 15-3 40 0 41 0 1 1-96 6 0-3-1 1 0 2 0-3 0 2-22-2 0 2 0-1 0 5 0-1 0-1 0 3 22-3 0 3 0-1 1-1 29 1 3 1 7 0 1-1 2 1 36 0 7 0 12 4-1-3-2 3-13 0-1-2-30-1 0 3 0-1-7 1-1 0-4-1-5-1 0 2-2 0 0-3-1 3-1-1-2-1-27 2-1 0 0-2 0-1 0 2-22-2 22 5 31 0 6-1 13 1 38-1-87 5 0 1-1-1 0 2 0 4 0-3 0 2 1-1 0 2 0-1 0 4 0-1 0 2-1-3 0 2 0-1 0 4 0 2 0-1 10-1 20 0 17 0 3 1 1-1 48-1 0 2-98 5 0-2-1 1 0-1 0-1 0 3 0 1 0 2 1-2 0 1 30 6-30-3 0 2 0-1 0 2-1-3 0 2 0-1 0 2 0 2 1-1 0 3 0-2 9 0 16 0 6-1 16 1 2 0 1 0 49 0-100 3 0 2 0-1 0 2 0 1 0 1 0 2 1-1 0-1 0 2 0 1-1 0 0 2 0 3 0-1 0 2 0 1 1-2 0-1 0 3 0 3-1-2 0 2 0-1 0 4 0-1 0 3 0-1 1 3 0-1 0 3-1-2 0-1 0 2 0 1 0 1 0 2 0-1 1 4 0 2-1-2 0 4 0-1 0 3 10-2 0 6-9 0 0-3-1 3 0-3 0 2 0 2 0 1 0 1 1 1 9 0-9 1-1 1 0 2 0-1 0 4 0-1 0 2 0-3 1 2 0-1 0 2 9 1-9 1 0 2-1-3 0 2 0-1 0 2 0 2 0 1 1-1 0-1 0 3 9-1 0 2-9 1 0 2-1-1-17 0 0 1 0-3 17 6 0-1 0 2 1-1 9-2 0 2-9 4-1 0 0-1 0-1-17 1 0 1-4 3 0-1 0 3 0 4 0-3 0 2-1 5 0-1 1-1 0-1 0 3 0-1 0 3 0-1 0 2 0 1-1 0 0-2 0-1 0 2 0 2 0 1 0 2 1-2 0 4 0 1-1-2 0 3 0-1 0 5 0-3 1 0-1 4 0 2 0-1 0 3 0 1 0 2 1-2 0 4-1 2 0-1 0-1 0 3 0 2 0-1 0 2 1 1-1 1 0 2 0-1-1 2 0 3 1-3 0 4 0 1 0 2-1-1 0 3 0 1 1-2 0 2 0-1 0 2 0 1 0 2-1-1 0-1 0 2 0 2 0 1 1-1 0 2 0 1 0 4 0-3 0 2-1 0 0-1 0 4 0 2 0-1 0 3 0 1 0 1-34 1 26 2 1 0 0-1 0 2 1 2-1-1 0 5 0 2 0-3 1 4-1 0 0 2 0 3 0-1 0 3 0-1 1 5-1-3 0 2 0 1 0-2 0 5 0-1 1 4-1 1 0-1 0-1 0 3 0 2 0-1 0 3 1 1-1 0 0 2 0-1 0 2 0 4 0-1 0-1 1 3-1 1 0-1 0 3 0-1 0 2 0 2 0 1 0 2 0 1 0-2 0 5 0-1 0 3 1 4-1 0 0-3 0 2 0-1 0 5 0 1 0-3 0 4 0 2-15 4 1-1 3 1 11-1 0 2 0-3 0 2 0 2 0 2 0-1 0 2-10-2-3 0-26 1-1 1-2 0-1-1-2-1 3 6 1 0 2-2 1-1 38 1 0-1 0 3 0-1 0 4 0-2-38 3-2-2 0-1-2 0 0 3-1-3-1 0 1 6 1 1 0-3 0 2 1 1 1-3-1 4" fill="none" stroke="none" marker-start="url(#mb)" marker-mid="url(#mb)" marker-end="url(#mb)"/>
<path d="M19.20 51.20H125.50V474.40H19.20ZM19.20 474.40v4.5M19.20 51.20v-4.5M23.45 474.40v2.4M23.45 51.20v-2.4M27.70 474.40v2.4M27.70 51.20v-2.4M31.96 474.40v2.4M31.96 51.20v-2.4M36.21 474.40v2.4M36.21 51.20v-2.4M40.46 474.40v4.5M40.46 51.20v-4.5M44.71 474.40v2.4M44.71 51.20v-2.4M48.96 474.40v2.4M48.96 51.20v-2.4M53.22 474.40v2.4M53.22 51.20v-2.4M57.47 474.40v2.4M57.47 51.20v-2.4M61.72 474.40v4.5M61.72 51.20v-4.5M65.97 474.40v2.4M65.97 51.20v-2.4M70.22 474.40v2.4M70.22 51.20v-2.4M74.48 474.40v2.4M74.48 51.20v-2.4M78.73 474.40v2.4M78.73 51.20v-2.4M82.98 474.40v4.5M82.98 51.20v-4.5M87.23 474.40v2.4M87.23 51.20v-2.4M91.48 474.40v2.4M91.48 51.20v-2.4M95.74 474.40v2.4M95.74 51.20v-2.4M99.99 474.40v2.4M99.99 51.20v-2.4M104.24 474.40v4.5M104.24 51.20v-4.5M108.49 474.40v2.4M108.49 51.20v-2.4M112.74 474.40v2.4M112.74 51.20v-2.4M117.00 474.40v2.4M117.00 51.20v-2.4M121.25 474.40v2.4M121.25 51.20v-2.4M125.50 474.40v4.5M125.50 51.20v-4.5M19.20 474.40h-2.4M125.50 474.40h2.4M19.20 465.00h-2.4M125.50 465.00h2.4M19.20 455.59h-4.5M125.50 455.59h4.5M19.20 446.19h-2.4M125.50 446.19h2.4M19.20 436.78h-2.4M125.50 436.78h2.4M19.20 427.38h-2.4M125.50 427.38h2.4M19.20 417.97h-4.5M125.50 417.97h4.5M19.20 408.57h-2.4M125.50 408.57h2.4M19.20 399.16h-2.4M125.50 399.16h2.4M19.20 389.76h-2.4M125.50 389.76h2.4M19.20 380.36h-4.5M125.50 380.36h4.5M19.20 370.95h-2.4M125.50 370.95h2.4M19.20 361.55h-2.4M125.50 361.55h2.4M19.20 352.14h-2.4M125.50 352.14h2.4M19.20 342.74h-4.5M125.50 342.74h4.5M19.20 333.33h-2.4M125.50 333.33h2.4M19.20 323.93h-2.4M125.50 323.93h2.4M19.20 314.52h-2.4M125.50 314.52h2.4M19.20 305.12h-4.5M125.50 305.12h4.5M19.20 295.72h-2.4M125.50 295.72h2.4M19.20 286.31h-2.4M125.50 286.31h2.4M19.20 276.91h-2.4M125.50 276.91h2.4M19.20 267.50h-4.5M125.50 267.50h4.5M19.20 258.10h-2.4M125.50 258.10h2.4M19.20 248.69h-2.4M125.50 248.69h2.4M19.20 239.29h-2.4M125.50 239.29h2.4M19.20 229.88h-4.5M125.50 229.88h4.5M19.20 220.48h-2.4M125.50 220.48h2.4M19.20 211.08h-2.4M125.50 211.08h2.4M19.20 201.67h-2.4M125.50 201.67h2.4M19.20 192.27h-4.5M125.50 192.27h4.5M19.20 182.86h-2.4M125.50 182.86h2.4M19.20 173.46h-2.4M125.50 173.46h2.4M19.20 164.05h-2.4M125.50 164.05h2.4M19.20 154.65h-4.5M125.50 154.65h4.5M19.20 145.24h-2.4M125.50 145.24h2.4M19.20 135.84h-2.4M125.50 135.84h2.4M19.20 126.44h-2.4M125.50 126.44h2.4M19.20 117.03h-4.5M125.50 117.03h4.5M19.20 107.63h-2.4M125.50 107.63h2.4M19.20 98.22h-2.4M125.50 98.22h2.4M19.20 88.82h-2.4M125.50 88.82h2.4M19.20 79.41h-4.5M125.50 79.41h4.5M19.20 70.01h-2.4M125.50 70.01h2.4M19.20 60.60h-2.4M125.50 60.60h2.4M19.20 51.20h-2.4M125.50 51.20h2.4" stroke="#555" stroke-width="0.9" fill="none"/>
<text x="19.20" y="492.70" text-anchor="middle" class="tk">0</text>
<text x="40.46" y="492.70" text-anchor="middle" class="tk">1</text>
<text x="61.72" y="492.70" text-anchor="middle" class="tk">2</text>
<text x="82.98" y="492.70" text-anchor="middle" class="tk">3</text>
<text x="104.24" y="492.70" text-anchor="middle" class="tk">4</text>
<text x="125.50" y="492.70" text-anchor="middle" class="tk">5</text>
<text x="11.80" y="459.59" text-anchor="end" class="tk">24</text>
<text x="11.80" y="421.97" text-anchor="end" class="tk">26</text>
<text x="11.80" y="384.36" text-anchor="end" class="tk">28</text>
<text x="11.80" y="346.74" text-anchor="end" class="tk">30</text>
<text x="11.80" y="309.12" text-anchor="end" class="tk">32</text>
<text x="11.80" y="271.50" text-anchor="end" class="tk">34</text>
<text x="11.80" y="233.88" text-anchor="end" class="tk">36</text>
<text x="11.80" y="196.27" text-anchor="end" class="tk">38</text>
<text x="11.80" y="158.65" text-anchor="end" class="tk">40</text>
<text x="11.80" y="121.03" text-anchor="end" class="tk">42</text>
<text x="11.80" y="83.41" text-anchor="end" class="tk">44</text>
<path d="M157.40 52.00H264.40V475.00H157.40ZM157.40 475.00v4.5M157.40 52.00v-4.5M165.63 475.00v2.4M165.63 52.00v-2.4M173.86 475.00v2.4M173.86 52.00v-2.4M182.09 475.00v2.4M182.09 52.00v-2.4M190.32 475.00v4.5M190.32 52.00v-4.5M198.55 475.00v2.4M198.55 52.00v-2.4M206.78 475.00v2.4M206.78 52.00v-2.4M215.02 475.00v2.4M215.02 52.00v-2.4M223.25 475.00v4.5M223.25 52.00v-4.5M231.48 475.00v2.4M231.48 52.00v-2.4M239.71 475.00v2.4M239.71 52.00v-2.4M247.94 475.00v2.4M247.94 52.00v-2.4M256.17 475.00v4.5M256.17 52.00v-4.5M264.40 475.00v2.4M264.40 52.00v-2.4M157.40 475.00h-2.4M264.40 475.00h2.4M157.40 465.60h-2.4M264.40 465.60h2.4M157.40 456.20h-4.5M264.40 456.20h4.5M157.40 446.80h-2.4M264.40 446.80h2.4M157.40 437.40h-2.4M264.40 437.40h2.4M157.40 428.00h-2.4M264.40 428.00h2.4M157.40 418.60h-4.5M264.40 418.60h4.5M157.40 409.20h-2.4M264.40 409.20h2.4M157.40 399.80h-2.4M264.40 399.80h2.4M157.40 390.40h-2.4M264.40 390.40h2.4M157.40 381.00h-4.5M264.40 381.00h4.5M157.40 371.60h-2.4M264.40 371.60h2.4M157.40 362.20h-2.4M264.40 362.20h2.4M157.40 352.80h-2.4M264.40 352.80h2.4M157.40 343.40h-4.5M264.40 343.40h4.5M157.40 334.00h-2.4M264.40 334.00h2.4M157.40 324.60h-2.4M264.40 324.60h2.4M157.40 315.20h-2.4M264.40 315.20h2.4M157.40 305.80h-4.5M264.40 305.80h4.5M157.40 296.40h-2.4M264.40 296.40h2.4M157.40 287.00h-2.4M264.40 287.00h2.4M157.40 277.60h-2.4M264.40 277.60h2.4M157.40 268.20h-4.5M264.40 268.20h4.5M157.40 258.80h-2.4M264.40 258.80h2.4M157.40 249.40h-2.4M264.40 249.40h2.4M157.40 240.00h-2.4M264.40 240.00h2.4M157.40 230.60h-4.5M264.40 230.60h4.5M157.40 221.20h-2.4M264.40 221.20h2.4M157.40 211.80h-2.4M264.40 211.80h2.4M157.40 202.40h-2.4M264.40 202.40h2.4M157.40 193.00h-4.5M264.40 193.00h4.5M157.40 183.60h-2.4M264.40 183.60h2.4M157.40 174.20h-2.4M264.40 174.20h2.4M157.40 164.80h-2.4M264.40 164.80h2.4M157.40 155.40h-4.5M264.40 155.40h4.5M157.40 146.00h-2.4M264.40 146.00h2.4M157.40 136.60h-2.4M264.40 136.60h2.4M157.40 127.20h-2.4M264.40 127.20h2.4M157.40 117.80h-4.5M264.40 117.80h4.5M157.40 108.40h-2.4M264.40 108.40h2.4M157.40 99.00h-2.4M264.40 99.00h2.4M157.40 89.60h-2.4M264.40 89.60h2.4M157.40 80.20h-4.5M264.40 80.20h4.5M157.40 70.80h-2.4M264.40 70.80h2.4M157.40 61.40h-2.4M264.40 61.40h2.4M157.40 52.00h-2.4M264.40 52.00h2.4" stroke="#555" stroke-width="0.9" fill="none"/>
<text x="157.40" y="493.30" text-anchor="middle" class="tk">0</text>
<text x="190.32" y="493.30" text-anchor="middle" class="tk">2</text>
<text x="223.25" y="493.30" text-anchor="middle" class="tk">4</text>
<text x="256.17" y="493.30" text-anchor="middle" class="tk">6</text>
<text x="150.00" y="460.20" text-anchor="end" class="tk">24</text>
<text x="150.00" y="422.60" text-anchor="end" class="tk">26</text>
<text x="150.00" y="385.00" text-anchor="end" class="tk">28</text>
<text x="150.00" y="347.40" text-anchor="end" class="tk">30</text>
<text x="150.00" y="309.80" text-anchor="end" class="tk">32</text>
<text x="150.00" y="272.20" text-anchor="end" class="tk">34</text>
<text x="150.00" y="234.60" text-anchor="end" class="tk">36</text>
<text x="150.00" y="197.00" text-anchor="end" class="tk">38</text>
<text x="150.00" y="159.40" text-anchor="end" class="tk">40</text>
<text x="150.00" y="121.80" text-anchor="end" class="tk">42</text>
<text x="150.00" y="84.20" text-anchor="end" class="tk">44</text>
<path d="M296.30 52.10H402.60V475.00H296.30ZM296.30 475.00v4.5M296.30 52.10v-4.5M304.48 475.00v2.4M304.48 52.10v-2.4M312.65 475.00v2.4M312.65 52.10v-2.4M320.83 475.00v2.4M320.83 52.10v-2.4M329.01 475.00v4.5M329.01 52.10v-4.5M337.18 475.00v2.4M337.18 52.10v-2.4M345.36 475.00v2.4M345.36 52.10v-2.4M353.54 475.00v2.4M353.54 52.10v-2.4M361.72 475.00v4.5M361.72 52.10v-4.5M369.89 475.00v2.4M369.89 52.10v-2.4M378.07 475.00v2.4M378.07 52.10v-2.4M386.25 475.00v2.4M386.25 52.10v-2.4M394.42 475.00v4.5M394.42 52.10v-4.5M402.60 475.00v2.4M402.60 52.10v-2.4M296.30 475.00h-2.4M402.60 475.00h2.4M296.30 465.60h-2.4M402.60 465.60h2.4M296.30 456.20h-4.5M402.60 456.20h4.5M296.30 446.81h-2.4M402.60 446.81h2.4M296.30 437.41h-2.4M402.60 437.41h2.4M296.30 428.01h-2.4M402.60 428.01h2.4M296.30 418.61h-4.5M402.60 418.61h4.5M296.30 409.22h-2.4M402.60 409.22h2.4M296.30 399.82h-2.4M402.60 399.82h2.4M296.30 390.42h-2.4M402.60 390.42h2.4M296.30 381.02h-4.5M402.60 381.02h4.5M296.30 371.62h-2.4M402.60 371.62h2.4M296.30 362.23h-2.4M402.60 362.23h2.4M296.30 352.83h-2.4M402.60 352.83h2.4M296.30 343.43h-4.5M402.60 343.43h4.5M296.30 334.03h-2.4M402.60 334.03h2.4M296.30 324.64h-2.4M402.60 324.64h2.4M296.30 315.24h-2.4M402.60 315.24h2.4M296.30 305.84h-4.5M402.60 305.84h4.5M296.30 296.44h-2.4M402.60 296.44h2.4M296.30 287.04h-2.4M402.60 287.04h2.4M296.30 277.65h-2.4M402.60 277.65h2.4M296.30 268.25h-4.5M402.60 268.25h4.5M296.30 258.85h-2.4M402.60 258.85h2.4M296.30 249.45h-2.4M402.60 249.45h2.4M296.30 240.06h-2.4M402.60 240.06h2.4M296.30 230.66h-4.5M402.60 230.66h4.5M296.30 221.26h-2.4M402.60 221.26h2.4M296.30 211.86h-2.4M402.60 211.86h2.4M296.30 202.46h-2.4M402.60 202.46h2.4M296.30 193.07h-4.5M402.60 193.07h4.5M296.30 183.67h-2.4M402.60 183.67h2.4M296.30 174.27h-2.4M402.60 174.27h2.4M296.30 164.87h-2.4M402.60 164.87h2.4M296.30 155.48h-4.5M402.60 155.48h4.5M296.30 146.08h-2.4M402.60 146.08h2.4M296.30 136.68h-2.4M402.60 136.68h2.4M296.30 127.28h-2.4M402.60 127.28h2.4M296.30 117.88h-4.5M402.60 117.88h4.5M296.30 108.49h-2.4M402.60 108.49h2.4M296.30 99.09h-2.4M402.60 99.09h2.4M296.30 89.69h-2.4M402.60 89.69h2.4M296.30 80.29h-4.5M402.60 80.29h4.5M296.30 70.90h-2.4M402.60 70.90h2.4M296.30 61.50h-2.4M402.60 61.50h2.4M296.30 52.10h-2.4M402.60 52.10h2.4" stroke="#555" stroke-width="0.9" fill="none"/>
<text x="296.30" y="493.30" text-anchor="middle" class="tk">0</text>
<text x="329.01" y="493.30" text-anchor="middle" class="tk">2</text>
<text x="361.72" y="493.30" text-anchor="middle" class="tk">4</text>
<text x="394.42" y="493.30" text-anchor="middle" class="tk">6</text>
<text x="288.90" y="460.20" text-anchor="end" class="tk">24</text>
<text x="288.90" y="422.61" text-anchor="end" class="tk">26</text>
<text x="288.90" y="385.02" text-anchor="end" class="tk">28</text>
<text x="288.90" y="347.43" text-anchor="end" class="tk">30</text>
<text x="288.90" y="309.84" text-anchor="end" class="tk">32</text>
<text x="288.90" y="272.25" text-anchor="end" class="tk">34</text>
<text x="288.90" y="234.66" text-anchor="end" class="tk">36</text>
<text x="288.90" y="197.07" text-anchor="end" class="tk">38</text>
<text x="288.90" y="159.48" text-anchor="end" class="tk">40</text>
<text x="288.90" y="121.88" text-anchor="end" class="tk">42</text>
<text x="288.90" y="84.29" text-anchor="end" class="tk">44</text>
<path d="M434.90 52.10H541.00V475.00H434.90ZM434.90 475.00v4.5M434.90 52.10v-4.5M445.51 475.00v2.4M445.51 52.10v-2.4M456.12 475.00v2.4M456.12 52.10v-2.4M466.73 475.00v2.4M466.73 52.10v-2.4M477.34 475.00v2.4M477.34 52.10v-2.4M487.95 475.00v4.5M487.95 52.10v-4.5M498.56 475.00v2.4M498.56 52.10v-2.4M509.17 475.00v2.4M509.17 52.10v-2.4M519.78 475.00v2.4M519.78 52.10v-2.4M530.39 475.00v2.4M530.39 52.10v-2.4M541.00 475.00v4.5M541.00 52.10v-4.5M434.90 475.00h-2.4M541.00 475.00h2.4M434.90 465.60h-2.4M541.00 465.60h2.4M434.90 456.20h-4.5M541.00 456.20h4.5M434.90 446.81h-2.4M541.00 446.81h2.4M434.90 437.41h-2.4M541.00 437.41h2.4M434.90 428.01h-2.4M541.00 428.01h2.4M434.90 418.61h-4.5M541.00 418.61h4.5M434.90 409.22h-2.4M541.00 409.22h2.4M434.90 399.82h-2.4M541.00 399.82h2.4M434.90 390.42h-2.4M541.00 390.42h2.4M434.90 381.02h-4.5M541.00 381.02h4.5M434.90 371.62h-2.4M541.00 371.62h2.4M434.90 362.23h-2.4M541.00 362.23h2.4M434.90 352.83h-2.4M541.00 352.83h2.4M434.90 343.43h-4.5M541.00 343.43h4.5M434.90 334.03h-2.4M541.00 334.03h2.4M434.90 324.64h-2.4M541.00 324.64h2.4M434.90 315.24h-2.4M541.00 315.24h2.4M434.90 305.84h-4.5M541.00 305.84h4.5M434.90 296.44h-2.4M541.00 296.44h2.4M434.90 287.04h-2.4M541.00 287.04h2.4M434.90 277.65h-2.4M541.00 277.65h2.4M434.90 268.25h-4.5M541.00 268.25h4.5M434.90 258.85h-2.4M541.00 258.85h2.4M434.90 249.45h-2.4M541.00 249.45h2.4M434.90 240.06h-2.4M541.00 240.06h2.4M434.90 230.66h-4.5M541.00 230.66h4.5M434.90 221.26h-2.4M541.00 221.26h2.4M434.90 211.86h-2.4M541.00 211.86h2.4M434.90 202.46h-2.4M541.00 202.46h2.4M434.90 193.07h-4.5M541.00 193.07h4.5M434.90 183.67h-2.4M541.00 183.67h2.4M434.90 174.27h-2.4M541.00 174.27h2.4M434.90 164.87h-2.4M541.00 164.87h2.4M434.90 155.48h-4.5M541.00 155.48h4.5M434.90 146.08h-2.4M541.00 146.08h2.4M434.90 136.68h-2.4M541.00 136.68h2.4M434.90 127.28h-2.4M541.00 127.28h2.4M434.90 117.88h-4.5M541.00 117.88h4.5M434.90 108.49h-2.4M541.00 108.49h2.4M434.90 99.09h-2.4M541.00 99.09h2.4M434.90 89.69h-2.4M541.00 89.69h2.4M434.90 80.29h-4.5M541.00 80.29h4.5M434.90 70.90h-2.4M541.00 70.90h2.4M434.90 61.50h-2.4M541.00 61.50h2.4M434.90 52.10h-2.4M541.00 52.10h2.4" stroke="#555" stroke-width="0.9" fill="none"/>
<text x="434.90" y="493.30" text-anchor="middle" class="tk">0</text>
<text x="487.95" y="493.30" text-anchor="middle" class="tk">50</text>
<text x="541.00" y="493.30" text-anchor="middle" class="tk">100</text>
<text x="427.50" y="460.20" text-anchor="end" class="tk">24</text>
<text x="427.50" y="422.61" text-anchor="end" class="tk">26</text>
<text x="427.50" y="385.02" text-anchor="end" class="tk">28</text>
<text x="427.50" y="347.43" text-anchor="end" class="tk">30</text>
<text x="427.50" y="309.84" text-anchor="end" class="tk">32</text>
<text x="427.50" y="272.25" text-anchor="end" class="tk">34</text>
<text x="427.50" y="234.66" text-anchor="end" class="tk">36</text>
<text x="427.50" y="197.07" text-anchor="end" class="tk">38</text>
<text x="427.50" y="159.48" text-anchor="end" class="tk">40</text>
<text x="427.50" y="121.88" text-anchor="end" class="tk">42</text>
<text x="427.50" y="84.29" text-anchor="end" class="tk">44</text>
<path d="M573.40 52.20H680.60V475.00H573.40ZM573.40 475.00v4.5M573.40 52.20v-4.5M581.06 475.00v2.4M581.06 52.20v-2.4M588.71 475.00v2.4M588.71 52.20v-2.4M596.37 475.00v2.4M596.37 52.20v-2.4M604.03 475.00v2.4M604.03 52.20v-2.4M611.69 475.00v4.5M611.69 52.20v-4.5M619.34 475.00v2.4M619.34 52.20v-2.4M627.00 475.00v2.4M627.00 52.20v-2.4M634.66 475.00v2.4M634.66 52.20v-2.4M642.31 475.00v2.4M642.31 52.20v-2.4M649.97 475.00v4.5M649.97 52.20v-4.5M657.63 475.00v2.4M657.63 52.20v-2.4M665.29 475.00v2.4M665.29 52.20v-2.4M672.94 475.00v2.4M672.94 52.20v-2.4M680.60 475.00v2.4M680.60 52.20v-2.4M573.40 475.00h-2.4M680.60 475.00h2.4M573.40 465.60h-2.4M680.60 465.60h2.4M573.40 456.21h-4.5M680.60 456.21h4.5M573.40 446.81h-2.4M680.60 446.81h2.4M573.40 437.42h-2.4M680.60 437.42h2.4M573.40 428.02h-2.4M680.60 428.02h2.4M573.40 418.63h-4.5M680.60 418.63h4.5M573.40 409.23h-2.4M680.60 409.23h2.4M573.40 399.84h-2.4M680.60 399.84h2.4M573.40 390.44h-2.4M680.60 390.44h2.4M573.40 381.04h-4.5M680.60 381.04h4.5M573.40 371.65h-2.4M680.60 371.65h2.4M573.40 362.25h-2.4M680.60 362.25h2.4M573.40 352.86h-2.4M680.60 352.86h2.4M573.40 343.46h-4.5M680.60 343.46h4.5M573.40 334.07h-2.4M680.60 334.07h2.4M573.40 324.67h-2.4M680.60 324.67h2.4M573.40 315.28h-2.4M680.60 315.28h2.4M573.40 305.88h-4.5M680.60 305.88h4.5M573.40 296.48h-2.4M680.60 296.48h2.4M573.40 287.09h-2.4M680.60 287.09h2.4M573.40 277.69h-2.4M680.60 277.69h2.4M573.40 268.30h-4.5M680.60 268.30h4.5M573.40 258.90h-2.4M680.60 258.90h2.4M573.40 249.51h-2.4M680.60 249.51h2.4M573.40 240.11h-2.4M680.60 240.11h2.4M573.40 230.72h-4.5M680.60 230.72h4.5M573.40 221.32h-2.4M680.60 221.32h2.4M573.40 211.92h-2.4M680.60 211.92h2.4M573.40 202.53h-2.4M680.60 202.53h2.4M573.40 193.13h-4.5M680.60 193.13h4.5M573.40 183.74h-2.4M680.60 183.74h2.4M573.40 174.34h-2.4M680.60 174.34h2.4M573.40 164.95h-2.4M680.60 164.95h2.4M573.40 155.55h-4.5M680.60 155.55h4.5M573.40 146.16h-2.4M680.60 146.16h2.4M573.40 136.76h-2.4M680.60 136.76h2.4M573.40 127.36h-2.4M680.60 127.36h2.4M573.40 117.97h-4.5M680.60 117.97h4.5M573.40 108.57h-2.4M680.60 108.57h2.4M573.40 99.18h-2.4M680.60 99.18h2.4M573.40 89.78h-2.4M680.60 89.78h2.4M573.40 80.39h-4.5M680.60 80.39h4.5M573.40 70.99h-2.4M680.60 70.99h2.4M573.40 61.60h-2.4M680.60 61.60h2.4M573.40 52.20h-2.4M680.60 52.20h2.4" stroke="#555" stroke-width="0.9" fill="none"/>
<text x="573.40" y="493.30" text-anchor="middle" class="tk">0</text>
<text x="611.69" y="493.30" text-anchor="middle" class="tk">5</text>
<text x="649.97" y="493.30" text-anchor="middle" class="tk">10</text>
<text x="566.00" y="460.21" text-anchor="end" class="tk">24</text>
<text x="566.00" y="422.63" text-anchor="end" class="tk">26</text>
<text x="566.00" y="385.04" text-anchor="end" class="tk">28</text>
<text x="566.00" y="347.46" text-anchor="end" class="tk">30</text>
<text x="566.00" y="309.88" text-anchor="end" class="tk">32</text>
<text x="566.00" y="272.30" text-anchor="end" class="tk">34</text>
<text x="566.00" y="234.72" text-anchor="end" class="tk">36</text>
<text x="566.00" y="197.13" text-anchor="end" class="tk">38</text>
<text x="566.00" y="159.55" text-anchor="end" class="tk">40</text>
<text x="566.00" y="121.97" text-anchor="end" class="tk">42</text>
<text x="566.00" y="84.39" text-anchor="end" class="tk">44</text>
<path d="M19.20 585.50H125.50V1008.70H19.20ZM19.20 1008.70v4.5M19.20 585.50v-4.5M23.45 1008.70v2.4M23.45 585.50v-2.4M27.70 1008.70v2.4M27.70 585.50v-2.4M31.96 1008.70v2.4M31.96 585.50v-2.4M36.21 1008.70v2.4M36.21 585.50v-2.4M40.46 1008.70v4.5M40.46 585.50v-4.5M44.71 1008.70v2.4M44.71 585.50v-2.4M48.96 1008.70v2.4M48.96 585.50v-2.4M53.22 1008.70v2.4M53.22 585.50v-2.4M57.47 1008.70v2.4M57.47 585.50v-2.4M61.72 1008.70v4.5M61.72 585.50v-4.5M65.97 1008.70v2.4M65.97 585.50v-2.4M70.22 1008.70v2.4M70.22 585.50v-2.4M74.48 1008.70v2.4M74.48 585.50v-2.4M78.73 1008.70v2.4M78.73 585.50v-2.4M82.98 1008.70v4.5M82.98 585.50v-4.5M87.23 1008.70v2.4M87.23 585.50v-2.4M91.48 1008.70v2.4M91.48 585.50v-2.4M95.74 1008.70v2.4M95.74 585.50v-2.4M99.99 1008.70v2.4M99.99 585.50v-2.4M104.24 1008.70v4.5M104.24 585.50v-4.5M108.49 1008.70v2.4M108.49 585.50v-2.4M112.74 1008.70v2.4M112.74 585.50v-2.4M117.00 1008.70v2.4M117.00 585.50v-2.4M121.25 1008.70v2.4M121.25 585.50v-2.4M125.50 1008.70v4.5M125.50 585.50v-4.5M19.20 1008.70h-2.4M125.50 1008.70h2.4M19.20 999.30h-2.4M125.50 999.30h2.4M19.20 989.89h-4.5M125.50 989.89h4.5M19.20 980.49h-2.4M125.50 980.49h2.4M19.20 971.08h-2.4M125.50 971.08h2.4M19.20 961.68h-2.4M125.50 961.68h2.4M19.20 952.27h-4.5M125.50 952.27h4.5M19.20 942.87h-2.4M125.50 942.87h2.4M19.20 933.46h-2.4M125.50 933.46h2.4M19.20 924.06h-2.4M125.50 924.06h2.4M19.20 914.66h-4.5M125.50 914.66h4.5M19.20 905.25h-2.4M125.50 905.25h2.4M19.20 895.85h-2.4M125.50 895.85h2.4M19.20 886.44h-2.4M125.50 886.44h2.4M19.20 877.04h-4.5M125.50 877.04h4.5M19.20 867.63h-2.4M125.50 867.63h2.4M19.20 858.23h-2.4M125.50 858.23h2.4M19.20 848.82h-2.4M125.50 848.82h2.4M19.20 839.42h-4.5M125.50 839.42h4.5M19.20 830.02h-2.4M125.50 830.02h2.4M19.20 820.61h-2.4M125.50 820.61h2.4M19.20 811.21h-2.4M125.50 811.21h2.4M19.20 801.80h-4.5M125.50 801.80h4.5M19.20 792.40h-2.4M125.50 792.40h2.4M19.20 782.99h-2.4M125.50 782.99h2.4M19.20 773.59h-2.4M125.50 773.59h2.4M19.20 764.18h-4.5M125.50 764.18h4.5M19.20 754.78h-2.4M125.50 754.78h2.4M19.20 745.38h-2.4M125.50 745.38h2.4M19.20 735.97h-2.4M125.50 735.97h2.4M19.20 726.57h-4.5M125.50 726.57h4.5M19.20 717.16h-2.4M125.50 717.16h2.4M19.20 707.76h-2.4M125.50 707.76h2.4M19.20 698.35h-2.4M125.50 698.35h2.4M19.20 688.95h-4.5M125.50 688.95h4.5M19.20 679.54h-2.4M125.50 679.54h2.4M19.20 670.14h-2.4M125.50 670.14h2.4M19.20 660.74h-2.4M125.50 660.74h2.4M19.20 651.33h-4.5M125.50 651.33h4.5M19.20 641.93h-2.4M125.50 641.93h2.4M19.20 632.52h-2.4M125.50 632.52h2.4M19.20 623.12h-2.4M125.50 623.12h2.4M19.20 613.71h-4.5M125.50 613.71h4.5M19.20 604.31h-2.4M125.50 604.31h2.4M19.20 594.90h-2.4M125.50 594.90h2.4M19.20 585.50h-2.4M125.50 585.50h2.4" stroke="#555" stroke-width="0.9" fill="none"/>
<text x="19.20" y="1027.00" text-anchor="middle" class="tk">0</text>
<text x="40.46" y="1027.00" text-anchor="middle" class="tk">1</text>
<text x="61.72" y="1027.00" text-anchor="middle" class="tk">2</text>
<text x="82.98" y="1027.00" text-anchor="middle" class="tk">3</text>
<text x="104.24" y="1027.00" text-anchor="middle" class="tk">4</text>
<text x="125.50" y="1027.00" text-anchor="middle" class="tk">5</text>
<text x="11.80" y="993.89" text-anchor="end" class="tk">24</text>
<text x="11.80" y="956.27" text-anchor="end" class="tk">26</text>
<text x="11.80" y="918.66" text-anchor="end" class="tk">28</text>
<text x="11.80" y="881.04" text-anchor="end" class="tk">30</text>
<text x="11.80" y="843.42" text-anchor="end" class="tk">32</text>
<text x="11.80" y="805.80" text-anchor="end" class="tk">34</text>
<text x="11.80" y="768.18" text-anchor="end" class="tk">36</text>
<text x="11.80" y="730.57" text-anchor="end" class="tk">38</text>
<text x="11.80" y="692.95" text-anchor="end" class="tk">40</text>
<text x="11.80" y="655.33" text-anchor="end" class="tk">42</text>
<text x="11.80" y="617.71" text-anchor="end" class="tk">44</text>
<path d="M157.40 586.30H264.40V1009.30H157.40ZM157.40 1009.30v4.5M157.40 586.30v-4.5M165.63 1009.30v2.4M165.63 586.30v-2.4M173.86 1009.30v2.4M173.86 586.30v-2.4M182.09 1009.30v2.4M182.09 586.30v-2.4M190.32 1009.30v4.5M190.32 586.30v-4.5M198.55 1009.30v2.4M198.55 586.30v-2.4M206.78 1009.30v2.4M206.78 586.30v-2.4M215.02 1009.30v2.4M215.02 586.30v-2.4M223.25 1009.30v4.5M223.25 586.30v-4.5M231.48 1009.30v2.4M231.48 586.30v-2.4M239.71 1009.30v2.4M239.71 586.30v-2.4M247.94 1009.30v2.4M247.94 586.30v-2.4M256.17 1009.30v4.5M256.17 586.30v-4.5M264.40 1009.30v2.4M264.40 586.30v-2.4M157.40 1009.30h-2.4M264.40 1009.30h2.4M157.40 999.90h-2.4M264.40 999.90h2.4M157.40 990.50h-4.5M264.40 990.50h4.5M157.40 981.10h-2.4M264.40 981.10h2.4M157.40 971.70h-2.4M264.40 971.70h2.4M157.40 962.30h-2.4M264.40 962.30h2.4M157.40 952.90h-4.5M264.40 952.90h4.5M157.40 943.50h-2.4M264.40 943.50h2.4M157.40 934.10h-2.4M264.40 934.10h2.4M157.40 924.70h-2.4M264.40 924.70h2.4M157.40 915.30h-4.5M264.40 915.30h4.5M157.40 905.90h-2.4M264.40 905.90h2.4M157.40 896.50h-2.4M264.40 896.50h2.4M157.40 887.10h-2.4M264.40 887.10h2.4M157.40 877.70h-4.5M264.40 877.70h4.5M157.40 868.30h-2.4M264.40 868.30h2.4M157.40 858.90h-2.4M264.40 858.90h2.4M157.40 849.50h-2.4M264.40 849.50h2.4M157.40 840.10h-4.5M264.40 840.10h4.5M157.40 830.70h-2.4M264.40 830.70h2.4M157.40 821.30h-2.4M264.40 821.30h2.4M157.40 811.90h-2.4M264.40 811.90h2.4M157.40 802.50h-4.5M264.40 802.50h4.5M157.40 793.10h-2.4M264.40 793.10h2.4M157.40 783.70h-2.4M264.40 783.70h2.4M157.40 774.30h-2.4M264.40 774.30h2.4M157.40 764.90h-4.5M264.40 764.90h4.5M157.40 755.50h-2.4M264.40 755.50h2.4M157.40 746.10h-2.4M264.40 746.10h2.4M157.40 736.70h-2.4M264.40 736.70h2.4M157.40 727.30h-4.5M264.40 727.30h4.5M157.40 717.90h-2.4M264.40 717.90h2.4M157.40 708.50h-2.4M264.40 708.50h2.4M157.40 699.10h-2.4M264.40 699.10h2.4M157.40 689.70h-4.5M264.40 689.70h4.5M157.40 680.30h-2.4M264.40 680.30h2.4M157.40 670.90h-2.4M264.40 670.90h2.4M157.40 661.50h-2.4M264.40 661.50h2.4M157.40 652.10h-4.5M264.40 652.10h4.5M157.40 642.70h-2.4M264.40 642.70h2.4M157.40 633.30h-2.4M264.40 633.30h2.4M157.40 623.90h-2.4M264.40 623.90h2.4M157.40 614.50h-4.5M264.40 614.50h4.5M157.40 605.10h-2.4M264.40 605.10h2.4M157.40 595.70h-2.4M264.40 595.70h2.4M157.40 586.30h-2.4M264.40 586.30h2.4" stroke="#555" stroke-width="0.9" fill="none"/>
<text x="157.40" y="1027.60" text-anchor="middle" class="tk">0</text>
<text x="190.32" y="1027.60" text-anchor="middle" class="tk">2</text>
<text x="223.25" y="1027.60" text-anchor="middle" class="tk">4</text>
<text x="256.17" y="1027.60" text-anchor="middle" class="tk">6</text>
<text x="150.00" y="994.50" text-anchor="end" class="tk">24</text>
<text x="150.00" y="956.90" text-anchor="end" class="tk">26</text>
<text x="150.00" y="919.30" text-anchor="end" class="tk">28</text>
<text x="150.00" y="881.70" text-anchor="end" class="tk">30</text>
<text x="150.00" y="844.10" text-anchor="end" class="tk">32</text>
<text x="150.00" y="806.50" text-anchor="end" class="tk">34</text>
<text x="150.00" y="768.90" text-anchor="end" class="tk">36</text>
<text x="150.00" y="731.30" text-anchor="end" class="tk">38</text>
<text x="150.00" y="693.70" text-anchor="end" class="tk">40</text>
<text x="150.00" y="656.10" text-anchor="end" class="tk">42</text>
<text x="150.00" y="618.50" text-anchor="end" class="tk">44</text>
<path d="M296.30 586.40H402.60V1009.30H296.30ZM296.30 1009.30v4.5M296.30 586.40v-4.5M304.48 1009.30v2.4M304.48 586.40v-2.4M312.65 1009.30v2.4M312.65 586.40v-2.4M320.83 1009.30v2.4M320.83 586.40v-2.4M329.01 1009.30v4.5M329.01 586.40v-4.5M337.18 1009.30v2.4M337.18 586.40v-2.4M345.36 1009.30v2.4M345.36 586.40v-2.4M353.54 1009.30v2.4M353.54 586.40v-2.4M361.72 1009.30v4.5M361.72 586.40v-4.5M369.89 1009.30v2.4M369.89 586.40v-2.4M378.07 1009.30v2.4M378.07 586.40v-2.4M386.25 1009.30v2.4M386.25 586.40v-2.4M394.42 1009.30v4.5M394.42 586.40v-4.5M402.60 1009.30v2.4M402.60 586.40v-2.4M296.30 1009.30h-2.4M402.60 1009.30h2.4M296.30 999.90h-2.4M402.60 999.90h2.4M296.30 990.50h-4.5M402.60 990.50h4.5M296.30 981.11h-2.4M402.60 981.11h2.4M296.30 971.71h-2.4M402.60 971.71h2.4M296.30 962.31h-2.4M402.60 962.31h2.4M296.30 952.91h-4.5M402.60 952.91h4.5M296.30 943.52h-2.4M402.60 943.52h2.4M296.30 934.12h-2.4M402.60 934.12h2.4M296.30 924.72h-2.4M402.60 924.72h2.4M296.30 915.32h-4.5M402.60 915.32h4.5M296.30 905.92h-2.4M402.60 905.92h2.4M296.30 896.53h-2.4M402.60 896.53h2.4M296.30 887.13h-2.4M402.60 887.13h2.4M296.30 877.73h-4.5M402.60 877.73h4.5M296.30 868.33h-2.4M402.60 868.33h2.4M296.30 858.94h-2.4M402.60 858.94h2.4M296.30 849.54h-2.4M402.60 849.54h2.4M296.30 840.14h-4.5M402.60 840.14h4.5M296.30 830.74h-2.4M402.60 830.74h2.4M296.30 821.34h-2.4M402.60 821.34h2.4M296.30 811.95h-2.4M402.60 811.95h2.4M296.30 802.55h-4.5M402.60 802.55h4.5M296.30 793.15h-2.4M402.60 793.15h2.4M296.30 783.75h-2.4M402.60 783.75h2.4M296.30 774.36h-2.4M402.60 774.36h2.4M296.30 764.96h-4.5M402.60 764.96h4.5M296.30 755.56h-2.4M402.60 755.56h2.4M296.30 746.16h-2.4M402.60 746.16h2.4M296.30 736.76h-2.4M402.60 736.76h2.4M296.30 727.37h-4.5M402.60 727.37h4.5M296.30 717.97h-2.4M402.60 717.97h2.4M296.30 708.57h-2.4M402.60 708.57h2.4M296.30 699.17h-2.4M402.60 699.17h2.4M296.30 689.78h-4.5M402.60 689.78h4.5M296.30 680.38h-2.4M402.60 680.38h2.4M296.30 670.98h-2.4M402.60 670.98h2.4M296.30 661.58h-2.4M402.60 661.58h2.4M296.30 652.18h-4.5M402.60 652.18h4.5M296.30 642.79h-2.4M402.60 642.79h2.4M296.30 633.39h-2.4M402.60 633.39h2.4M296.30 623.99h-2.4M402.60 623.99h2.4M296.30 614.59h-4.5M402.60 614.59h4.5M296.30 605.20h-2.4M402.60 605.20h2.4M296.30 595.80h-2.4M402.60 595.80h2.4M296.30 586.40h-2.4M402.60 586.40h2.4" stroke="#555" stroke-width="0.9" fill="none"/>
<text x="296.30" y="1027.60" text-anchor="middle" class="tk">0</text>
<text x="329.01" y="1027.60" text-anchor="middle" class="tk">2</text>
<text x="361.72" y="1027.60" text-anchor="middle" class="tk">4</text>
<text x="394.42" y="1027.60" text-anchor="middle" class="tk">6</text>
<text x="288.90" y="994.50" text-anchor="end" class="tk">24</text>
<text x="288.90" y="956.91" text-anchor="end" class="tk">26</text>
<text x="288.90" y="919.32" text-anchor="end" class="tk">28</text>
<text x="288.90" y="881.73" text-anchor="end" class="tk">30</text>
<text x="288.90" y="844.14" text-anchor="end" class="tk">32</text>
<text x="288.90" y="806.55" text-anchor="end" class="tk">34</text>
<text x="288.90" y="768.96" text-anchor="end" class="tk">36</text>
<text x="288.90" y="731.37" text-anchor="end" class="tk">38</text>
<text x="288.90" y="693.78" text-anchor="end" class="tk">40</text>
<text x="288.90" y="656.18" text-anchor="end" class="tk">42</text>
<text x="288.90" y="618.59" text-anchor="end" class="tk">44</text>
<path d="M434.90 586.40H541.00V1009.30H434.90ZM434.90 1009.30v4.5M434.90 586.40v-4.5M445.51 1009.30v2.4M445.51 586.40v-2.4M456.12 1009.30v2.4M456.12 586.40v-2.4M466.73 1009.30v2.4M466.73 586.40v-2.4M477.34 1009.30v2.4M477.34 586.40v-2.4M487.95 1009.30v4.5M487.95 586.40v-4.5M498.56 1009.30v2.4M498.56 586.40v-2.4M509.17 1009.30v2.4M509.17 586.40v-2.4M519.78 1009.30v2.4M519.78 586.40v-2.4M530.39 1009.30v2.4M530.39 586.40v-2.4M541.00 1009.30v4.5M541.00 586.40v-4.5M434.90 1009.30h-2.4M541.00 1009.30h2.4M434.90 999.90h-2.4M541.00 999.90h2.4M434.90 990.50h-4.5M541.00 990.50h4.5M434.90 981.11h-2.4M541.00 981.11h2.4M434.90 971.71h-2.4M541.00 971.71h2.4M434.90 962.31h-2.4M541.00 962.31h2.4M434.90 952.91h-4.5M541.00 952.91h4.5M434.90 943.52h-2.4M541.00 943.52h2.4M434.90 934.12h-2.4M541.00 934.12h2.4M434.90 924.72h-2.4M541.00 924.72h2.4M434.90 915.32h-4.5M541.00 915.32h4.5M434.90 905.92h-2.4M541.00 905.92h2.4M434.90 896.53h-2.4M541.00 896.53h2.4M434.90 887.13h-2.4M541.00 887.13h2.4M434.90 877.73h-4.5M541.00 877.73h4.5M434.90 868.33h-2.4M541.00 868.33h2.4M434.90 858.94h-2.4M541.00 858.94h2.4M434.90 849.54h-2.4M541.00 849.54h2.4M434.90 840.14h-4.5M541.00 840.14h4.5M434.90 830.74h-2.4M541.00 830.74h2.4M434.90 821.34h-2.4M541.00 821.34h2.4M434.90 811.95h-2.4M541.00 811.95h2.4M434.90 802.55h-4.5M541.00 802.55h4.5M434.90 793.15h-2.4M541.00 793.15h2.4M434.90 783.75h-2.4M541.00 783.75h2.4M434.90 774.36h-2.4M541.00 774.36h2.4M434.90 764.96h-4.5M541.00 764.96h4.5M434.90 755.56h-2.4M541.00 755.56h2.4M434.90 746.16h-2.4M541.00 746.16h2.4M434.90 736.76h-2.4M541.00 736.76h2.4M434.90 727.37h-4.5M541.00 727.37h4.5M434.90 717.97h-2.4M541.00 717.97h2.4M434.90 708.57h-2.4M541.00 708.57h2.4M434.90 699.17h-2.4M541.00 699.17h2.4M434.90 689.78h-4.5M541.00 689.78h4.5M434.90 680.38h-2.4M541.00 680.38h2.4M434.90 670.98h-2.4M541.00 670.98h2.4M434.90 661.58h-2.4M541.00 661.58h2.4M434.90 652.18h-4.5M541.00 652.18h4.5M434.90 642.79h-2.4M541.00 642.79h2.4M434.90 633.39h-2.4M541.00 633.39h2.4M434.90 623.99h-2.4M541.00 623.99h2.4M434.90 614.59h-4.5M541.00 614.59h4.5M434.90 605.20h-2.4M541.00 605.20h2.4M434.90 595.80h-2.4M541.00 595.80h2.4M434.90 586.40h-2.4M541.00 586.40h2.4" stroke="#555" stroke-width="0.9" fill="none"/>
<text x="434.90" y="1027.60" text-anchor="middle" class="tk">0</text>
<text x="487.95" y="1027.60" text-anchor="middle" class="tk">50</text>
<text x="541.00" y="1027.60" text-anchor="middle" class="tk">100</text>
<text x="427.50" y="994.50" text-anchor="end" class="tk">24</text>
<text x="427.50" y="956.91" text-anchor="end" class="tk">26</text>
<text x="427.50" y="919.32" text-anchor="end" class="tk">28</text>
<text x="427.50" y="881.73" text-anchor="end" class="tk">30</text>
<text x="427.50" y="844.14" text-anchor="end" class="tk">32</text>
<text x="427.50" y="806.55" text-anchor="end" class="tk">34</text>
<text x="427.50" y="768.96" text-anchor="end" class="tk">36</text>
<text x="427.50" y="731.37" text-anchor="end" class="tk">38</text>
<text x="427.50" y="693.78" text-anchor="end" class="tk">40</text>
<text x="427.50" y="656.18" text-anchor="end" class="tk">42</text>
<text x="427.50" y="618.59" text-anchor="end" class="tk">44</text>
<path d="M573.40 586.50H680.60V1009.30H573.40ZM573.40 1009.30v4.5M573.40 586.50v-4.5M581.06 1009.30v2.4M581.06 586.50v-2.4M588.71 1009.30v2.4M588.71 586.50v-2.4M596.37 1009.30v2.4M596.37 586.50v-2.4M604.03 1009.30v2.4M604.03 586.50v-2.4M611.69 1009.30v4.5M611.69 586.50v-4.5M619.34 1009.30v2.4M619.34 586.50v-2.4M627.00 1009.30v2.4M627.00 586.50v-2.4M634.66 1009.30v2.4M634.66 586.50v-2.4M642.31 1009.30v2.4M642.31 586.50v-2.4M649.97 1009.30v4.5M649.97 586.50v-4.5M657.63 1009.30v2.4M657.63 586.50v-2.4M665.29 1009.30v2.4M665.29 586.50v-2.4M672.94 1009.30v2.4M672.94 586.50v-2.4M680.60 1009.30v2.4M680.60 586.50v-2.4M573.40 1009.30h-2.4M680.60 1009.30h2.4M573.40 999.90h-2.4M680.60 999.90h2.4M573.40 990.51h-4.5M680.60 990.51h4.5M573.40 981.11h-2.4M680.60 981.11h2.4M573.40 971.72h-2.4M680.60 971.72h2.4M573.40 962.32h-2.4M680.60 962.32h2.4M573.40 952.93h-4.5M680.60 952.93h4.5M573.40 943.53h-2.4M680.60 943.53h2.4M573.40 934.14h-2.4M680.60 934.14h2.4M573.40 924.74h-2.4M680.60 924.74h2.4M573.40 915.34h-4.5M680.60 915.34h4.5M573.40 905.95h-2.4M680.60 905.95h2.4M573.40 896.55h-2.4M680.60 896.55h2.4M573.40 887.16h-2.4M680.60 887.16h2.4M573.40 877.76h-4.5M680.60 877.76h4.5M573.40 868.37h-2.4M680.60 868.37h2.4M573.40 858.97h-2.4M680.60 858.97h2.4M573.40 849.58h-2.4M680.60 849.58h2.4M573.40 840.18h-4.5M680.60 840.18h4.5M573.40 830.78h-2.4M680.60 830.78h2.4M573.40 821.39h-2.4M680.60 821.39h2.4M573.40 811.99h-2.4M680.60 811.99h2.4M573.40 802.60h-4.5M680.60 802.60h4.5M573.40 793.20h-2.4M680.60 793.20h2.4M573.40 783.81h-2.4M680.60 783.81h2.4M573.40 774.41h-2.4M680.60 774.41h2.4M573.40 765.02h-4.5M680.60 765.02h4.5M573.40 755.62h-2.4M680.60 755.62h2.4M573.40 746.22h-2.4M680.60 746.22h2.4M573.40 736.83h-2.4M680.60 736.83h2.4M573.40 727.43h-4.5M680.60 727.43h4.5M573.40 718.04h-2.4M680.60 718.04h2.4M573.40 708.64h-2.4M680.60 708.64h2.4M573.40 699.25h-2.4M680.60 699.25h2.4M573.40 689.85h-4.5M680.60 689.85h4.5M573.40 680.46h-2.4M680.60 680.46h2.4M573.40 671.06h-2.4M680.60 671.06h2.4M573.40 661.66h-2.4M680.60 661.66h2.4M573.40 652.27h-4.5M680.60 652.27h4.5M573.40 642.87h-2.4M680.60 642.87h2.4M573.40 633.48h-2.4M680.60 633.48h2.4M573.40 624.08h-2.4M680.60 624.08h2.4M573.40 614.69h-4.5M680.60 614.69h4.5M573.40 605.29h-2.4M680.60 605.29h2.4M573.40 595.90h-2.4M680.60 595.90h2.4M573.40 586.50h-2.4M680.60 586.50h2.4" stroke="#555" stroke-width="0.9" fill="none"/>
<text x="573.40" y="1027.60" text-anchor="middle" class="tk">0</text>
<text x="611.69" y="1027.60" text-anchor="middle" class="tk">5</text>
<text x="649.97" y="1027.60" text-anchor="middle" class="tk">10</text>
<text x="566.00" y="994.51" text-anchor="end" class="tk">24</text>
<text x="566.00" y="956.93" text-anchor="end" class="tk">26</text>
<text x="566.00" y="919.34" text-anchor="end" class="tk">28</text>
<text x="566.00" y="881.76" text-anchor="end" class="tk">30</text>
<text x="566.00" y="844.18" text-anchor="end" class="tk">32</text>
<text x="566.00" y="806.60" text-anchor="end" class="tk">34</text>
<text x="566.00" y="769.02" text-anchor="end" class="tk">36</text>
<text x="566.00" y="731.43" text-anchor="end" class="tk">38</text>
<text x="566.00" y="693.85" text-anchor="end" class="tk">40</text>
<text x="566.00" y="656.27" text-anchor="end" class="tk">42</text>
<text x="566.00" y="618.69" text-anchor="end" class="tk">44</text>
<rect x="64.3" y="447.3" width="58.2" height="23.9" rx="1" fill="#fff" stroke="#444" stroke-width="0.8"/>
<circle cx="69.9" cy="453.6" r="1.2" fill="none" stroke="#f00" stroke-width="0.6"/>
<text x="75.8" y="456.6" class="lg" style="font-size:10.00px"><tspan font-style="italic" letter-spacing="0.9">TII</tspan><tspan style="font-size:9.1px">(2500y)</tspan></text>
<circle cx="69.9" cy="464.4" r="1.2" fill="none" stroke="#00f" stroke-width="0.6"/>
<text x="75.8" y="467.4" class="lg" style="font-size:10.00px"><tspan font-style="italic" letter-spacing="0.9">TII</tspan><tspan style="font-size:9.1px">(500y)</tspan></text>
<rect x="185.3" y="447.3" width="76.4" height="23.9" rx="1" fill="#fff" stroke="#444" stroke-width="0.8"/>
<circle cx="191.2" cy="453.6" r="1.2" fill="none" stroke="#f00" stroke-width="0.6"/>
<text x="196.4" y="456.6" class="lg" style="font-size:9.51px"><tspan font-style="italic">η</tspan><tspan class="sb" dy="1.6">max</tspan><tspan dy="-1.6">(2500y) (m)</tspan></text>
<circle cx="191.2" cy="464.4" r="1.2" fill="none" stroke="#00f" stroke-width="0.6"/>
<text x="196.4" y="467.4" class="lg" style="font-size:9.51px"><tspan font-style="italic">η</tspan><tspan class="sb" dy="1.6">max</tspan><tspan dy="-1.6">(500y) (m)</tspan></text>
<rect x="314.1" y="447.3" width="85.7" height="23.9" rx="1" fill="#fff" stroke="#444" stroke-width="0.8"/>
<circle cx="320.7" cy="453.6" r="1.2" fill="none" stroke="#f00" stroke-width="0.6"/>
<text x="326.8" y="456.6" class="lg" style="font-size:9.79px"><tspan font-style="italic">u</tspan><tspan class="sb" dy="1.6">max</tspan><tspan dy="-1.6">(2500y) (m/s)</tspan></text>
<circle cx="320.7" cy="464.4" r="1.2" fill="none" stroke="#00f" stroke-width="0.6"/>
<text x="326.8" y="467.4" class="lg" style="font-size:9.79px"><tspan font-style="italic">u</tspan><tspan class="sb" dy="1.6">max</tspan><tspan dy="-1.6">(500y) (m/s)</tspan></text>
<rect x="443.4" y="447.3" width="94.7" height="23.9" rx="1" fill="#fff" stroke="#444" stroke-width="0.8"/>
<circle cx="448.9" cy="453.6" r="1.2" fill="none" stroke="#f00" stroke-width="0.6"/>
<text x="454.9" y="456.6" class="lg" style="font-size:9.64px"><tspan font-style="italic">F</tspan><tspan class="sb" dy="1.6">max</tspan><tspan dy="-1.6">(2500y) (KN/m)</tspan></text>
<circle cx="448.9" cy="464.4" r="1.2" fill="none" stroke="#00f" stroke-width="0.6"/>
<text x="454.9" y="467.4" class="lg" style="font-size:9.64px"><tspan font-style="italic">F</tspan><tspan class="sb" dy="1.6">max</tspan><tspan dy="-1.6">(500y) (KN/m)</tspan></text>
<rect x="612.9" y="447.3" width="64.7" height="23.9" rx="1" fill="#fff" stroke="#444" stroke-width="0.8"/>
<circle cx="618.8" cy="453.6" r="1.2" fill="none" stroke="#f00" stroke-width="0.6"/>
<text x="624.9" y="456.6" class="lg" style="font-size:9.77px"><tspan font-style="italic">t</tspan><tspan class="sb" dy="1.6">s</tspan><tspan dy="-1.6">(2500y) (h)</tspan></text>
<circle cx="618.8" cy="464.4" r="1.2" fill="none" stroke="#00f" stroke-width="0.6"/>
<text x="624.9" y="467.4" class="lg" style="font-size:9.77px"><tspan font-style="italic">t</tspan><tspan class="sb" dy="1.6">s</tspan><tspan dy="-1.6">(500y) (h)</tspan></text>
<rect x="64.3" y="981.6" width="58.2" height="23.9" rx="1" fill="#fff" stroke="#444" stroke-width="0.8"/>
<circle cx="69.9" cy="987.9" r="1.2" fill="none" stroke="#f00" stroke-width="0.6"/>
<text x="75.8" y="990.9" class="lg" style="font-size:10.00px"><tspan font-style="italic" letter-spacing="0.9">TII</tspan><tspan style="font-size:9.1px">(2500y)</tspan></text>
<circle cx="69.9" cy="998.7" r="1.2" fill="none" stroke="#00f" stroke-width="0.6"/>
<text x="75.8" y="1001.7" class="lg" style="font-size:10.00px"><tspan font-style="italic" letter-spacing="0.9">TII</tspan><tspan style="font-size:9.1px">(500y)</tspan></text>
<rect x="185.3" y="981.6" width="76.4" height="23.9" rx="1" fill="#fff" stroke="#444" stroke-width="0.8"/>
<circle cx="191.2" cy="987.9" r="1.2" fill="none" stroke="#f00" stroke-width="0.6"/>
<text x="196.4" y="990.9" class="lg" style="font-size:9.51px"><tspan font-style="italic">η</tspan><tspan class="sb" dy="1.6">max</tspan><tspan dy="-1.6">(2500y) (m)</tspan></text>
<circle cx="191.2" cy="998.7" r="1.2" fill="none" stroke="#00f" stroke-width="0.6"/>
<text x="196.4" y="1001.7" class="lg" style="font-size:9.51px"><tspan font-style="italic">η</tspan><tspan class="sb" dy="1.6">max</tspan><tspan dy="-1.6">(500y) (m)</tspan></text>
<rect x="314.1" y="981.6" width="85.7" height="23.9" rx="1" fill="#fff" stroke="#444" stroke-width="0.8"/>
<circle cx="320.7" cy="987.9" r="1.2" fill="none" stroke="#f00" stroke-width="0.6"/>
<text x="326.8" y="990.9" class="lg" style="font-size:9.79px"><tspan font-style="italic">u</tspan><tspan class="sb" dy="1.6">max</tspan><tspan dy="-1.6">(2500y) (m/s)</tspan></text>
<circle cx="320.7" cy="998.7" r="1.2" fill="none" stroke="#00f" stroke-width="0.6"/>
<text x="326.8" y="1001.7" class="lg" style="font-size:9.79px"><tspan font-style="italic">u</tspan><tspan class="sb" dy="1.6">max</tspan><tspan dy="-1.6">(500y) (m/s)</tspan></text>
<rect x="443.4" y="981.6" width="94.7" height="23.9" rx="1" fill="#fff" stroke="#444" stroke-width="0.8"/>
<circle cx="448.9" cy="987.9" r="1.2" fill="none" stroke="#f00" stroke-width="0.6"/>
<text x="454.9" y="990.9" class="lg" style="font-size:9.64px"><tspan font-style="italic">F</tspan><tspan class="sb" dy="1.6">max</tspan><tspan dy="-1.6">(2500y) (KN/m)</tspan></text>
<circle cx="448.9" cy="998.7" r="1.2" fill="none" stroke="#00f" stroke-width="0.6"/>
<text x="454.9" y="1001.7" class="lg" style="font-size:9.64px"><tspan font-style="italic">F</tspan><tspan class="sb" dy="1.6">max</tspan><tspan dy="-1.6">(500y) (KN/m)</tspan></text>
<rect x="612.9" y="981.6" width="64.7" height="23.9" rx="1" fill="#fff" stroke="#444" stroke-width="0.8"/>
<circle cx="618.8" cy="987.9" r="1.2" fill="none" stroke="#f00" stroke-width="0.6"/>
<text x="624.9" y="990.9" class="lg" style="font-size:9.77px"><tspan font-style="italic">t</tspan><tspan class="sb" dy="1.6">s</tspan><tspan dy="-1.6">(2500y) (h)</tspan></text>
<circle cx="618.8" cy="998.7" r="1.2" fill="none" stroke="#00f" stroke-width="0.6"/>
<text x="624.9" y="1001.7" class="lg" style="font-size:9.77px"><tspan font-style="italic">t</tspan><tspan class="sb" dy="1.6">s</tspan><tspan dy="-1.6">(500y) (h)</tspan></text>
<text x="116.0" y="126.3" class="an">(1)</text>
<text x="116.9" y="142.9" class="an">(2)</text>
<text x="116.9" y="158.3" class="an">(3)</text>
<text x="115.3" y="167.9" class="an">(4)</text>
<text x="114.3" y="177.1" class="an">(5)</text>
<text x="114.1" y="188.4" class="an">(6)</text>
<text x="113.6" y="218.9" class="an">(7)</text>
<text x="116.7" y="232.9" class="an">(8)</text>
<text x="118.0" y="245.2" class="an">(9)</text>
<text x="108.8" y="261.4" class="an">(10)</text>
<text x="109.7" y="274.1" class="an">(11)</text>
<text x="101.3" y="353.9" class="an">(12)</text>
<text x="104.2" y="366.7" class="an">(13)</text>
<text x="87.5" y="437.3" class="an">(14)</text>
<text x="114.4" y="666.3" class="an">(1)</text>
<text x="106.0" y="676.7" class="an">(2)</text>
<text x="109.4" y="692.3" class="an">(3)</text>
<text x="98.4" y="704.9" class="an">(4)</text>
<text x="92.0" y="710.7" class="an">(5)</text>
<text x="93.0" y="721.3" class="an">(6)</text>
<text x="101.0" y="753.7" class="an">(7)</text>
<text x="94.0" y="767.3" class="an">(8)</text>
<text x="100.0" y="778.3" class="an">(9)</text>
<text x="84.0" y="795.3" class="an">(10)</text>
<text x="97.6" y="808.3" class="an">(11)</text>
<text x="95.0" y="887.9" class="an">(12)</text>
<text x="101.0" y="901.3" class="an">(13)</text>
<text x="67.0" y="969.3" class="an">(14)</text>
<text x="346.7" y="10.8" text-anchor="middle" class="ttl">(a)</text>
<text x="346.7" y="544.9" text-anchor="middle" class="ttl">(b)</text>
</svg></body></html>
